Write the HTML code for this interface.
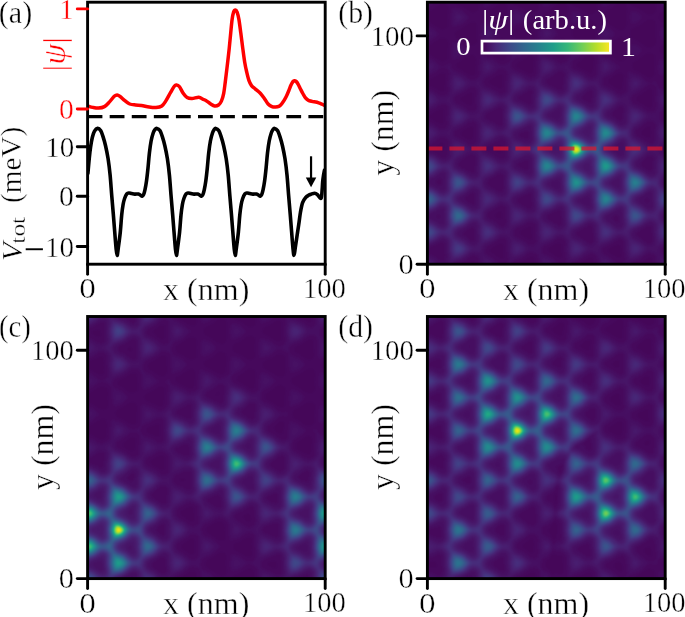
<!DOCTYPE html><html><head><meta charset="utf-8"><style>html,body{margin:0;padding:0;background:#fff;overflow:hidden}svg{display:block}text{font-family:'Liberation Serif',serif}</style></head><body>
<svg width="685" height="617" viewBox="0 0 685 617">
<defs><filter id="vf" x="0" y="0" width="1" height="1" color-interpolation-filters="sRGB"><feGaussianBlur stdDeviation="1.0"/><feComponentTransfer><feFuncR type="table" tableValues="0.2670 0.2770 0.2823 0.2829 0.2788 0.2706 0.2590 0.2450 0.2297 0.2143 0.1994 0.1856 0.1727 0.1607 0.1490 0.1378 0.1276 0.1206 0.1206 0.1323 0.1579 0.1966 0.2461 0.3041 0.3692 0.4401 0.5160 0.5958 0.6785 0.7624 0.8456 0.9261 0.9932"/><feFuncG type="table" tableValues="0.0049 0.0503 0.0950 0.1359 0.1755 0.2141 0.2515 0.2877 0.3224 0.3556 0.3876 0.4186 0.4488 0.4785 0.5081 0.5375 0.5669 0.5964 0.6258 0.6550 0.6838 0.7118 0.7389 0.7647 0.7889 0.8111 0.8312 0.8487 0.8637 0.8764 0.8873 0.8973 0.9062"/><feFuncB type="table" tableValues="0.3294 0.3757 0.4173 0.4534 0.4834 0.5071 0.5247 0.5373 0.5457 0.5512 0.5546 0.5568 0.5579 0.5581 0.5573 0.5549 0.5506 0.5436 0.5335 0.5197 0.5017 0.4792 0.4520 0.4199 0.3829 0.3410 0.2943 0.2433 0.1895 0.1371 0.0997 0.1041 0.1439"/></feComponentTransfer></filter>
<clipPath id="clb"><rect x="427.4" y="2.2" width="237.8" height="262.0"/></clipPath>
<clipPath id="clc"><rect x="87.6" y="316.5" width="237.6" height="262.1"/></clipPath>
<clipPath id="cld"><rect x="427.4" y="316.5" width="237.8" height="262.1"/></clipPath>
</defs>
<g clip-path="url(#clb)"><g filter="url(#vf)"><rect x="419.4" y="-5.8" width="253.8" height="278.0" fill="rgb(1,1,1)"/>
<g transform="translate(427.4,2.2) scale(0.5)">
<path fill-rule="evenodd" fill="rgb(4,4,4)" d="M-14 -14l506 0 0 554-506 0z"/>
<path fill-rule="evenodd" fill="rgb(6,6,6)" d="M-14 -14l34 0 4 3 6 2 6-1 7-4 12 0-3 6 1 6 1 3 4 3 14 5 12 9 6 2 8-2 3-2 1-4 0-14 1-12 35 0 6 5 6 1 6-2 7-4 9 0-2 2-1 6 1 6 3 4 17 7 12 8 6 3 6-1 3-3 3-2 1-6-1-16 1-8 35 0 6 4 6 3 2 0 6-3 6-4 7 0-2 2-2 6 1 6 2 4 4 3 14 5 12 9 6 3 4 0 5-2 4-4 2-2 0-6-1-12 1-12 35 0 8 6 6 1 8-4 4-3 7 0-2 2-2 6 1 6 2 4 3 2 17 8 12 9 6 2 4 0 5-3 3-4 1-2 0-6-1-12 1-12 35 0 0 21-8 7-12 5-5 3-2 2-1 6 2 6 2 3 16 7 8 6 0 22-8 6-15 7-3 3-1 4 1 6 2 2 16 7 8 7 0 27-8 6-10 5-3 2-1 4 2 6 3 2 11 6 6 4 0 35-15 9-2 4 0 2 3 4 14 9 0 41-12 10-1 2 2 4 11 7 0 48-3 5 1 2 2 3 0 123-11 6-2 4 1 2 12 10 0 32-40 0-2-12-1-12-1-4-4-1-2 1-12 7-16 7-2 2 0 6 1 4 4 2-23 0-6-2-4 0-5 2-45 0-3-26-3-3-4 0-27 15-3 2 0 6 1 4 4 2-23 0-8-2-7 2-45 0-2-12 0-14-2-4-4-1-4 1-14 8-10 4-4 4-1 2 0 6 1 4 4 2-21 0-9-3-2 1-5 2-45 0-4-20 0-2-4-2-2 1-24 11-2 4 0 2 1 4 3 2-80 0zM28 3l-16 11-17 8-2 2 0 6 1 4 4 3 14 7 12 8 6 2 6-2 4-4 0-6-1-14 2-16-1-4-4-3-2-2zM84 42l-12 9-14 7-2 2-1 4 1 2 1 4 3 2 12 5 12 8 6 1 6-3 3-5-1-14 1-16-2-6-3-2-4 0zM144 3l-12 10-12 5-4 4-2 2 0 6 1 4 3 2 14 7 12 9 6 1 6-2 3-5-1-16 2-18-2-6-4-3-4-1zM204 39l-14 10-13 5-3 3-1 7 1 5 4 2 12 5 12 9 6 1 6-3 2-5 0-18 1-12-1-4-2-4-4-2zM262 3l-12 10-12 6-5 3-2 2 0 6 2 4 3 2 16 8 12 9 6 1 6-3 3-5-1-16 2-14 0-6-4-6-6-3-2 0zM322 36l-16 11-9 5-5 2-2 4 0 6 2 4 2 3 16 7 12 8 6 1 6-4 2-5-1-14 2-18-1-4-2-2-4-3-2-1zM382 2l-16 12-12 5-4 3-2 2-1 6 1 4 4 3 14 7 16 11 6 1 6-2 3-6 1-6-1-14 2-16-2-6-3-3-6-2zM442 35l-4 2-12 9-17 8-2 4-1 6 1 6 3 2 16 8 12 9 6 1 8-2 3-4 2-2 0-6-1-12 1-18-2-6-4-4-3-1zM28 72l-16 10-12 6-2 2-3 4 0 2 1 4 4 2 12 6 12 8 6 2 6-2 4-4 0-18 2-12-2-6-4-3-2-1zM84 107l-12 8-10 6-3 3-1 2 1 4 3 2 10 5 12 8 6 1 4-1 2-3 1-28-1-3-2-4-4-1-2 0zM150 72l-6 2-12 9-12 6-2 1-1 4-1 2 2 3 2 3 12 5 11 7 5 2 2 0 5-2 2-2 1-4 0-14 1-12-2-6zM202 108l-12 9-8 3-3 4-1 2 2 4 5 2 18 10 5 0 3-4 2-24-1-2-2-4-2-1-4 0zM268 72l-4 1-12 9-14 8-2 4 1 2 3 4 10 4 12 8 6 2 5-2 2-4 2-26 0-4-2-2-4-4zM318 108l-8 8-8 4-3 3 0 3 3 4 20 10 2 1 4 1 2-4 3-24 0-2-3-4-2-2-4 0zM382 71l-12 10-16 7-2 4-1 4 2 4 4 2 13 6 12 9 6 1 6-3 2-3 0-16 2-18-2-3-6-4-6-1zM441 102l-3 1-12 10-14 7-2 6 2 6 2 3 12 5 12 8 6 3 4-1 2-1 4-5-1-14 2-18-1-5-4-3-2-2zM30 141l-2 1-12 7-12 6-4 5 0 3 3 3 13 5 12 7 2 0 4-1 0-3 2-24-1-6-1-1zM84 182l-17 10 0 4 3 2 12 7 6 1 1-2 1-2 0-16 0-2-2-3zM148 144l-4 1-18 11-2 4 1 2 17 9 2 1 4 0 2-6 1-16-1-3zM202 450l-13 6-3 4 0 2 3 4 13 7 2 2 4 0 1-7-1-14 0-4-4-1zM258 483l-14 8-2 1-1 4 2 2 19 12 2 1 4 0 1-3 0-4-1-19-4-3zM384 141l-5 3-16 12-1 4 2 2 20 13 4 0 1-3 3-24-2-4-2-2zM444 174l-5 3-19 13-2 2 1 4 3 2 20 12 2 1 4-1 1-2 2-24-1-6-2-3zM24 215l-18 11-2 2 2 3 18 11 4 1 2 0 2-5 0-22-2-2-2 0zM88 249l-4 1-14 8-3 4 1 2 4 4 10 6 6 1 2-2 1-5 0-16zM144 285l-7 3-4 4 0 2 3 4 8 4 4-2 0-8 0-6zM378 486l-13 6-3 4 1 3 4 3 14 8 3 1 3-3 0-4-2-14-1-4-2-1zM441 249l-9 7-3 2-1 4 7 6 7 3 3-1 1-14-1-6-1-2zM28 281l-4 2-6 5 0 4 2 2 8 4 2-2 3-10-1-4-2-1zM142 420l-6 4-1 2 1 4 8 4 4-2 0-12-4-2zM145 483l-16 9-3 4 1 2 17 13 4 2 2-1 2-2 1-2-2-22-1-2-2-2z"/>
<path fill-rule="evenodd" fill="rgb(9,9,9)" d="M-6 -12l2-2 8 0 2 1 7 5 3 2 1 4-7 7-6 3-6 1-4-2-1-7-1-6zM113 -14l8 0 5 2 5 4 3 2 1 4-5 6-4 2-6 3-6 1-2-5-2-7 1-6zM231 -14l8 0 5 1 5 5 3 2 1 4-5 6-4 3-12 3-3-6-1-6 1-6zM348 -12l2-2 8 0 2 1 7 5 3 2 1 4-7 7-6 3-6 1-4-2-1-7-1-6zM467 -14l8 0 5 2 5 4 3 2 1 4-5 6-4 2-6 2-6 1-2-5-2-6 1-6zM50 12l2-1 12 2 6 3 7 6 8 8-9 10-6 4-18 6-2-2-4-18 0-6zM170 16l2-2 8 1 6 3 6 4 6 6 1 2-7 8-6 4-14 5-3-1-1-3-2-13 1-6zM290 18l2-1 2 1 10 3 4 3 4 7-5 5-3 3-12 4-3-3-2-10 1-6zM408 18l4 0 8 2 6 4 4 6-5 6-5 4-6 2-6 0-3-12 1-6zM108 42l16 4 6 3 6 5 8 10-14 13-16 5-6 3 0-1-3-20zM226 46l2-3 12 3 6 3 8 5 8 10-10 9-6 4-17 7-3 4-1 6 1 6 3 2 5 4 12 4 16 10 2 2 6 0 9-4 3-4 3-6-1-14 3-12 1-3 10 2 8 4 12 11-12 12-14 8-3 4 0 4 1 6 4 4 16 6 14 10 7 0 5-2 2-4 1-2 0-16 3-14 0-7 24 9 12 10 9 6-5 2-16 13-12 6-2 3-1 2 0 6 2 4 5 2 12 6 12 9 2 1 7 0 5-4 2-2 0-18 3-16 0-6 1-1 6 4 16 5 6 4 8 8 6 3 6 0 6-3 2 2 3 8 3 4 6 2 14 6 8 7 0 17-8 7-16 7-2 4-1 4 1 6 2 4 4 2 12 5 8 6 0 25-6 5-14 8-3 5 0 2 2 7 15 7 6 5 0 30-14 11-2 4 0 2 2 4 14 8 0 44-12 8-3 2 0 4 2 2 13 10 0 36-6 4-14 7-3 3-1 4 0 4 4 4 12 6 8 8 0 16-6 6-26 0-3-12 0-18-2-2-3-4-8-2-6 2-8 7-6 4-16 5-2 3-5 9-1 1-10-3-6-1-6 3-10 8-26 0-3-12 1-14-1-4-2-3-3-3-6-2-6 2-16 10-14 6-4 2-2 4-4 7-14-4-6 2-12 9-26 0-3-12 1-14-1-6-2-4-5-2-6-2-6 2-12 9-15 5-5 4-3 2-5 8-12-3-6 3-12 10-26 0-3-12-1-15-2-4-6-3-6 1-12 9-18 8-4 4-1 4-1 8-4 0-12-5-6-1-6 2-6 4-32 0 0-382 3 8 5 4 18 7 15 10 7 0 6-3 2-6-1-16 3-18-1-6-3-4-4-3-6-1-5 2-9 8-7 4-11 4-6 3-2-1-3-20 0-6 5-14 12 2 6 2 5 4 9 8 6 3 6-2 10-5 1 2 2 8 3 4 5 2 13 5 14 10 6 2 4 0 6-4 2-3 2-4-1-14 3-18-1-10 1-1 6 6 18 6 14 11 4 1 6 0 8-5 5-6 0-6-1-14 3-12 3-3 14 5 16 12-4 3-11 9-13 6-4 4-2 5 1 7 2 2 3 4 16 6 14 8 6 0 5-2 3-4 0-2 0-16 3-14-1-8-4-4-5-4 12-9 1-3 1-6-2-12 0-6zM264 137l-2 2-12 9-11 6-2 2 0 4 2 2 5 4 8 3 10 6 6 1 2-2 1-2 3-28-1-2-3-4-2-1zM324 176l-6 4-9 10 1 2 3 4 11 5 4-1 0-2 2-9 1-9-1-2-2-2zM388 207l-4 1-2 2-13 12 0 4 3 2 10 7 6 2 2-5 3-18-3-5zM442 165l-16 12-14 8-3 5-1 4 2 4 2 4 14 6 16 11 6 1 6-2 3-4 1-6-1-16 2-12 0-6-2-6-7-4-2-1zM28 204l-16 10-14 6-5 2-2 6 1 4 2 2 4 3 14 6 12 9 6 2 6-2 4-6-1-18 2-14-1-6-4-3-2-2zM85 171l-13 9-14 7-4 5 0 4 1 2 3 4 14 6 12 9 6 1 4-1 2-2 2-5-1-14 2-18-3-5-2-2-4-1zM144 134l-14 11-12 6-4 2-2 7 2 6 4 2 12 5 12 8 6 2 6-2 2-4 1-5 0-12 3-16-2-6-4-3-4-2zM202 177l-18 11-2 2-1 2 3 4 18 8 2 1 4-3 2-22-2-4-4 0zM258 417l-18 9-1 4 1 2 4 4 18 10 2 1 4-2 1-3-2-22-3-4zM322 447l-22 12-3 3 1 4 4 2 8 5 12 8 2 2 4 0 3-3 2-6-3-22-2-5-4-1zM376 426l-5 4-1 2 6 6 6 3 1-3 0-2-1-8-4-2zM444 237l-6 3-8 7-12 8-2 3 0 4 1 2 3 4 10 5 12 9 6 1 5-3 1-4 0-14 2-16-2-6-5-2zM28 270l-16 11-9 5-3 2 0 4 1 2 5 4 10 4 12 8 6 1 3-1 3-4 2-26-2-6-4-3-6-2zM84 240l-12 9-15 7-2 2-1 6 2 4 3 2 13 6 12 9 6 1 6-4 3-6-1-14 1-16-3-5-2-2-4 0zM144 210l-25 12-2 3-1 3 0 4 3 2 25 13 4-1 2-2 0-4 0-26-2-3zM196 258l-11 4-2 2 1 4 14 6 4-2 0-2 0-8-2-4zM205 381l-21 9-4 4-1 2 1 4 4 2 20 12 4-1 1-1 1-6-2-22 0-1zM258 474l-8 6-16 7-3 3-1 2 0 6 1 4 3 2 16 7 12 10 6 2 2-1 5-2 3-6-3-18 1-16-2-4-6-4-4 0zM382 474l-12 8-17 8-2 2-1 6 1 3 3 3 12 7 12 9 7 3 3 0 2-2 4-3 2-4-3-18 0-12 0-4-3-4-2-2zM442 308l-12 10-3 4 0 2 2 4 13 8 2 1 4 0 2-7 2-18-2-3-2-2-4 0zM22 354l-5 4 0 2 3 4 4 1 4-1 0-10 0-1-4 0zM84 305l-19 13-2 4-1 2 2 4 2 1 24 13 4-2 3-28-1-2-3-4-3-2-2 0zM142 276l-10 6-13 6-2 4-1 2 2 4 4 2 10 5 12 8 6 1 4-2 3-2 0-4-1-26-2-4-4-2-2 0zM198 315l-16 7-2 2 0 4 5 2 8 4 5 1 3-1 2-6 0-10-1-2zM202 440l-10 6-15 7-3 4 0 6 0 3 4 3 14 7 12 9 6 1 4-2 3-4 1-2-2-18 1-12-3-6-4-2-2-1zM438 393l-2 3 2 4 4 0 0-6zM22 426l-2 0-1 4 3 1 2-1 0-4zM28 480l-26 12-2 3 0 3 2 4 14 7 8 7 4 1 2 0 4-1 1-2 1-6-2-25-4-3zM90 380l-2 2-8 6-3 2-1 4 2 2 4 4 8 5 4-1 0-2 1-14-1-6zM148 342l-4 1-19 11-4 4-1 2 0 4 2 2 20 12 6 2 3-2 1-6 0-12 0-12-2-4zM442 447l-22 13-3 3 1 3 3 2 9 6 8 7 6 2 4-1 2-4 1-6-3-24-4-1zM88 450l-15 10-1 2 1 4 4 2 11 9 2 1 4-1 1-3-1-21-2-3-2 0zM144 407l-21 13-3 4 0 2 1 4 2 2 13 7 11 9 3 0 4 0 2-3 2-3-1-16 0-12-1-3-2-3-6-2zM150 471l-6 3-12 8-12 6-2 2-2 6 1 6 2 2 13 8 12 10 6 3 4-1 3-2 3-2 2-6-3-18 0-18-3-5zM-7 48l1-1 10 1 6 3 6 4 7 9-9 8-4 3-6 3-10 2-1-2-1-3-3-12 1-5zM346 48l2-1 10 1 6 3 8 7 4 6-6 7-7 4-15 5-2-2-3-14 1-6zM467 52l1-2 4 1 8 3 5 4 4 6-5 6-4 2-6 3-6 1-2-6-2-6 1-6zM51 82l0-3 15 4 8 5 9 8-13 12-18 8-2-2-2-18zM408 84l4 0 8 2 6 4 4 6-5 6-4 4-13 4-1-4-2-10 1-6zM101 96l1-2 1 2-1 3zM464 114l2-1 2 0 12 3 7 4 5 8 0 3-1 1-7 8-6 3-12 4-3-3-2-14 1-6zM393 130l3-2 2 2-2 1zM399 136l1-2 0 2z"/>
<path fill-rule="evenodd" fill="rgb(11,11,11)" d="M54 18l4-1 8 3 7 4 3 6-5 6-5 4-6 2-6 1-2-7-1-6 1-6zM175 22l4 0 5 1 5 5 1 2-6 7-6 2-4-1-2-8 1-6zM113 52l1-2 4 0 8 3 6 5 3 6-4 6-5 3-6 2-6 1-2-4-2-8 1-6zM231 52l3-2 10 3 6 5 3 6-4 6-5 3-12 3-3-6-1-6 1-6zM-1 54l7 2 6 4 1 4-7 6-6 2-2-1-1-1-2-6 1-4 2-5zM353 54l5 1 2 1 5 4 2 4-7 6-6 2-2-1-3-7 1-6 2-3zM57 88l7 0 4 2 3 4 1 2-6 7-8 2-3-3-1-8zM174 88l4-1 6 2 5 5 1 2-6 7-10 3-2-10zM293 88l5-1 6 3 3 4 1 2-5 6-9 4-3 0-1-10 1-6zM226 112l3-3 15 4 6 3 8 8 6 4 6 0 10-4 2 2 4 6 3 4 17 6 6 4 10 7 6 3 8-3 5-3 2-2 2-6-2-16 4-12 1-1 6 1 10 3 7 7 4 6-9 9-6 4-8 3-5 4-1 4 0 6 2 7 6 4 16 7 12 9 2 2 6 0 8-3 5-6 1-6-2-14 5-12 1-2 4 1 11 3 7 6 4 6-5 6-5 6-16 6-4 4-1 8 3 9 2 3 4 2 14 7 16 12 6 2 8-2 1 1 1 6 2 2 0 3-2-3-4-3-4-1-6 1-6 3-12 11-12 7-2 6 0 6 2 5 16 8 12 10 6 1 7-2 3-4 1-2 1-3-2-19 3-12 0-6 1-2 4 2 18 7 8 8 0 13-8 8-16 6-3 4-2 6 1 6 4 6 15 7 9 7 0 20-6 5-12 7-2 4-1 4 0 3 3 5 18 10 0 35-6 5-12 6-2 3-1 5 1 2 2 3 10 5 8 6 0 27-8 7-17 6-4 6-1 6 2 6 2 4 18 8 4 4 4 6-3 6-7 6-7 2-9 0-4-12 1-14-1-6-1-4-4-2-9-4-6 0-4 1-9 9-9 4-18 5 0-1-5-18 0-20-2-4-4-2-7-2-6 1-12 9-16 6-5 6 0 10 3 6 16 6 6 5 5 7-1 2-8 8-6 3-3 1-9 0-4-12 1-14-1-6-4-6-10-4-6 0-2 1-12 9-6 4-18 5-2-1-1-2-4-18 1-19-4-5-8-5-6 1-16 10-16 6-4 2-2 4-2 5-2 1-6-3 6-5 3-8-3-18 1-18-2-2-2-4-5-2-4-2-6 1-12 9-15 6-5 4-1 2 0 10 1 2 3 4 17 7 12 11 5 2-19 16-8 3-12 2-4-11-1-6 2-16-1-6-2-2-2-3-6-2-6 0-16 11-18 9-1 3-2 6 0 6 1 2 2 4 16 7 9 11-4 6-9 7-5 1-10 0-4-12 1-14 0-4-2-2-3-4-9-3-6 2-16 11-18 7-4 5-4 6-16-4-6 2-13 10-21 0-4-12 2-18-2-5 0-222 2-7-2-12 1-8 3-12 2-3 18 5 6 4 8 8 6 2 6-1 5-3 3-4 1-6-2-18 2-18 0-2-3-6-6-4-2-1-6 1-18 13-18 5-2-2-2-10-2-8 1-6 4-12 1-2 2 0 12 3 6 3 12 10 6 2 4 0 6-3 5-5 2-2 0-6-2-12 0-6 4-16 3-2 12 3 6 2 18 14 6 1 8-5 4 0 1 9 5 4 18 7 14 10 6 0 7-3 3-4 1-2 0-18 5-23 20 7 16 10 2 1 6 0 9-5 4-6-1-18zM262 132l-12 11-16 7-2 4-1 6 1 2 3 4 17 7 12 7 4 1 6-3 1-4 1-14 3-18-3-7-6-4-2 0zM324 170l-14 12-8 4-2 4 0 2 3 4 21 12 4 1 2-1 3-4 4-26-1-4-3-2-5-2zM388 201l-6 3-10 8-10 8-2 3 0 3 3 2 13 8 8 6 4 2 2 0 4-2 2-4 0-10 2-18-1-2-2-4-5-2zM442 303l-21 15-2 4-1 2 2 4 23 14 5 2 2-1 4-3 3-30-1-4-6-4-6-1zM28 264l-16 12-15 6-3 4-1 6 1 2 4 4 18 8 12 8 6 2 7-4 3-2 1-4 0-12 2-18-2-6-5-4-6-3zM84 165l-12 11-6 3-12 4-2 2-3 5-1 6 2 6 3 2 17 7 14 11 6 2 5-2 4-2 3-6-1-18 2-22-2-6-5-4-6-1zM148 204l-4 1-14 9-15 6-3 2-2 6 1 6 3 4 16 6 14 9 4 0 2-1 4-4 0-4-1-16 1-18-1-2zM202 171l-12 9-12 6-3 4 0 2 1 4 3 2 11 5 14 8 4 0 2-1 2-2 3-30-1-4-4-3-2-1zM262 216l-12 6-3 4 2 2 7 4 6 1 2-5 1-8-1-4zM318 390l-8 4-3 2 2 4 4 2 5 4 4 1 1-1 1-4-1-6-1-5zM324 441l-14 9-15 6-3 4-1 6 3 4 16 7 12 10 6 2 6-3 2-4 1-4-2-16-1-14-4-5-2-2zM384 282l-7 6-2 4-1 2 1 4 3 2 6 5 4 0 2-1 1-4 1-14-1-4-3-1zM444 381l-2 1-14 8-3 4-1 2 2 4 12 9 6 3 4-1 1-3 1-2-2-22-1-3zM30 342l-2 1-23 15-1 2 3 4 21 10 2 1 4-3 1-24-1-4zM88 234l-4 1-12 9-19 8-3 4-1 2-1 6 2 6 4 4 16 5 12 10 6 2 6-1 6-4 2-4 2-6-2-14 2-16-2-5-2-3-4-3-6-2zM142 270l-12 9-16 7-2 2-1 6 0 3 3 4 16 7 14 10 6 1 8-3 2-4 1-2 0-16 0-14-1-4-3-2-5-4-4-1zM202 249l-24 11-3 4 0 4 2 2 21 11 4 0 4-1 2-3 0-3-1-22-3-3zM258 357l-8 3-2 4 2 2 5 4 7 2 1-2 0-6-1-6zM382 417l-20 9-3 4 0 2 2 4 17 12 6 1 4-1 1-4 0-6-2-18-3-3zM444 441l-2 1-16 10-12 5-2 4-1 5 1 2 2 2 12 7 12 10 6 2 6-2 4-3 1-6-2-16 0-14-3-5-2-2zM28 414l-19 10-4 2 0 4 3 2 20 11 2 0 1-1 1-6-1-19-1-2zM84 299l-12 10-12 7-2 3-1 5 1 4 3 2 15 8 12 8 6 2 3-2 2-4 0-14 2-18-3-6-4-4-6-2zM144 338l-12 8-14 8-3 4 0 6 3 6 14 7 11 7 5 2 2 0 4-2 3-6-2-18 2-14-1-4-2-3-4-2-2 0zM196 309l-20 9-2 4 0 6 1 2 5 4 12 4 9 5 3 0 4-3 0-28-4-3-2-1zM262 411l-10 5-16 8-3 2-1 4 1 2 1 4 16 7 9 7 5 2 6-2 4-5 0-3-2-12-1-16-1-2-2-2-4 0zM30 474l-2 1-16 9-14 6-3 2-2 6 1 4 3 2 15 8 12 10 6 2 4-1 4-3 2-4 1-6-3-14 0-16-2-3-2-2zM90 374l-22 16-2 4 3 2 19 14 6 2 2-1 3-3 1-2 1-24-1-4-2-2-4-2zM144 402l-12 9-12 7-3 2-1 4 0 6 1 2 3 4 12 6 12 9 6 3 4-1 6-3 2-6-1-18 1-14-2-5-6-4-6-2zM202 377l-10 6-12 5-5 2-2 4 0 6 2 2 3 2 12 6 12 8 6 1 3-1 3-3 1-3-2-30-3-5-2-1zM88 444l-10 7-14 9-1 2 1 4 12 7 12 10 6 1 5-4 1-3-1-17 0-12-3-4-2-2zM111 114l3 0 12 3 6 4 8 9-10 10-6 3-12 4-2-3-3-14 1-6zM-5 118l3-1 2 0 10 3 4 4 4 6-9 8-5 3-6 1-2 0-2-1-1-5-1-6 1-6zM471 120l4 1 5 3 3 2 2 4-6 6-7 2-4-2-1-6 1-7zM465 180l3 0 12 3 6 4 6 9-4 6-4 4-6 3-12 4-2-3-3-14 1-6zM228 510l0-2 12 4 7 3 10 11-1 2-6 7-6 4-5 1-9 0-3-6-1-6 0-6z"/>
<path fill-rule="evenodd" fill="rgb(14,14,14)" d="M58 24l2 0 4 0 4 4 1 2-2 4-4 1-3 1-2-1-2-5zM117 58l1-1 2 0 4 1 3 2 1 4-4 4-6 2-3-6zM235 58l3-1 3 1 4 2 1 4-2 2-4 3-2 0-3 0-2-5zM230 114l2 0 6 0 8 4 6 5 6 7-12 11-14 6-4 3-1 4 0 6 3 6 4 2 12 5 18 11 5 0 5-2 4-4 1-4 0-18 4-14 1-4 2 0 20 7 18 14 6 1 10-2 5 10 3 4 18 7 16 12 6 4 4 1-4 0-6 3-12 12-12 8-3 3 1 4 2 3 14 8 12 9 6 1 4-1 4-2 1-4 0-14 3-12 0-7 22 7 6 4 9 10-13 13-14 9-3 6 0 8 3 6 14 9 16 12 6 2 8-2 2 3 0 4-2 1-6-3-2 0-6 2-12 11-14 9-2 4 0 2 2 4 3 2 13 8 11 8 5 1 6-1 3-3 1-3 0-16 3-12 0-6 1-1 6 3 16 6 8 8 0 11-8 9-12 7-2 3-2 6 1 6 3 3 14 8 6 5 0 28-6 5-15 7-2 4-1 6 0 3 4 4 12 6 8 7 0 20-8 7-18 7-6 4-2-2 1-8-3-16 0-18-2-2-4-3-6-1-2 1-16 10-15 7-3 4-1 6 1 2 2 4 16 8 15 12-11 11-6 4-6 3-12 2-2-2-4-12 0-20-4-6-6-4-6-2-2 1-18 11-16 6-6 3-1-1 0-8-3-16 0-14-1-4-3-3-6-2-4-1-2 1-16 10-12 5-4 2-2 4-1 6 1 2 2 4 16 7 17 13-17 15-6 3-12 2-2-3-4-11 0-6 1-14-2-6-11-8-6-1-6 2-8 8-6 3-16 4-2-2-3-16 1-14-1-6-3-6-6-4-6-2-6 1-16 11-15 5-3 2-2-1-2-18 1-16 0-6-2-2-3-4-6-3-6-2-6 3-12 9-12 6-3 3-2 2 0 10 1 4 4 3 14 8 16 12 2 1 6 0 6-3 1 1 0 6-3 1-6-2-4 1-6 3-8 8-6 4-17 6-3 3-2 4-2 10-10-2-6 0-6 4-12 9-20 8-6 4-2-3 0-9-3-15 0-16-1-2-4-5-6-2-6 3-12 7-18 7-4 4-4 7 0-210 2 3 4 6 4 2 14 5 6 3 12 9 6 2 8-3 4-4 2-2 1-4-1-14 4-13 2-1 10 2 6 3 13 11-11 10-14 8-3 4-2 6 1 6 2 2 4 4 12 5 18 12 4 0 6-2 2-3 1-4-1-14 2-22-2-5-5-7 5-3 2 1 2 6 2 2 3 4 19 7 14 11 6 1 9-4 4-3 2-6-2-16 2-14-3-6-4-4-8-4-6 0-2 1-16 10-12 4-6 4-1-3 0-6-2-14 2-16 0-6 1-2 6 4 16 5 11 9 3 1 6-1 4-2 2-4 1-4-2-18 2-18-2-6-5-3-2-1-6 2-12 9-18 6-6 5-2 4 0 6-2 0-6-4 8-6 2-6 0-6-2-14 4-22 0-1 18 6 18 11 4 1 6-2 6-4 4-5 1-6-1-14 4-16 4-1 6 1 8 3 13 9 5 3 4 0 6-1 8-6 4-4 1-6-1-16 1-6zM262 210l-20 12-2 4 1 2 4 4 13 6 6 1 3-5 2-20-1-4-4-1zM328 165l-6 3-12 10-12 7-3 5 0 2 3 4 14 7 12 8 4 1 6-1 2-3 1-16 3-14-1-6-3-4-3-2zM391 276l-3 1-5 3-15 12-1 2 2 4 12 8 3 3 4 1 2 0 4-3 1-3 1-22-2-4zM442 378l-12 8-8 4-4 4 0 2 2 4 12 7 10 8 6 0 2-1 3-6-1-14 0-12-2-5-2-1zM28 339l-12 9-14 6-3 4 0 2 2 4 15 7 12 7 2 1 4 0 3-3 1-30 0-4-3-2-5-2zM88 372l-12 10-12 7-2 1-1 4 2 3 13 7 12 9 2 2 6 0 6-3 1-4 0-14 1-16-2-3-2-3-4-1-2-1zM148 333l-6 3-12 9-14 7-4 6 0 6 1 6 3 2 14 6 12 10 6 2 6-1 2-3 3-4 1-3-2-19 1-18-3-6-5-2zM204 165l-6 4-8 7-16 8-2 2-1 6 1 4 2 3 16 6 13 9 5 1 2-1 4-2 1-4 1-16 2-14-2-6-2-4-4-2zM256 293l-3 1 3 2 2-1 0-1zM262 351l-16 7-5 2-1 4 1 2 21 12 2 1 4-3 0-11-2-11-2-3zM318 258l0 2 4-2zM382 351l-11 7-3 2 0 4 4 2 10 6 2-1 1-7-1-11zM28 410l-16 9-10 5-3 2 0 4 2 2 15 7 12 8 2 1 4-2 2-4-1-28-1-3-4-2zM88 441l-12 9-14 6-3 4-1 2 1 4 2 2 15 8 12 10 6 2 6-2 3-6 1-6-3-14 1-12-2-6-4-3-2 0zM202 245l-10 5-18 8-2 4-1 6 1 2 2 4 12 4 12 7 4 0 6-3 2-4 1-4-1-28-2-2-4 0zM262 408l-12 7-15 5-4 3-2 3-1 6 1 4 3 2 14 7 12 9 6 3 6-2 4-3 2-4 1-6-2-12 0-12-1-6-3-4-3-1zM322 384l-21 10-1 3 1 3 4 2 15 10 4 1 3-1 1-4 0-10-3-14zM382 413l-10 5-16 8-2 4 0 2 1 4 3 2 8 4 12 10 6 1 4-1 2-2 3-6 0-2-3-28-2-2-4 0zM196 306l-10 5-12 5-3 2-1 4 0 6 1 2 3 4 16 6 12 7 2 1 4-1 3-5-1-31-2-4-4-2-2-1zM204 372l-15 9-15 7-3 2-2 4 0 6 3 5 2 2 16 6 12 10 6 0 5-3 3-2 1-4 0-6-1-12 0-14-1-4-2-2-3-2zM114 120l0-1 4 0 6 1 5 4 5 6-8 7-6 3-6 0-2-4-1-6zM350 120l2-1 8 1 5 4 4 6-5 6-6 3-6 2-3-3-1-6 0-6zM-1 124l1-1 4 0 2 2 3 1 1 4-4 4-2 1-4 1-2-4-1-2 1-4zM53 148l1-1 6 1 9 2 4 4 8 8-9 9-6 4-12 4-2-1-4-16 2-8zM409 154l3-2 8 2 4 2 4 6-4 6-4 3-8 3-4-1-2-11zM-6 180l6 0 10 3 6 5 6 8-9 8-3 3-6 3-10 1-3-7-1-8 0-6zM468 186l0-1 4 0 6 1 5 4 4 6-7 7-6 3-6 0-2-4-1-6zM49 210l2-2 15 5 7 3 11 10 5 2-5 2-14 13-18 6-3-3-3-14 0-10zM-6 246l6 1 9 3 5 2 9 10-9 8-4 4-16 5-2 1-3-18 1-6zM465 246l1-1 2 1 12 3 6 5 6 8-4 6-4 4-6 3-12 4-2-3-3-14 1-6zM105 288l1 0 0 1zM165 450l1 0 0 1zM169 478l3-2 14 5 6 5 6 6-1 4-6 6-5 3-6 2-8 2-4-6-2-7 1-7zM339 490l1-2 0 3zM-9 508l15 5 6 3 10 10-1 2-9 8-6 3-3 1-9 0-3-6-1-6 0-6 2-12zM113 516l1-2 12 4 7 8-1 2-2 4-6 3-6 2-4-1-2-8zM232 516l2-1 10 3 2 2 5 6-1 2-6 7-10 2-2-3-2-6 0-6zM349 516l3-1 6 1 6 3 5 7-1 2-8 7-8 1-2-2-2-6 0-6zM467 516l1-1 4 0 8 4 7 7-1 2-3 4-5 3-6 2-4-1-2-4-1-6z"/>
<path fill-rule="evenodd" fill="rgb(17,17,17)" d="M233 118l5 0 6 1 5 5 4 6-5 6-4 2-12 5-2-1-2-12 2-10 2-2zM117 126l1-1 2-1 5 2 2 4-3 3-4 1-2 0-2-4zM353 126l1-2 4 1 3 1 2 4-3 2-6 3-1-3zM285 144l1-1 2-1 16 4 7 4 12 12-13 13-15 9-2 2-1 4 2 5 3 3 15 7 12 9 4 1 5-1 4-4 2-2 1-18 4-16 2 0 18 6 9 6 8 10-11 12-14 8-2 4-1 6 1 2 3 4 15 7 12 9 4 2 6 0 5-4 2-2 1-4 0-14 4-13 2-1 4 1 11 3 7 6 5 6-9 10-14 8-3 4-2 6 0 8 1 6 4 3 14 8 15 13-14 15-13 7-2 6 0 2 3 6 15 8 14 10 4 2 6-2 4-2 2-4 1-2 0-16 3-12 2-1 8 2 7 3 5 3 6 8-1 3-5 6-6 5-9 4-3 3-1 4-1 6 2 8 3 4 15 7 6 5 0 24-8 6-12 5-4 3-2 4-1 6 1 6 3 2 15 7 8 9 0 13-1 1-5 5-6 3-18 5-4-19 1-14-1-6-3-4-5-2-6-1-2 1-16 11-15 7-4 2-2 4-1 6 1 6 3 3 16 6 11 11-4 6-7 7-6 2-10 2-2-3-3-8-1-6 1-14 0-4-3-4-12-6-6 0-4 1-14 11-18 5-2-3-4-12 0-18-1-4-3-3-6-4-6-1-2 1-16 10-17 7-5 6-2 7-11-8 3-1 3-4 1-4 1-6-2-14-1-17-2-5-3-3-7-1-2 1-12 8-20 7-3 4-3 8-2 2-10-8 4-4 3-4 1-4-3-18 1-18-2-2-3-4-5-2-4 0-18 11-12 3-5 4-2 2-5 9-9-5 3-2 4-4 2-6-2-22 2-18-2-7-4-3-6-3-6 2-14 12-16 6-3 2-2 7 0 8 3 6 4 4 14 5 12 11 4 2-16 13-16 7-2 4-1 2 0 12 3 6 18 9 13 13-9 10-10 6-13 4-5 3-1-3-3-18 1-18-1-2-3-4-5-2-2 0-6 2-16 12-12 5-4 5 0 6 2 3 14 8 16 13 6 2-6 4-12 11-6 4-6 2-16 3-5-18 0-20-3-6-6-3-6 0-16 10-6 3-12 3-6 3-2-2 0-186 2-1 9 5 13 3 6 3 12 10 2 1 4 0 6-1 8-6 3 2 0 6 1 6 4 6 16 7 16 11 2 1 4 1 6-2 2-2 3-4-1-22 4-18 18 5 6 4 10 8 6 3 6 0 8-4 4-4 0 6 1 6 5 5 18 7 12 8 2 1 4-1 3-2 2-6-1-14 1-16-3-5-2-3-6-3-4 0-12 7-13 4-5 3-2-21 2-14-1-6-5-4-12-7-6-1-2 1-12 10-6 3-12 2-2-2-3-14 1-9 4-8 14 4 12 9 6 3 6-1 6-5 3-5 1-4-3-18 3-18-1-2-3-6-2-3-6-2-6 1-10 8-6 4-15 4-2-3-2-7-1-8 1-6 2-10 3-2 12 2 6 4 12 8 2 2 6 0 10-5 6-5 2-6-2-18 4-12 2-2 12 3 6 3 12 10-15 12-15 7-4 5-1 4 1 6 2 2 4 4 15 6 15 9 6 0 5-3 2-4 0-18 3-14 0-7-6-9 6-3 2 0 4 7 3 2 21 9 12 8 2 1 6-1 6-3 4-4 1-4 0-14zM322 248l-13 10 0 4 3 2 10 5 2 0 1-1 3-16 0-3-4-2zM384 275l-20 17-1 2 1 4 18 12 5 2 4 1 5-3 1-4 2-24-2-6-3-2-4 0zM442 375l-12 9-13 6-2 4-1 2 4 5 12 7 12 9 6 1 2-1 4-2 1-3-1-18 0-16-1-2-3-2-2-1zM28 336l-16 12-15 6-2 4 0 2 2 4 3 2 12 5 16 10 6 1 4-4 1-2 0-16 1-18-1-2-3-4-2-1zM90 368l-2 2-12 10-15 8-2 2-1 4 1 2 4 4 13 6 12 10 4 2 4 0 7-4 3-2 1-4-2-14 2-16-1-4-4-3-6-3zM202 242l-12 8-16 6-4 2-2 4-1 6 0 2 5 6 14 5 12 7 4 0 6-3 3-3 2-6-1-14 0-16-1-2-3-3-4 0zM262 207l-12 8-10 5-3 2-1 4 1 2 3 4 24 11 4-1 2-4 2-25-2-4-2-3-4 0zM322 321l-8 3-3 4 0 2 3 4 8 4 2 0 1-4-1-10zM382 347l-17 11-3 2 1 4 4 2 15 10 2 1 3-1 1-4 0-20 0-4-4-2zM28 407l-12 8-19 8-2 3 0 4 2 2 3 3 12 5 12 9 6 2 4-1 2-2 2-4-1-18 0-12-1-4-2-3-4-1zM258 285l-13 7-2 2 2 4 13 6 4 0 2-2 1-14-2-2-1-1zM322 380l-22 11-3 3-1 2 0 4 4 2 10 5 9 7 5 2 4-1 3-3 0-6-3-24-4-3zM382 410l-12 8-16 7-2 4-1 3 1 4 2 3 12 6 12 10 6 2 4-1 3-2 3-4 1-6-2-14-1-16-2-3-2-2-4 0zM262 348l-22 10-3 2-1 4 1 2 3 4 10 4 12 8 2 0 4-1 2-3 1-5-3-25-4-1zM57 150l7 1 4 3 4 3 4 5-5 6-5 4-6 2-6 1-2-9 0-7 2-8zM412 160l2-3 4 1 2 2 2 2-3 4-5 2-2-2zM-3 184l7 0 5 2 4 4 4 6-5 6-4 2-4 2-7 1-3-3-2-8 3-9zM471 192l1-1 2 0 4 1 3 4-3 3-4 1-2 0-1-4zM52 214l2-2 12 3 7 5 9 8-9 10-7 4-12 3-2-1-3-9-1-7 1-6zM468 250l6 0 6 2 4 4 4 6-4 6-4 3-12 3-2-4-2-8 1-6zM-6 252l4-2 8 1 6 4 6 7-6 6-6 4-8 2-3 0-2-6-1-6zM54 282l6 1 6 2 6 3 5 6-7 9-14 7-4 5-2-3 2-6-1-12zM168 408l18 6 16 12-16 13-14 5-3-2-3-12zM227 442l1-2 4 2 13 6 16 12-15 12-5 2-9 2-4-2-3-12zM288 474l18 8 11 10-2 4-5 6-6 4-10 2-2 1-4-1-3-10-1-6 2-14zM171 484l1-2 2-1 11 3 4 2 5 6-1 4-3 3-6 4-6 2-5-1-2-2-2-6 1-6zM-3 514l7 1 6 3 7 8-1 2-4 4-2 3-6 2-7 1-4-6-1-6 1-6 1-5zM117 522l1-1 6 1 3 4-2 2-5 3-2-1-2-4zM235 522l3-1 3 1 3 4-1 2-5 3-3-3-1-2zM353 522l1-1 6 1 2 4-1 2-3 3-4 0-1-3zM471 522l1 0 2-1 4 1 2 4-1 2-5 3-2-1-1-4z"/>
<path fill-rule="evenodd" fill="rgb(19,19,19)" d="M233 124l1-3 6 1 6 4 3 4-6 6-9 2-2-6 0-4zM286 148l2-3 10 1 6 2 7 6 8 8-12 12-11 6-4 4-2 6 1 6 3 2 16 7 14 11 4 0 6-1 3-1 3-4 2-6 0-12 4-13 2-2 10 2 6 3 6 4 8 10-11 12-11 6-3 2-2 4 0 5 4 7 15 7 14 11 4 2 6 0 5-2 4-3 2-7-1-14 2-6 2-5 6 1 6 2 7 4 4 6-7 9-16 8-3 7 1 16 2 6 4 2 14 7 11 11-11 12-14 10-2 2 0 6 2 5 2 3 12 6 16 11 6 3 8-2 4-2 2-4 2-4-1-16 3-7 2-3 6 1 6 3 5 4 5 6-4 5-3 3-12 6-4 4-2 2-1 6 1 10 3 6 5 2 11 5 8 7 0 19-8 8-16 7-3 2-2 6 0 6 2 6 4 4 15 6 3 2 5 7 0 6-4 5-4 4-10 4-9 2-3-6-2-10 1-14 0-6-5-6-8-3-6 1-16 12-19 8-3 2-4 10-12-6 2-2 5-4 1-4 1-6-3-14 1-16-1-3-4-3-6-1-2 1-12 8-17 8-3 2-1 6 0 4 3 4 14 8 12 10 4 2-18 14-6 2-10 2-2-2-4-10 0-22-2-2-3-4-7-3-6-1-3 1-15 10-16 6-8 5-1-2 0-10-3-14 0-18-2-4-6-4-6-2-2 1-16 10-15 5-9 5 0-3 0-8-3-16 1-18-4-5-6-4-6-1-2 1-12 8-18 6-6 3-2-2 0-6-3-18 3-18 0-6 2-2 6 4 18 6 12 8 6 1 2-2 4-3 1-6-2-14 1-16 0-4-4-4-6-4-6-1-2 0-12 7-12 4-4-16 4-15 12 4 12 7 2 1 6-2 6-4 4-4 0-5-1-14 1-16 0-3-3-4-3-1-4 1-14 9-21 8-3 2-4 7-5-3 3-6 2-6-3-22 2-20-1-7-4-5 4-4 2 0 5 6 5 4 18 7 14 10 6 0 6-4 3-5 0-18 3-14 0-10 24 9 16 10 2 1 6-1 8-3 3-4 2-2 0-18zM324 243l-17 13-3 2 0 4 3 2 15 9 2 1 4-2 0-2 2-20 0-4-2-2zM384 273l-12 10-12 8-1 3 2 4 11 7 10 7 6 3 2-1 6-2 4-6 1-26-1-4-3-2-3-2-6 0zM444 371l-14 11-16 8-2 4 0 2 1 4 3 2 14 8 12 10 6 1 2-1 5-2 2-4 1-2-2-18 1-16-1-2-3-4-5-1zM262 204l-12 9-13 7-3 3 0 3 0 2 4 4 14 7 10 5 2 1 4 0 2-1 1-3 2-31-1-2-3-4-5 0zM318 318l-10 6-3 4 0 2 17 12 2 1 4-1 0-2-1-18 0-4-3-2zM382 345l-12 8-9 5-3 2 1 4 3 2 8 4 12 9 2 1 4-1 2-3 0-16 0-12 0-2-2-3-4 0zM258 282l-18 10-2 2 2 4 18 9 6 2 3-3 1-2 0-20-1-2-3-1zM322 378l-12 7-13 6-3 3-1 2 0 4 3 2 14 8 10 8 4 1 4-1 2-2 2-4-1-16 0-14-2-4-1-1-4 0zM262 345l-9 5-16 8-3 2-1 4 1 2 2 4 14 6 12 8 2 1 4-1 2-2 2-4-1-26-1-4-2-3-4-1zM172 150l2-1 10 2 6 4 6 7-10 10-14 6-4-16 1-6zM56 156l2-2 6 1 6 4 2 3-6 6-6 3-2 0-2-3-2-5zM111 184l1-2 2-1 10 1 7 4 10 10-15 11-8 3-6 0-3-8-1-6 1-6zM-3 190l1-2 2-1 4 1 6 3 3 5-7 6-6 2-2-2-2-6zM54 216l0-1 4 0 8 3 6 4 6 6-6 7-6 4-6 2-6 0-3-7-1-6 1-6zM112 250l2-2 6 1 6 2 12 11-12 10-6 2-6 1-2-3-2-8 0-6zM-3 256l1-2 2-1 4 1 6 3 3 5-7 6-6 2-2 0-3-8zM469 256l3-3 6 1 2 2 4 6-5 6-7 2-4-2 0-4zM56 288l2-2 6 1 3 1 5 6-6 7-8 4-2-1-2-6 0-6zM-12 304l22 5 6 3 12 10 2 1 6 0 10-3 1 2 4 8 2 4 5 2 14 6 18 14 4 1 6-1 5-4 2 2-1 13-10-2-6 1-18 14-12 6-2 2-2 2 1 6 2 4 17 8 12 10 6 2 6 0 6-4 3-4 0-6-1-12 2-16 2-2 12 5 6 3 10 10-10 10-17 8-3 2-2 6 0 12 3 6 4 4 15 6 6 5 5 7-4 6-6 6-11 4-8 3-2-1-4-16 1-14 0-6-5-6-6-2-2 0-5 2-13 10-17 8-5 4-1 4 1 7 4 3 14 7 15 13-11 12-10 6-14 4-3-3-5-15 1-18-3-6-8-5-4 0-5 1-9 8-6 3-18 5-4 0-2-11 0-158zM30 333l-6 3-12 10-14 6-4 2-2 4 0 2 1 4 3 2 16 7 13 9 5 2 6-2 4-3 1-7-1-14 3-16-1-2-2-4-4-3zM28 405l-16 10-14 6-4 3-1 2-1 4 1 2 3 4 16 6 12 9 6 2 6-2 3-3 1-4-2-18 1-14-1-4-3-2-5-2zM109 312l3-2 14 4 6 3 12 11-14 12-16 6-4 2-2 3-1-3 1-6-2-14 0-6zM171 414l1-1 2 0 10 3 6 3 6 7-4 6-6 5-8 3-6 0-3-8-1-6zM230 448l2-2 12 3 6 4 5 7-4 6-7 5-6 2-6 0-3-5-1-6 0-6zM289 480l3-1 8 2 5 3 3 2 5 6-1 4-8 7-6 2-6 1-4-4-1-6 0-6zM406 480l2-2 15 6 3 2 5 6-1 4-6 6-4 2-6 2-6 0-2-4-1-6 0-6zM174 486l0-1 4 0 6 1 5 6-1 4-3 3-4 2-3 0-4-1-2-8zM-3 520l1-2 2 0 7 2 6 6-2 2-2 4-5 2-4 0-2-1-2-7z"/>
<path fill-rule="evenodd" fill="rgb(22,22,22)" d="M237 126l1 0 2 0 3 4-3 2-2 1-2-3zM290 148l8 0 6 2 8 6 4 6-10 11-14 7-3 4-1 6 1 6 2 2 3 2 16 7 14 10 4 1 6-1 6-3 2-4 1-2 0-12 1-6 2-6 2-4 12 2 6 4 4 4 5 6-2 2-7 7-12 7-4 4-1 6 3 8 5 4 9 4 6 4 10 8 6 3 6 1 8-3 2 17 2 6 2 3 16 6 5 5 5 6-8 10-14 8-2 4-2 2 0 6 3 6 4 4 15 7 14 11 6 1 10-2 2 1 1 12 3 6 3 2 15 7 8 8 0 14-8 8-15 5-5 4-3 6-1 10-10-3-6 0-6 3-11 10-7 3-12 4-5 3-3 3-1-1-1-2 1-10-3-14 0-16 0-2-2-4-5-2-5-1-18 12-14 6-4 3-1 4 0 6 1 4 4 2 14 8 10 10-10 10-6 3-6 2-6 0-1-1-3-12 0-18-1-3-7-5-8-3-6 0-16 11-20 6-3-2-3-16 0-21-1-3-5-5-6-2-6 0-16 10-20 7-6-22 1-18-1-4-4-3-6-4-6-1-6 3-12 8-18 5-2-4-3-12 0-12 3-12 2-3 18 5 16 10 2 1 5-1 5-3 1-3 1-6-2-14 2-16-2-6-2-2-8-6-6-2-6 2-8 6-10 2-2-2-2-10 2-8 2-3 10 2 9 7 5 1 6-2 8-5 2-4 2-6-2-14 1-18-1-4-4-3-6 0-18 11-15 4-5 3-3-3-3-24 4-26 2-1 5 3 15 5 18 12 4 0 5-1 5-4 2-2 1-4-1-17 6-21 20 6 16 11 2 1 6-1 10-4 4-5 1-6 0-14 2-10 1-2zM322 243l-10 7-9 6-3 2 0 4 3 2 19 12 2 1 4-1 2-2 0-3 2-25-2-3-2-2zM388 270l-6 4-12 10-9 4-3 4-1 2 1 4 4 2 8 4 12 10 6 2 6-1 4-3 3-2 1-4 0-12 1-12 0-6-3-4-6-2zM444 369l-14 12-16 7-2 3-2 5 1 4 2 2 13 7 16 13 6 1 2 0 5-3 4-6 0-6-2-14 2-16-2-6-3-2-4-1zM264 201l-6 3-8 7-16 8-2 3 0 4 2 6 4 2 11 5 15 8 4 0 2-2 3-5 0-12 2-18-1-4-4-3zM322 314l-18 10-3 4 0 2 21 14 2 2 4-1 2-3 0-2-1-22-1-4-4-1zM384 341l-14 10-12 7-2 2 0 4 3 2 11 6 12 9 2 1 4 0 2-3 2-3 0-4-1-12 1-14-2-4-2-1zM262 279l-10 5-12 5-3 3-2 2 1 4 4 2 24 11 4-1 1-4 0-24-1-3-4-1zM324 375l-14 9-16 6-2 4-1 2 1 4 2 4 12 6 12 9 6 2 4 0 2-2 4-4 0-3-2-16 0-14 0-4-3-2zM264 342l-14 8-16 7-2 3-1 4 1 3 2 4 12 5 13 8 5 3 6-3 4-4 0-4-2-12 0-16-2-3-2-2zM173 154l1-2 4 0 6 2 4 2 5 6-6 6-3 3-10 3-2-2-1-10zM60 160l4-1 2 3-2 3-4 1-1-4zM114 184l6 0 6 2 5 4 6 6-11 9-6 2-6 1-2-5-2-7 1-6zM2 192l2 0 3 4-3 2-4-1 0-4zM55 220l3-2 8 2 4 2 4 6-4 6-4 2-8 3-4-3-1-4 0-6zM409 219l3-1 7 2 5 2 4 6-4 6-4 3-12 5 0-2-2-12zM114 252l0-1 4 0 6 1 5 4 5 6-5 6-5 2-6 2-4-1-2-9zM0 258l4 0 3 4-3 2-4 1 0-3zM473 258l3 0 3 4-5 3-1-1-1-2zM59 292l1-1 4 0 3 3-2 4-5 1-1-1-1-4zM-10 306l2 0 8 1 10 3 6 4 8 8 6 3 6 1 8-2 2 1 4 9 4 2 18 8 16 12 6 3 5 1-5 2-6 3-16 13-14 8-4 4 1 6 3 4 14 7 18 14 6 2 6-1 3 2 1 2 0 7-9-1-7 1-18 14-16 6-3 3-1 4-1 6 3 6 18 9 12 11-2 4-6 7-10 6-12 2-2 0-1-1-4-8-1-6 1-16-1-6-4-4-6-4-6-1-2 0-16 11-8 4-12 2-2-2-2-2-2-10 0-16 1-10-1-7 0-83 1-6-1-10 0-16zM30 330l-6 4-12 10-18 8-3 2-2 4 0 2 1 4 4 3 18 7 15 10 4 2 5-2 4-3 2-3 1-6-1-12 2-18-1-6-3-4-4-2zM30 402l-6 3-12 9-18 6-3 4-2 6 1 2 4 5 18 7 12 9 6 2 6-1 3-4 2-6-1-14 1-16-1-6-4-4zM113 312l7 1 6 2 6 5 8 8-8 8-4 4-16 5-2-3-3-14 2-10 3-5zM468 318l4-1 6 2 4 3 5 6-3 5-4 2-12 6-1-1-2-10 1-6zM113 382l1-2 12 4 5 4 5 6-2 2-6 6-4 3-10 3-2-2-2-10 0-6zM173 418l1-2 4 0 8 4 7 6-2 4-7 6-10 2-1-2-2-6 0-6zM110 444l2-2 18 8 8 10-1 2-5 6-6 4-8 3-6 0-5-13 1-6zM464 444l2-2 12 4 6 4 4 4 4 6-1 2-5 6-8 5-10 2-2 0-4-13 0-6zM232 450l2-1 10 3 7 8-1 2-6 6-10 2-2-2-2-6 0-6zM291 484l1-2 2 0 10 4 6 6-1 4-3 2-6 4-6 1-2-1-2-4-1-6zM408 484l4-2 8 3 4 2 4 5-1 4-7 5-8 2-3-2-2-5 0-6zM177 492l1-2 2 0 4 2-2 4-2 0-2 0zM0 526l0-3 3 0 4 3-2 2-1 1-4 0z"/>
<path fill-rule="evenodd" fill="rgb(24,24,24)" d="M290 150l2-1 2 0 10 3 5 4 4 6-7 10-14 6-4 2-1-2-1-16 1-6zM175 156l3-1 6 1 3 4 2 2-6 6-5 2-4-1-1-7zM226 177l2-2 16 3 6 3 10 9 4 1 4 1 6-2 6-4 6-4 1 2-1 2 0 6 3 6 5 4 15 6 13 9 6 2 6-1 4-2 4-2 2-4 1-6 0-12 3-9 4-1 6 1 8 5 6 8-7 8-12 6-3 4-2 6 1 8 2 4 3 2 16 7 14 12 6 3 10-1 1 7 0 6-1 1-10-1-6 2-12 10-14 9-2 3-1 2 1 4 4 2 12 8 10 8 6 2 2-1 7-1 4-4 2-2 1-6 0-12 2-12 2-1 16 7 8 8-8 10-12 6-4 4-1 8 2 8 3 4 18 8 14 12 7 1 9-1 2 12 4 6 18 8 5 4 3 5 1 10-3 3-10 7-12 4-6 3-1-2 0-6-2-12 1-20-1-4-3-3-2-1-6-1-6 3-12 10-17 8-3 2-1 4 0 6 3 3 14 8 16 13 6 2 8-1 0 2-6 0-6 1-6 4-8 9-6 3-22 8-1-2-4-20 0-18-3-6-6-2-6 1-12 9-17 6-5 3-3 7 0 6-3 2-12-6-6-1-6 2-8 7-6 4-18 4-5-18 1-18-4-6-4-4-6-3-6 0-16 11-8 3-10 1-2-2-4-16 1-14-1-6-5-6-9-6-6 1-12 9-6 3-12 3-4-1-4-13 0-6 1-6 3-12 12 2 6 2 12 8 6 3 6-1 4-3 3-5 0-6-2-14 2-18-3-6-4-4-8-6 8-5 4-3 2-5 1-5-2-14 2-16-1-4-2-4-6-3-6 1-10 8-8 4-16 4-2-1-5-23 5-23 20 6 18 11 4 1 6-2 6-5 2-5 0-19zM262 200l-12 10-16 7-3 3-1 6 2 6 4 2 14 6 12 7 6 1 3-2 3-2 0-18 2-16-1-6-5-3-2-1zM324 240l-12 8-12 8-2 2 0 4 2 3 12 6 10 6 2 2 4 0 2-2 2-3 0-16 2-12-1-2-3-4-2-1zM384 339l-14 11-12 6-3 2-1 2 0 4 2 2 14 7 12 9 6 1 3-1 3-6-2-16 2-14-4-6-2-1zM264 276l-2 1-12 7-12 4-4 4-1 2 1 4 3 2 13 5 12 8 2 0 4 0 3-3 0-28-1-3-2-3zM322 312l-22 12-2 4 1 2 3 4 8 4 12 8 2 1 4 0 2-1 2-4-1-26-3-5-4 0zM262 342l-12 7-16 6-2 3-3 6 2 6 3 2 12 5 12 9 6 3 5-1 4-4 2-6-2-18 1-12-1-2-3-4-6-1zM322 375l-12 8-13 5-5 2-2 4-1 6 2 2 3 4 12 5 12 10 6 2 6-2 4-3 1-4 0-6-2-14 1-12-1-4-3-3-2-2zM115 186l3 0 6 1 4 3 5 6-5 6-4 2-6 1-3-1-3-8zM57 222l1 0 2-1 4 1 5 4 2 2-3 4-3 2-5 2-2-1-3-7zM411 222l1-1 6 1 5 4 2 2-6 6-7 3-3-5 0-3zM116 256l2-2 6 1 6 7-6 6-6 1-2-1-2-4 0-5zM174 288l0-1 4-1 2 1 4 1 9 6-9 7-6 2-4-1-1-4zM-10 310l2-2 2 0 16 4 6 4 8 8 7 4-19 14-6 3-10 3-8 4 1-7-3-17 1-10zM113 316l1-2 4 1 8 2 6 5 5 6-5 6-6 4-12 4-2-3-3-9 1-8zM470 322l2-2 6 1 3 3 2 4-1 2-3 4-8 2-2-2-1-4 0-6zM45 334l1-1 6 4 14 5 6 3 18 15-18 17-14 7-4 2-1 4-1 4 2 5 4 3 12 5 6 3 14 13 11 3-11 5-18 14-14 6-4 3-3 2-1 4-1 6 2 6 4 2 15 6 6 5 5 7-3 6-8 8-6 2-10 2-2-2-4-10-1-6 2-12 0-6-3-5-4-2-8-4-6 0-18 13-10 3-8 1-4-8-2-9 0-7 3-18 3-1 18 7 18 13 2 0 4-1 5-2 2-4 2-6-2-18 1-14-2-6-4-4-6-1-2 1-16 10-15 6-6 2-5 6 0-64 4 4 4 3 18 7 16 10 2 1 6-1 6-4 2-4-1-17 3-19zM114 384l4-1 8 4 7 7-2 2-7 6-10 3-1-5-1-6zM175 420l3-1 6 2 5 5-2 4-3 2-4 2-2 1-4-2-1-7zM345 442l1-3 0 3 5 2 13 6 9 10-1 2-6 6-8 4-6 1-4-1-3-10 2-18zM111 448l1-1 2-1 12 4 5 4 5 6-1 2-5 6-4 2-6 3-6 1-2-2-3-10 0-6zM465 448l3-2 10 2 6 4 5 8-3 6-3 2-5 4-10 1-2-1-2-6-1-6zM234 454l0-2 4 0 6 3 4 5-2 2-6 5-6 0-2-7zM293 486l1-1 4 1 6 3 2 3-1 4-5 3-6 1-1-2-1-3 0-5zM411 486l1-1 2 0 6 3 4 4-1 4-5 4-6 0-3-8z"/>
<path fill-rule="evenodd" fill="rgb(27,27,27)" d="M290 154l2-3 8 1 7 4 4 6-4 6-3 3-12 5-2-2-2-8 0-6zM177 160l3-1 4 3-3 4-3 0-1-4zM227 178l1-2 16 3 6 4 8 7 6 3 6 0 12-6 4 9 2 2 3 4 19 7 12 9 6 3 6-1 6-3 7-7 0-18 2-6 3-2 8 2 6 4 2 2 2 4-4 6-6 3-8 4-5 5-1 8 2 6 1 4 3 2 18 8 14 13 6 2 8 1 1 4 0 2-3 2-6 0-6 2-14 13-13 7-3 4 1 6 2 2 13 7 12 9 4 2 4 1 9-3 4-4 2-2 1-3-1-15 3-11 12 4 5 3 4 6-5 8-12 6-5 4-1 4-1 6 3 8 4 5 18 8 14 13 6 1 6 0 3 3 1 8-10-3-6 1-14 12-18 9-4 4-1 5 2 6 3 4 14 6 17 14-13 13-6 4-6 3-12 3-4-1-4-18 1-18-1-4-3-2-7-4-6 2-16 10-16 6-3 4-2 2-3 9-14-6-4 0-6 2-8 8-6 3-16 4-2-3-4-11 0-6 1-12-1-6-2-4-6-4-6-2-6 0-12 9-6 3-16 3-1-1-2-6-2-9 1-21-4-6-6-5-6-2-4-1-6 3-8 8-6 3-12 2-3-2-3-10-1-8 4-12 3-3 8 2 6 2 12 9 6 3 6-1 4-2 2-4 2-4 0-6-2-14 2-18-3-6-9-10 4-3 6-5 2-6-2-18 2-18-2-5-2-4-4-1-6-1-18 12-18 5-2-4-4-14 0-6 2-10 2-6 2-3 18 5 18 12 6 0 6-3 6-5 1-2 1-6-1-16zM264 198l-6 3-12 9-14 6-2 4-2 6 2 6 3 2 17 7 12 8 2 1 6-2 3-2 2-2 0-18 3-15-2-6-2-4-4-3zM328 237l-6 3-10 7-14 9-2 2 0 4 2 3 26 15 4 0 2-1 3-5 0-12 2-18-2-4-3-2zM382 339l-10 8-18 10-2 3 1 4 1 3 16 8 12 9 6 1 5-3 1-4-1-18 2-14-1-5-4-3-2 0zM262 275l-12 7-15 6-3 4-1 2 1 4 3 2 11 5 16 9 2 1 4-1 2-1 2-3 0-28-2-6-2-1-4-1zM324 309l-24 14-2 1-1 4 0 2 2 4 13 7 10 7 2 1 4 0 2-2 3-5-1-14 0-12-2-5-2-2zM258 342l-8 6-16 6-2 2-4 4 0 6 1 4 3 3 14 6 16 11 6 0 6-4 2-4 0-4-2-14 1-16-1-2-2-4-4-2-4 0zM324 372l-18 11-12 4-2 2-4 5 0 6 1 2 3 4 14 7 12 9 6 3 6-1 4-3 2-3 1-6-3-16 1-18-2-2-3-3zM116 190l2-2 6 1 4 3 2 4-6 5-6 2-3-5-1-2zM60 226l4 0 2 2-2 3-4 1-1-4zM413 226l1-1 4 0 2 3-2 4-4 1-1-1-1-4zM119 258l3 0 3 4-3 2-3 0-1-2zM177 292l1-2 2 0 7 4-3 4-6 1-2-5zM-6 310l10 1 6 2 6 4 11 11-15 13-6 3-14 4-5-14 0-6 2-12 3-5zM113 318l1-1 4-1 6 2 5 4 5 6-4 6-4 2-6 3-6 1-1-4-2-6 0-6zM473 324l3 0 3 4-2 2-3 2-3-2 1-3zM48 340l0-2 4 1 18 6 5 4 12 12-9 9-6 5-18 9-2 4-1 6 2 6 3 2 16 8 16 13 5 3-21 18-16 6-5 4-3 6-2 6-10-5-6-1-6 3-9 9-5 3-12 3-4 1-2-1-4-10-1-8 3-18 2-2 18 5 18 13 6 1 2-1 6-4 2-6-2-22 1-14-1-6-2-4-6-2-4-1-6 3-8 7-6 4-22 6-2-14 0-23 2-12 0-2 22 7 6 4 12 9 2 1 6-1 6-4 3-6-1-18zM462 372l6 4 15 6 4 2 5 7 0 6-8 9-6 3-12 4-2-1-4-16 0-6 2-12zM116 388l2-2 2 1 6 3 4 4-2 2-4 4-6 2-3-2-1-4 0-6zM177 424l3-1 4 3-2 4-4 0-1-4zM348 448l4-1 12 5 7 8-2 2-3 4-6 4-8 1-3-3-2-6zM113 450l1-2 6 1 6 3 8 8-1 2-7 7-6 2-6 1-3-10 0-6zM467 450l1-2 6 1 6 3 4 2 3 6-1 3-6 5-6 3-6 0-3-9 0-6zM237 456l3 1 3 3-3 3-2 0-1-1-1-2zM51 474l19 8 5 5 4 5-3 6-6 6-6 3-10 1-2-3-3-7 0-6zM414 490l4 0 2 2-2 4-4 0-1-4zM295 492l3-2 3 2-1 4-2 0-2 0z"/>
<path fill-rule="evenodd" fill="rgb(29,29,29)" d="M293 154l5-1 6 3 3 4 2 2-5 6-4 3-8 2-2-11 1-6zM227 180l1-2 4 0 12 3 6 3 8 8 6 3 6 0 10-4 2 2 4 5 3 4 17 6 18 13 6 1 12-5 3 3 1 8 4 6 16 8 6 3 12 11 12 6-12 5-14 13-15 8-2 6 1 4 2 2 14 8 14 11 6 1 13-4 2 12 3 6 4 2 12 5 6 3 14 13 11 3-11 5-14 12-18 9-5 4-1 6 0 4 2 4 4 2 14 7 14 13-14 14-8 5-12 2-3-3-3-12-1-6 1-12-1-6-2-2-3-3-6-2-7 1-15 11-18 7-3 4-5 7-11-5 5-2 2-4 1-2 1-6-3-16 1-18-2-4-6-3-6 1-12 9-18 7-3 2-2 4-1 6 3 6 4 2 13 6 12 10 5 2-19 15-6 2-10 1-3-6-2-8 1-16 0-6-4-6-10-5-6-2-2 1-13 10-5 3-6 1-10 1-4-15 0-6 2-12-2-6-4-5-10-6-2-1 6-2 3-4 2-6-2-20 2-18-2-6-9-10 9-8 2-6-2-18 2-16 0-6-3-4-2-3-4-1-6 0-18 12-8 3-10 1-4-10-1-10 1-8 4-11 10 1 8 3 16 11 2 1 6 0 10-4 2-3 3-4-1-22zM262 197l-16 12-12 5-4 2-2 4-1 6 2 6 3 3 18 7 12 8 6 1 6-4 2-3 0-18 3-18-2-6-3-4-6-2zM324 237l-14 11-12 6-4 4 0 4 2 2 4 4 10 4 12 8 6 1 4-1 2-4 0-18 2-14-1-4-3-2-4-2zM388 336l-6 2-16 11-11 5-3 4-1 2 1 4 2 4 12 6 16 11 2 1 6-1 4-2 2-5 0-2-2-16 2-18-2-3-4-2zM264 273l-2 1-12 8-17 6-3 4 0 2 0 4 4 4 16 6 12 7 2 1 4 0 2-2 3-4 0-16 1-12-1-2-3-5-2-2zM322 309l-12 8-12 6-3 5 0 2 3 4 12 6 12 9 6 1 3-2 3-2 0-4-1-14 0-12 0-4-2-3-3-1zM262 339l-12 8-19 8-3 3-2 2 0 6 2 6 4 2 14 6 12 10 6 2 6-2 4-2 2-4 1-6-2-14 0-18-1-4-4-2-6-1zM351 186l3 0 6 2 4 2 4 6-5 6-11 5-3-3-1-8zM119 192l1 0 2 0 3 4-3 2-3 0-1-2zM409 286l3-2 6 2 4 2 5 6-3 5-4 3-12 6-1-14zM-8 312l2-1 4 0 12 3 6 4 8 10-8 8-6 6-10 3-6 1-2 0 0-1-3-9-1-8 1-6zM117 318l3 1 6 2 6 7-6 6-8 3-4-1-1-8 1-8zM49 342l3-2 18 6 6 4 9 10-7 10-6 4-6 4-10 4-4 2-2 4-1 6 2 6 3 2 18 9 18 15-15 16-9 4-13 4-4 4-7 7-1-1 3-6 2-6-3-18 2-18-1-4-2-5-6-4-6-1-6 2-12 10-6 3-14 4-3-3-3-12 0-16 3-14 3-1 18 5 6 4 8 8 6 2 6 0 6-4 4-4 1-4-2-18zM171 346l1-1 2 0 10 2 6 3 8 8 6 2-6 3-12 10-6 2-8 2-2-1-2-6-2-10 1-6zM464 378l2-2 12 4 6 3 4 5 4 6-1 2-5 7-8 5-12 3-2-3-3-12 0-6zM118 390l2 0 3 1 2 3-1 2-4 2-2-1-1-3zM-9 444l1-1 2-1 16 4 16 14-10 10-6 4-6 2-10 1-2-3-4-12 0-6zM116 450l4 1 6 3 5 6-1 3-6 5-6 1-4-1-1-8 2-9zM350 450l2-1 2 1 9 4 5 6-1 2-7 6-6 1-2 0-2-3-2-6zM470 450l4 1 6 3 5 6-1 3-6 5-6 1-4-2 0-1-1-10 1-5zM52 480l2-2 10 3 5 3 4 2 4 6-1 4-5 6-5 2-6 2-6 0-2-4-2-6 0-6z"/>
<path fill-rule="evenodd" fill="rgb(32,32,32)" d="M293 156l1-1 6 1 4 4 2 2-2 4-4 2-6 2-1-2-1-4 0-4zM229 180l3-1 12 3 6 3 11 11-15 12-20 8-1 10 2 6 5 4 15 5 15 10 2 1 6-1 6-5 1-2 0-18 3-18-1-6-3-6 4-2 7 8 6 2 13 5 18 13 6 1 12-4 3 9 4 6 21 10 14 14 7 4-7 4-14 13-16 9-2 4 0 2 0 4 2 3 16 8 14 11 6 1 12-3 3 12 3 5 18 8 16 13 7 4-7 5-12 11-6 4-12 4-4 3-2 5-1 8 3 6 18 8 12 12-4 6-8 7-8 5-12 2-4-8-2-8 1-16-1-6-4-4-8-4-6 1-16 12-20 7-6 8-4-1-1-1 3-6 1-6-3-18 1-18-1-2-2-4-6-2-6 1-12 9-20 8-3 2-2 4-1 8-2 1-12-8-4-1 4-2 6-4 1-3 1-7-2-14 0-18-2-5-6-3-6 0-12 8-21 8-4 6-3 7-8-7 5-6 2-6-3-20 2-16 0-6-4-5-5-7 5-6 4-6 0-6-2-14 2-18 0-5-4-5-2-3-6-1-6 2-10 7-6 4-8 3-8 0-2 0-2-9-2-5 0-6 4-15 4-1 8 2 6 2 16 11 6 2 6-1 11-6 2-9-2-13 0-6 1-6zM262 273l-12 8-18 7-3 4-1 2 1 4 3 3 4 3 14 5 10 7 4 1 7-1 2-4 1-2 0-16 0-14-1-4-2-3-7-1zM322 237l-12 10-12 5-3 4-2 6 1 2 3 4 13 5 12 8 2 2 4 0 5-3 2-4 0-18 2-14-1-4-2-2-4-3-2 0zM384 336l-14 11-17 7-2 4-1 6 1 2 4 4 15 7 12 9 6 1 6-3 3-6-2-18 2-14-1-4-2-5-4-2zM322 308l-12 8-12 6-4 3 0 5 4 5 12 6 12 9 6 2 5-4 2-2 0-6-1-12 0-12 0-4-4-4-2-1-4 0zM352 190l2-2 6 2 3 2 2 4-5 5-8 4-2-9zM410 288l2-1 6 1 4 4 2 2-5 6-7 4-3-6zM-6 312l6 0 10 3 6 5 6 8-6 8-6 4-6 3-10 2-2-3 0-2-3-12 2-10zM117 322l1-1 2 0 6 3 3 4-2 2-3 4-6 1-2-1-1-6zM50 342l2 0 8 1 10 4 6 5 8 8-5 6-7 7-6 4-12 4-4 3-2 6 1 10 5 4 18 8 16 14-8 10-8 6-24 10-1-2-4-21 3-21-1-2-3-5-6-4-6-1-6 3-8 8-6 4-18 4-3-4-2-9-1-9 1-9 2-8 2-3 19 4 6 4 8 8 7 3 5-1 6-3 4-4 2-6-2-18 1-6zM170 348l2-1 2-1 10 2 6 4 9 8-13 12-6 2-8 1-4-9-1-6 1-6zM227 376l1-2 16 6 6 3 8 8 6 3-6 2-12 10-6 3-8 1-4-2-3-12 0-6zM465 378l9 2 6 3 7 5 4 6-4 6-7 5-12 4-3-1-2-8-1-6zM284 406l2-2 4 4 16 7 13 11-9 10-6 4-10 3-6 0-3-7-1-6 2-18zM-7 444l1-1 10 2 6 2 4 3 9 9-8 9-5 5-6 2-10 1-2-5-3-9 1-8zM116 454l2-1 2 0 6 3 3 4-1 2-4 4-6 1-2-1-2-6zM351 454l3-2 6 2 5 5-1 3-3 4-3 1-4 0-2-1-2-6zM470 454l2-1 6 1 3 2 1 4-1 2-3 4-6 1-2-1-1-6zM54 480l4 0 8 3 8 7 2 2-1 4-5 5-10 4-2 0-4-1-2-6-1-6z"/>
<path fill-rule="evenodd" fill="rgb(34,34,34)" d="M295 160l3-2 2 1 3 3-3 4-2 1-4-1zM231 180l9 2 6 2 12 12-12 11-18 7-2-16 0-6 2-8zM353 192l1-1 4 0 2 1 2 4-2 2-6 3-1-3zM281 202l1-2 8 4 16 6 18 13 6 1 10-2 1 0 4 10 2 2 5 4 12 4 6 3 18 17-18 16-16 8-3 6 0 6 3 4 16 8 14 11 6 1 10-2 1 2 4 12 3 2 18 8 19 16-16 16-5 3-14 5-4 4-1 2-1 10 2 6 5 2 14 6 5 4 6 8-6 9-6 5-10 3-8 1-5-14 1-16 0-6-2-2-3-4-7-3-6 0-2 1-12 10-6 3-14 5-8 4-2-2 0-8-3-16 1-18-1-2-2-4-4-3-7 0-2 1-16 10-18 7-3 3-3 7-2 1-4-2-3-2 4-7 2-5-2-18 0-18-3-6-6-3-6 0-16 10-14 5-5 2-5 6-2 2-2-2 2-6 2-6-3-20 2-18-1-7-7-9 7-8 1-4 0-6-2-14 2-22-2-6-3-2-4-4 10-5 3 9 3 2 4 3 14 5 16 10 2 1 6-1 6-5 2-3 0-18 3-16zM324 234l-14 12-14 6-3 4-1 6 1 2 3 4 14 6 12 8 6 2 6-3 2-5 0-14 2-18-2-6-2-3-4-1zM382 336l-12 10-18 8-2 4-1 6 1 2 3 4 17 8 12 9 6 2 6-3 3-4 1-6-2-16 2-18-1-2-2-4-5-2-2 0zM258 273l-12 8-12 5-5 2-2 4 0 6 2 2 4 4 13 4 16 10 6 0 6-4 1-4-1-16 1-14-1-5-6-4-4 0zM324 306l-2 1-16 10-10 5-2 2-1 6 1 4 4 2 12 6 12 9 6 2 6-4 2-3 0-4-1-14 0-12-1-7-4-3zM169 214l3-3 12 2 6 4 12 10 4 1-4 2-16 12-6 2-8 2-4-3-3-11 1-10zM412 292l2-2 5 2 2 2-2 4-5 2-2-2zM-7 316l1-3 4 0 8 2 7 3 8 10-5 6-6 5-6 3-10 1-3-7-1-8 1-6zM118 324l2 0 3 0 3 4-2 2-4 2-3-2 0-2zM50 346l2-3 2 0 12 3 9 6 7 8-6 9-6 5-18 7-3-3-2-18 1-6zM172 348l6 0 6 2 6 3 7 7-7 8-6 4-10 2-2-2-3-6-1-6 1-6zM-9 376l1-2 2 0 16 4 5 4 9 8 4 2 5 2-5 1-12 11-6 4-10 2-8 2-5-12-1-8 1-6zM228 378l0-1 4 0 12 4 5 3 10 10-14 12-5 2-8 1-3-3-3-10 0-6zM466 382l2-2 6 1 6 3 5 4 4 6-1 2-4 6-10 4-6 1-2-1-2-6-1-6zM42 390l4 0 1 10 3 2 4 3 12 4 6 4 6 5 8 8-7 10-7 6-8 3-16 5-4-20 0-6 3-12 0-6-1-4-4-4-6-4-1 0 5-2zM287 412l1-3 16 6 6 4 7 7-7 9-6 4-6 2-8 1-2-1 0-3-3-8 0-6zM-7 448l1-3 12 2 7 3 8 10-4 6-7 6-6 2-10 1-2-7-2-6 0-6zM118 456l2 0 3 1 2 3-1 2-4 2-2-1-1-3zM353 456l1-1 5 2 3 3-1 2-3 2-4 0-1-4zM472 456l2 0 4 1 1 3-1 2-4 2-2-1-1-3zM54 484l4-2 8 3 4 2 4 5-1 4-7 5-8 3-3-2-2-6 0-6z"/>
<path fill-rule="evenodd" fill="rgb(37,37,37)" d="M230 184l1-2 3 0 9 2 7 4 6 8-10 9-6 3-9 2-2-2-2-12 1-6zM282 204l0-2 22 7 6 3 14 12 6 1 10-1 6 10 4 4 14 4 6 4 16 16-16 15-16 9-3 2-1 4 1 6 1 2 2 3 16 7 14 12 6 1 10-1 4 12 3 2 19 9 17 15-13 15-10 5-12 4-3 4-2 2-1 9 2 7 4 3 16 6 6 5 5 6-4 6-7 7-6 3-6 1-4 0-2-1-4-12 1-22-4-6-9-4-6 0-3 1-15 12-24 8-1-1-4-22 2-14-1-6-2-4-6-4-6 0-2 1-16 11-18 6-5 4-3 6-4-2 4-7 0-5-3-18 1-18-2-4-6-5-6-1-2 0-16 10-16 6-8 4 0-10-3-18 3-22-2-5-4-7 5-8 1-6-3-18 3-22-1-6-3-6 2-1 1 1 5 6 4 4 16 5 16 10 2 1 6-1 6-5 3-4-1-18zM324 233l-14 12-16 8-2 3-1 6 1 2 2 4 16 7 12 8 6 2 6-3 3-6 0-18 2-14-1-6-4-5-4-1zM384 333l-18 14-14 7-3 4-1 6 1 2 3 4 14 6 16 12 6 2 6-2 2-3 2-3 1-6-2-16 2-18-2-6-3-2-4-1zM264 270l-2 1-16 9-14 6-4 2-3 6 2 6 4 4 15 5 15 9 3 1 6-1 3-2 2-4 1-6-1-12 1-14-2-7-5-3zM322 306l-12 9-15 7-2 2-1 6 1 4 3 2 14 7 12 9 6 2 6-3 3-5-2-18 1-16-1-2-5-4-6-1zM170 214l2-2 6 1 8 3 16 12-16 13-6 2-8 2-2-1-3-6-1-10 1-6zM-6 316l4-2 8 2 6 4 7 8-4 6-5 4-6 3-10 0-2-7-1-6 1-6zM52 346l2-2 12 3 7 5 8 8-5 8-6 5-18 7-4-14 0-6 0-6zM172 352l2-3 10 2 5 3 6 6-5 6-4 4-6 2-6 1-2-3-2-6 0-6zM-7 376l11 1 6 2 6 4 12 11-12 11-6 4-12 3-4 1-2-1-4-12-1-6 3-12 2-6zM229 382l2-3 13 3 6 4 7 8-7 7-6 4-6 2-6 0-4-4-1-7 0-6zM468 382l6 1 6 2 4 3 4 6-4 6-4 3-6 2-6 1-2-6-2-6 2-7zM48 406l0-2 22 8 7 6 8 8-4 6-9 8-6 4-14 4-3-4-4-12 0-6zM288 412l12 2 6 4 9 8-2 4-9 8-6 2-6 1-4-3-2-8 0-6zM-6 448l0-1 4-1 2 1 10 3 4 4 6 6-2 2-6 6-6 4-8 2-4-2-2-6-1-6zM55 486l3-2 8 2 6 6-1 4-3 2-5 3-5 1-4-6z"/>
<path fill-rule="evenodd" fill="rgb(40,40,40)" d="M231 184l7-1 6 2 6 4 5 7-9 8-6 3-8 2-2-1-2-12 1-6zM283 208l3-3 14 4 10 4 14 12 6 2 10-1 2 6 4 4 2 2 18 7 7 5 11 12-14 15-16 7-2 3-3 5 0 2 2 6 3 4 16 7 14 12 7 2 7-1 2 2 3 8 2 2 21 10 6 5 10 9-8 10-8 6-18 7-2 3-4 4-2 10 0 1-10-4-6 0-2 1-12 10-6 4-18 5-4 0-4-21 2-18-1-2-2-4-3-3-6-2-6 1-16 11-16 5-8 5-1-1 0-10-3-14 1-18-3-5-2-3-6-3-6 1-12 8-6 3-18 6-2-1-4-24 3-22-2-6-3-6 3-6 2-6-3-20 3-24 3-2 6 3 12 3 6 3 12 9 2 1 6-2 6-3 4-6-1-18zM328 231l-6 3-12 10-17 8-2 4-1 2 1 6 2 4 17 7 12 9 2 1 6-1 4-2 3-2 1-6-1-16 3-14-1-6-3-5-2-2zM384 332l-14 12-16 8-5 2-1 4-1 6 1 4 4 3 14 6 16 12 6 2 2 0 6-3 3-6 1-7-3-15 3-18-2-6-2-2-6-3zM262 270l-16 10-16 6-4 2-2 4-1 2 1 4 5 6 17 6 14 8 4 2 7-2 4-2 1-4 1-6-2-12 2-14-1-4-1-2-4-4-3-1zM322 305l-12 9-16 8-3 2 0 6 1 4 3 2 15 8 12 9 6 2 6-3 3-4 1-2-2-18 1-16-3-5-4-2-6-1zM171 214l9 0 6 3 5 3 9 8-14 12-6 3-8 1-4-6-1-10 0-6zM-3 316l7 0 5 2 4 4 5 6-4 6-4 3-6 3-6 1-4-2-1-5-1-6 2-10zM54 346l10 1 6 3 5 4 4 6-3 6-6 6-6 3-10 2-2 0-4-17 2-8 2-4zM173 352l1-2 4 0 6 2 3 2 6 6-5 6-4 4-10 1-2-5-1-6zM-8 378l2-2 10 2 6 2 6 4 10 10-10 10-6 4-6 2-10 2-2-3-4-13 1-8zM230 382l2-2 12 3 5 5 6 6-5 6-6 4-6 2-6 0-3-6-1-6zM468 384l0-1 6 1 8 4 4 6-3 6-5 3-6 1-4 0-2-4 0-6zM49 408l3-2 18 7 6 5 8 8-2 4-6 7-6 4-6 3-12 3-2-3-4-14 0-10zM405 408l1 0 18 8 5 4 5 6-4 6-6 6-6 3-10 1-2-3-3-7-1-6zM289 414l3-1 12 4 4 3 5 6-4 6-5 5-6 2-6 1-3-4-2-6 0-6zM-3 448l7 0 5 2 4 4 5 6-4 6-8 5-8 1-2-1-2-3-2-6 0-6 2-7zM57 486l1 0 2 0 6 2 4 4-1 4-5 4-4 0-2 0-3-8z"/>
<path fill-rule="evenodd" fill="rgb(42,42,42)" d="M231 186l1-1 2-1 10 2 4 4 5 6-5 6-4 3-12 3-3-12zM284 208l2-2 18 5 6 3 14 12 6 2 7 0-1 1-6 0-6 2-14 12-16 8-4 5 0 6 2 6 5 2 13 6 12 9 2 1 6-1 6-4 3-5-1-18 3-14-1-6-2-6 2-2 3 4 3 4 18 6 6 3 13 15-13 14-18 10-3 6 0 6 1 2 4 4 16 8 14 12 6 2 6 0 2 2 3 6 3 2 5 4 11 3 6 3 15 14-8 10-7 5-21 9-3 4-4 8-2 1-6-2-6 1-6 3-12 11-6 2-14 4-3-2-4-18 1-20-1-4-5-4-6-2-4 0-6 3-12 9-24 9 0-9-3-14 1-18-3-6-4-4-5-2-6 1-16 10-20 6-5-17 0-6 3-24 2-2 6 3 14 5 16 10 2 1 6-1 6-4 1-4 1-2-2-16 2-14-2-5-2-4-6-3-4 0-6 2-12 9-14 5-6 3-2-1-3-24 4-24 21 6 16 11 2 0 6-1 6-4 4-4 0-6 0-14zM324 303l-2 1-12 9-13 5-4 4-2 2-1 6 2 4 2 3 16 8 12 9 6 2 3-1 4-3 3-6-1-18 0-16-1-3-2-3-5-2zM388 330l-6 3-10 8-5 4-15 7-4 2-1 4-1 6 2 5 4 3 14 6 16 12 2 2 6 0 6-3 4-5 0-2-2-22 3-18-1-6-4-5-2-1zM171 216l1-1 2-1 10 2 6 4 8 8-12 11-8 3-6 0-4-8-1-6 1-6zM-5 318l3-1 8 1 6 4 4 6-4 5-4 3-4 3-6 0-3-3-2-6 0-6zM53 348l1-1 3 0 7 1 6 3 4 3 4 6-1 4-6 6-5 3-12 3-1 0-2-6-2-9 1-7zM173 354l1-2 6 0 6 3 5 5-2 4-5 4-6 2-4-1-2-9zM-7 378l1-1 4 0 12 4 5 3 9 10-8 8-6 5-6 2-10 2-2-4-3-11 0-8zM231 382l7 0 6 2 4 4 5 6-4 6-5 3-10 2-2-1-2-4-1-6zM468 388l0-2 4-1 8 3 5 6-1 2-6 6-6 1-2-1-2-1-1-5zM50 408l2-1 18 6 5 5 5 6 2 2-1 4-9 9-8 4-12 3-1-2-4-12-1-6 1-6zM406 412l2-1 12 4 6 4 6 7-3 6-5 5-6 3-6 1-4 0-2-3-2-6-1-5zM291 414l7 2 6 2 3 2 5 6-4 6-4 4-6 2-6 0-2-2-2-10 0-6zM-5 450l3-2 2 1 10 3 7 8-2 2-3 4-6 4-8 1-3-3-2-6 0-6zM58 490l2-2 5 2 3 2-1 4-7 2-2-3z"/>
<path fill-rule="evenodd" fill="rgb(45,45,45)" d="M232 186l2-1 10 2 3 3 5 6-5 6-3 2-10 2-2-1-2-7 0-6zM285 208l1-1 12 2 8 4 6 3 10 9 5 3-5 4-12 11-18 9-3 6 0 6 3 4 3 2 14 7 13 9 2 1 6-1 6-4 2-2 1-6-1-16 4-14 0-6 0-2 6 3 18 7 6 5 10 11-12 13-18 10-3 3-1 4 0 5 4 7 14 7 16 12 9 5-9 4-16 13-16 7-3 2-1 4-1 6 1 2 2 4 4 3 14 6 16 12 4 3-8 4-8 9-10 5-14 3-2-1-4-12-1-6 2-20-4-6-7-4-6-1-2 1-16 12-21 6-2-2-4-18 1-16 0-5-4-4-6-4-6-2-2 1-12 8-6 3-16 4-2 0-4-15-1-6 5-24 20 7 16 10 2 1 6-2 6-4 2-4-1-18 1-14-1-6-3-4-6-2-4-1-6 3-12 8-20 8-5-24 1-6 4-17 14 4 6 2 16 10 6 1 6-3 4-3 2-4 1-6-1-14zM322 303l-12 10-14 5-4 3-2 3-1 6 3 6 2 2 12 5 16 12 6 1 5-2 3-2 3-6-2-18 1-16-2-4-5-4-3-2zM172 216l2-1 9 2 7 4 7 7-7 8-6 4-10 2-2-2-3-6-1-6 1-6zM-3 318l3 0 5 0 5 3 2 3 3 4-4 6-7 3-6 1-2-2-2-8 0-5zM402 340l0-3 5 3 17 5 8 7 7 8-7 10-6 5-6 3-12 4-6 3-1-1 0-6-3-18zM54 348l4 0 8 2 6 4 3 4 2 2-4 6-3 4-6 3-10 2-1-3-3-12 1-6zM175 354l3-1 5 1 3 3 3 3-5 6-6 2-3-2-1-2 0-6zM-6 378l10 1 6 3 6 4 6 8-6 8-6 4-6 3-10 1-1-2-2-6-2-8 2-10zM232 384l2-1 7 1 5 4 6 6-5 6-3 2-10 2-2-3-2-5 0-6zM470 388l2-2 6 2 3 2 2 4-1 2-4 4-6 2-3-2-1-4 0-6zM395 394l1-1 1 1zM51 408l13 3 6 3 6 5 5 7-5 9-6 5-10 3-8 1-4-12-1-6 1-6zM406 414l3-2 9 3 5 3 4 2 4 6-1 4-6 6-4 2-6 2-6 0-2-5-2-5 0-6zM291 418l1-2 2 0 10 3 6 7-1 4-3 2-6 4-6 1-2-1-2-4-1-6zM-4 450l2 0 6 0 6 3 5 7-1 2-8 7-6 1-2 0-3-5-1-5zM60 492l0-1 4 1 0 2-4 1z"/>
<path fill-rule="evenodd" fill="rgb(47,47,47)" d="M234 186l4 0 6 2 4 4 2 4-6 6-10 3-2-3-1-6 1-6zM285 210l1-2 2 0 16 4 7 4 13 12-14 14-18 9-3 5-1 2 1 6 3 5 18 8 12 9 2 2 6-1 6-4 3-3 1-6-1-16 4-18 3-1 14 5 6 3 8 5 7 10-11 12-6 4-12 6-4 3-1 5 0 6 4 6 15 7 16 13 5 4-5 3-16 13-17 8-3 2-1 4-1 6 1 2 3 5 18 8 12 11 5 4-13 12-10 5-14 3-4-8-2-10 2-20-3-6-9-5-6-1-2 2-16 11-6 3-14 4-2-2-4-16 0-6 1-14-1-4-4-4-6-4-6-1-2 0-16 11-8 3-10 1-2-2-4-12 0-6 4-22 2 0 18 6 16 10 2 1 6-2 6-4 3-5-2-18 2-14-2-6-2-4-5-2-6-2-6 3-8 7-6 3-16 4-2 0-4-21 0-6 4-13 2-3 16 4 6 3 12 9 6 1 6-3 5-4 2-4 1-6-1-14zM322 303l-12 9-16 6-2 3-3 3-1 6 1 4 3 3 4 3 10 4 16 12 6 1 7-3 3-2 1-4 1-6-2-14 1-16-3-5-3-3-5-2zM174 216l6 1 6 2 9 9-9 10-6 2-6 0-3-2-2-10 2-8zM-4 322l2-3 6 0 6 3 4 6-4 5-4 2-3 1-5 1-3-9zM402 342l0-2 4 0 18 6 7 6 7 8-7 10-7 6-18 6-4 0-3-22zM53 352l1-3 10 1 6 3 6 7-4 6-6 5-6 2-6 1-3-10 0-6zM175 358l3-3 2 0 5 3 2 2-3 5-6 2-3-3zM-7 382l1-3 6 0 6 2 7 3 8 10-4 6-7 5-6 3-10 1-3-7-1-6 0-6zM234 384l4 0 6 3 6 7-2 2-4 5-3 1-7 1-2-3-1-4 0-6zM470 390l2-2 2 0 5 2 2 4-1 2-2 2-6 2-2-4zM51 412l1-1 2-1 10 2 6 3 6 5 4 6-1 4-7 7-6 4-11 2-3-1-4-10 0-6zM407 414l1-1 12 4 8 7 2 2-1 4-5 5-10 4-6-1-2-6-1-6zM293 418l5 0 6 2 5 6-3 4-6 5-6 1-2-2-1-2-1-8 2-6zM-4 454l2-3 2 0 6 2 4 2 4 5-2 2-6 5-6 2-2 0-3-7 0-2z"/>
<path fill-rule="evenodd" fill="rgb(50,50,50)" d="M233 190l1-2 6 0 6 4 3 4-6 6-9 2-1-2-1-6zM286 210l2-1 16 3 6 4 13 12-13 13-6 4-12 5-4 4-1 4 1 6 4 6 18 8 12 9 2 1 6 0 6-4 4-3 1-5-1-12 0-8 3-12 3-4 14 4 6 3 7 5 7 10-10 12-6 4-12 5-4 3-1 6 0 6 3 6 4 2 14 6 17 16-15 14-6 3-16 6-3 3-1 4-1 6 2 6 3 3 18 7 15 14-11 11-10 5-12 3-2 0-4-11-2-6 0-6 2-12 0-6-2-3-4-2-6-3-2-1-6 2-12 10-6 3-18 5-6-19 1-16 0-6-5-5-6-4-6-1-2 0-12 9-10 4-12 3-2-2-3-10-1-8 4-18 3-3 11 3 10 4 12 9 2 0 6-1 6-4 3-6-2-18 3-14-2-6-2-4-6-3-6-1-6 2-12 9-18 5-2-2-4-16 1-8 3-12 2-3 16 4 6 3 12 9 6 0 6-2 6-5 2-4 0-6-1-14zM322 302l-12 10-18 8-4 4 0 6 0 4 4 4 14 7 16 12 6 1 2 0 6-4 4-6 0-6-2-14 2-16-3-6-3-3-6-2zM172 220l2-3 10 2 5 3 5 6-5 6-4 4-5 1-6 1-2-3-2-5 0-6zM-2 321l2-1 6 2 6 6-5 6-7 2-2-2-2-4 1-6zM403 342l3-2 18 7 6 5 7 8-4 6-7 7-6 4-14 4-3-2-3-16 0-9zM54 352l3-3 9 3 4 2 5 6-2 4-7 6-6 2-6 0-2-12zM177 358l3-1 5 3-3 4-4 0-1-4zM-6 382l0-2 4 0 8 2 7 3 7 9-4 6-6 5-6 2-10 1-3-8 0-6 0-6zM233 388l1-2 6 1 6 3 3 4-2 2-3 4-6 2-4-1-2-5 0-2zM473 390l3 0 3 4-2 2-3 2-2-2-1-2zM53 412l1-1 6 1 10 4 5 4 5 6-4 6-6 6-6 3-10 2-2-3-3-8-1-6 2-8 2-5zM408 414l12 4 4 2 5 6-4 6-5 4-8 2-4-1-1-5-1-6zM292 420l2-1 7 1 6 6-1 4-6 4-6 1-2-3-1-2 0-6zM-2 454l2-2 6 2 6 6-1 2-3 4-4 1-4 1-2-2-2-6z"/>
<path fill-rule="evenodd" fill="rgb(54,54,54)" d="M235 190l3-1 3 1 4 2 2 4-2 2-5 3-6 1-1-6zM287 211l1-2 10 2 8 4 6 4 9 9-9 10-6 5-15 7-3 2-2 6 1 6 1 4 3 2 19 8 12 10 2 1 6-1 6-2 4-4 1-6-1-18 4-15 2-2 14 4 6 3 6 4 7 10-7 8-6 5-15 7-3 4-2 6 0 6 3 6 4 2 11 5 6 3 13 14-13 13-6 4-16 5-4 4-1 4-1 6 2 6 4 3 18 8 14 13-10 11-10 5-12 2-2 0-5-16 0-6 2-12-1-6-2-5-10-5-2 0-6 2-12 10-6 3-18 5-5-18 1-16 0-6-5-6-7-4-6-1-2 1-12 9-10 4-12 2-1-1-3-10-1-8 0-6 4-12 1-2 16 4 6 3 12 9 2 0 6-1 7-5 3-6-2-18 2-14-1-6-3-4-6-4-6-1-6 2-8 8-6 3-16 3-1-1-4-12 0-6 0-7 4-11 1-2 16 4 6 3 12 9 6 0 6-2 6-4 3-6-1-20 2-10zM324 300l-5 4-9 7-18 8-3 3-2 2 0 6 1 5 4 4 14 6 16 13 6 1 2 0 6-3 4-4 1-4 0-6-2-14 1-16-2-6-3-2-5-3zM173 220l1-2 4 0 6 2 4 2 5 6-5 6-4 3-10 2-2-5-1-6zM0 322l4 0 2 1 4 5-1 2-5 4-4 0-2-4 0-6zM404 342l2-1 12 4 6 2 6 5 7 8-7 10-6 5-6 2-12 3-2-2-3-12-1-6 1-6zM56 352l2-2 6 1 6 4 4 5-4 6-4 4-6 1-2 1-4-2-1-10 1-6zM-5 382l3-1 6 0 6 3 9 10-2 2-5 6-6 3-8 2-4-1-2-6-1-6 1-6zM234 388l5 0 5 2 3 4-2 2-5 4-2 0-4-1-1-5zM52 414l2-2 10 1 6 3 4 4 5 6-2 4-5 6-6 3-5 2-7 1-2-4-3-8 0-6zM408 418l4-2 8 3 3 2 5 5-1 4-7 5-8 2-4-2-1-5 0-6zM294 420l4 0 5 4 3 2-2 4-4 2-6 1-2-3 0-4zM0 454l6 1 4 5-1 2-5 4-4 0-3-4 1-6z"/>
<path fill-rule="evenodd" fill="rgb(61,61,61)" d="M287 214l1-3 4 0 12 3 7 6 8 8-8 10-5 3-18 9-2 2-2 6 1 6 4 6 17 7 16 13 2 1 6-1 6-3 5-5 2-6-2-12 0-6 5-14 2-1 12 3 7 4 6 6 4 6-2 2-9 10-18 8-3 6-1 10 2 3 2 4 18 9 15 14-8 8-7 6-6 3-12 3-6 4 1-6-3-16 2-18-2-6-4-4-6-3-6 0-2 1-16 12-17 6-2 4-1 2-1 6 2 6 3 4 16 7 12 10 5 3-17 15-6 2-12 3-2-4-4-10 0-8 2-12-2-6-2-4-10-6-6-1-6 2-8 8-6 3-10 3-6 0-3-11-1-6 1-6 3-12 16 3 6 3 8 8 6 2 6-1 10-7 1-6-2-18 2-18-2-6-9-6-6-1-6 2-8 8-6 3-16 4-3-12-1-10 4-14 10 1 6 2 6 3 8 8 6 2 6-1 10-5 3-4 1-4-1-20zM174 222l4-1 6 1 5 6-5 6-6 2-4-1-1-3 0-4zM405 346l1-2 2 0 10 2 6 3 6 5 5 6-2 4-7 7-6 4-8 2-6 1-4-12 0-6 0-6zM57 354l1-1 2 0 6 2 5 5-2 4-5 4-6 1-2-3-1-6zM345 376l1-2 18 6 5 4 9 10-8 8-6 5-6 2-10 2-2-3-4-12 0-6zM-5 384l3-1 2 0 6 1 4 2 6 8-1 3-3 3-6 4-8 1-3-2-2-7 0-6zM54 414l4 0 8 2 6 4 3 4 1 2-1 4-5 6-10 4-6 0 0-2-3-6-1-6 1-6zM410 420l2-1 2 0 6 2 5 5-1 4-3 2-3 2-6 0-3-4 0-4z"/>
<path fill-rule="evenodd" fill="rgb(67,67,67)" d="M288 214l6-1 10 3 5 4 8 8-5 6-6 6-18 7-1-1-1-2-2-16 1-6zM177 226l1-2 2 0 3 2 2 2-2 4-5 1-2-5zM230 246l2 0 2 0 10 2 6 4 8 8 4 2-4 1-12 11-6 2-8 2-4-2-2-8-1-6 2-10zM346 246l2-1 10 1 6 3 6 4 6 9-4 6-6 4-6 4-10 4-4 3-2-3-2-18 1-6zM282 256l1 8 3 6 5 4 15 4 16 13 2 1 6 0 8-4 4-4 1 2-1 6 1 6 1 6 4 3 15 6 7 4 8 11-2 2-6 8-6 4-18 6-5-18 0-6 2-12-1-6-2-4-4-2-8-4-6 2-16 13-14 5-5 2-3 6-1 12-9-7-4-1 4-2 5-4 3-6 0-6-2-16 3-14 0-6-3-6-9-6zM229 312l3 0 12 2 6 4 8 8 4 2-4 1-12 11-6 2-8 2-4-3-3-11 1-8zM284 340l2-2 6 4 14 6 14 12-14 13-8 4-10 1-2-5-3-9 0-6 2-12zM406 348l2-2 10 1 6 3 5 4 4 6-2 4-5 6-6 3-8 3-4 0-1 0-1-3-3-9 0-6zM59 358l1-2 4 1 3 3-2 4-5 1-2-1 0-4zM347 378l1-1 10 2 8 5 9 10-1 2-6 6-4 4-6 2-10 1-2-5-3-8 1-8zM-4 388l2-3 6 0 6 3 4 6-2 2-6 6-6 1-2 0-3-7 0-2zM54 418l4-2 8 2 4 2 4 6-1 4-3 4-6 3-6 1-4-2-2-10zM412 424l2-2 4 2 3 2-2 4-5 2-2-2 0-4z"/>
<path fill-rule="evenodd" fill="rgb(73,73,73)" d="M288 216l4-2 6 1 5 2 7 4 5 7-5 8-6 4-16 5-3-17 1-6zM348 246l10 2 5 2 7 5 4 7-4 6-6 5-16 6-2-3-2-14 0-6zM229 250l3-3 6 1 6 1 5 4 9 9-12 10-6 3-8 1-3-2-3-10 0-6zM284 274l2-2 2 2 16 4 7 4 11 11 5 1-5 2-11 10-5 4-17 6-3 2-2-2-4-22zM338 292l2 0 0 7-6-4-4-1zM344 310l2-3 18 7 6 5 7 9-7 8-6 5-16 5-2-2-4-16zM229 316l3-3 12 3 4 2 10 10-8 8-6 4-6 2-6 0-4-4-2-8 0-6zM277 328l3-3 0 3 0 1zM288 342l12 4 6 3 12 11-8 10-6 4-10 2-2 1-4-1-3-10-1-6 2-14zM407 348l1-1 10 2 5 3 4 2 4 6-4 6-3 4-4 2-6 2-6 0-1-2-2-6-1-6 1-6zM347 382l1-3 12 3 6 3 8 9-5 6-5 5-10 3-6-1-3-7-1-6zM-1 388l5-1 2 2 5 5-1 2-4 3-6 2-2-1-1-6 1-4zM55 420l3-2 8 2 6 6-1 4-5 4-2 1-6 1-3-4-1-2z"/>
<path fill-rule="evenodd" fill="rgb(80,80,80)" d="M290 216l2-1 2 1 10 2 5 4 4 6-4 6-5 5-12 4-3-3-3-8 1-10zM231 250l1-1 2-1 10 3 6 4 6 7-6 6-6 4-6 2-6 1-4-7-1-6 1-6zM348 250l0-2 4 0 8 2 6 4 7 8-4 6-5 4-16 5-2-9-1-6 1-6zM285 276l1 0 2-1 16 4 6 3 12 12-10 10-6 5-6 3-14 3-5-21 1-6zM346 312l2-2 16 5 6 5 5 8-4 6-7 6-6 2-10 2-1-2-4-12 0-6zM231 316l1-1 2 0 10 2 6 4 6 7-6 6-6 5-6 1-6 0-4-6-1-6 1-6zM288 346l0-2 16 5 6 4 6 7-5 6-5 5-6 3-8 1-4-1-3-10 0-6zM407 352l1-3 4 0 8 2 5 3 4 6-1 4-8 6-6 3-6 0-2-7-1-6zM348 382l4-1 2 0 10 3 3 4 5 6-2 2-4 5-6 4-8 2-3-1-3-6 0-6zM0 390l4 0 2 2 2 2-2 2-2 2-4-1-1-3zM57 420l3 0 6 2 4 4-1 4-5 3-4 1-2 0-2-8z"/>
<path fill-rule="evenodd" fill="rgb(86,86,86)" d="M290 220l2-3 8 1 7 4 5 6-5 6-3 4-12 3-3-3-1-6 0-6zM350 250l2-1 6 1 5 2 4 4 4 6-4 6-3 3-6 2-6 2-4-1-2-12 1-6 1-5zM231 252l1-1 2-1 6 1 7 3 7 8-5 6-5 3-6 2-6-1-3-4-1-6zM287 276l1 0 10 1 8 4 6 5 8 8-8 10-6 4-6 3-12 2-1-1-3-6-2-12 1-8zM347 312l1 0 16 5 5 5 5 6-4 6-6 5-6 2-10 1-3-8-1-6 1-6zM231 318l1-1 2-1 6 1 6 3 8 8-5 6-5 3-10 2-2-1-3-4 0-6zM288 348l4-2 12 4 5 4 5 6-4 6-6 5-6 3-6 0-4-3-2-7 0-6zM409 352l3-2 2 0 6 3 4 2 4 5-4 6-4 4-6 1-2 1-3-2-3-10zM349 384l3-2 9 2 4 4 5 6-1 2-3 4-6 3-8 2-3-3-2-6 0-6zM59 424l1-2 4 2 3 2-2 4-5 2-2-2 0-4z"/>
<path fill-rule="evenodd" fill="rgb(92,92,92)" d="M291 220l3-2 7 2 5 2 4 6-6 8-6 3-6 0-3-5 0-6zM232 252l2-1 10 2 3 3 5 6-5 6-3 2-10 2-2-3-2-5 0-6zM349 252l3-2 8 2 5 4 5 6-6 7-6 3-7 2-2-4-2-6 0-6zM287 280l1-3 10 1 6 2 7 6 7 9-7 9-5 4-6 2-12 2-2-5-3-9 0-10zM347 316l1-3 4 1 6 1 6 3 4 4 4 6-1 2-5 5-6 4-8 2-4 0-2-7-1-6zM232 318l2-1 4 0 6 2 3 3 5 6-5 6-3 2-10 2-2-3-2-5 0-6zM290 348l2 0 2 0 10 3 4 3 5 6-5 6-3 4-7 2-7 0-3-6-1-6 1-6zM409 354l3-2 6 1 3 1 5 6-1 4-5 4-2 1-6 1-3-4-1-2 0-6zM350 384l2-1 6 1 6 3 4 7-1 2-7 6-6 2-2 0-3-4-1-6z"/>
<path fill-rule="evenodd" fill="rgb(99,99,99)" d="M294 220l4 0 6 2 4 6-4 7-10 3-2-1-2-9 2-6zM234 252l4 1 6 2 6 7-6 6-4 2-6 1-2-3-1-4 0-6zM351 252l1 0 6 0 6 3 2 3 2 4-4 6-5 2-5 2-2 0-2-2-2-8zM287 280l1-2 4 0 12 3 6 5 7 8-6 10-5 3-8 3-10 1-3-7-2-10 1-6zM349 316l3-1 8 2 6 4 3 3 2 4-4 6-3 3-6 2-6 1-4-2-2-10 1-6zM232 322l2-3 6 0 5 3 5 6-6 7-4 1-6 1-3-7 0-6zM290 352l2-3 8 2 6 3 5 6-4 6-3 3-6 2-6 0-3-5-1-6zM411 354l3-1 6 3 4 4-1 4-5 3-6 1-3-8zM351 388l1-3 6 1 6 3 3 5-2 2-5 5-6 1-2-1-3-7z"/>
<path fill-rule="evenodd" fill="rgb(105,105,105)" d="M293 222l1-1 6 1 5 4 2 2-6 6-7 2-2-2-1-2 0-6zM234 256l0-2 4 0 2 1 4 1 4 6-6 6-4 1-4 0-2-7zM351 256l1-2 2-1 4 1 6 3 3 5-3 4-4 2-8 3-3-9zM288 280l6-1 10 2 5 5 5 6 2 2-4 6-6 6-8 4-6 0-4 0-4-10 0-6 0-6zM349 319l3-3 8 2 5 4 5 6-4 5-4 3-4 2-6 1-3-3-2-6 0-6zM234 322l0-1 4-1 2 1 6 3 2 4-2 2-3 4-5 1-4 0-2-7zM291 352l3-1 4 0 6 3 6 6-2 4-3 2-5 3-6 2-2-1-3-10zM411 358l3-3 4 1 2 2 2 2-2 4-6 2-3-2zM353 388l1-1 4 0 5 3 2 4-1 2-6 4-4 1-2-2-1-5 1-5z"/>
<path fill-rule="evenodd" fill="rgb(112,112,112)" d="M293 226l1-3 4 0 5 3 2 2-5 5-6 2-1-3zM352 256l2-2 6 2 5 6-2 2-5 4-4 1-2-1-1-6zM234 258l4-2 6 2 2 4-2 3-6 2-4-2zM288 282l0-1 4-1 6 0 6 2 6 4 5 8-5 9-6 4-10 3-6-1-3-9-1-6 1-6zM350 318l2-1 2 0 5 1 5 3 5 7-2 2-7 6-8 2-3-5-1-5zM234 324l4-2 2 0 4 2 2 4-2 3-6 3-4-4zM291 354l3-2 6 1 4 2 4 5-5 6-3 2-6 1-2-2-1-3zM413 360l1-2 4 1 1 1-1 3-4 1zM353 390l1-1 4 0 2 1 3 4-3 3-2 2-4 0-1-3z"/>
<path fill-rule="evenodd" fill="rgb(118,118,118)" d="M296 226l2-1 1 1 3 2-3 4-1 0-2 0-2-4zM237 258l1 0 2 0 4 4-3 2-3 1-2-3zM353 258l1-2 4 1 3 1 2 4-3 3-6 2-2-3zM288 282l4-2 2 0 6 1 6 3 5 4 4 6-4 6-5 5-6 3-8 1-4-2-2-7-1-6 1-6zM351 318l3 0 6 2 5 4 2 4-4 6-5 2-7 0-2-8zM237 324l3 0 4 4-3 2-3 1-2-3zM293 354l1-1 4 1 6 3 2 3-1 4-5 3-6 1-1-2-1-5zM355 394l3-2 1 2-2 2z"/>
<path fill-rule="evenodd" fill="rgb(124,124,124)" d="M354 262l0-2 3-1 4 3-3 3-4-1zM289 282l3-1 8 1 6 3 4 3 4 6-7 10-3 2-6 2-6 0-3-2-3-6-1-6 1-6zM351 322l3-2 6 2 6 6-2 2-3 4-3 1-4 0-2-1-2-6zM293 358l1-3 4 0 4 3 2 2-1 4-3 1-2 1-4 0-1-6z"/>
<path fill-rule="evenodd" fill="rgb(131,131,131)" d="M290 282l2-1 2 0 6 1 6 4 3 2 4 6-3 6-4 4-2 2-6 2-6 0-2-2-3-6-1-6 1-6zM354 322l4 0 2 1 4 5-2 2-4 4-4 0-2-3-1-7zM296 358l3 0 3 2-2 4-2 0-2 0-1-4z"/>
<path fill-rule="evenodd" fill="rgb(137,137,137)" d="M291 282l7 0 6 2 2 2 5 6 1 2-1 4-5 5-2 2-6 2-6 0-4-3-2-6 0-6 2-6zM353 324l1-1 4 0 2 1 2 4-2 3-2 1-4 0-1-4z"/>
<path fill-rule="evenodd" fill="rgb(143,143,143)" d="M293 282l5 1 6 2 4 3 4 6-6 8-6 4-8 1-4-7-1-6 1-6 4-5zM354 328l4-2 2 2-2 2z"/>
<path fill-rule="evenodd" fill="rgb(150,150,150)" d="M290 286l2-3 6 0 6 2 2 2 5 7-3 6-8 5-8 1-4-6-1-6z"/>
<path fill-rule="evenodd" fill="rgb(156,156,156)" d="M290 286l2-2 6 0 5 2 3 2 5 6-4 6-7 5-6 1-2-1-3-5-2-6 1-5z"/>
<path fill-rule="evenodd" fill="rgb(163,163,163)" d="M291 286l3-2 4 0 4 2 4 2 4 6-4 7-6 3-6 1-2-1-3-4-1-6 0-3z"/>
<path fill-rule="evenodd" fill="rgb(169,169,169)" d="M292 286l2-2 6 1 6 3 2 4 1 3-3 5-2 2-6 3-4 0-3-1-1-4-2-6 2-6z"/>
<path fill-rule="evenodd" fill="rgb(175,175,175)" d="M293 286l5-1 6 2 3 5 2 2-4 6-5 4-6 0-2-1-2-3-1-2 0-6 3-6z"/>
<path fill-rule="evenodd" fill="rgb(182,182,182)" d="M294 286l4 0 6 2 3 4 1 2-3 6-5 3-6 1-2-2-2-4 0-6 2-5z"/>
<path fill-rule="evenodd" fill="rgb(188,188,188)" d="M291 288l3-2 6 1 4 1 4 6-2 4-2 2-4 3-6 0-2-2-2-3 0-6z"/>
<path fill-rule="evenodd" fill="rgb(194,194,194)" d="M292 288l2-2 4 0 5 2 4 6-1 4-6 4-6 1-2-3-1-2 0-6z"/>
<path fill-rule="evenodd" fill="rgb(201,201,201)" d="M293 288l1-1 4 0 4 1 3 4 2 2-2 4-5 4-6 0-2-2-1-2 0-6z"/>
<path fill-rule="evenodd" fill="rgb(207,207,207)" d="M293 288l1-1 4 0 2 1 4 2 2 4-2 5-4 2-2 1-4 0-1-2-2-6z"/>
<path fill-rule="evenodd" fill="rgb(214,214,214)" d="M294 288l4 0 2 0 4 4 2 2-2 4-4 3-6 0-2-3 0-4z"/>
<path fill-rule="evenodd" fill="rgb(220,220,220)" d="M294 288l6 1 4 3 1 2-1 4-4 2-6 1-1-3-1-4z"/>
<path fill-rule="evenodd" fill="rgb(226,226,226)" d="M293 292l1-3 4 0 5 3 1 2-1 4-3 1-2 1-4 0-1-6z"/>
<path fill-rule="evenodd" fill="rgb(233,233,233)" d="M294 292l0-2 4 0 4 2 2 2-2 4-4 2-4-1 0-1-1-4z"/>
<path fill-rule="evenodd" fill="rgb(239,239,239)" d="M294 292l4-2 2 1 3 3-2 4-3 1-4-1 0-4z"/>
<path fill-rule="evenodd" fill="rgb(245,245,245)" d="M296 292l2-1 2 1 2 2-2 3-2 1-2 0-2-4z"/>
<path fill-rule="evenodd" fill="rgb(252,252,252)" d="M297 292l4 2-3 4-2-4z"/>
</g></g></g>
<g clip-path="url(#clc)"><g filter="url(#vf)"><rect x="79.6" y="308.5" width="253.6" height="278.1" fill="rgb(1,1,1)"/>
<g transform="translate(87.6,316.5) scale(0.5)">
<path fill-rule="evenodd" fill="rgb(4,4,4)" d="M-14 -14l506 0 0 554-506 0z"/>
<path fill-rule="evenodd" fill="rgb(6,6,6)" d="M-14 -14l79 0-1 2 1 4 4 2 9 4 6 2 4-3 3-11 86 0-1 6 0 6 2 2 4 4 10 5 12 8 7 2 3-1 2-2 2-4 0-18 1-8 40 0 5 3 4 1 6-1 5-4 12 1-3 2 0 6 1 6 2 4 19 8 9 6 5 3 4 0 5-3 3-5 0-15 1-12 41 0 6 1 6-1 23 0-2 2 0 4 1 2 2 4 16 6 12 7 2 1 3-2 1-2 0-14 1-8 43 0 0 31-14 9-3 2-1 2 0 4 2 2 16 11 0 32-6 4-14 7-3 4-1 2 0 4 4 4 11 5 9 7 0 27-8 6-12 5-4 3-1 5 1 5 4 3 12 5 8 7 1 27-9 7-10 4-2 2-1 4 0 2 3 4 18 9 0 44-2 3 0 4 2 2 0 246-56 0-1-6-3-3-2 0-6 1-3 2 1 4 5 2-93 0-1-12 0-14-1-4-2-3-6-3-6 2-12 7-12 5-2 2-3 2-1 6 1 6 3 4 4 2-14 0-6-5-6-2-2 0-6 3-7 4-35 0-3-12 0-14-2-4-5-1-5 1-9 7-16 9-2 2 0 6 1 4 3 2-196 0zM18 27l-8 3-1 4 9 5 4 1 2 0 2-4-2-8-2-1zM82 63l-2 3 4 4 4 0 0-7-4-2zM148 17l-15 11-2 2 2 4 3 2 8 7 6 3 4-4 0-20-1-4-3-1zM204 42l-12 9-12 7-3 2 0 6 1 4 2 2 12 6 10 7 6 2 6-3 3-2 1-4-1-14 1-16-2-4-2-2-4-1zM262 6l-10 8-15 8-3 2-2 6 3 6 15 8 12 9 6 2 6-2 3-5 1-6-1-14 1-16-1-2-2-4-5-2-2 0zM321 39l-11 9-16 7-2 3-2 6 2 4 2 3 16 7 12 8 6 1 4-3 2-2 1-4-1-15 1-17-2-4-3-2-6-1zM378 9l-12 8-12 5-2 3-2 5 2 4 3 2 11 5 12 8 4 1 2-1 4-3 0-34-4-4-2 0zM441 47l-11 8-12 5-3 4-1 2 1 4 4 2 7 4 12 9 6 2 6-3 3-6-2-14 0-12-1-4-2-1-4-1zM24 81l-24 10-2 3-1 6 3 4 12 5 12 7 4 1 2-1 3-4-1-24-2-6-2-2zM88 114l-12 8-12 6-4 4 1 4 4 2 7 4 12 10 6 1 7-3 3-3 0-5-2-24-2-3-2-2zM150 78l-26 16-3 2-1 4 1 2 4 4 7 4 11 8 5 1 6-1 2-3 2-3 1-4-1-12 0-12-2-3-2-2zM208 105l-6 2-12 9-10 4-3 4-1 2 1 4 3 2 24 12 4 0 2-1 3-5 2-20 0-6-1-3-4-3zM264 71l-14 11-12 6-4 2-1 4 1 5 4 2 12 6 12 7 6 2 6-3 2-5 2-26-2-5-2-4-4-1zM324 105l-2 1-12 9-9 5-2 4 0 2 3 4 14 7 8 6 4 1 2 0 3-2 1-4 2-24 0-2-2-4-5-2zM382 75l-12 8-17 7-2 4-1 2 2 5 2 3 12 6 16 10 6 1 5-3 3-6-2-16 1-12-1-4-4-3-3-2zM442 105l-16 10-14 7-4 4 0 4 1 2 3 4 14 7 12 9 6 2 6-2 4-4 1-6-2-12 2-16-2-4-3-3-2-2zM24 141l-12 8-14 6-4 4 0 3 0 4 4 3 14 7 12 8 6 2 4 0 4-2 2-4 1-2-1-16 1-12-2-6-4-2-5-2zM88 171l-16 10-12 6-3 3-1 2 0 4 2 2 4 4 10 4 12 8 6 2 6-2 2-4 0-14 1-16-3-6-4-2zM144 140l-12 8-14 7-4 4 0 3 1 4 3 2 26 12 4 0 2-2 2-4 2-26 0-4-4-3-2-1zM186 324l-1 4 1 1 4 1 2-1 2-1-2-4zM202 381l-11 7-4 2-1 4 2 2 16 12 4 1 2 0 3-3 0-4-1-18-2-2-2-2zM262 150l-4 4-1 2 1 2 4-2 1-2zM316 396l-5 4 1 2 6 7 4 1 2 0 2-4-2-9-2-3zM382 138l-12 9-11 7-3 2 0 4 0 2 2 4 14 7 10 7 6 2 4-2 2-2 0-18 2-12-2-6-4-3-6-2zM442 171l-16 10-12 6-2 3-2 6 2 5 2 3 12 5 12 9 6 1 6-3 4-5-1-15 2-16-1-4-4-3-2-2zM24 207l-12 8-12 5-2 3-1 6 1 3 4 2 10 4 12 7 4 1 2 0 5-3 2-3 2-26-3-6-2-3-4 0zM88 242l-14 10-3 4 0 2 3 4 10 6 6 1 4-3 2-20-2-3-4-1zM138 216l-18 7-2 3 0 2 1 4 5 2 14 6 4 0 2-2 0-4 0-14-1-4-1-1zM208 444l-18 12-2 4 1 2 3 4 12 8 4 2 2 0 2-2 2-2 0-22-1-2-2-4zM258 411l-18 10-3 4 1 5 2 2 12 7 12 9 6 0 4-2 1-4-1-25-4-5-2-2-4 0zM322 441l-25 13-4 2-1 4 2 6 3 2 9 5 15 8 3 0 4-2 1-7-1-28-4-2zM370 489l-9 3-1 4 3 2 9 5 4 0 2-1 0-8-2-4-4-1zM385 210l-10 10-2 2 1 4 6 6 4 2 4 1 2-3 3-16 0-2-2-4-3 0zM438 240l-18 12-3 4 0 2 1 4 2 4 16 8 6 2 2-1 3-5 2-24-1-3-2-3-4-1zM142 279l-14 9-2 4 2 2 4 4 15 8 3 1 4-3 0-22-3-2-3-2zM268 471l-6 3-12 8-10 5-3 3-2 6 1 2 3 4 13 7 10 8 6 2 2 0 5-3 2-2 1-6-2-12 1-18-3-5-4-1z"/>
<path fill-rule="evenodd" fill="rgb(9,9,9)" d="M-14 -14l68 0 1 6 4 6 4 2 13 5 12 8 2 1 4-1 2-3 0-16 1-8 49 0 8 3 6-1 6-2 1 2 2 12 3 6 19 10 16 14-17 15-16 6-2 2-3 5-1 6 0 6 2 6 4 2 10 4 6 3 10 11-9 10-5 3-18 6-2-19 1-14-1-6-4-4-6-2-6-1-2 2-16 11-17 8-2 4-2 6 1 6 2 4 16 8 13 12-17 12-14 5-2-3-3-12 1-14-2-6-3-4-3-2-6-1-6 1-16 11-16 7-4 2-2 6 0 6 2 3 4 3 14 6 12 12-12 12-6 3-12 3-4-18 1-12 0-6-3-5-4-3-8-5-6-1-6 2-10 8-8 4-10 2-1-2-1-3-3-9 0-6 3-12 2-2 16 4 12 10 6 3 2-1 6-4 4-4 1-6-2-18 0-14-3-6-2-3-6-2-4 0-14 9-18 5-2-1-4-17 1-19-1-5zM28 11l-16 9-14 6-4 4 0 4 0 2 4 4 14 7 10 6 6 1 2-1 4-3 1-4-1-16 0-14 0-4-4-1zM90 45l-18 11-9 4-2 4 0 2 2 4 9 4 14 10 4 2 4 0 2-1 3-3 0-4-1-12-1-18-3-3zM150 6l-5 4-9 7-14 7-3 4-1 2 0 4 2 3 12 6 16 12 6 1 6-2 3-6 0-6-1-12 1-14-1-4-2-4-4-2zM228 -14l19 0 7 6 3 6-5 6-6 4-6 3-12 3-3-16 1-6zM344 -12l2-2 19 0 13 12-15 11-15 5-2-2-3-12 0-6zM456 -14l36 0 0 23-8 6-15 7-2 2-2 6 0 6 3 6 16 7 9 8-1 11-3 4-5 5-6 2-12 4-4 0-3-19 1-12-1-6-1-4-4-3-6-2-4 0-4 3-14 10-18 7-3 3-1 4-1 6 3 6 4 2 14 6 7 6 5 6-9 10-7 3-12 4-2-1-4-16 1-18-3-6-12-6-6-1-4 2-14 11-18 5-2-1-3-18 1-10 4-12 18 6 14 11 4 1 6 0 2-2 4-4 2-6-2-20 2-18-1-6-5-6 3-4 7-1 5 7 3 3 16 5 6 4 12 9 6 1 6-3 1-3 1-6-2-12zM287 16l1-2 4 0 12 3 6 5 7 8-7 9-6 3-16 5-2-8-2-9 1-6zM228 46l12 2 6 3 8 7 4 6-12 11-6 3-12 2-3-16zM287 82l1-3 16 4 6 5 8 8-12 12-14 7-4 5 0 6 2 4 4 4 18 8 12 9 4 1 6 0 4-2 3-2 2-6 0-12 0-6 3-10 2-2 12 3 5 3 7 6 5 6-11 10-14 7-3 3-2 6 1 10 2 2 4 4 16 7 14 12 6 1 10-1 0 9-10-2-6 2-2 2-12 11-10 7-1 2 0 4 1 3 12 7 12 9 4 1 6 1 4-3 2-4 1-14 3-16 2-1 14 6 6 4 12 9-12 11-12 7-2 3-3 7 1 6 1 6 3 2 24 14 4 0 5-1 5-3 2-4 0-2 0-16 3-17-2-7-5-6 4-2 2-2 3 2 2 6 5 4 18 7 9 6-1 25-6 5-10 7-2 2 0 4 2 2 16 10 0 236-45 0-4-20-1-4-4 0-25 10-5 6-1 8-6 0-13-6-6-1-6 2-8 5-26 0-3-12 1-20-3-6-7-5-6-3-2 0-6 3-12 9-6 2-10 1-3-7-1-10 3-14 1-3 16 5 12 9 6 3 6-1 6-5 2-6 1-2-2-16 0-20-1-4-4-3-4-3-4 0-4 1-14 10-12 3-6 3-2-1-2-18 0-12-2-6-3-4-7-4-6-2-2 0-4 1-12 8-12 4-3 3-3 6 1 8 2 5 3 2 16 6 12 11 6 4-6 4-12 11-18 8-4 3-1 4-1 8 2 6 4 4 14 6 6 6 5 6-1 2-5 6-8 5-2 1-12 0-4-12 1-14-1-6-2-4-3-2-10-2-6 2-12 10-18 9-2 4-2 3-1 12-9-3-6-1-6 1-5 3-46 0-4-14-3-4-2 0-22 10-3 2-2 6-75 0 0-283 3-17 3-1 18 6 14 9 6 0 6-3 6-4 2-3 0-18 4-22 6 3 16 5 18 14 6 0 6-2 2-2 4-6 1-6-2-14 3-22 18 6 16 8 2 1 6-2 8-7 2-6 0-14 2-16 0-6-2-2-5-6 4-4 3-2 4 8 3 4 5 2 16 6 12 7 2 1 6-1 7-3 3-4 1-2 0-16 4-20 1-1 6 3 15 5 15 10 2 1 6-1 10-5 5-6-1-18zM324 174l-13 12-3 4 0 2 3 4 13 9 4 1 2 0 4-4 2-22 0-2-2-4-4-1zM384 279l-16 13-2 2 0 4 3 3 13 8 2 1 4 0 2-2 3-4 1-18 0-4-1-2-3-2-2 0zM435 309l-12 9-1 4 1 2 6 4 9 2 4-2 2-12 1-4-2-2-1-2-4 0zM24 270l-20 14-2 2-1 2 1 4 4 2 22 9 2-1 1-2 4-18 0-6-1-3-4-2zM88 231l-16 13-12 6-2 3-1 5 1 4 4 2 10 5 17 11 5 1 6-3 2-4 1-16 2-14-1-6-4-5-6-2zM138 204l-12 7-14 6-5 5-1 6 2 6 4 4 18 7 11 7 3 1 4 0 2-3 2-4-1-18 2-18-3-4-2-2-4-1zM205 174l-3 1-12 7-10 5-2 4-1 1 2 4 23 9 2 0 2-1 2-4 1-20-1-4zM264 135l-2 1-12 9-10 5-3 4-1 2 1 4 3 2 24 12 4 1 3-3 4-28-1-4-4-3-2-2zM322 381l-12 8-12 5-4 3 0 5 4 5 8 5 12 8 4 2 2 0 6-3 4-3 1-4 1-4-3-24-1-2-2-2-2-1zM372 354l-12 5-1 1-1 4 1 2 5 4 12 4 2 0 3-4 0-4-2-12-1 0-2-1zM90 312l-5 4-5 6 0 2 2 3 6 3 2-1 4-9 0-5zM142 270l-12 8-9 4-3 3-2 3 0 6 2 4 4 2 14 7 12 9 6 1 6-3 2-4-1-16 1-12-1-2-1-4-4-2-6-4-6-1zM196 255l-17 7-3 2 0 4 2 3 4 3 14 5 5 1 3-4 1-2-2-16-1-3zM255 357l-14 7-2 2 1 4 3 2 15 11 4 1 2-1 4-2 1-5-5-18-2-2zM372 414l-18 6-3 4-1 2 1 4 3 3 22 9 2 0 2 0 2-4 0-22-4-3zM150 339l-6 3-15 12-1 4 1 2 4 4 15 10 2 1 4 1 2-2 2-4 2-25-4-5-2-1zM196 309l-17 7-5 2-2 6 0 6 2 4 4 3 12 4 8 5 4 1 2 0 3-5 0-26-1-4-3-2-5-2zM376 477l-10 4-14 6-4 3-1 2 0 6 1 4 4 2 12 5 12 7 6 2 4-2 2-2 1-4-2-26 0-4-3-3-2-2zM151 414l-9 6-3 4-1 2 1 4 2 2 9 7 4-2 0-1 1-16-1-5zM202 372l-22 12-2 4-1 2 0 6 3 5 12 7 13 10 5 2 4-1 6-3 2-4-2-31-4-4-6-4-5-1zM150 480l-19 12-2 4 0 2 3 4 12 10 6 3 6-1 1-4 1-2-3-24-1-3zM208 435l-16 11-12 8-2 2 0 6 2 5 12 7 12 10 6 3 4-1 6-3 2-5-1-18 1-16-2-6-4-2-6-2zM464 114l2-2 14 4 9 8 3 4 0 3-6 7-5 4-7 2-8 2-4-8-1-8zM405 148l1-2 2 0 12 3 8 5 7 8-11 12-18 7-1-1-3-18zM-7 180l1-1 10 2 6 2 5 3 9 10-10 8-4 4-16 4-2-2 0-2-3-12 1-6zM464 180l1-2 15 4 6 5 6 7 0 3-1 1-7 8-6 4-12 4-3-4-2-14 1-6z"/>
<path fill-rule="evenodd" fill="rgb(11,11,11)" d="M-14 -14l37 0 5 3 6 1 14-4 4 8 4 6 16 8 16 10 2 1 4 0 2-1 3-2 1-4-1-14 2-12 40-1 7 7 10 6-10 4-16 13-14 7-3 2-1 3-1 7 1 2 3 4 15 8 17 16-19 16-19 8-3 3-4 9-2 0-6-1-6 0-6 4-12 10-6 3-18 6-1-2-5-20 1-22-3-5-10-6-6-1-2 1-10 6-6 3-12 2-3-6-1-8 2-16 2-2 16 5 9 7 5 2 6-1 6-5 2-2 1-6-2-16 2-14-1-6-2-3-2-2-7 1-15 10-15 6-6 2-5 6zM88 42l-12 8-18 9-4 4 0 3 1 4 4 2 13 7 16 12 6 2 6-2 2-3 2-4 0-6-2-14 0-16-2-5-4-2-6-1zM234 -12l6 1 5 3 3 2 1 4-5 5-4 2-6 0-1-1-2-5 0-5zM353 -12l5 1 2 1 6 4 1 4-7 6-6 1-2 0-1-1-2-6 0-4 3-5zM461 -14l27 0 5 5-1 12-8 8-16 6-6 3-1-2-3-20zM402 6l22 6 6 4 8 8 10 6 2 0 4-1 2-2 1 3-13 2-6 3-8 8-6 4-22 7-1-2-4-22 1-8zM169 16l3-3 14 5 8 6 4 6-6 7-6 5-14 4-2 0-1-3-3-12zM294 22l6 0 7 6 1 2-2 4-6 3-6 2-2-3-2-8 2-4zM349 52l3-2 8 2 8 6 4 6-5 6-4 2-5 3-7 1-3-2-2-10 1-6zM466 52l2-3 12 4 6 5 3 6-4 6-5 3-6 2-6 1-2-5-2-7zM234 54l6 1 5 3 3 2 1 4-5 5-10 3-1-2-1-4-1-6zM174 88l0-1 4 0 6 2 5 5 1 2-6 7-10 2-2-8zM294 88l4-1 6 3 3 4 1 2-5 6-9 4-2-1-2-9 1-6zM410 88l2-1 2 0 6 2 5 5 1 2-6 6-8 3-2-3-2-6 0-4zM230 114l2-1 12 3 6 4 10 10-14 11-12 7-3 2-1 4 2 6 5 6 13 5 14 8 4 1 2-1 4-1 1-4 1-14 3-18-1-6-3-6 5-4 8 10 22 8 14 12 6 2 10-1 1 3 2 8 2 4 4 2 17 8 6 4 8 10-10 11-14 9-2 4 0 2 1 6 3 4 14 8 12 9 4 2 2 0 6-1 10-5-1 13 1 6 2 6 4 4 12 5 12 9 2 1 6-1 10-5 3-3 2-6-1-16 4-15 4-1 14 4 6 3 6 6 0 13-8 8-13 6-2 4-1 2 1 6 3 4 12 4 8 6 0 42-5 4-2 4 1 2 6 6 0 122-6 4-2 4 2 2 6 7 0 35-42 0-2-12 0-13-3-5-3 0-4 0-14 8-14 4-3 4-5 7-2 1-18-7-4 0-12 9-6 3-3 1-9 0-4-8 0-6 2-12 1-4 1-1 16 5 12 9 2 2 6-1 6-5 2-3 1-6-2-14 0-16-1-2-2-4-4-3-6 0-14 7-22 7-4-23 0-6 2-12 0-6-1-2-7-10 5-6 3-6 0-6-2-12 0-14-2-4-2-2-4-2-6 1-12 8-17 7-4 4-2 2-1 6 2 6 3 4 12 6 10 8-6 6-5 5-6 2-6 1-4-4-1-6 0-16-1-2-4-5-14-9-6-1-6 2-12 8-16 5-3-16 0-12-1-6-7-5-7-4-6-2-6 2-8 6-13 7-3 3-2 5 1 6 2 6 4 4 11 4 14 13 7 3-7 5-12 11-14 8-3 4-1 2 0 6 2 6 3 4 13 7 16 13-16 15-6 4-14 6-5 5-5 9-12 0-6 3-6 6-36 0-4-12-1-12-3-2-4 0-12 7-16 7-4 6-1 6-71 0 0-258 3-6 1-18 4-12 6 1 6 1 6 3 10 7 2 2 6-1 6-2 10-6 3-5 1-6-1-14 3-10 2-3 10 1 6 3 6 5 5 6-5 7-6 5-15 6-3 4-1 6 1 6 2 2 4 3 14 6 18 12 4 0 6-1 6-4 2-6-1-16 5-13 8 2 6 2 15 10 7 0 2-2 5-5 2-6-2-18 2-18-2-6-5-4-2-2-6-2-6 3-10 7-12 3-1-1-1-3-2-9 1-6 2-6 1-2 10 2 4 2 10 8 4 1 2-1 6-2 10-7 3-5 1-6-1-14 2-6 3-12 10 2 8 3 16 9 2 1 6-1 10-6 5-6 1-2 0-16 1-6zM258 218l-10 8 1 2 4 4 9 2 2-4 1-10-1-2-2-1zM328 167l-6 4-12 11-8 4-3 4 0 2 2 4 15 7 8 7 6 2 4-1 2-2 3-5 0-12 3-14-2-6-3-4-3-1zM388 273l-4 1-12 10-12 7-1 3 0 4 2 2 18 12 5 3 4-1 6-2 2-3 2-5 1-24-1-4-3-2-5-2zM436 302l-10 7-9 7-3 2 0 4 0 2 3 4 25 10 2 0 2-4 3-24-1-5-4-3-2-1zM24 264l-2 1-12 9-12 6-3 6 0 2 3 6 2 2 16 6 12 7 3 1 3-1 2-5 1-12 3-16-2-6-4-5-4-1zM90 306l-6 3-14 13-1 2 2 4 14 8 5 4 4 0 3-4 3-24-1-2-2-4-3-1zM142 264l-14 10-12 6-3 2-1 4-1 6 2 6 1 2 5 4 13 6 12 9 6 4 4 0 6-2 6-4 1 1-1 6 1 10 5 5 14 6 12 7 6 1 4-1 2-4 1-6-1-14 0-15-2-6-6-4-6 0-10 5-14 4-4 4-2-18 1-16-1-6-4-3-12-8-6-1zM204 168l-6 2-12 9-11 5-3 2-1 6 1 4 3 2 17 8 10 5 6 1 2-2 1-2 1-16 2-14-1-4-3-3zM264 348l-26 12-4 3-1 3 1 6 2 4 10 5 10 7 6 3 6-2 2-3 3-8-4-26-1-3zM322 255l-4 3 0 3 4 3 2-2 1-4-1-3zM378 345l-24 12-2 7 1 2 1 4 22 11 2 0 4 0 2-3 2-6-2-26-2-2zM432 456l-7 4-2 2 2 4 6 2 5 2 2 0 2-4-2-9-2-2zM150 333l-6 3-8 9-11 7-3 2-1 4 1 2 2 4 14 8 10 7 6 2 6-2 2-4 1-15 2-18-3-5-2-2-6-2zM204 246l-30 13-4 5 0 6 2 4 3 2 11 5 10 5 5 0 3-2 4-4 1-6-1-24zM322 321l-9 7-2 2 1 4 10 8 6 3 2-2 1-3-2-16-1-3-4-1zM372 408l-8 5-16 5-2 2-2 4-1 6 2 2 3 4 18 7 10 5 6 1 2-2 3-5-1-30-2-3-2-2-4-1zM150 408l-20 16-1 2 1 4 15 12 5 3 4 0 3-1 3-2 0-28 0-2-3-4-3 0zM154 474l-6 2-12 9-9 5-4 2-1 4 0 2 2 4 12 7 12 11 6 1 6-2 2-5 1-4-3-14 0-16-1-2-3-3zM-3 120l3 0 6 2 6 4 2 4-8 6-6 2-2-1-3-7zM114 120l4-1 6 2 6 5 1 4-5 6-8 2-4-2-1-4 0-6zM351 120l3 0 6 2 6 4 1 4-7 6-8 3-2-3-1-6zM471 120l3 1 6 2 3 3 2 4-6 6-7 2-3-2-2-6 1-7zM56 154l2-1 6 1 4 2 3 4 1 2-6 7-8 2-3-3-1-2 0-6zM411 154l3 0 6 2 4 4 2 2-6 7-9 2-2-3-1-6 1-6zM471 186l7 2 2 2 5 6-5 6-8 2-4-2-1-6 1-7zM-4 190l2-3 6 0 6 4 3 5-7 6-6 2-2 0-3-8zM411 220l3-1 6 3 7 6-7 7-12 7 0-2-1-12 1-5zM228 444l0-1 4 0 8 3 7 3 5 5 5 6-2 2-5 7-6 4-12 3-4 0-3-16zM291 486l3-2 8 2 7 6-2 4-7 5-2 1-5 0-1-3-2-3zM232 520l2-3 9 3 6 6-1 2-3 4-5 2-6 1-3-7z"/>
<path fill-rule="evenodd" fill="rgb(14,14,14)" d="M-14 -14l33 0 9 6 6 2 12-3 5 9 3 3 18 7 16 11 6 2 6-3 3-4 0-6-1-12 2-12 33 0 9 8 1 4-15 14-14 7-5 3-3 6 0 6 2 5 2 3 12 5 6 4 7 7 4 6-8 8-5 5-6 2-12 4-4-1-3-18 1-19-2-3-3-2-7-3-6 1-16 11-18 8-3 3-1 4 0 6 2 2 5 4 9 3 6 3 15 14-11 11-6 4-6 3-12 2-3-2-1-2-3-12 0-6 2-12-1-6-4-6-8-7 7-9 1-6-2-17 2-19-1-6-1-2-4-3-6-1-6 4-8 7-6 4-18 5-4-3-2-11zM464 -14l18 0 7 6 3 6-6 7-6 4-6 2-8 2-4-9-1-6 1-6zM404 12l2-1 6 1 11 4 8 6 6 6 1 2-8 10-6 4-6 3-12 2-5-9-1-9 1-9zM172 22l2-3 10 2 4 3 3 4 1 2-5 6-3 3-10 2-2-5-2-6zM-5 54l3-2 8 2 6 4 5 5-11 9-8 1-3-3-1-6zM353 58l1-2 5 2 4 2 1 4-4 4-6 1-2-3-1-2 0-4zM470 58l2-2 6 1 3 3 1 4-4 4-6 1-3-5zM232 120l2-2 9 2 4 4 5 6-5 6-3 2-12 5-1-1-2-12zM283 142l3-3 20 6 6 4 15 13-17 16-12 7-3 5 0 2 3 4 14 8 12 9 4 1 6 0 6-3 3-6 0-15 3-9 2-2 16 4 7 7 4 6-7 8-14 9-2 3-1 6 1 6 1 4 4 2 15 9 12 10 6 2 10-1 1 2 3 18 4 3 16 6 12 9 6 1 6-2 8-5 6-6 1-6-1-16 4-11 6 0 8 2 6 5 6 7-3 7-5 4-16 8-3 2-1 6 1 6 3 4 16 7 8 5 0 36-11 8-2 4 1 2 12 9 0 51-4 4-2 2 1 4 5 4 0 51-12 7-2 4 1 2 13 10 0 32-39 0-2-12-1-14-2-5-4-2-2-1-4 2-14 8-16 4-3 2-5 5-4 1-2-2 2-12-3-18 1-17-4-6-6-5-6-1-2 1-16 8-12 3-2 0-5-17 0-8 3-12 2-2 14 3 16 9 2 1 6-2 3-3 2-6-1-16 1-12-1-6-4-3-2-2-6 0-12 7-18 5-5-19 0-18-5-5-6-2-6 1-14 10-20 8-3 4-5 7-6-2-7-5 5-6 1-4 1-6-3-14-1-16-2-2-2-1-5 1-13 7-13 5-5 2-2 4-1 8 3 6 2 3 10 3 10 10-8 7-6 3-6 1-2-1-3-10 0-12-3-6-18-11-6-1-4 1-12 8-11 5-3 4-2 2-1 6 1 10 2 3 2 3 17 8 11 12-10 12-18 10-2 5-1 3 0 10 3 6 16 8 12 12-4 6-8 8-6 3-16 5-5-18 0-18-1-4-5-2-6 0-15 10-14 8-3 2-1 4 0 2 2 5 16 10 8 9 5 4-15 14-29 0-3-8-2-18-4-3-2-1-4 0-12 8-18 9-3 5-3 8-11 0-9-2-4 0-5 2-39 0 0-254 2-2 2 2 1 6 6 6 19 7 12 7 2 1 4-1 4-2 1-4 1-14 3-18-2-6-2-6 3-3 4 0 3 5 4 4 19 7 18 13 6 1 10-3 1 2 2 10 4 6 17 7 6 4 8 8 7 5-7 4-12 11-12 9-2 6 2 6 16 9 14 11 4 0 6-1 5-5 2-2-1-18 3-12 3-2 14 4 10 7 6 3 6-2 2-2 4-5 0-4-2-17 1-16-3-6-2-3-6-3-6-1-12 5-10 3-2-3-2-10 2-10 1-2 1 0 10 2 12 6 2 0 5-2 7-6 2-6-1-14 0-12-1-4-1-2-5-2-2 1-12 7-16 6-5 2-4 6-3 3-8-5 4-6 2-6-3-22 2-20-1-6-5-6 4-4 9-7 2 11 4 4 2 2 16 5 14 8 4 1 4-2 2-4 1-2-1-16 3-12 0-6-3-6-4-2-2-2-6 0-3 1-13 10-12 4-6 4-2-21 1-6 4-8 1-1 2 0 10 2 6 3 8 7 6 2 6-1 16-8 1 8 4 6 6 3 13 4 12 8 6 2 6-2 3-3 2-6 0-12zM324 246l-11 10-3 2-1 4 3 2 10 7 2 2 4 0 1-3 1-2 1-19-1-3-2 0zM388 269l-6 4-10 8-13 7-3 4-1 2 0 4 2 2 3 4 10 5 8 7 6 2 10-3 6-5 2-6 0-10 1-12 0-6-3-5-6-2zM438 297l-6 3-8 7-10 5-3 4-1 6 2 4 2 3 16 7 12 7 2 0 4-1 1-2 3-30-1-6-3-4-6-3zM28 348l-4 1-9 5-3 4 1 2 9 5 2 0 4-1 1-12zM88 303l-12 11-12 8-1 2 2 4 13 7 11 7 5 2 4-2 2-2 3-30-1-4-2-2-4-2-2-1zM150 405l-24 17-3 4 2 4 3 2 8 5 12 10 6 2 6-2 2-3 2-2-1-16 1-12-1-5-3-3-6-2zM264 210l-21 12-3 4 1 2 4 4 17 8 2 1 4-3 1-22-1-5zM324 315l-19 13-2 2 2 4 17 13 6 2 2 0 4-2 1-7-3-22-2-3-2-1zM378 341l-8 6-17 7-3 4-1 6 1 6 2 2 23 12 3 1 4-1 4-2 2-4 0-6 0-12 0-14 0-4-4-2-2 0zM438 384l-12 6-3 4 1 2 14 8 4-2 0-8 0-9zM22 489l-10 4-3 3 2 2 13 10 4 1 2-1 1-4-2-12-1-3-4-1zM84 387l-2 3-1 4 3 2 4 2 2-4 0-8-2-1zM256 288l-8 4-4 2 2 4 11 6 5 1 2-1 0-2 0-14-2-2zM436 450l-18 9-3 3 3 4 20 11 4 0 2-3 0-2-1-18-1-4-4-1zM84 458l-2 2 0 2 2 4 4 2 1-2-1-6 0-2zM117 190l1-1 6 1 6 6-6 5-6 1-3-4 0-2zM55 220l3-2 7 2 5 2 4 6-4 6-4 3-12 4-2-13zM-4 252l2-1 8 2 5 3 6 6-5 6-6 3-8 3-4 0-1-12zM114 252l0-1 3 0 7 1 5 4 7 6-10 8-12 4-1 0-2-10 0-6zM293 420l1-1 6 1 4 3 2 3-1 4-5 3-6 1-1-2-1-6zM232 451l2-2 10 3 2 2 5 6-1 2-4 4-6 4-6 1-2-2-3-9zM350 516l2-1 2 1 10 3 6 7-1 2-9 7-8 1-2-2-2-6 0-6z"/>
<path fill-rule="evenodd" fill="rgb(17,17,17)" d="M-12 -15l28 1 12 12-12 11-6 3-6 3-12 1-6-16 1-8zM105 -12l1-2 28 0 8 8 1 4-11 12-6 3-11 4-6 5-3 6 0 8 0 2-10-4-6 0-6 3-12 10-19 7-11 10 3-16-3-14 0-6 3-16 0-12 1 0 4 4 4 2 18 6 16 12 2 2 6 0 6-3 3-5 1-2-2-18zM468 -14l10 0 6 4 3 4 1 4-4 5-4 3-8 3-4 0-1-3-2-6 0-6zM407 15l1-1 6 1 10 3 6 6 4 6-5 6-5 5-6 3-10 1-3-3-2-6-1-6 2-8zM177 24l7 3 1 4-5 3-2 1-2-1 0-6zM109 46l3-2 14 6 6 4 6 6 1 4-5 6-4 4-10 4-6 1-3-1-3-8-1-6zM0 58l6 1 4 5-4 2-6 2-2-4 1-4zM50 78l2-2 18 7 6 5 6 8-6 8-6 5-10 3-6 1-2-1-4-10-1-6zM235 126l3-2 2 1 3 1 2 4-2 2-5 3-4-1zM285 144l3-2 16 4 8 6 9 10-11 13-15 9-2 2-1 6 1 4 3 2 16 8 12 9 6 2 10-3 4-4 2-6 0-12 2-7 2-1 2-1 2 0 9 4 4 3 4 6-4 6-3 2-10 5-4 5-1 2-1 6 3 10 3 3 16 8 14 12 12 5 2 2-2 2-6 1-6 3-14 13-14 7-2 4-1 6 1 2 2 4 14 7 9 7 5 2 4 0 9-4 7-6 1-6 0-12 2-10 1-1 12 4 13 9-9 9-12 7-3 2-2 6 1 6 5 6 17 8 12 7 2 1 4-1 2-3 1-2 1-16 3-14-1-8-5-8 7-4 4-1 1 5 6 6 17 7 8 6 0 30-15 11-2 4 1 2 3 4 13 7 0 46-8 7-3 2 1 4 10 7 0 46-17 9-1 3 1 3 17 13 0 29-37 0-3-12 0-14 0-4-2-2-6-4-6 1-12 7-6 3-18 5-2 0-5-24 0-18-3-6-8-6-6-2-2 1-16 9-12 2-1-2-3-8-1-6 3-11 2-5 12 2 13 8 5 2 6-2 5-4 2-6-1-18 1-14-1-4-2-3-4-3-6-2-6 1-11 7-13 2-1-2-4-12 1-18-1-2-3-4-10-4-6 1-14 11-20 8-10 7-3-2 1-11-3-18-1-16-1-2-3-3-2-1-4 0-14 9-18 7-5 6-1 5-4 0-16-9 4-2 4-3 2-7-2-18 1-18-1-5-6-6-10-5-6-1-8 4-6 2-3-3-1-4 1-2 3-4 6 2 6 3 6 1 6-2 8-7 3-5 1-4-2-14 1-16-3-5-2-2-4 0-2 1-12 8-18 6-10 5 0-13-3-18 3-20-1-10 1-1 10 6 18 6 14 9 6-1 5-3 2-6-1-16 3-18-1-6-3-6 5-3 2 0 5 7 4 2 19 7 14 10 6 0 6-3 4-4 1-4 0-14zM324 243l-20 15 0 4 3 2 17 12 4 1 2 0 2-3 2-28-4-4-2 0zM378 338l-12 8-13 6-4 2-2 6-1 6 2 6 3 4 13 5 8 6 6 1 8-4 4-6 1-6-2-12 2-14-1-4-2-4-4-1zM438 380l-19 10-2 4 1 2 20 12 4 1 3-3 0-22-1-3-2-2zM264 207l-12 8-14 7-1 4 0 2 2 4 25 12 4 0 2-4 2-26-2-5-2-2zM324 312l-12 8-12 7-1 3 1 4 12 8 10 8 2 2 6 0 6-4 1-2-2-18 0-10-2-6-3-1zM436 447l-10 5-11 4-3 4-1 2 1 4 4 2 10 5 12 7 4 1 2-1 3-6-1-24-2-3-2-2zM262 282l-21 10-2 2 0 4 5 2 18 10 2 0 4-4 0-20-2-4-2-1zM174 150l6 1 6 2 10 9-6 7-6 4-10 2-2-1-2-8 0-6 2-7zM58 226l2-3 4 1 4 4-2 4-5 2-3-2zM467 252l1-2 10 1 6 4 5 7-5 6-4 3-12 4-2-1-2-10 1-6zM-1 258l1-1 4 0 3 1 3 4-4 3-6 3-2-4zM117 258l1-1 2-1 5 2 3 4-4 4-6 2-2-4zM46 270l2-2 18 6 10 5 8 8 6 4 6 1 7 0 4 12 7 3 12 4 10 7 9 10-13 13-12 7-2 2-2 8 1 6 3 3 16 8 12 10 2 1 6 1 6-2 4-2 0 1 1 16 2 6 5 4 10 3 6 4 8 9-4 6-4 5-6 4-10 3-2 3-4 7 0 12 2 6 4 4 10 3 6 4 8 9-4 6-4 5-6 4-6 1-6 2-3-2-3-12 1-18-1-4-3-2-7-3-6 0-2 2-12 9-13 6-5 5-2 7 2 5 2 3 13 8 11 12-1 2-6 6-7 6-23 0-3-12-1-14-3-4-6-2-6 2-12 8-17 8-5 5-2 8-4 1-12-3-6-1-2 1-6 3-36 0 0-249 6 7 6 2 14 5 16 10 6 0 4-3 3-2 0-4 0-14zM94 297l-6 3-12 11-13 7-3 3 0 3 1 4 4 2 11 6 14 10 4 0 6-1 2-3 1-2 0-16 3-14-2-10-4-2zM150 402l-5 4-9 8-12 6-2 4-1 2 0 4 3 2 12 7 12 10 2 2 6 0 6-2 4-5 1-6-1-12 1-14-1-5-4-3-6-3zM24 345l-15 9-3 4 0 2 5 4 13 6 4 1 2-3 3-20-1-2-2-3-2 0zM90 378l-12 9-3 3-1 4 2 2 4 4 8 5 2 0 4-3 1-18-1-5zM22 426l-2 0 2 2 2-2zM24 483l-18 9-3 4 1 2 5 4 15 10 4 1 2 0 3-3 1-3-3-21-2-2zM88 450l-11 6-2 4 0 2 9 10 6 3 4-2 0-1-1-16-2-6-1 0zM173 348l5 1 6 1 14 10-12 10-14 6-1 0-2-16 2-8zM234 388l4-1 2 1 6 6-2 3-7 3-3-4zM235 456l3-1 4 1 2 4-1 2-5 3-3-3-1-2zM353 522l1-1 6 2 3 3-1 2-4 3-4 0-1-3z"/>
<path fill-rule="evenodd" fill="rgb(19,19,19)" d="M-10 -14l23 0 9 8 2 4-8 8-6 4-6 3-10 1-2-3-4-11 0-6zM108 -14l23 0 6 6 3 6-4 6-6 5-6 3-12 4-2 0-1-4-3-14 0-6zM469 -8l3-3 6 1 5 4 1 4-2 2-4 4-6 1-3-1-1-4 0-6zM48 6l16 4 8 4 20 16-4 3-12 10-6 4-21 7-2-2-4-22 1-8zM408 18l4-1 8 2 7 5 4 6-5 6-6 4-6 2-6 1-2-7-1-6 0-6zM111 52l3-3 12 4 6 5 4 6-5 6-5 3-6 2-6 1-2-4-2-6-1-6zM53 82l1-2 14 4 7 6 4 6-5 6-4 4-6 3-10 1-3-4-2-10 1-6zM287 148l1-3 10 1 6 2 7 6 7 8-8 11-6 4-10 4-2 3-2 2 0 6 3 6 17 8 14 10 4 2 2 1 6-1 10-5 0 1 0 8 2 6 3 6 4 4 15 6 14 14 6 4-6 3-14 14-13 7-4 2-1 4-1 6 1 2 2 4 12 7 16 11 6 0 14-7 2 1 2 8 4 6 5 4 11 4 12 8 6 2 7-2 3-6 0-16 3-18-1-9 12 6 16 5 8 7 0 26-6 5-12 7-2 5 1 2 2 4 17 9 0 42-12 9-2 2 1 4 13 9 0 42-6 4-10 5-4 2-1 4 1 2 3 4 9 4 8 7 0 26-1 1-35 0-2-12 0-18-4-4-6-4-6 1-12 7-6 3-18 4-1-3-4-15-1-7 1-12 0-6-5-6-8-5-6-2-2 1-16 9-8 2-4-2-2-5-1-6 2-6 2-6 5-1 6 2 12 8 6 1 6-1 4-3 4-6 1-6-2-16 1-14-2-6-6-6-6-3-2 0-4 1-12 7-8 2-4-1-2-6-1-6 2-16 1 0 12 4 12 7 4 1 2 0 6-2 6-6 2-6-1-16 1-18-2-4-2-3-6-1-16 10-17 8-4 6-3 13-8-5-6 0-6 3-10 8-6 3-24 9-1-1-4-22-1-18-2-5-4-2-6-1-14 9-18 7-6 4-4 5-5-1-4-4 3-5 2-7-3-18 1-20-3-6-11-10 8-6 4-4 1-4-1-18 0-18-4-6-3-1-3 0-18 11-20 5-5-15-1-10 1-6 4-18 1-1 20 6 18 11 6-1 6-4 2-5 0-18 3-14 0-10 1-2 10 4 14 5 18 12 6 0 8-3 3-4 2-2 0-18zM328 239l-4 2-12 9-8 6-4 2 0 4 2 2 14 8 8 7 4 1 2 0 4-3 1-3-1-12 2-16-2-5-4-1zM438 377l-8 6-15 7-2 4 1 2 4 4 24 12 2-1 2-3 1-2 1-24-1-4-3-2-2 0zM262 206l-12 9-12 6-4 3 0 4 2 4 4 2 12 5 10 6 2 2 4-1 2-1 2-5 0-12 2-17-4-5-2-1zM328 309l-4 1-14 10-10 4-3 4-1 2 1 4 3 2 12 8 10 8 6 3 2 0 7-3 2-4 1-6-3-12 1-12-2-5-3-3zM438 443l-8 6-18 7-3 4-1 2 1 4 3 2 14 7 12 8 4 0 5-3 1-2 0-30-4-5-2-1zM262 279l-10 5-14 7-3 3 1 4 3 2 11 5 12 7 2 1 4-1 2-2 0-4-1-24-1-3-4-1zM174 156l0-1 4-1 2 0 6 4 5 4-7 7-10 2-2-9zM350 190l2-3 6 0 6 4 3 5-5 6-10 5-3-2 0-7zM469 256l3-3 6 1 2 2 4 6-4 6-5 2-4 0-3-1 0-5 0-6zM48 274l0-2 4 0 18 5 6 4 8 9 7 4-17 16-15 8-2 4 0 2 1 4 2 2 16 7 14 11 6 0 6-2 2-4 1-2 1-16 4-14 2-1 8 2 10 4 6 5 5 8-9 10-16 10-2 6 1 10 3 3 14 7 18 14 6 2 6 0 1 0 1 6-2 3-6-1-6 2-14 12-15 8-2 3 0 7 2 2 15 9 12 11 6 2 8-1 4 0 0 1 0 15-10-3-6 1-2 1-12 11-16 7-4 4-1 2-1 6 2 6 3 4 13 8 9 10-1 2-5 6-9 6-16 0-4-12-1-14-1-4-4-2-6-2-6 2-16 10-14 7-4 3-4 10-2 1-14-5-4 0-6 3-4 3-34 0 0-243 7 3 19 7 16 10 2 0 7-1 4-4 2-2 0-18zM90 375l-19 15-2 4 2 2 4 4 13 8 2 1 4-1 2-2 1-24-1-4-2-3zM24 342l-12 8-8 4-2 4 0 2 3 4 20 9 3 1 2 0 3-4 2-24-1-4-4-2zM88 446l-16 11-3 3 1 2 18 15 2 1 4 0 2-3 1-3-2-22-1-3-4-2zM22 419l-8 5-4 2 2 4 5 2 7 4 4 0 2-4-1-12-1-2zM28 480l-24 11-2 1-2 4 0 2 4 4 8 4 12 8 6 2 4-2 2-6-3-24-2-4zM411 286l4 0 5 2 7 6-7 8-12 5 0-13 1-6zM173 354l1-2 6 1 5 1 6 6-7 8-10 3-2-7zM170 414l2-2 12 4 6 4 5 6-4 6-5 5-14 6-2-1-2-12 0-6zM171 478l15 6 4 2 4 6-3 6-7 6-10 2-2-1-3-7-1-6z"/>
<path fill-rule="evenodd" fill="rgb(22,22,22)" d="M-9 -12l2-2 17 0 7 6 4 6-5 6-6 4-6 3-10 0-2-5-2-6 0-6zM110 -14l18 0 7 6 3 6-6 6-5 5-15 4-4-9 0-6 0-6zM473 -6l1 0 2 0 2 4-4 2-2-2zM51 10l9 1 10 3 6 4 11 12-11 11-6 4-6 3-12 3-4-4-3-17 2-12 2-5zM409 22l3-2 8 2 6 6 1 2-3 5-4 3-8 2-4-3-1-7 1-6zM113 54l1-2 10 2 5 4 3 6-5 6-4 2-5 1-4 0-2-9zM54 84l4-1 8 3 6 4 4 6-5 6-5 4-6 2-6-1-2-5-1-6 1-5zM290 148l8 0 6 2 7 6 4 7-4 5-5 5-14 7-3 4-1 2 0 6 3 6 4 4 11 4 6 3 10 8 6 3 6 0 8-2 2 2 2 8 2 7 4 3 12 4 6 4 16 16-16 15-16 8-2 3-2 6 0 6 2 4 2 2 12 7 12 9 4 2 6 0 12-5 2 1 3 8 3 4 4 2 14 5 12 8 6 2 6-2 4-5 1-18 5-21 2 0 18 5 6 3 6 5 0 23-6 6-12 7-3 2 0 4 0 2 2 4 19 10 0 40-15 10-2 2 1 4 2 1 14 9 0 39-8 6-11 5-3 2-1 4 1 2 2 4 14 7 6 6 0 22-3 3-31 0-3-12 0-18-1-3-3-3-7-3-6 0-12 8-8 4-12 2-4-2-3-11-1-6 1-16 0-6-4-6-11-8 6-6 4-7 0-5-2-16 2-14-2-6-8-8-6-3-2-1-4 1-12 8-8 1-4-4-1-6 2-10 3-2 8 3 10 6 6 2 6-1 8-8 3-6-1-18 2-18-2-6-3-2-5-2-2 0-4 1-8 8-6 3-16 6-5 4-3 10-12 0-6 3-10 8-6 4-20 6-2-1-2-2-4-16-1-20-2-4-5-3-2 0-6 1-12 8-20 6-8 6-3 0 1-12-3-20 1-18-3-6-9-10 8-7 2-6 1-5-2-14 1-18-4-6-4-3-4 0-2 1-16 10-18 5-1-1-1-4-4-14 0-10 4-12 1-2 1-2 12 3 10 3 12 9 2 1 6-1 6-4 4-4-1-21 5-20 2-2 20 7 18 12 4 0 6-2 7-3 4-6 0-18 2-10 1-2zM328 237l-6 3-12 11-10 5-3 2 0 4 2 2 13 8 11 8 5 2 6-2 2-4 0-14 2-16-2-6-5-3zM438 375l-12 8-12 6-2 1-1 4 0 2 3 4 12 5 12 7 4 1 2 0 3-1 1-4 1-30-2-3-3-1zM262 204l-12 9-14 7-3 2-1 4 0 2 2 4 3 2 13 5 12 8 6 1 3-1 3-4 0-17 1-16-1-4-4-3-2-1zM324 308l-12 9-15 7-2 4-1 2 0 4 3 2 13 8 14 12 6 2 4-1 4-3 3-6 0-6-2-14 0-12-3-6-2-2-6-1zM438 441l-12 8-14 6-4 2-2 5 1 4 1 3 4 2 11 4 13 9 6 1 2 0 4-3 2-4-1-18 0-12-1-4-2-2-4-2zM264 276l-2 1-12 7-12 5-4 3-1 2 0 4 3 2 14 7 14 8 4 0 2-2 2-7-1-26-2-4zM177 160l3-1 5 3-4 4-3 0-1-4zM354 192l4 0 3 4-2 2-5 3-1-3zM474 258l2 0 3 4-1 1-4 2-1-1-1-2zM49 276l3-2 12 3 6 2 6 4 11 11-15 15-14 9-2 4-1 2 1 4 3 2 17 9 13 9 5 2 6-1 5-3 2-4 1-2-1-16 5-12 12 2 6 3 4 5 5 6-4 6-5 4-12 7-4 2-2 7 2 10 4 5 14 7 16 13 9 5-9 5-16 13-12 7-3 5 0 5 3 5 16 9 11 11 7 2 6 1 3 3-1 2-12 3-18 14-15 7-3 4-2 8 2 8 4 3 13 7 7 10-1 2-5 6-8 6-4 0-7 0-1 0-5-12 1-12-2-6-3-2-3-3-6-1-6 2-12 9-18 8-6 5-4 8-18-3-6 2-6 5-32 0 0-1 0-231 0-4 2-3 18 5 10 4 12 8 2 1 6-2 6-4 3-3 0-18zM88 375l-21 15-1 4 1 2 18 12 5 3 4 0 3-2 1-3 1-28-3-4-2-1zM28 338l-12 9-16 7-1 4 0 2 3 4 10 4 14 8 4 0 4-1 0-3 3-26-1-4-2-3-4-1zM88 444l-19 12-3 4 0 2 22 17 2 1 4 1 2-2 3-5-2-26-3-4-4-1zM28 414l-20 10-2 2 1 4 21 10 2 0 1-2 1-6 0-14-2-4zM30 477l-2 1-12 6-13 6-4 2-1 4 0 2 2 4 16 7 9 7 5 2 5-2 2-2 0-4-2-14 0-12-1-5zM413 292l1-2 4 1 4 3-3 4-5 2-2-2-1-4zM177 358l3-1 5 3-2 4-5 1-2-5zM172 418l2-2 6 1 6 3 6 6-2 4-6 6-10 2-2-2-2-6 1-6zM350 450l2 0 2 0 7 1 11 9-6 6-5 2-3 2-6 0-3-4-1-6zM172 484l2-2 7 2 5 2 5 6-1 4-6 6-10 2-1-2-2-6 0-6z"/>
<path fill-rule="evenodd" fill="rgb(24,24,24)" d="M-7 -12l2-2 11 0 9 6 2 2 1 4-5 6-4 2-5 3-7 1-3-2-2-8 0-6zM111 -12l2-2 11 0 5 2 3 4 3 5-4 7-5 3-12 3-2-3-2-7-1-6zM50 12l2-1 6 1 12 4 7 6 5 6 2 2-8 10-6 4-6 3-12 2-4-9-2-10 1-8zM411 24l1-1 2 0 4 0 5 5 1 2-2 4-4 2-6 1-2-7zM115 58l3-3 6 2 4 3 1 4-2 2-3 3-6 1-4-5zM55 88l3-2 8 2 6 6 1 2-7 7-8 3-3-4-2-6zM290 150l2-1 2 0 10 3 5 4 4 6-4 6-3 4-14 6-4 2-1-2-1-16 1-6zM225 174l1-1 2 0 16 4 7 3 11 9 6 2 5-1 6-4 7-5 1 3-1 8 2 6 4 3 18 8 13 11 5 2 6 0 6-1 2 1 3 10 3 5 18 8 6 5 11 12-13 14-18 10-3 6-1 6 2 6 2 2 14 8 12 10 4 2 6 0 12-5 5 9 4 4 17 6 12 9 6 2 7-3 4-2 1-4 0-18 5-18 1-1 18 5 6 3 6 5 0 20-6 5-14 8-2 3-1 4 0 2 3 4 3 2 11 6 6 4 0 36-18 11-1 3 1 4 3 2 9 6 6 4 0 36-6 4-15 8-3 2 0 4 0 2 1 4 4 2 11 5 8 7 0 20-5 4-28 0-3-12 1-14-1-5-2-5-10-5-6 0-14 10-6 2-12 2-3-3-4-14 1-21-3-7-9-8 6-7 2-5-3-22 2-18-3-6-10-8 8-7 4-5 1-4-2-18 2-20-1-5-4-3-2-2-6 0-18 13-18 6-2-1 0-2-4-16 0-18-2-2-4-4-6 0-4 1-14 11-15 6-2 4-1 2 1 4 1 3 16 8 12 11 7 4-7 5-10 9-6 4-6 2-12 3-2 0-2-1-4-12-1-10 0-12 0-2-3-4-6-4-6-1-18 11-24 8-4-26 1-20-2-6-8-10 7-8 2-6-2-18 2-16-1-6-3-4-3-2-7-1-2 1-16 11-8 2-10 1-4-10-1-10 1-8 4-12 10 1 8 3 15 10 3 2 7-1 5-4 5-5 0-4-1-18zM264 201l-2 1-12 10-17 8-2 2-1 4 1 6 4 2 15 7 12 7 6 2 5-4 2-2 0-18 2-15-1-3-2-5-4-2zM324 237l-12 10-14 9-2 2-1 4 3 3 14 8 12 9 6 1 4-1 3-2 1-4-1-14 2-18-3-6-2-2-4-1zM442 372l-16 10-13 6-3 2-1 4 0 2 3 4 14 6 12 8 4 1 2 0 4-2 2-5-1-14 2-12-2-6-1-3-4-1zM262 275l-12 8-16 6-2 3-1 2 0 4 3 4 16 6 12 8 6 1 2-2 3-5-1-16 0-14-2-4-2-2-4 0zM438 440l-14 9-13 5-4 2-3 6 2 6 3 4 15 5 12 8 6 2 6-2 3-5 0-6-1-14 1-12-1-4-2-3-4-2-2 0zM51 276l9 1 10 3 6 6 8 8-10 12-17 9-2 3-1 4 1 6 2 2 3 3 12 5 18 13 6 0 8-3 3-2 2-4 0-18 3-7 2-3 6 1 6 2 6 5 4 6-7 8-12 6-3 4-3 6 1 10 1 4 4 4 15 7 19 17-15 15-16 8-2 3-2 4 0 6 1 2 3 4 12 6 16 13 7 5-7 5-12 11-6 4-12 5-5 5-2 8 1 6 1 4 3 2 14 8 6 8-3 6-7 5-8 2-4 0-2-1-3-10 1-12-2-6-2-2-4-3-8-2-6 2-16 11-16 6-4 4-4 6-2 2-15-3-7 2-8 7-29 0-1-5 0-222 2-10 22 5 18 12 6 0 6-3 5-5 1-2 0-18 1-6zM90 372l-14 11-10 6-2 1-1 4 1 2 2 2 10 5 12 9 2 1 6-2 4-5-1-12 2-16-1-2-3-4-3-1zM27 336l-15 11-12 5-2 2-1 4 0 2 3 4 16 7 12 7 2 0 4-1 2-5 0-12 2-14-2-6-2-3-4-1zM90 441l-2 1-10 7-13 7-2 4 1 2 2 4 12 7 10 8 6 1 4-2 2-3 0-5-1-12 0-10 0-2-3-5-2-2zM28 411l-24 13-2 2 1 4 5 2 16 10 6 1 3-1 1-4 0-20 0-4-3-2zM24 477l-12 7-12 6-3 2-1 4 0 2 2 4 2 2 12 5 12 9 6 2 4 0 2-3 2-3 0-6-1-12-1-12 0-4-2-3-4-1zM351 388l1-2 6 0 3 2 8 6-7 6-8 2-2-2-2-4zM174 420l4-1 6 2 4 5-1 4-3 2-4 2-3 1-3 0-1-9zM352 454l2-1 5 1 8 6-2 2-4 4-7 1-2-1-1-4 0-6zM174 486l4-1 6 3 4 4-1 4-3 2-4 2-2 1-4-2-1-7z"/>
<path fill-rule="evenodd" fill="rgb(27,27,27)" d="M-5 -12l3-2 8 1 6 5 3 2 1 4-5 6-5 2-8 2-4-4-1-6zM113 -12l1-2 4 0 6 1 6 5 2 2 1 4-7 7-6 3-6 0-2-4-1-6zM51 16l1-2 2-1 12 3 9 6 5 6 2 2-6 8-6 5-10 3-6 1-2-1-4-10-1-6 1-6zM414 28l3 0 2 2-1 2-4 0 0-2zM119 60l1 0 3 0 1 4-4 2-2-2zM57 90l1-1 2 0 4 1 5 4 1 2-2 4-4 2-4 1-2-1-2-6zM290 154l2-3 2 0 6 1 7 4 4 6-5 6-2 3-12 5-2-2-2-8 0-6zM228 174l12 3 6 2 16 11 2 2 6 0 12-5 5 11 3 4 20 8 12 10 6 3 2 1 10-1 1 3 3 8 3 4 5 2 12 5 6 4 11 13-11 13-6 3-10 4-4 4-2 6-1 6 1 6 4 4 14 8 10 8 5 4-17 13-16 5-2 0-4-16 0-18-2-2-4-4-6-2-6 1-14 12-12 5-5 2-1 4-1 6 2 2 3 4 14 6 14 14-14 15-10 4-8 2-6 0-5-11-1-6 0-18-4-6-6-3-6-1-2 1-12 9-10 3-14 4-3-1-4-22-1-6 2-12 0-6-9-12 7-8 1-6-2-18 2-18-3-7-6-4-6-1-5 2-13 9-6 3-8 1-4-1-2-6-2-8 0-6 2-10 3-6 3 0 12 2 6 3 12 9 2 1 6 0 10-6 2-5 1-4-2-12 1-8 4-13zM262 200l-12 10-18 9-3 3 0 6 1 4 2 2 18 8 12 8 6 1 6-3 2-4 0-16 2-14 0-6-2-4-2-2-4-3-2 0zM328 234l-6 4-12 10-14 8-2 2 0 4 1 2 4 4 11 4 14 12 6 1 6-3 3-6-1-14 3-18-1-5-4-4-2-1zM264 273l-2 1-12 8-17 6-3 4-1 2 0 4 2 2 3 3 12 5 16 10 2 1 4-1 4-2 2-4 0-2-1-16 1-16-4-4-2-1zM51 280l3-2 12 2 8 6 8 8-10 12-14 7-4 3-2 6 1 6 2 2 4 4 17 7 14 11 4 1 6-1 5-3 3-2 2 1-1 6 2 10 3 6 18 8 17 16-15 14-16 10-2 2-1 6 1 6 2 4 14 7 18 17-11 12-7 5-15 6-4 3-2 6-1 6 0 6-1 4-9-6-7-1-3 1-18 13-18 7-8 11-16-3-6 2-10 8-26 0-2-10 0-16 0-7 0-190 2-9 4-3 18 4 18 12 6 0 6-3 6-4 2-4-1-18zM88 372l-12 10-11 6-3 2-1 4 1 2 4 4 10 5 12 8 2 1 4 0 4-2 2-4 1-15 1-15-2-6-4-2-2 0zM24 336l-11 9-14 7-3 2-1 4 0 2 2 4 3 2 12 4 14 8 4 2 4-2 3-3 2-33-3-5-2-2-4 0zM88 441l-12 9-13 6-2 4 1 2 2 4 12 6 12 10 6 2 2-1 4-2 1-3-1-18 0-12-1-4-3-3-6-1zM24 411l-8 6-13 5-1 2-2 2 1 4 4 2 11 5 11 8 4 0 3-2 2-5-1-24-1-3-4-2zM28 474l-12 8-19 8-2 2-1 6 1 4 4 2 13 6 12 10 6 2 4 0 3-2 3-5 0-5-3-14 0-12-1-6-2-3-4-1zM461 310l1-3 16 3 8 4 6 6 0 16-8 8-12 6-4 3 0 5 0 4 4 4 12 5 8 6 0 34-6 4-12 7-2 2-1 2 1 4 2 2 10 5 8 6 0 34-6 4-17 9-3 6 0 2 2 5 4 2 12 5 8 8 0 16-6 6-26 0-3-12 1-14-1-6-3-5-10-5-2-1-5 1-11 8-6 3-8 2-6 0-4-7-2-8 0-6 2-12-1-6-1-4-6-6-2-2 3-6 2-7-3-21 2-18-2-6-9-8 6-6 4-6 1-6-2-16 3-20-2-6-5-6 6-3 4 1 6 8 20 7 16 10 6 1 6-4 2-2 1-4 0-18zM438 372l-12 9-15 7-3 2-1 4 0 2 2 4 5 3 12 4 12 8 6 1 4-2 3-3 0-3-1-14 2-16-2-4-2-2-4-1zM438 438l-12 8-18 8-4 2-1 4-1 6 1 2 3 4 18 6 12 9 6 2 5-2 3-3 2-4 0-6-1-14 0-12-1-6-2-3-4-1zM113 318l1-2 10 2 5 4 5 6-4 6-4 2-13 6-1 2-2-16zM354 390l4 0 5 4-3 3-2 1-4-1-1-3zM177 424l3-1 4 3-2 4-4 1-2-5zM354 460l0-3 4 0 4 3-2 2-2 1-4 0zM177 490l3 0 4 2-2 4-4 0-1-4zM111 510l1-1 2 3 12 6 6 4 1 4 0 2-7 7-6 2-6 0-3-9 0-12z"/>
<path fill-rule="evenodd" fill="rgb(29,29,29)" d="M-3 -12l3 0 6 1 6 5 1 4-2 2-5 4-6 2-2-1-3-7 0-4zM116 -12l2 0 6 1 4 3 2 2 1 4-5 6-8 2-4-2-1-4 0-6 1-4zM53 16l1-2 6 1 10 3 6 6 4 6-5 6-5 5-6 3-10 1-3-3-2-6-1-6 2-8zM60 94l0-1 4 0 1 3-1 2-4 1-1-3zM293 154l5-1 6 3 3 4 1 2-4 7-6 3-6 1-2-11 1-6zM227 178l1-2 16 3 6 3 8 8 6 3 6 1 10-3 2 1 3 6 3 4 22 9 14 12 6 2 6 1 4 1 1 7-1 1-4-2-2-1-6 1-4 1-12 11-18 10-1 3 1 6 3 4 15 7 12 10 4 1 6-1 4-3 2-2 1-6-1-16 2-14-1-6 1-3 2 3 5 2 11 5 6 3 6 4 7 10-7 8-6 6-14 7-4 3-2 6 0 8 2 7 4 3 14 7 12 11-12 10-6 3-6 2-6 1-2-2-3-12 0-18-1-2-3-4-9-3-6 1-12 10-6 3-10 5-4 2-2 6 2 7 2 3 16 8 12 12-10 11-8 6-16 3-2-2-3-6-2-8 0-18-1-4-2-2-8-4-6-1-2 1-16 10-21 6-4-12-2-10 0-6 2-12 0-6-1-4-6-8 5-8 1-6-2-18 2-18 0-4-4-5-6-4-6-1-6 3-8 8-10 3-8 2-3-2-1-4-3-8 0-6 3-12 4-3 8 1 6 3 12 9 6 3 6-1 11-6 2-3 1-7-2-12 0-6zM264 197l-2 2-16 12-14 6-4 3-1 6 1 6 4 3 18 8 12 8 6 1 6-2 2-4 1-2 0-18 2-18-3-6-2-3-4-2zM262 272l-12 9-20 7-2 4-1 6 2 2 3 4 18 6 12 9 6 1 2-1 4-3 1-4-1-18 1-14-1-5-4-2-2-2zM54 280l10 0 6 3 6 5 4 6-8 10-6 4-10 4-3 4-2 6 1 6 1 2 5 4 18 8 14 11 6 1 10-2 3 12 4 6 4 2 9 4 6 3 14 15-10 12-6 5-13 7-3 3 0 5 0 6 3 4 16 8 15 16-8 8-8 8-17 8-3 2-3 6-1 10-2 1-10-3-6 1-18 13-15 6-5 2-6 8-4 0-8-2-4 0-6 2-12 10-22 0-4-12 2-18-2-6 0-186 3-8 3-4 12 2 6 2 18 12 6 1 8-4 4-3 2-4 1-6-1-14 3-10zM90 369l-14 12-13 7-2 2-1 4 1 2 3 4 8 4 15 10 3 1 6-1 4-2 2-4 0-14 2-16-2-4-2-4-4-1zM28 333l-16 11-15 8-3 2 0 4 1 6 4 2 13 5 12 8 6 2 6-3 2-2 0-18 2-16 0-3-4-4-3-1zM85 441l-9 7-15 8-1 4 0 2 2 4 14 7 12 10 6 2 2 0 4-2 3-5-2-16 0-14 0-4-2-2-5-3-4 0zM28 408l-12 8-12 5-4 2-1 3 0 4 3 2 10 5 12 8 6 1 4-2 2-3 1-27-1-2-2-3-4-1zM28 473l-16 9-11 4-5 4-3 2-1 6 1 4 3 3 16 7 16 11 6 1 2-2 3-2 2-6-3-18 0-16-1-2-2-4-5-1zM463 310l3-2 14 4 7 4 5 5 0 13-8 8-12 6-4 3-1 3-1 4 2 6 3 2 15 8 6 4 0 32-8 6-10 4-3 4-1 2 0 4 3 2 13 8 6 4 0 32-8 6-13 5-3 1-3 5 0 3 1 6 2 2 16 7 8 9 0 13-8 7-22 0-4-12 2-14-1-6-5-6-6-5-6-1-4 0-18 12-8 2-6-1-4-7-1-10 3-17 2-2 18 6 12 10 2 1 6 0 6-4 3-6 1-2-2-16 0-18-1-2-2-4-5-2-2 0-4 1-14 10-19 7-3 2-2 5-4 1-1-2 3-12-3-22 2-18-2-6-7-8 6-7 3-5 0-6-2-16 3-20-1-10 3 0 4 4 4 2 16 5 18 12 6 0 6-3 4-4 1-6-1-16zM444 369l-6 2-12 9-17 8-3 2-1 4 1 2 1 4 4 2 13 5 14 10 4 1 3 0 5-4 2-6-1-14 2-16-1-2-2-4-2-2zM116 318l4 1 6 2 6 7-6 6-12 6-1-4-1-8 2-8zM113 516l1-1 6 2 6 3 3 2 2 4-1 2-2 4-8 3-2 0-4-2-2-7z"/>
<path fill-rule="evenodd" fill="rgb(32,32,32)" d="M-2 -8l2-2 6 2 4 2 1 4-5 4-6 2-2-3-1-3zM116 -8l2-2 6 1 3 3 1 4-4 4-6 2-3-4 0-2zM52 18l2-2 7 0 5 2 9 6 3 6-4 6-4 4-6 3-10 1-2-5-3-9 1-6zM293 156l1-1 4 0 2 1 4 3 2 3-2 4-4 2-6 2-1-2-1-4zM228 178l10 0 8 3 16 13 3 2-3 1-16 13-14 5-5 5-2 2 0 6 3 6 4 3 14 5 16 10 2 1 6-1 5-2 2-4 1-2-1-18 3-18-1-6-5-6 6-3 3 5 5 5 18 7 6 4 12 10 11 4-11 5-14 13-16 7-2 5-1 4 1 2 3 4 15 6 14 12 6 1 6-2 4-3 2-6-1-18 3-14 2-4 14 6 6 3 5 3 7 10-7 8-5 4-16 8-3 4-2 6 0 12 3 5 4 2 12 6 11 11-9 9-8 4-10 1-4-12 1-14-1-6-4-5-10-3-6 1-14 12-16 6-3 3-2 4 0 6 3 5 17 9 11 12-10 12-10 5-12 2-2-3-4-12 0-19-3-5-9-6-6 0-2 1-12 9-10 3-12 3-2-1-1-1-5-18 2-24-2-6-4-6 4-6 1-6-3-20 3-22-1-3-4-4-2-3-4-2 4-1 5-4 4-3 1-4 1-6-2-12 0-6 1-6zM264 270l-2 1-16 10-14 5-4 2-3 6 0 4 2 2 3 4 20 7 12 9 6 1 6-3 2-6-1-18 1-14-2-7-5-3zM170 214l2-2 6 1 8 3 12 10 6 2-6 3-12 10-6 2-8 1-4-6-2-10 1-6zM53 282l1-1 4 0 8 2 6 4 7 7-5 6-4 5-16 7-2 3-2-3 1-6-2-12 1-6zM-10 310l2-2 2 0 13 2 9 5 8 7 6 2 6-1 9-5 3-3 1 1 0 6 2 6 4 6 17 7 18 13 7 1 9-2 2 11 3 6 4 2 11 5 6 3 13 14-7 9-6 5-13 6-4 4-2 6 0 6 2 6 4 2 13 7 14 15-7 8-9 9-16 6-2 2-3 5-3 12-10-3-6 1-18 13-18 7-4 2-4 5-4 2-6-3 4-4 1-2 1-6-3-18 0-16-2-6-7-2-2 0-16 10-14 5-4 3-3 6 1 6 2 2 18 9 12 10 5 3-19 14-19 0-4-12 2-18-1-2-2-6 0-153 1-7-1-15 1-9zM28 332l-4 2-12 9-12 5-5 4-2 2-1 4 2 6 3 2 13 5 17 11 3 0 4-1 2-2 3-3 0-16 2-18-1-5-4-3-2-2zM88 369l-12 11-14 8-3 2 0 4 0 2 3 4 14 7 12 9 6 0 6-2 3-6 0-14 2-18-3-5-6-4-2 0zM24 408l-12 8-12 5-2 4-1 5 3 3 16 7 12 7 2 1 6-4 2-2 0-28-2-4-2-2-4-1zM88 438l-12 9-13 7-3 2-1 4 0 2 1 4 16 8 12 10 6 3 2-1 5-2 3-6-2-18 0-13-2-5-4-3-6-1zM465 310l9 1 6 2 6 3 6 7 0 10 0 1-8 7-16 8-2 3-1 6 2 6 2 2 17 8 6 5 0 30-6 5-14 6-2 4-1 2 0 4 3 3 14 7 6 5 0 30-8 6-16 6-2 3-3 6 1 6 2 2 18 9 4 3 5 6-1 9-6 6-4 3-19 0-4-12 2-14-1-6-4-6-12-8-2-1-4 1-13 10-7 4-10 1-2-2-4-9 0-6 4-17 14 4 6 4 10 7 2 2 6-1 7-5 3-3 1-5-3-16 1-18-3-6-5-2-3-1-4 1-14 10-15 4-9 5-1-11-3-18 2-14 0-6-2-4-6-8 6-9 2-3-3-22 4-18 1-9 7 3 17 6 18 12 6 0 6-3 3-3 2-2 1-6-1-16 3-11zM441 368l-15 11-18 7-4 4 0 4 2 6 3 2 15 6 14 10 4 1 6-1 3-4 2-2 0-4-1-14 2-16-1-2-3-5-2-2zM116 322l2-2 6 2 3 2 2 4-2 2-3 4-6 2-3-2-1-4 0-4zM115 520l3-2 6 2 3 2 2 4-1 2-4 4-6 1-2-1-2-4z"/>
<path fill-rule="evenodd" fill="rgb(34,34,34)" d="M0 -6l4-1 2 1 1 4-3 2-4 0zM118 -5l2-2 4 1 1 4-4 2-1 0-2-2zM54 18l0-1 4 0 8 2 7 5 4 6-5 6-6 4-6 2-6 1-2-7-1-6 0-6zM295 160l3-2 2 1 3 3-3 4-2 1-4-1 0-4zM228 180l0-1 4-1 12 3 6 3 12 12-16 13-18 7-2-2-2-18 1-6zM281 202l1-2 7 4 17 7 6 4 12 11 5 2-7 6-12 11-16 7-2 3-2 7 2 3 2 3 16 7 14 12 6 1 8-2 3-4 2-2-1-22 4-15 12 2 6 3 6 4 7 10-5 6-6 5-14 7-4 2-3 6-1 16-2 1-6-3-6-1-2 0-6 3-12 10-16 6-5 4-1 4 0 6 2 6 4 2 13 6 5 5 6 7-6 8-6 5-6 3-8 2-4 0-4-8-1-10 1-14-3-6-4-4-7-3-6 0-6 3-12 8-6 3-12 2-2-2-5-17 0-6 3-14 0-6-2-4 0-2 1 2 4 4 19 7 16 10 6 1 6-3 2-3 1-4-2-18 2-14-1-4-2-4-4-2-6-1-2 1-16 10-15 6-5 2-3 4-1 2-2 1-1-1 2-2 1-10-3-20 3-22-2-6-5-6 7-4 2 8 3 2 4 4 15 5 16 10 2 1 6-1 6-3 3-6-1-16 3-18zM170 216l2-2 6 0 6 2 6 3 10 9-14 12-6 2-8 1-4-9-1-6 1-6zM54 282l6 0 6 2 6 4 5 6-4 6-3 4-16 6-1 0-1-4-2-12 1-6zM-9 310l3-1 12 2 6 3 12 9 6 2 6-1 10-4 2 2 3 8 2 4 19 8 18 13 6 1 6 0 3 2 2 8 5 6 18 7 6 5 7 10-4 6-7 7-14 7-4 3-1 3-1 6 1 6 1 4 4 3 12 5 6 5 9 11-2 2-7 9-5 3-20 10-4 6-1 7-2 1-8 0-6 1-18 13-19 8-7 5-4 1 1-12-3-18 0-16 0-2-2-3-4-3-7-1-15 10-16 5-4 4-2 2-1 6 1 4-2 2-2-4-1-148 2-4 1-6-2-14 2-10zM30 330l-6 2-8 8-6 4-16 6-3 4 0 4 1 6 3 2 17 7 12 8 6 2 6-3 4-4 0-18 2-16 0-2-2-5-4-3zM94 366l-6 2-12 11-16 8-2 3 0 4 0 2 2 4 16 7 8 8 6 3 6-2 4-2 3-2 1-6 0-16 2-12-1-6-3-4-3-2zM30 405l-2 1-16 9-12 5-3 4-1 2 0 4 2 2 18 8 10 8 4 1 4-1 3-4 2-6-1-12 0-14-2-4zM88 437l-12 10-16 7-2 6 0 2 2 5 16 8 12 11 2 1 6 1 6-4 3-6-2-16 0-18-1-2-6-4-6-1zM347 312l1-1 16 7 9 10-5 6-4 3-10 4-6-1-2-7-1-5zM464 312l2-1 2 0 12 3 7 4 5 7 0 6-4 5-8 6-12 5-2 4-2 3 1 6 3 6 5 4 11 4 8 6 0 28-6 5-15 7-3 4 0 2 0 5 4 3 12 6 8 6 0 28-8 6-16 6-4 4-2 6 0 6 2 2 4 4 16 6 3 2 5 7 0 6-1 3-5 4-6 4-16 0-3-6-1-6 2-18-1-6-5-4-10-8 7-6 2-6-2-18 1-14 0-7-2-3-4-3-6-1-4 2-14 9-22 7-1-2-4-20 2-24-6-12 4-6 2-6-3-22 1-8 4-16 1 0 22 6 18 13 2 0 6-1 6-4 4-4 1-6-1-16zM438 369l-12 9-17 6-4 4-2 2-1 6 2 4 3 2 19 8 12 9 6 1 6-3 4-5-1-18 1-18-1-4-2-2-3-3-4 0zM117 324l3-1 4 1 2 4-2 2-6 3-1-5zM407 478l7 0 6 2 17 12-14 12-6 3-9 1-4-6-1-10 3-13zM-10 504l2 0 5 4 13 4 6 4 9 10-8 8-7 6-2 0-16 0-3-6-1-6zM117 522l1-1 2 0 4 2 1 3-1 2-4 2-2-1z"/>
<path fill-rule="evenodd" fill="rgb(37,37,37)" d="M57 18l7 1 4 3 6 6 1 2-5 6-6 4-6 1-4-1-1-4-1-8 2-8zM229 180l3-1 2 1 10 2 7 4 9 10-14 12-18 6-3-18 1-10zM283 204l3 0 20 7 6 4 15 13-17 16-17 8-3 4-1 2 1 6 2 4 18 8 14 12 4 1 6 0 6-3 4-4 0-6-1-12 0-6 3-12 2-2 10 2 7 4 6 6 4 6-4 6-5 4-6 4-10 4-4 2-2 4-1 2-1 12-2 2-10-2-6 1-14 12-16 6-3 3-3 2-1 4-1 6 2 6 4 2 14 7 6 5 5 6-4 6-7 6-6 3-8 2-4-1-3-6-1-10 1-14-3-6-3-4-9-4-6 0-6 3-12 9-8 3-10 1-2-2-2-6-2-12 4-24 20 7 12 9 6 3 6-1 6-5 2-5-2-18 2-14-2-5-2-4-6-3-4 0-2 1-16 10-14 5-6 3-2-1-4-18 0-10 3-14-1-10 0-2 2 2 5 4 17 6 13 8 5 3 6-1 6-3 3-5 1-2-1-18zM171 216l3-1 10 2 6 3 8 8-8 9-6 3-10 2-2-1-3-6-1-7 1-6zM54 286l0-2 4-1 8 2 5 3 4 6-4 6-3 4-14 4-1-2-2-12zM-9 312l3-2 12 2 8 4 10 9 6 2 6-1 10-4 3 8 5 5 18 7 18 14 6 2 6 0 4 8 0 4-2-4-4-1-6-1-4 1-14 13-16 8-3 4 0 6 2 4 13 6 16 12 2 0 6 0 6-4 2-2 1-6 0-16 2-12 0-6 2-1 5 3 16 6 5 4 7 10-4 6-6 6-18 10-2 4-1 6 1 6 2 6 4 2 12 5 6 5 7 10-1 2-6 8-6 5-16 5-4 4-3 2-3 10-2 1-6 0-6 1-18 14-21 7-5 4-2-3 0-10-4-14 0-18-1-4-5-3-6 0-16 9-18 6-4 4-4 7 0-143 3-6 0-2-2-18 1-6zM28 329l-16 12-18 8-3 3-2 6 2 6 3 2 18 8 12 8 6 2 7-2 3-4 1-2 0-18 2-16-1-6-6-6-2-1zM84 438l-8 8-16 8-2 2-1 7 1 3 2 2 16 8 11 11 7 2 6-1 3-2 3-6 0-6-2-12 0-18-1-2-3-4-6-2-4 0zM27 405l-11 8-18 7-3 4 0 2 0 4 3 3 14 7 12 8 6 2 6-3 4-5-1-16 1-12-1-2-3-5-2-2zM465 312l7 0 8 3 6 4 6 8 0 2-3 5-5 5-15 7-4 2-1 4-1 6 1 6 3 2 4 4 13 4 8 7 0 26-8 7-15 6-2 4 0 2 1 6 4 3 12 5 8 7 0 26-8 7-18 6-5 6-1 8-8-4-2-4 5-6 1-6-2-18 1-18-1-5-6-5-6-1-6 3-12 8-22 7-5-21 3-24-5-12 3-6 2-6-3-16 0-8 5-21 22 6 18 13 2 0 6-1 7-3 3-4 2-2 0-4-1-18zM442 366l-16 11-6 3-13 4-4 4-2 2-1 4 1 6 4 2 19 7 14 11 7 1 6-3 3-4 1-2-2-18 2-18-1-5-4-3-2-2zM348 316l0-3 12 4 6 5 5 6-4 6-4 2-5 3-7 1-3-3-2-7 0-6zM407 481l1-3 12 3 6 4 8 7-8 9-5 3-7 2-6 0-2-4-2-6 0-6zM-9 508l1-2 14 6 6 3 11 11-1 2-10 9-6 3-13 0-3-6-1-6zM464 508l2-1 14 6 6 3 5 6 1 3 0 3-5 6-3 4-6 2-13 0-4-8 0-6z"/>
<path fill-rule="evenodd" fill="rgb(40,40,40)" d="M55 22l3-2 8 2 4 2 3 4 1 2-4 6-4 2-8 2-4-3-1-7zM231 180l9 2 6 2 6 5 6 7-12 11-6 2-8 3-4-1-2-15 1-10zM283 208l3-3 20 7 7 4 12 12-15 15-19 9-3 6 1 6 2 4 4 2 15 7 14 12 6 2 10-3 1 4 0 6-1 2-10-2-6 2-14 12-18 8-5 4-2 10 2 6 5 3 14 7 5 4 5 6-4 6-6 5-6 3-8 2-4-2-3-10 0-6 1-10-1-6-1-2-4-4-10-5-6 0-5 3-9 7-6 3-16 3-1-1-3-10-2-8 4-18 2-3 18 5 12 10 6 3 6-1 7-6 2-6-2-18 1-14-1-6-3-4-4-2-6-1-2 1-16 11-20 7-5-18 0-10 4-20 1-1 6 3 14 4 16 11 2 1 6-1 6-3 4-4 1-4-1-18zM173 216l7 1 6 2 10 9-10 10-6 2-6 0-3-2-2-10 1-6 2-4zM347 246l1-1 10 2 6 3 6 5 4 7-4 6-6 5-18 7-3-18 1-6zM56 286l2-2 2 1 6 2 4 2 4 5-4 6-4 3-8 3-4 0-1-8 0-6zM-8 312l2-1 4 0 6 1 6 2 14 12 4 2-4 2-12 10-20 9-1-1-3-20 1-10zM465 316l1-2 2-1 6 0 6 3 6 4 6 8-4 6-4 4-17 8-3 2-2 3-1-3 2-2 0-4-2-14 1-6zM349 318l3-2 8 2 5 4 5 6-5 6-4 2-9 2-2-2-2-6 0-6zM37 328l5-3 4 1 4 8 4 2 16 5 6 5 12 10 6 3 7 1-13 6-12 11-15 7-3 4-2 2 0 6 2 4 2 2 12 5 16 11 6 1 6-2 3-3 3-6-1-14 3-22 22 9 6 5 5 8-4 6-6 6-17 8-3 6-1 6 1 6 3 7 18 9 10 12-1 2-5 7-6 5-18 6-4 3-1-3 0-6-3-12 1-14-1-6-3-4-5-2-6-1-2 1-16 11-13 7-2 2-1 6 1 4 3 2 16 9 14 12 6 2 6-2 1 3-1 2-12 3-18 14-24 8-2 0-5-21 0-20-1-4-6-4-4-1-6 2-12 8-20 7-6 7 0-137 3 8 5 4 18 7 16 9 3 0 5-2 4-4 1-2 0-18 3-16-2-8zM25 405l-13 9-15 6-3 4 0 6 2 2 4 4 12 4 12 9 6 1 7-3 3-3 0-3-1-15 1-14-1-4-5-4-4 0zM402 340l4-1 18 5 18 13 6 0 6-3 6-3 2 0 0 9 3 6 4 4 15 5 8 7 0 24-8 7-11 5-5 2-2 4 0 2 1 6 3 4 14 5 8 7 0 24-8 7-20 8-8 9-3-4 3-7 1-5-3-18 2-18-2-6-6-5-6-1-6 3-12 9-18 5-4-1-4-16 0-6 3-20 1-4 7 4 15 4 14 11 6 1 4-1 4-3 3-6-1-18 2-16 0-6-2-3-4-3-2-1-6 0-18 13-16 5-6 3-1-2-3-24 0-6zM408 480l7 1 9 3 8 8-2 4-10 8-6 1-6 0-2-7-1-6zM-7 510l1-1 16 5 6 5 6 7-2 2-6 6-4 4-8 2-8 0-3-6-1-6 0-6zM464 510l2-1 14 5 4 2 6 6 2 4-1 2-7 9-10 3-7 0-1-1-4-7 0-6z"/>
<path fill-rule="evenodd" fill="rgb(42,42,42)" d="M57 22l7 0 4 2 3 4 1 2-6 6-6 3-2 0-2-3-2-2 0-6zM230 184l2-3 2 0 10 3 6 3 6 9-10 10-6 3-9 1-3-3-2-11 1-6zM284 208l2-2 14 4 6 3 6 4 11 12-13 13-6 4-10 4-4 2-3 6 1 6 2 4 4 2 16 7 14 13 6 2 10-1 0 6-3 1-7-1-6 2-14 13-6 3-11 3-5 3-2 3-4 13-12-7-6 0-6 3-8 7-6 3-6 2-10 1-4-10-1-6 0-8 4-12 2-2 15 4 6 3 8 8 6 3 6-1 4-2 4-5 2-4-3-20 2-14-1-6-2-4-6-3-6-1-3 2-15 10-18 5-2 0-4-15-1-6 5-23 20 6 12 9 6 3 4 0 6-2 6-5 1-4-1-20zM172 220l2-3 10 2 5 3 5 6-5 6-4 4-5 1-6 1-2-2-2-6 0-6zM348 246l10 2 6 3 5 5 4 6-4 6-5 4-16 6-1-2-3-14 1-6zM55 288l3-2 6 1 3 1 5 6-1 4-5 4-8 3-2-1-2-6 0-6zM-7 312l1-1 6 1 10 3 15 13-9 9-6 4-18 6-4-19 2-10zM466 316l2-2 4 0 9 2 5 5 5 7-4 6-3 3-6 4-12 4-2-3-2-14 1-6zM350 318l2-1 2 1 9 4 5 6-2 2-6 5-3 1-5 1-2-3-2-6zM42 328l11 8 13 5 6 3 16 13 7 3-7 5-12 11-16 8-2 3-2 3 0 6 1 4 3 2 12 6 16 11 6 1 6-2 4-4 2-2 1-6-1-16 3-12 3-3 11 4 7 3 6 6 4 6-4 6-6 6-13 6-4 2-3 6 0 6 0 6 3 6 19 11 9 11-1 2-5 6-5 5-6 3-16 5-3-19 1-14-1-6-3-4-6-3-6-1-2 1-16 11-14 8-2 2-1 6 1 4 3 2 13 8 16 13 8 3-8 5-15 13-7 3-18 6-2-3-4-18 0-20-1-4-5-3-6-2-2 0-16 10-18 6-6 3-2-2 0-9 0-116 4 5 4 3 16 5 18 11 6 0 2-2 4-2 2-5 0-16 3-20zM24 405l-12 8-12 5-5 2-2 4 0 6 1 2 4 4 12 4 6 3 8 6 7 2 5-2 4-5 1-6-1-12 1-14-1-4-6-4-4-1zM402 342l4-2 15 3 5 3 12 10 6 2 6-1 10-4 2 11 3 4 3 2 16 6 8 6 0 24-8 6-16 7-2 4-1 3 1 6 3 4 15 6 8 7 0 22-5 6-7 3-12 4-5 2-3 3-3-3 1-8-3-16 1-20-2-6-6-4-6-1-4 1-12 9-8 4-12 3-3-4-4-12 0-6 3-21 22 6 14 11 4 1 6-1 6-5 2-5-1-18 2-18-1-4-2-5-4-2-5-2-7 3-8 7-6 4-22 8-4-25 1-6zM287 346l1-3 12 5 7 4 7 8-4 6-4 4-6 3-8 2-3-3-3-6-1-6zM408 484l0-2 4-1 6 1 6 4 6 6-1 4-7 5-4 3-6 0-4-1-2-7 0-6zM-6 510l10 3 6 2 5 5 5 6-4 6-6 5-10 3-6-1-3-7-1-6 3-12zM465 510l9 2 6 3 9 7 2 4-1 2-6 8-6 3-6 1-4 0-2-2-3-6-1-6z"/>
<path fill-rule="evenodd" fill="rgb(45,45,45)" d="M57 24l1-1 6 0 5 5 1 2-2 4-4 2-6 1-3-7zM231 184l1-1 2-1 10 2 6 5 5 7-9 9-6 3-8 1-3-5-2-8 1-6zM285 208l13 2 8 3 6 5 10 10-12 14-6 3-12 5-3 2-3 6 1 6 1 3 4 3 18 8 14 13 13 3-13 4-14 13-22 9-3 4-3 10-12-5-6-1-6 4-8 7-6 4-10 2-6 0-3-9-1-8 1-10 3-9 12 2 6 3 12 10 6 3 6-1 7-4 3-4 0-6-2-18 2-18-3-6-3-2-4-2-6-1-6 3-12 9-18 5-2-3-4-15 0-8 4-13 2-3 16 4 5 4 10 8 5 2 4 0 6-2 6-5 2-5-1-20zM173 220l1-2 4 0 6 2 4 2 5 6-6 6-3 3-10 1-2-4-1-6 1-4zM348 250l0-2 4 0 8 2 6 4 6 8-4 6-4 3-16 6-2-9-1-6zM57 288l3-1 6 3 5 4-2 4-5 4-6 1-2-3-1-6zM-6 312l10 1 6 2 4 3 10 10-9 8-5 4-16 5-2-3-3-14 2-10zM467 316l1-1 4 0 8 2 6 5 4 6-4 6-6 4-14 5-3-15 1-6zM351 322l1-3 6 1 6 4 2 4-5 6-7 1-2-1-2-4zM45 334l1-1 6 3 14 5 6 3 16 14 4 2-20 18-14 8-3 4-1 3 1 3 3 5 18 9 12 10 6 1 6-2 6-4 1-3 1-6-1-10 0-6 3-12 2-2 14 5 6 3 5 6 2 4-6 8-7 5-11 5-3 3-3 5 0 10 1 6 2 2 4 4 14 6 6 5 4 7-3 6-7 6-6 3-12 4-3-1-3-16 1-18-3-6-4-2-6-3-6 1-16 12-12 5-3 3-3 5 0 4 3 5 15 8 16 14 4 2-20 18-6 3-18 5-1-2-4-18 0-20-4-6-5-4-6 0-18 12-15 4-7 2-1-2-1-10 0-95 0-9 2-3 6 3 16 4 18 12 2 0 6-2 4-2 3-6-1-16 3-18zM28 402l-16 10-13 6-5 2-2 4-1 3 2 5 3 4 14 4 6 3 8 7 6 2 6-2 3-2 2-4 1-2-2-16 2-14-1-4-5-4-3-2zM403 342l3-1 14 3 6 3 10 8 6 4 6 0 8-3 3 2 2 6 5 6 18 6 8 7 0 22-8 7-16 6-2 3-2 5 1 6 3 4 16 6 8 7 0 22-6 5-6 3-14 5-6 3-5-25 2-20-3-6-6-5-6-1-4 1-12 9-8 5-12 2-3-3-3-8-1-10 4-18 2-2 19 6 12 9 5 3 7-1 7-5 2-6-2-18 3-18-2-6-2-4-6-4-4 0-6 3-14 12-18 5-3 0-4-16 0-6 1-8zM288 346l0-1 16 5 7 8 2 2-3 6-4 4-8 3-6 1-2-2-3-6-1-6zM409 484l3-2 2 1 9 4 6 5-2 4-6 5-9 2-3-1-2-6 0-6zM-6 514l0-2 4 0 12 4 4 4 5 6-1 2-6 6-6 4-8 1-3-2-3-5-1-6zM466 514l2-2 6 1 6 3 5 4 4 6 0 2-5 6-10 5-6 0-1-1-3-6-1-6z"/>
<path fill-rule="evenodd" fill="rgb(47,47,47)" d="M59 24l5 1 3 3 1 2-4 5-4 0-3-2 0-5zM233 184l5-1 6 2 5 5 5 6-5 6-5 4-6 2-6 0-3-6-1-6 1-6 3-6zM285 210l3-1 16 4 8 6 9 9-11 13-6 4-12 4-4 3-2 6 0 6 2 4 4 3 12 4 6 3 12 11 8 5-8 6-12 11-6 3-16 5-2 3-5 8-1 1-8-3 2-1 5-5 2-6-3-22 2-18-2-6-8-5-6-1-6 3-12 10-6 2-12 3-2-2-1-6-3-12 1-6 3-12 2-3 12 3 6 2 12 10 6 3 6-1 10-5 3-7-2-20zM177 220l3 0 6 2 5 6-5 6-8 3-4 0-2-9 2-8zM350 250l4-1 9 3 4 4 4 6-4 6-3 2-6 3-6 2-4 0-2-11 1-8zM57 292l3-3 4 1 3 2 2 2-2 4-3 2-4 1-2-1-1-6zM227 312l1-2 16 3 6 3 8 9 6 3-6 3-12 10-6 2-8 1-4-1-4-13 1-8zM-7 316l1-3 4 0 8 2 7 3 9 10-6 7-6 5-16 4-1-2-3-12 0-6zM466 318l2-2 6 0 6 2 5 4 4 6-2 2-7 7-12 5-2-2-2-10 0-6zM353 322l1-1 4 1 4 2 2 4-2 2-4 4-4 0-2-4-1-6zM47 336l1 0 22 7 6 4 14 13-15 16-17 9-3 3-1 6 1 6 3 2 14 7 16 12 2 1 6-1 7-3 4-4 2-6-2-12 1-6 4-12 14 4 5 2 5 6 2 4-1 2-5 6-6 4-12 5-4 3-2 6 0 10 1 6 3 3 2 3 16 6 5 6 4 6-3 6-6 6-6 3-12 3-3-4-3-12 2-14-1-6-5-6-8-4-6 1-16 12-12 5-4 4-2 2 0 6 2 6 17 10 17 14-12 12-6 5-8 4-16 4-5-19 0-20-1-4-2-3-6-3-6-1-18 12-22 6-2-13 0-91 1-11 1-2 22 7 18 11 2 1 6-2 5-3 3-6-1-18zM28 402l-16 10-18 7-3 5-1 2 2 6 3 4 17 6 12 9 6 2 7-3 3-2 2-4 0-2-1-16 1-14-2-6-4-2-6-3zM404 342l2-1 14 4 8 3 10 10 7 2-7 4-9 8-5 4-18 5-3-3-3-12-1-6 2-8zM289 348l3-1 12 5 4 2 4 6-1 4-7 6-6 2-6 1-3-3-2-6 0-6zM449 360l7-2 5 8 4 4 19 7 8 7 0 20-8 7-16 7-3 2-2 6 1 6 3 4 17 7 8 7 0 20-6 5-6 4-18 6-2-1-4-22 2-20-2-4-2-4-6-4-6-1-6 3-10 8-6 3-14 3-4-8-2-8 1-12 3-10 2-1 12 3 6 2 12 10 6 3 6-1 8-6 2-6-2-18 2-22-2-6-6-5zM409 486l3-2 6 1 3 1 6 6-1 4-6 4-2 2-6 0-3-4-1-2zM-4 514l4 0 9 2 4 4 5 6-2 2-6 7-6 3-6 0-4-2-1-4-1-6 2-12zM468 514l0-1 6 1 6 3 4 3 4 6 0 2-3 4-5 4-6 2-6 0-3-6-1-6 2-9z"/>
<path fill-rule="evenodd" fill="rgb(50,50,50)" d="M60 28l0-1 4 0 2 3-3 2-3 1-1-3zM231 186l3-2 10 2 4 4 5 6-5 6-4 3-6 2-6 0-3-11zM287 210l1-1 10 2 8 4 6 4 8 9-11 12-5 4-12 4-6 4-2 6 1 6 2 4 5 4 12 4 6 3 12 11 5 4-5 5-12 11-6 3-16 5-6 6-2 5-4-1 4-6 2-6-3-18 0-6 2-16-2-6-3-2-6-4-6-1-6 3-12 10-6 2-12 3-1-1-3-10-1-12 4-14 1-2 12 3 6 2 12 10 6 3 6-1 10-5 2-4 2-4-2-20 2-10zM174 222l4-1 6 1 6 6-6 6-6 2-3-2-2-2 0-4zM349 253l3-3 8 2 6 4 4 6-4 6-4 2-8 3-4 1-2-2-1-8 0-6zM60 292l4-1 2 3-2 4-4 1-1-1 0-4zM228 312l4-1 12 3 6 3 11 11-15 12-5 2-9 2-4-3-3-11 0-8zM-6 316l4-2 9 2 5 3 9 9-5 6-6 5-6 2-10 2-2-8-2-7 1-6zM467 318l1-1 4 0 8 2 4 3 4 6-2 2-6 6-12 4-2-4-1-6 0-6zM354 324l0-1 4 1 4 4-3 2-5 1-1-3zM47 340l1-3 22 7 6 4 13 12-15 16-17 8-3 3-1 3 0 6 1 4 4 3 14 6 16 13 2 1 6-1 10-4 1 2 1 16 2 2 4 5 16 6 4 5 4 6-3 6-7 6-8 3-8 2-2-3-3-12 2-18-2-6-5-3-8-4-6 1-16 13-13 5-4 4-1 2-1 6 3 6 4 4 12 6 17 14-11 12-6 4-8 4-12 3-4 0-4-13-1-10 1-14-2-4-2-4-6-3-6 0-18 12-18 4-4-1-2-11 0-22 0-7 0-5 0-20 0-5 0-6 0-23 2-13 22 5 18 12 2 0 6-2 6-3 2-4 0-6-1-14zM24 402l-12 9-18 7-2 2-2 4-1 6 2 2 3 4 18 7 12 9 6 1 8-3 3-2 2-4-2-18 2-14-1-4-2-2-4-4-6-1zM405 342l9 1 9 4 18 13-17 15-6 3-12 2-2-2-3-8-1-10 1-8zM291 348l1 0 6 1 6 3 3 2 4 6-4 6-3 3-10 3-2 0-2-2-2-10 0-6zM458 366l2 0 6 5 18 6 8 8 0 18-8 8-17 7-3 2-2 6 1 6 2 4 5 2 14 5 8 8 0 18-6 6-6 3-17 5-3-3-3-18 1-20-2-6-2-3-6-4-4-1-2 0-6 3-12 10-6 2-12 2-4-9-2-10 2-8 4-10 12 3 6 2 12 10 6 2 6 0 6-5 3-3 1-5-2-18 3-18zM111 382l1-3 2 0 12 4 6 4 5 7-4 6-3 3-18 9-2 0 0-4-2-14zM410 486l2-1 2 0 6 2 5 5-1 4-3 2-3 2-6 1-3-5 0-4zM-5 516l3-2 9 2 4 4 5 6-1 2-3 4-6 4-8 1-3-3-2-6 0-6zM467 516l1-2 6 1 6 3 4 2 3 6 0 2-3 4-6 4-10 1-3-9 0-6z"/>
<path fill-rule="evenodd" fill="rgb(54,54,54)" d="M232 186l2-1 4 0 6 2 3 3 4 6-4 6-3 2-10 2-3-2-1-6 0-6zM288 210l10 2 8 3 6 5 7 8-7 10-6 4-14 6-7 4-2 6 1 6 4 7 16 5 6 4 16 14-14 13-6 4-18 7-6 4 0-10-3-18 3-18-2-6-2-2-8-5-6 0-6 3-12 9-6 3-12 2-3-10-2-8 2-10 3-9 12 2 6 3 12 9 6 4 6-1 10-5 2-3 2-6-2-20 3-10zM177 222l3 0 4 2 4 4-4 5-4 1-3 0-2-2-1-4 1-2zM350 252l2-1 2 0 6 1 4 3 5 7-2 2-6 6-9 3-3-3-1-6 0-6zM230 312l2 0 2 0 10 2 6 4 10 10-14 11-6 3-8 1-4-3-1-4-2-8 2-10zM-5 316l5-1 10 3 10 10-5 6-5 4-6 3-10 1-2-8-1-6 1-6zM468 318l4-1 6 2 4 3 5 6-3 5-4 2-6 3-5 1-3-5 0-7zM48 340l0-1 4 0 18 5 6 4 12 12-8 10-7 6-17 8-3 6 0 6 1 5 4 2 14 7 16 12 6 2 12-5 0 1 0 12 0 4-10-5-6 0-2 1-16 12-14 6-4 3-1 3-1 6 3 6 3 4 14 6 15 14-1 4-6 6-8 6-8 4-12 2-4-1-3-11-1-10 1-14-3-6-2-2-6-4-6 0-18 12-18 5-3-3-3-11 0-18 1-9-1-8 0-15 1-7-1-8 0-19 3-13 3-1 18 5 18 12 3 0 5-2 6-4 2-4 1-2-1-18zM24 402l-12 9-18 7-4 2-2 6 2 6 2 4 20 7 12 9 6 2 4 0 5-4 3-2 1-4-1-18 1-14 0-4-2-2-5-4-6-2zM404 346l2-3 2 0 12 3 6 3 14 11-10 10-6 5-6 2-12 3-4-10-2-10 1-6zM290 352l2-3 6 1 6 3 6 7-2 4-2 2-6 4-6 1-2-1-2-4-1-6zM460 372l2-2 6 2 12 4 6 4 6 5 0 18-8 7-18 8-3 2-2 6 1 6 2 4 5 2 15 6 8 8 0 16-6 6-6 3-18 5-1-2-4-18 0-6 2-12 0-6-3-3-2-3-6-5-3-1 5-1 4-3 2-3 3-5 0-6-2-14zM112 382l2-2 12 3 6 5 4 6-1 2-5 7-6 3-12 4-3-16zM404 412l2-3 14 3 6 4 10 8 2 1 5 1-5 2-12 10-6 4-8 2-6 0-4-8-1-10 1-6zM110 444l1-2 15 6 7 6 4 6-1 2-5 6-7 5-10 3-2-1-4-13zM414 486l6 3 4 3-4 5-6 3-2-2-2-6 2-5zM-4 516l2-1 2 1 10 3 5 7-1 2-8 7-6 1-2 0-2-2-2-6 0-6zM468 516l6 0 8 4 4 6-1 2-2 4-4 2-5 2-2 0-4-1-1-3-1-6z"/>
<path fill-rule="evenodd" fill="rgb(61,61,61)" d="M233 190l1-2 6 0 6 4 2 4-5 6-5 1-4 0-1-1-1-6zM288 214l0-2 4 0 12 3 6 5 7 8-5 7-6 5-6 3-12 4-1-1-1-2-2-16 0-6zM228 246l4-1 12 3 6 3 11 11-15 12-6 2-8 2-4-2-3-12 0-8zM351 256l3-2 6 1 6 7-2 2-4 4-6 2-2-1-2-7zM277 262l3-2 0 4zM282 268l0-1 0 3zM283 274l3-3 5 3 15 5 6 4 11 11-11 12-6 4-20 7-2-1-4-18 0-6 3-12zM230 316l2-2 6 0 6 2 6 4 6 8-7 7-6 4-5 2-6 0-4-5-1-8 1-6zM-5 318l3-1 8 1 6 4 5 6-5 5-3 3-5 3-6 1-3-4-2-6 0-6zM470 322l2-2 6 2 6 6-2 2-4 4-6 2-3-2-1-4 0-6zM49 342l3-2 12 3 6 3 7 6 8 8-7 9-6 5-15 8-4 2-1 4-1 6 1 6 2 2 5 4 13 5 16 13 6 2 8-1 1 1-1 4-6-2-6 0-6 4-12 11-14 6-3 1-3 4-1 2 0 6 2 6 5 5 14 6 13 13-1 4-6 5-7 7-7 3-12 2-3-3-4-12 0-6 1-12 0-6-5-6-7-3-6 0-4 1-8 7-6 4-6 2-12 2-5-9-1-9 0-7 3-18 3-1 18 6 6 4 8 7 4 1 2 1 6-2 5-4 3-2 1-6-2-16 2-14-1-4-2-3-2-3-6-3-6 0-4 1-8 7-6 4-22 7 0-6-2-14 0-8 4-14 2-3 18 4 6 4 8 7 4 1 6 0 8-5 4-6-1-20zM407 346l1-1 4 0 8 2 7 5 9 8-8 10-4 3-6 3-6 1-4 0-2-1-4-10 0-6 1-8zM292 354l2-2 6 2 5 4 2 2-2 4-3 2-8 2-2-2-1-2zM462 372l18 6 6 3 6 6 0 14-2 3-10 6-12 4-6 4-2-4-2-20zM113 384l1-2 6 1 6 2 4 3 4 6-2 2-6 7-12 4-1-1-2-10 0-6zM407 412l1-1 6 1 8 2 5 4 10 8-13 13-7 2-9 2-1-2-2-3-2-5-1-7 2-8 2-5zM459 420l1 0 0 1zM454 426l2-2 2 2-1 4-1 0zM461 438l1-2 6 4 12 4 7 4 5 6 0 13-6 6-6 3-6 2-8 2-4-1-4-17zM111 448l1-2 2 0 10 2 6 4 5 8-3 6-6 4-6 3-6 1-2-2-2-6-1-6zM-3 520l3-2 6 2 6 6-1 2-3 4-4 2-4 0-2-2-2-6zM470 520l2-2 6 2 3 2 2 4-1 2-4 5-6 1-3-2-1-4 0-6z"/>
<path fill-rule="evenodd" fill="rgb(67,67,67)" d="M236 192l2-1 2 0 4 5-2 2-4 2-3-2 0-3zM288 216l0-1 4-1 6 0 5 2 7 5 5 7-5 8-6 4-16 5-3-11 0-6 1-5zM229 250l3-3 12 2 6 4 8 9-12 10-6 3-8 1-3-2-3-10 0-6zM353 258l1-1 4 0 2 1 2 4-2 2-6 2-1-2 0-2zM285 274l1-1 14 4 6 3 7 6 8 8-8 10-7 5-12 4-6 2-2-1-4-14-1-6zM234 316l6 1 5 1 4 4 5 6-8 8-6 3-6 1-2-1-3-5-1-6 1-6 3-6zM-4 322l2-3 6 0 6 3 4 6-4 6-4 2-8 1-3-7 0-2zM471 324l3-1 4 1 2 4-2 3-4 1-2 0-1-4zM51 342l1 0 8 2 10 3 6 5 7 8-4 6-7 7-6 4-12 4-2 3-3 6 1 10 2 2 4 4 10 3 6 3 12 12 5 2-17 16-6 3-12 4-3 5-2 8 3 7 6 5 8 3 6 4 11 11-4 6-7 7-8 5-10 1-3-1-4-8-1-10 2-14-2-6-4-4-8-5-6 0-4 1-8 8-6 4-6 2-10 1-2 0-1-1-4-10-1-8 4-18 2-3 18 5 6 4 8 8 4 1 2 0 6-1 6-4 3-4 1-6-2-16 2-18-4-6-8-5-6 0-4 1-8 8-6 4-18 5-5-13-1-8 2-10 4-9 12 1 6 2 5 3 9 9 4 1 6 0 8-5 4-3 1-5-1-20zM406 348l2-2 6 1 6 1 6 4 8 8-5 6-5 6-6 2-10 2-2-4-3-8 0-6zM294 358l0-2 4 0 3 2 2 2-2 4-3 1-4-1zM463 376l3-1 12 2 8 5 6 7 0 10-6 6-6 4-18 6-3-21 1-9zM116 384l5 1 5 2 5 7-1 2-4 4-8 4-4 0-2-8 1-6 1-5zM407 414l1-1 13 2 5 4 8 7-5 7-5 4-6 3-10 1-2-5-2-6 0-6zM462 442l0-2 4 0 14 5 6 4 5 5 1 2 0 9-6 6-9 5-11 3-2-1-4-10-1-6 0-6zM113 450l1-2 12 4 4 2 3 6-1 2-6 6-6 3-6 1-3-10 0-6zM0 522l0-1 4 1 2 2 2 2-1 2-3 2-4 0-1-4zM471 522l3 0 3 1 3 3-2 2-4 2-2-1z"/>
<path fill-rule="evenodd" fill="rgb(73,73,73)" d="M290 216l2-1 2 0 10 3 5 4 4 6-4 6-5 5-12 4-4-2-2-9 1-10zM230 250l2-2 2 0 10 2 6 5 6 7-6 7-6 4-6 1-6 1-4-6-1-7 1-6zM286 276l2-1 10 2 8 4 6 5 7 8-7 10-6 4-8 4-10 1-1-1-4-8-1-10 1-8zM232 318l2-1 10 2 3 3 5 6-5 6-3 2-10 2-2-3-2-5 0-6zM-1 322l1-1 4 0 3 1 4 6-1 2-4 3-6 2-2-1-1-6 1-5zM51 346l1-2 2 0 12 2 8 6 8 8-4 6-6 6-6 3-12 5-2 2-4 6 0 2 1 10 1 2 3 4 13 4 6 3 14 13-7 10-7 5-6 3-12 4-3 2-2 4-1 8 0 4 3 6 4 2 15 6 6 5 5 8-3 5-8 8-6 3-10 1-2-1-4-11-1-5 2-13 0-6-3-5-4-3-8-5-4-1-2 1-18 14-6 2-10 1-2-2-3-4-1-6-1-6 1-6 4-13 12 2 6 2 6 4 8 8 4 2 2 0 6-1 6-4 4-4 1-6-3-18 3-18-2-6-9-5-6-3-6 3-9 9-5 3-10 3-8 0-5-12 0-6 1-6 4-11 2-1 10 1 6 2 6 4 8 8 4 1 6 0 8-4 4-4 3-6-2-18 1-6zM408 348l4 0 8 2 6 4 6 6-4 6-4 4-6 3-10 1-2-6-2-8 1-6zM463 378l3-2 8 2 6 2 7 4 5 7 0 6-4 5-4 4-6 3-12 4-2-1-3-10-1-8 1-6zM116 388l2-2 2 1 7 3 2 4-1 2-4 4-6 2-3-2-1-6zM408 414l10 1 6 3 8 8-2 4-6 6-4 1-6 2-6 0-2-7-1-6 1-6zM463 444l3-2 8 2 6 2 7 4 5 8 0 5-4 5-4 4-6 3-12 2-4-5-2-9 0-7zM114 450l4 0 6 2 5 4 2 4-1 2-4 4-6 3-2 1-3-2-3-8z"/>
<path fill-rule="evenodd" fill="rgb(80,80,80)" d="M291 216l7 1 6 2 3 3 5 6-5 6-3 4-6 2-6 1-3-3-2-10 1-6zM230 252l2-2 2 0 6 1 6 3 8 8-5 6-5 3-6 2-7 0-2-5-1-6zM286 280l2-3 16 3 7 6 7 8-6 8-6 5-8 4-10 1-2-5-3-9 0-10zM233 322l1-3 6 1 4 2 5 6-5 6-6 2-4 0-2-6 0-6zM0 324l4 0 4 4-2 2-2 2-4 0-1-4zM53 346l1-1 6 1 10 3 6 5 4 6-4 6-6 6-18 8-2-2-2-18 2-8zM408 352l0-2 4-1 8 2 5 3 5 6-4 6-6 5-6 2-6-1-2-6-1-6zM-8 378l2-1 4 0 12 3 17 14-11 10-6 4-6 2-10 2-2-3-4-13 1-8zM465 378l1 0 2 0 12 3 6 3 5 6 1 3 0 3-5 6-3 3-6 3-12 3-4-9-1-8 0-6zM42 390l4-1 0 11 0 1-9-7zM117 390l3 0 4 1 2 3-2 2-4 2-2 0-1-4zM48 406l0-2 2 2 20 6 7 6 7 8-6 10-6 4-6 3-14 5-4 3 1-7-4-18 3-14zM408 418l4-2 8 2 4 2 5 6-1 4-4 4-6 3-6 1-4-2-2-10zM-8 444l2-1 10 1 6 2 16 14-10 10-6 4-6 2-10 1-2-3-2-2-2-10 1-8zM464 444l2-1 2 1 12 3 5 3 6 6 1 4-1 2-7 9-10 4-6 1-2-1-4-7-1-8zM116 454l2-2 2 1 6 3 3 4-1 2-4 4-6 2-3-3-1-3 0-5zM42 456l4-2 0 12-8-6zM51 474l1 0 18 7 6 5 4 6-3 6-7 7-6 3-6 1-4 0-2-3-3-8-1-6z"/>
<path fill-rule="evenodd" fill="rgb(86,86,86)" d="M291 220l3-2 6 1 6 3 4 6-4 6-2 2-6 3-6 0-3-5-1-6zM232 252l2-1 8 1 5 4 5 6-5 6-3 2-10 2-2-2-2-6 0-6zM288 280l0-2 4 0 8 2 7 3 5 5 4 6-6 10-10 5-6 1-6 0-4-10 0-6 0-6zM235 322l6 0 4 2 2 4-2 2-5 4-2 0-4-1-1-5 1-6zM52 348l2-2 4 0 6 1 6 3 4 4 5 6-2 4-5 6-6 3-14 4-3-17 1-6zM410 352l2-2 6 1 5 3 5 6-1 4-7 5-8 2-3-1-2-6 0-6zM-6 378l6 0 10 3 5 3 9 9-8 9-6 5-6 2-10 1-2-2-2-6-1-8 1-10zM465 382l1-3 2 0 6 1 6 2 5 2 5 6 2 4-2 2-4 6-6 4-8 3-6 0-4-9 0-6zM50 408l2-1 18 6 6 5 7 8-4 6-7 7-6 4-15 4-1-3-4-14 1-10zM411 418l3-1 6 3 8 6-5 6-5 4-6 1-4-5 0-8 1-4zM-7 444l1 0 6 0 10 3 4 3 9 10-7 8-6 5-6 2-10 1-4-8-1-8 1-6zM465 448l1-3 3 0 11 3 6 5 3 3 2 4-1 2-5 6-5 4-6 2-7 0-1-1-1-1-3-10 0-6zM117 456l1-1 2 0 4 1 2 4-1 2-5 3-2-1-2-4zM51 478l3-1 10 2 6 3 4 4 5 6-1 4-6 6-8 5-10 1-2-4-3-8 0-6z"/>
<path fill-rule="evenodd" fill="rgb(92,92,92)" d="M294 220l4 0 6 2 4 6-4 7-10 3-2-2-2-8 2-6zM234 252l4 1 6 2 6 7-6 6-4 2-6 1-2-3-1-4 0-6zM289 280l9 0 6 2 6 4 5 8-5 9-6 4-10 2-6 0-3-9-1-6 2-8 2-6zM236 324l2 0 2 0 4 4-3 2-3 1-2-3zM53 348l1-1 4 0 8 3 6 4 6 6-4 6-4 5-6 3-10 2-2-4-2-8 0-6zM409 354l2-2 7 1 3 1 6 6-2 4-5 4-2 1-6 1-3-4-1-2 0-6zM-7 382l1-3 6 0 6 1 8 4 8 10-7 8-5 4-6 2-10 1-2-5-3-8 1-6zM466 382l2-2 10 1 5 3 3 4 4 6-1 2-5 6-3 3-7 2-6 1-2-2-3-6-1-6 1-6zM50 412l2-3 12 2 6 2 5 5 5 6 1 2-1 4-4 6-6 5-6 2-12 2-5-13-1-6 1-6zM410 420l2-1 2 0 6 2 5 6-1 3-3 2-3 2-6 1-3-5 0-4zM-7 447l1-2 12 2 7 3 9 10-6 7-6 5-6 2-10 1-3-7-1-6 0-6zM466 448l2-2 6 1 6 2 6 5 4 6-1 2-5 6-4 3-6 2-6 1-2-2-2-6-1-6 1-6zM52 480l2-2 10 2 6 3 3 3 4 6-1 4-5 6-5 2-6 2-6 0-2-4-2-6 0-6z"/>
<path fill-rule="evenodd" fill="rgb(99,99,99)" d="M293 222l1-1 6 1 5 4 2 2-6 6-7 2-1-2-2-2 1-6zM234 256l0-1 4-1 2 1 6 3 2 4-6 6-4 1-4-1-2-6zM288 282l4-2 6 1 6 2 6 5 4 6-4 6-4 4-6 4-8 1-4-2-3-9 0-6zM54 348l6 1 6 2 6 3 4 6-3 6-4 4-5 3-10 2-1-3-1-5-1-7 1-6zM411 354l3 0 6 2 5 4-2 4-5 4-6 0-3-8zM-6 382l0-2 4 0 8 1 6 4 9 9-5 6-6 5-6 3-10 0-3-8-1-6 1-6zM467 382l5-1 6 1 6 4 4 4 1 4-1 2-4 6-4 2-6 2-6 1-2-1-2-6-1-6 1-6zM51 412l1-1 2-1 12 3 6 3 5 4 4 6-4 6-5 6-8 4-10 2-2 0-4-12-1-6 1-6zM411 424l1-2 2-1 6 2 3 3-3 5-2 2-4 0-2-2-2-5zM-6 448l0-2 4 0 8 1 6 4 8 9-4 6-6 5-10 3-6-1-3-7-1-6 1-6zM468 448l6 0 6 2 4 4 5 6-3 6-6 4-8 2-4 1-1-1-2-6-1-6 2-9zM53 480l1-1 12 4 8 7 2 2-1 4-5 6-10 3-2 1-4-2-2-6-1-6z"/>
<path fill-rule="evenodd" fill="rgb(105,105,105)" d="M293 226l1-3 4 0 4 3 2 2-4 5-6 1-1-6zM234 258l4-2 2 1 4 1 2 4-2 3-6 2-4-3zM289 282l3-1 8 1 6 4 3 2 4 6-3 6-4 3-8 5-6 0-3-2-2-6-1-6 1-6zM54 352l4-3 8 3 5 2 4 6-1 4-8 6-6 2-6 1-2-7 0-6zM412 358l2-3 4 1 2 2 2 2-2 4-6 2-3-2zM-5 382l5-1 10 2 5 5 4 6-1 2-6 6-6 4-8 2-4-1-3-7 0-6 1-6zM467 384l1-2 4 0 8 3 4 3 4 6-1 2-7 7-6 2-6 1-2-4-2-6 1-6zM53 412l5-1 8 2 7 5 5 6 2 2-2 4-4 6-4 3-6 3-6 1-4 0-2-2-4-9 0-6 2-8 2-5zM414 424l4 0 3 2-2 4-5 1-1-1 0-4zM-5 448l5-1 10 3 4 4 5 6-1 2-6 6-6 4-8 1-4-1-2-6-1-6 1-6zM467 450l1-1 4 0 8 2 4 3 4 6-1 2-7 7-6 2-6 1-3-10 0-6zM54 484l0-3 6 1 6 2 4 2 5 6-1 4-4 4-7 4-5 1-4-2-1-5-1-6z"/>
<path fill-rule="evenodd" fill="rgb(112,112,112)" d="M297 226l4 2-3 4-3-4zM237 258l3 1 3 3-3 2-2 1-2-3zM291 282l7 0 6 2 7 8 1 2-1 4-7 7-6 2-6 0-3-3-2-6 0-6 1-6zM56 352l2-2 6 1 6 4 4 5-4 7-4 3-6 1-2 1-4-2-1-10 1-6zM413 360l1-2 4 1 1 1-2 3-3 1zM-3 382l7 0 6 2 4 4 4 6-6 7-6 4-8 2-3-1-2-4-1-6 0-6 2-7zM468 384l0-1 6 0 4 1 5 4 4 6-3 6-6 4-10 1-2-5-1-6zM52 414l2-2 6 0 6 2 6 4 7 8-1 4-5 6-3 3-6 2-10 1-1 0-3-6-2-6 0-6zM-3 448l7 0 6 2 3 4 5 5-4 7-8 5-8 2-4-3-2-4 0-6 1-6 1-5zM468 450l4 0 4 0 4 3 4 2 2 5-3 6-4 2-5 2-6 0-1-4-1-7zM55 484l3-2 8 3 4 2 4 5-1 4-7 5-8 2-3-1-2-6 0-6z"/>
<path fill-rule="evenodd" fill="rgb(118,118,118)" d="M290 286l2-3 2 0 10 2 3 3 4 6-1 4-6 6-6 2-6 0-2-2-3-6 0-6zM55 354l3-2 6 0 3 2 5 6-1 4-5 4-8 3-2-1-2-6 0-6zM-5 384l3-2 2 0 9 2 4 4 4 6-1 2-4 5-6 4-6 1-3 0-3-4-2-5 0-7zM469 384l5 0 6 3 6 7-4 6-4 3-6 1-4-2-2-8 1-6zM52 414l2-2 6 1 6 1 6 4 6 8-1 4-4 6-3 2-6 3-10 1-2-4-3-8 0-6zM-5 450l3-2 2 0 10 3 7 9-1 2-4 4-6 4-6 2-3 0-3-4-2-6 1-6zM468 454l4-3 8 2 5 7-1 2-3 4-3 2-6 1-2-1-3-6zM57 484l3 0 6 2 6 6-2 6-6 4-6 0-3-4-1-8 1-4z"/>
<path fill-rule="evenodd" fill="rgb(124,124,124)" d="M290 286l2-2 6 0 4 2 4 2 4 6-3 6-7 5-6 1-2-1-3-5-1-6zM56 354l2-1 2 0 6 2 5 5-1 4-3 2-3 2-6 2-3-6 0-4zM-4 384l2-1 2 0 6 1 4 2 6 8-1 2-3 4-6 4-8 1-3-3-2-6 0-6zM468 388l4-3 8 3 5 6-1 2-6 6-4 1-4-1-2-1-1-5 0-2zM53 414l1-1 10 1 6 3 4 3 3 6-2 6-5 5-6 3-6 1-4 0-2-3-2-6-1-6 1-6zM-4 450l2-1 2 0 6 1 4 2 6 8-1 2-3 4-6 4-8 1-3-3-2-6 0-6zM469 454l3-2 6 2 4 2 2 4-1 2-5 5-6 1-3-2-1-4 0-6zM56 486l2-1 2 0 6 2 5 5-1 4-3 2-3 2-7 1-2-5 0-4z"/>
<path fill-rule="evenodd" fill="rgb(131,131,131)" d="M291 286l3-2 4 1 3 1 4 2 5 6-4 6-5 4-3 1-4 0-2-1-2-4-1-6zM58 354l6 1 4 3 2 2-2 4-4 3-4 1-2-1-1-1-1-6zM-4 384l2 0 6 0 7 4 4 6-3 6-6 3-8 1-4-4-1-6 1-6zM470 388l2-2 6 2 4 2 2 4-2 2-4 5-6 1-3-2-1-4 0-6zM54 414l4 0 6 0 6 3 3 3 4 6-3 6-4 5-10 3-6 0-1-2-3-6 0-6 1-6zM-3 450l3 0 6 1 7 5 2 4-1 2-4 5-4 2-6 1-2 0-2-2-2-3 0-5 0-5zM471 454l3-1 4 2 4 5-1 2-3 4-6 1-2-1-1-6zM57 486l5 0 5 4 2 2-3 5-6 3-2-1-2-7z"/>
<path fill-rule="evenodd" fill="rgb(137,137,137)" d="M293 286l5-1 6 3 5 6-4 6-5 3-6 1-2-2-1-2-2-6 1-2 2-5zM58 358l2-2 4 0 4 4-2 4-6 2-2-2zM-3 384l7 0 2 2 4 2 4 6-3 6-5 2-6 2-2-1-3-3-1-4 0-6zM471 388l3-1 4 2 2 1 2 4-1 2-3 3-6 1-1 0-2-6zM54 414l6 0 6 2 6 4 3 4 1 2-1 4-5 6-10 4-2 0-4-2-3-6-1-6 1-6zM-4 454l2-3 2 0 6 1 4 2 4 6-1 2-6 6-7 2-2-1-4-7 0-4zM471 456l1 0 2-1 4 1 3 4-2 2-5 3-2 0-2-5zM58 489l2-1 5 2 3 2-1 4-7 2-3-2z"/>
<path fill-rule="evenodd" fill="rgb(143,143,143)" d="M291 288l3-2 6 1 4 2 4 5-4 7-4 1-6 1-2-2-2-3 0-4zM60 358l4 0 2 2-2 4-4 0-1 0 0-4zM-4 388l2-2 2-1 6 1 4 2 3 6-1 3-6 5-6 1-2 0-3-7 0-2zM471 390l1 0 2-1 4 1 3 4-3 4-4 1-2 0-2-5zM53 418l1-3 6 0 6 2 4 1 2 3 3 5-2 6-3 4-6 3-6 0-4 0-3-7 0-6zM-3 454l1-2 2-1 6 2 4 2 3 5-1 2-3 4-5 2-4 1-2-1-3-6 0-2zM472 460l2-3 4 3-2 3-2 0-1-1zM60 490l4 1 1 1-1 4-4 0-1-4z"/>
<path fill-rule="evenodd" fill="rgb(150,150,150)" d="M292 288l2-1 8 1 3 4 2 2-2 4-5 3-6 1-2-2-1-2 0-6zM-3 388l3-2 7 2 6 6-2 2-2 4-5 2-4 0-2-1-3-7zM474 390l5 4-2 2-3 1-1-1-1-2zM54 418l4-3 2 0 6 2 4 2 5 7-3 6-3 4-6 2-5 1-4-1-2-6-1-6zM-2 453l2-1 6 2 4 2 2 4-1 2-3 4-5 2-3 0-2-2-2-6z"/>
<path fill-rule="evenodd" fill="rgb(156,156,156)" d="M293 288l1 0 4 0 2 0 4 3 2 3-2 4-4 3-6 0-2-3-1-4zM-2 388l2-2 6 2 4 2 2 4-2 2-3 4-3 1-4 0-2-1-2-6zM54 418l4-2 6 0 7 4 3 6-1 4-3 4-4 2-6 2-2 0-4-1-2-5-1-6zM-1 454l5-1 2 2 5 5-1 2-4 4-6 1-2-3-2-4 2-5z"/>
<path fill-rule="evenodd" fill="rgb(163,163,163)" d="M294 288l6 2 3 2 2 2-2 3-3 3-2 1-4-1-2-6zM0 388l4-1 2 2 5 5-2 2-3 3-6 2-2-3-1-4 0-4zM55 418l3-2 6 1 6 3 4 6-1 4-3 4-4 2-6 2-2 0-4-2-1-4-1-6 1-6zM-2 456l2-2 6 1 4 5-1 2-4 4-5 0-2-3z"/>
<path fill-rule="evenodd" fill="rgb(169,169,169)" d="M294 292l0-2 4 0 4 2 2 2-4 5-2 1-4-1-1-5zM-2 390l2-2 4 0 3 2 3 4-4 4-2 2-4 0-2-4 0-2zM56 418l2-1 6 0 5 3 3 4 1 2-1 3-6 6-2 2-6 0-4-2-2-9 2-6zM-1 456l1-1 4 0 2 1 3 4-1 2-4 3-4 0-1-3-1-3z"/>
<path fill-rule="evenodd" fill="rgb(175,175,175)" d="M295 292l3-1 2 1 2 2-1 4-3 0-3 0-1-4zM-1 390l1-1 4 0 2 1 2 4-1 2-3 3-4-1-1-2 0-2zM57 418l3-1 6 2 5 5 2 2-1 4-6 5-2 1-6 1-4-3-1-4 0-6 1-4zM0 456l4 0 2 2 1 2-1 2-2 2-4-1-1-3z"/>
<path fill-rule="evenodd" fill="rgb(182,182,182)" d="M296 294l2-2 3 2-3 3zM1 390l3 0 3 4-2 2-1 1-4-1 0-2 0-3zM55 420l3-2 6 0 2 2 5 4 1 2-1 4-5 4-2 2-6 0-4-3-1-3 1-6zM0 460l4-2 2 2-2 3z"/>
<path fill-rule="evenodd" fill="rgb(188,188,188)" d="M1 394l3-2 1 2-1 2zM56 420l2-2 2 0 6 2 4 4 2 2-1 4-5 4-2 1-6 1-4-6 0-6z"/>
<path fill-rule="evenodd" fill="rgb(194,194,194)" d="M56 420l2-1 2 0 6 2 4 3 1 2-1 4-2 2-4 3-6 0-4-5 0-6z"/>
<path fill-rule="evenodd" fill="rgb(201,201,201)" d="M57 420l3-1 4 1 5 4 1 2 0 4-3 2-3 2-6 0-3-4 0-4z"/>
<path fill-rule="evenodd" fill="rgb(207,207,207)" d="M57 420l3 0 4 0 4 4 2 2-1 4-3 2-6 2-2 0-1-2-2-5z"/>
<path fill-rule="evenodd" fill="rgb(214,214,214)" d="M59 420l5 1 4 3 1 2-1 4-4 3-4 1-2-1-2-3 0-6z"/>
<path fill-rule="evenodd" fill="rgb(220,220,220)" d="M57 424l1-2 2-1 4 0 3 3 2 2-1 4-4 3-4 0-2-1-2-2z"/>
<path fill-rule="evenodd" fill="rgb(226,226,226)" d="M57 424l3-3 4 1 2 2 2 2-1 4-3 2-4 0-3-2z"/>
<path fill-rule="evenodd" fill="rgb(233,233,233)" d="M58 423l3-1 4 2 3 2-1 4-3 2-4 0-3-2 0-4z"/>
<path fill-rule="evenodd" fill="rgb(239,239,239)" d="M59 424l1-2 4 2 3 2-1 4-2 1-4 0-2-1 0-4z"/>
<path fill-rule="evenodd" fill="rgb(245,245,245)" d="M60 424l4 0 2 2-2 4-4 1-1-1 0-4z"/>
<path fill-rule="evenodd" fill="rgb(252,252,252)" d="M60 426l0-2 4 1 1 1-1 4-4 0z"/>
</g></g></g>
<g clip-path="url(#cld)"><g filter="url(#vf)"><rect x="419.4" y="308.5" width="253.8" height="278.1" fill="rgb(1,1,1)"/>
<g transform="translate(427.4,316.5) scale(0.5)">
<path fill-rule="evenodd" fill="rgb(4,4,4)" d="M-14 -14l506 0 0 554-506 0z"/>
<path fill-rule="evenodd" fill="rgb(6,6,6)" d="M-14 -14l82 0-1 2 3 4 12 4 4-2 2-2 2-6 93 0-1 2 1 4 3 2 18 9 4 0 1-3 4-14 81 0-2 6 1 6 1 2 5 4 11 4 11 8 3 1 7-2 3-3 1-2 0-16 2-8 40 0 7 3 4-1 7-2 15 0-2 2 0 4 1 6 2 2 15 8 12 8 6 2 6-2 4-5 0-17 1-8 37 0 0 24-8 7-9 5-3 2-1 4 1 2 3 4 17 9 0 41-11 8-2 2 0 2 3 4 10 6 0 47-7 7 0 2 7 7 0 52-10 7 0 4 10 8 0 43-9 9 1 2 8 8 0 52-5 6 0 4 5 6 0 47-10 7-2 2-1 4 1 3 12 9 0 36-6 4-10 4-4 4-2 2 0 4 1 2 3 4 10 4 8 7 0 27-1 0-35 0-2-12 0-18-4-3-6-2-6 2-12 8-9 5-4 2-2 4-1 6 2 5 4 3-22 0-6-1-6 1-50 0-3-24-1-3-4-1-6 1-8 5-13 4-3 4-2 2 0 6 2 4 4 2-19 0-5-3-6-2-6 1-6 4-4-2-2-2-4 4-27 0-2-12-1-12-2-4-4-1-5 3-7 4-14 8-3 2-1 6 1 4 3 2-101 0-1-2-4 1 0 1-92 0zM4 492l-4 3 2 3 2 2 5 2 6 0 3-2 0-6-2-3-6-1zM204 447l-12 9-1 4 2 2 11 9 4 2 2 0 2-5 1-18-1-2-2-2-2-1zM268 12l-4 1-10 9-3 2-1 4 2 2 4 4 8 4 4 1 2-4 3-17 0-2-2-4zM318 48l-11 10 0 2 9 6 6 2 2-3 2-13 0-4-2-1-2 0zM382 6l-12 9-11 7-3 2 0 4 3 2 25 14 4 0 2-4 2-28-1-2-3-4-4 0zM438 45l-18 13-1 2 1 4 5 2 16 10 3 0 2-4 1-2 1-21-1-3-3-2-2 0zM258 351l-2 4-3 9 3 11 3-5zM382 87l-4 1-7 6 0 2 3 4 4 2 4 0 1-2 0-10zM438 119l-10 7-2 4 3 2 4 4 5 3 4 0 2-3 0-12-1-4-1-1zM255 411l-3 2-6 10-4 3 0 4 4 4 6 12 4-2 1-2 2-10 0-12-1-6zM376 156l-10 6-1 4 1 2 12 10 4 1 2-1 2-6-2-16-2-2zM438 186l-14 6-4 3-1 3 3 4 16 8 4 0 1-6-1-14 0-2zM252 474l-2 2-6 9-6 5-1 2 0 6 7 7 6 12 6-5 8 4 4 0 2-2 2-4-2-26-1-4-4-2-7 0-2-1zM382 210l-14 10-3 2-1 4 1 2 4 4 11 6 4 1 4-2 1-3 2-18-1-2-2-3-4-1zM438 248l-3 4 0 4 3 2 4 0 2-5 1-4-3-2zM378 492l-4 4-1 2 2 4 7 6 2 2 4 1 2-3 0-4-2-9-4-4zM438 462l-4 4 0 2 1 4 7 6 2 1 4-1 1-4-2-8-3-5-2 0z"/>
<path fill-rule="evenodd" fill="rgb(9,9,9)" d="M-14 -14l37 0 5 1 2 1 7-2 18 0 1 6 4 5 16 6 12 7 2 0 4-1 1-3 2-20 75 0 2 8 4 4 14 7 12 8 6 2 6-3 2-2 0-16 2-8 37 0 7 6 4 1 6 1 6-1 1 1 4 10 3 2 18 8 12 9 6 3 7-1 5-3 5-4 2-2 1-6-1-16 3-8 19 0 10 8 1 4-10 9-6 4-8 3-4 3-2 5 0 6 2 5 4 2 14 7 16 10 2 1 6 0 6-4 2-3 0-18 4-21 22 7 18 13 2 0 6-1 10-5 1 1 1 8 3 6 6 4 13 4 8 7 0 24-6 5-14 8-3 2-1 4 1 6 3 2 14 8 6 4 0 30-6 5-14 7-1 4 0 2 1 4 2 1 12 6 7 4-1 36-6 4-14 7-3 4-1 3 2 3 3 4 11 4 8 7 0 25-6 5-10 7-3 2 0 4 0 2 1 4 18 12 0 36-12 8-3 4-1 2 0 4 2 3 14 12 0 30-6 4-12 7-2 5-1 5 1 4 2 4 12 8 6 6 0 16-8 8-19 8-3 2-4 10-2 1-6-3-2 0-4 0-6 4-8 8-6 4-18 6-5 6-2 6-3 2-6-1-6 1-12 10-33 0-2-8-1-18-1-4-5-4-6-3-6 2-12 7-14 5-12 7 1-10-3-15 0-15-2-6-2-4-5-2-5-3-6 0-3-1-2-3-7 9-2 4-12 6-3 6-1 9 2 5 2 4 8 4 4 2 3 12-3 12-4 2-11 0-4-12 0-18-1-2-4-4-6-2-6 1-16 11-15 8-4 6-1 12-11 0-7-1-6 1-53 0-5-18-2-3-25 9-3 4-2 2-1 6-16 0-13-6-6-1-17 7-12 0-3-8-1-6 3-16 2-2 10 3 18 7 2 0 4-2 2-5 1-3-2-12 0-16-1-2-4-2-2 0-12 5-16 4-6 5-2 2zM24 9l-12 7-13 6-3 2 0 4 0 2 4 4 24 10 4 1 2-3 1-2 2-24 0-4-3-3-2-1zM78 321l-6 3-2 4 3 2 5 4 6 1 3-5-1-8-2-3zM84 59l-1 1 1 2 2-2zM144 12l-18 12-2 4 1 2 4 4 15 8 4 0 2-3 2-23-2-4-2-1zM208 48l-4 1-13 9-4 2 0 4 3 2 10 6 4 3 4 0 2-3 0-2 1-16-1-4zM270 0l-6 2-12 11-14 9-2 2 0 4 1 2 3 4 12 6 12 8 6 1 6-2 3-5 1-15 2-15-1-6-1-2-4-3zM322 35l-12 10-13 7-3 2 0 6 1 4 3 2 12 6 14 9 4 1 2-2 3-4 0-16 2-14-1-6-4-4-2-1zM382 74l-12 9-14 7-2 3 0 3 4 5 12 6 12 8 2 1 4 0 3-1 1-3 0-18 1-12 0-4-3-3-2-2-4 0zM442 33l-4 2-12 10-14 7-4 5 0 3 2 6 4 4 12 5 14 9 4 2 7-2 3-2 1-4-1-18 3-14-2-6-5-6-2-1zM16 87l-9 3-3 3-1 3 3 4 8 2 8 3 2 0 3-5-1-12-2-3-2 0zM144 417l-7 7-2 2 1 4 12 9 2 1 4-1 1-3-1-18-4-3zM204 327l-2 3 2 4 4 1 0-1 0-6zM264 80l-13 10-2 4 1 2 5 4 9 4 4-2 2-18-1-2-1-2zM322 114l-12 10-1 2 1 4 8 5 6 4 4 0 2-7 1-12 0-6-3-2-4 0zM382 143l-10 6-14 8-4 5 0 4 0 3 4 5 8 5 12 9 6 2 6-3 3-3 1-4-2-18 1-12 0-2-3-4-2-2-4 0zM442 107l-12 9-15 7-3 3 0 4 1 2 2 4 15 7 8 6 6 2 4-1 2-2 2-4 0-14 1-16-3-6-6-2zM22 153l-15 7-2 2 3 4 14 6 2 0 3-4 0-12-3-3zM144 483l-13 9 0 4 2 2 11 10 6 2 4-2 0-4-1-20-3-3zM208 380l-22 14-2 2 0 4 20 17 6 1 4 0 3-4 2-6-3-24-2-4-4-1zM268 296l-6 3-4 0-1 1 5 7 2 8 4-3 2-8 0-6zM328 183l-9 7-2 2-1 4 1 2 6 6 5 4 2 1 4-1 2-4 0-18-2-3-4-1zM382 201l-4 1-12 9-8 6-4 4 0 5 2 6 3 2 11 6 10 6 4 2 6-2 4-2 3-4 2-26-2-7-3-3-6-3zM442 174l-16 9-14 7-4 2-1 6 1 6 4 2 12 5 12 9 6 2 6-3 2-3 2-6-2-14 0-16-2-5-3-1zM18 219l-15 7-3 2 0 4 4 3 18 9 2 1 4 0 2-5-1-20-1-3-4 0zM207 435l-5 3-10 8-12 7-2 3 0 4 1 2 3 4 14 7 12 10 6 1 6-3 1-3 1-6-1-12 1-16-2-4-4-3-3-1zM258 342l-6 9-12 7-2 2-1 3 1 3 2 3 10 5 6 11 3-3 3-10 1-26-1-5zM324 243l-8 8-7 5 1 1 6 1 0 4 1 2 4 4 3 1 4-3 0-8 0-3-3-3 0-2 1-4zM382 480l-12 8-11 4-3 4 0 2 1 4 13 7 12 11 2 2 6 1 6-3 3-4 1-2-4-28-2-6-4-2-2 0zM436 237l-10 8-7 5-3 2 0 4 1 2 4 4 9 3 12 9 6 1 2-1 3-4 2-20-1-6-4-5-6-4-2 0zM28 276l-4 1-15 9-4 2-2 4 2 2 23 11 2 0 2-1 2-18-1-6-3-3zM256 403l-10 11-9 4-5 2-2 6 0 6 2 4 4 2 7 4 3 2 6 12 6-6 8-2 1-4 1-3-2-27-2-3zM312 456l-12 6-1 4 2 2 17 12 4 1 2-1 2-2 1-4-3-18-2-2-4 0zM444 446l-12 8-14 8-1 4 0 2 2 4 11 8 8 8 4 2 6 2 2-1 6-4 2-3 1-6-3-16-1-12-1-2-4-3-2 0zM22 354l-9 6 1 4 9 6 5 1 1-1 1-3 0-13-2-2zM22 420l-19 6-3 4 1 2 3 4 14 6 6 1 3-1 1-4 0-11-3-7zM462 -12l2-2 19 0 9 8 0 4-4 6-4 4-18 8-4 3 0-1 1-8-2-12zM463 510l3-2 12 4 6 3 4 5 4 5 0 3-6 7-6 4-4 1-11 0-3-8-1-6zM253 526l3-2 3 2-3 3z"/>
<path fill-rule="evenodd" fill="rgb(11,11,11)" d="M-12 -12l1-2 27 0 8 5 6 1 19-6 4 8 5 5 14 6 16 10 2 1 4 0 2-2 3-4 0-16 2-8 40 0 5 2 4 2 16-4 1 2 4 10 3 2 16 7 14 11 6 1 6-1 4-2 2-4 1-2-1-16 2-8 28 0 8 8 2 4-12 12-16 8-3 7 1 5 2 4 3 2 15 8 12 9 4 1 6-1 6-3 4-4 1-6-1-12 4-14 6 1 10 2 6 5 7 8-11 11-14 8-3 5 1 10 2 2 3 4 11 4 6 3 10 7 6 2 6-2 3-3 1-3-1-18 3-14 1-10 1-1 7 5 17 6 12 9 6 3 6 0 6-2 6-6 1 2 0 6 0 6 3 6 4 2 16 7 12 10 7 2 3 0 6-2 2-2 4-5 0-4-2-18 4-17 18 4 10 6 2 4 0 12-8 8-17 7-3 4-1 6 0 6 2 2 3 4 16 6 8 7 0 20-8 7-16 7-2 3-1 4 1 6 2 3 16 6 8 7 0 27-8 6-13 5-5 2-2 4-2 6 1 2 3 5 2 2 16 6 8 8 0 13-6 6-14 9-2 3-2 6 1 6 3 3 2 3 12 6 6 4 0 27-17 13-2 4-1 6 2 6 12 8 6 6 0 20-6 5-15 9-3 3-1 9 0 6 3 6 15 8 7 10-1 2-5 6-8 6-12 2-4-10-1-16-1-5-6-4-6-1-4 1-14 11-15 8-3 5 0 5 2 4 12 9 8 9-1 4-6 6-4 2-5 3-10 2-2-2-3-9-2-14-1-4-2-2-6-4-4 0-5 0-13 10-16 6-2 3-2 5 0 4 2 2 14 8 6 4 8 10-2 2-8 10-5 2-21 0-4-12 0-17-4-6-6-4-6-2-2 0-4 1-12 8-6 2-12 3-2-2-4-13-1-6 1-12-2-5-4-3-8-6-10-2-3-4 3-4 6-1 4-2 2-4 2-5-2-14 0-16 0-2-2-4-6-4-6-6-10 11-14 6-8 5-2 10-2 1-7-2-5 1-6 4-12 10-12 6-3 4-1 2 0 6 4 6 14 8 16 12 6 2 6 0 1 2-1 4-6 0-6 2-16 12-18 10-3 2-4 12-1 3-12-2-6 1-6 4-43 0-3-12-1-12-1-3-4-1-2 1-16 8-12 5-2 2-4 4-2 8-4 0-8-4-18-10-4 0-14 8-6 0-3-8 3-9 8 1 10 6 6 1 6-3 2-2 4-5 0-5-1-14 0-16 0-2-3-4-2-3-6 0-16 6-14 3-5-12-1-6 2-14-1-6-1-3 0-415 2 0 1 6 2 4 3 2 16 6 12 6 6 2 2 0 4-3 1-5 0-14 2-16-1-4-2-4-4-2-6 1-14 10-17 5-3 4-2 2-1-2 2-10-3-14zM84 48l-12 10-3 2 1 4 4 2 10 7 6 1 2-2 1-2 1-22-4-2zM144 6l-12 10-11 6-2 2-1 4 0 2 2 4 16 7 8 6 3 2 3 0 4-2 1-5 0-14 2-16-1-2-2-4-4-1zM208 42l-4 1-12 9-11 6-2 2 0 4 1 3 24 14 4 1 2-1 4-2 1-3 0-16 1-12-2-5-4-2zM264 74l-12 9-11 7-2 4 1 2 5 4 19 11 4 1 2-1 3-3 0-2 2-24-2-6-3-2-2-1zM322 108l-10 8-11 8-1 2 1 4 11 6 12 9 6 1 4-1 1-3-1-12 2-16-1-2-1-3-4-2-2-1zM382 69l-16 12-14 7-2 2-1 6 3 6 2 2 12 6 16 11 6 1 6-3 3-5 0-6-1-12 2-18-2-5-3-3-5-3zM442 102l-16 11-16 7-2 4-1 6 1 6 4 2 12 5 14 11 6 2 8-2 3-4 2-2 0-6-1-12 2-18-3-6-3-4-4-1zM22 78l-10 5-11 5-3 2-3 4 0 2 2 4 4 2 11 5 12 6 4 0 2-1 1-4 1-26-2-4-2-1zM78 126l-2 4 2 2 4 1 2-1 1-2-1-4-2 0zM148 78l-14 10-4 2-1 4 2 2 5 4 12 6 2-2 1-2 3-18-1-2-2-4zM204 114l-14 10-1 2 2 4 5 2 8 3 4-4 1-13-1-4zM210 315l-6 2-10 7-3 4 0 2 14 13 5 3 4-1 2-3 1-3-3-21zM258 288l-12 6-3 4 0 2 3 4 12 9 4 4 2 2 4-3 3-6 3-22-4-2-6 0zM262 156l-3 4 3 1 0-1zM328 177l-20 15-1 4 1 2 16 14 4 2 6 0 6-3 2-3 0-24-2-4-4-2-6-2zM382 138l-12 9-14 7-3 2-2 4-1 8 2 6 2 4 12 7 12 11-12 10-12 8-2 2-2 4 0 6 1 6 3 4 12 6 12 8 6 2 10-3 6-5 2-6 0-12 4-16 14 5 6 4 10 7 6 2 6-1 2-3 4-4 2-6-2-18 1-18-1-4-6-5-4-1-6 2-12 9-19 7-4 4-3 5-4 2-2-1 3-6 2-6-3-22 1-18-1-2-6-4-6-1zM22 147l-10 5-12 4-3 4 0 2 1 4 3 2 11 5 12 6 4 1 2-1 2-5 0-24-2-4-2-1zM78 192l-2 0-3 4 2 3 7 2 2-3 0-2-1-4-1-1zM84 252l-2 1-14 5-4 4-1 2 4 4 15 7 2 0 4-1 0-6 0-11zM138 294l-1 0-1 4 2 1 4 1 2-2-1-4-1-1zM208 375l-16 11-12 6-2 4-1 4 3 4 12 8 12 11 4 1 6 1 6-2 4-5 0-6-2-16 0-14-2-4-4-3-6-1zM262 336l-4 2-6 8-16 8-3 6 0 6 1 5 4 2 8 4 4 3 6 10 7-8 3-6 0-30-2-6zM331 237l-7 4-12 10-13 7-3 4 2 1 9 2 17 11 4 0 2-1 3-5 1-18-1-12-2-2zM378 276l-11 10-2 2 1 4 5 2 7 4 4-1 3-5 2-12-3-5-2-1zM436 230l-10 8-12 8-2 2-2 4 1 6 3 4 16 7 14 11 7 0 3-1 2-3 2-2 0-16 2-12 0-4-4-5-8-7-6-1zM28 210l-4 1-12 6-14 6-3 3-2 2 1 6 4 4 14 6 12 7 4 0 2-1 4-3 1-3-1-28-1-2-2-3zM84 312l-19 10-3 2-1 4 1 2 4 4 18 9 4 1 2-1 2-3 0-22-2-5-2-2zM142 350l-13 8-3 2 2 4 4 2 10 6 6 3 2-3 0-1 0-19-2-3-4 0zM322 447l-27 13-2 2-1 4 0 2 2 4 13 6 11 8 4 1 2 0 4-2 2-4 2-3-4-28-2-2zM376 429l-2 1 0 3 3 3 5 2 1-2-1-8-4-1zM444 311l-8 7-5 6 1 4 6 6 7 4 3 0 2-4 2-18-2-4-2-1zM22 273l-10 6-13 7-2 2-1 4 1 3 4 3 11 4 16 9 2 1 4 0 2-2 1-4 1-26-2-4-2-3-4-1-2-1zM88 378l-4 1-17 11 0 4 4 2 17 9 2-1 1-2 1-18-1-6zM148 410l-21 14-2 2 1 4 21 14 3 2 4 0 4-2 2-2 0-27-3-3-3-3-4 0zM444 383l-9 7-3 4-1 2 1 3 10 10 3 3 5 0 4-2 1-4-2-18-3-5-2-1zM28 345l-12 7-11 6-3 2 1 4 4 2 9 4 8 6 6 2 4-1 2-5 0-24-2-4-4 0zM88 450l-8 4-4 2-3 4 1 2 4 4 10 4 2-2 1-6-1-9zM151 474l-25 16-3 2-1 4 2 2 12 8 12 9 2 1 4 0 2-1 3-5-1-18 0-12-2-4-2-2zM28 411l-16 7-14 6-3 2-1 4 0 6 4 3 12 4 12 6 2 1 5-2 3-4 1-2-1-24-2-5zM352 -12l5 0 3 2 6 4 1 4-7 6-8 3-3-9 1-6zM471 -12l3 0 6 3 4 3 0 4-5 6-7 2-4-2-1-6 1-6zM407 16l1-2 6 1 9 3 7 6 4 6-10 11-16 6-2 3-2-2-2-18 2-8zM228 442l16 6 3 2 3 10-3 8-3 5-16 5-3-18zM234 516l6 2 3 4 1 4-2 6-2 2-2 1-4-1-3-6 1-8zM469 520l3-3 7 3 5 6 0 2-6 6-7 0-3-2-1-4z"/>
<path fill-rule="evenodd" fill="rgb(14,14,14)" d="M-9 -12l1-2 19 0 15 12-4 1-12 10-6 2-10 2-2-3-2-10 0-6zM104 -14l33 0 7 6 4 1 6 1 8-3 7 9 4 4 17 6 14 11 6 2 10-3 5-4 1-6-1-16 3-8 18 0 7 6 3 6-7 8-5 4-10 4-3 2-2 2-1 4 0 6 2 6 2 2 18 9 12 9 6 3 6 0 8-4 2 1 3 12 3 4 5 2 11 5 6 3 10 8 6 2 2 0 6-2 3-4 2-2 0-6-1-16 1-6 4-12 13 3 8 4 17 15-17 14-14 6-4 2-2 4 0 10 1 2 3 4 16 6 16 12 2 2 6-1 6-3 4-4 1-6-2-12 0-6 3-22 7 4 15 4 5 5 14 11-5 3-12 11-6 3-12 4-2 3-3 4-1 6 1 6 3 2 4 4 14 4 17 14 3 1 6-2 6-4 4-5 1-6-2-12 0-6 3-19 22 8 8 9 0 10-2 4-10 7-14 5-3 4-2 6 1 6 4 5 18 7 8 8 0 19-8 7-22 8-2 0-1-6-3-16 0-6 2-14-2-7-5-6-3-1-6 1-4 1-14 12-18 5-3-3-4-14 0-6 2-12-1-6-1-4-5-4-6-2-6 2-16 12-14 7-4 5-1 10 2 10 3 3 12 7 6 8-6 7-12 7-3 4-2 6 1 8 1 6 3 4 14 7 12 8 4 2 6-1 10-4 7-6 2-6-1-12 2-8 4-1 2 1 6 2 4 2 6 6-6 7-12 7-4 3-1 5 1 8 1 4 3 2 18 8 14 10 4 2 6-1 5-3 2-4 0-2 0-16 3-12 2-2 15 6 5 3 6 8-4 7-4 4-12 6-4 3-2 5 0 6 0 6 3 6 15 7 8 7 0 20-6 5-13 9-3 6 0 6 1 6 1 2 14 10 6 7 0 10-8 9-12 5-5 5-2 2-1 10 1 12-3 0-6-4-8-1-6 3-12 10-16 6-3 4-3 6 1 8 3 5 12 7 4 6-2 4-5 6-9 2-4-2-2-6 0-12-1-4-2-2-4-4-9-3-6 0-2 2-12 8-16 6-6 4-2 7 1 6 1 3 18 9 8 10-1 2-5 6-8 5-3 1-9 0-3-6-1-6 1-14-2-6-3-5-12-7-6-2-6 3-12 9-10 2-6 0-4-12 1-16-1-6-4-4-16-10 4-3 3-3 3-4 0-6-2-14 0-18-2-4-10-8-4-7 11-11 2-6-1-16 0-14-4-10-2-3-10 10-2 2-16 7-3 2-1 4-1 8 3 7 2 3 13 6 3 2 5 10-5 8-4 4-8 3-6 1-4-1-3-13 1-14-1-4-2-2-3-3-6-2-6 1-16 11-14 7-3 4-1 6 0 2 2 4 15 8 12 12-11 12-6 4-11 6-3 2-1 6 1 9 2 3 4 3 8 4 6 4 15 13-2 4-13 12-6 3-14 6-5 5-5 10-12 0-6 3-5 5-38 0-3-12 0-14-2-4-2-2-4 0-18 11-17 7-2 2-5 8-2 0-9-4-5-4-2-2 5-6 2-6-2-18 0-18-3-6-4-4-6-1-12 6-10 2-6 1-2-4-2-6-1-6 3-19 14 5 16 7 2 0 6-3 4-3 1-5-1-15 0-15 0-3-4-2-6 1-12 8-18 6-4 4-4 7 0-148 2-5 0-3-1-15 3-22 2-1 18 7 14 9 4 0 6-3 2-4 1-4-1-16 1-14-3-6-4-1-6 0-12 8-18 6-6 5-2 5 0-145 1-4-1-9 0-20 2-13 4 0 18 5 14 8 6 0 6-5 2-2-1-18 3-18 0-4-4-5-5-3 9-5 6-2 8 9 18 8 16 10 5 1 7-3 2-4 0-2 0-16zM150 0l-6 2-12 10-15 8-2 4-1 4 2 6 3 2 13 6 12 9 6 1 4-1 2-2 2-3 0-18 2-16 0-4-3-4-3-3zM204 39l-12 10-14 7-3 4 0 4 1 2 3 4 11 4 12 8 6 3 6-2 3-5 0-18 2-14-3-6-2-2-4-1zM268 69l-6 3-12 10-11 6-3 2-1 4 1 2 3 4 11 5 14 9 4 1 2 0 4-2 2-5 0-14 2-16-2-6-5-2zM328 102l-6 3-12 9-11 6-3 4-1 2 1 4 3 2 13 7 12 9 6 2 4 0 2-2 2-4-1-14 2-18-3-6-6-3zM382 270l-4 1-18 13-2 4 1 4 3 2 19 10 3 0 3-6 3-22-2-5-4-1zM448 306l-6 3-17 15 0 4 3 2 16 12 4 1 3-1 3-2 2-24-2-6-4-3zM22 269l-12 8-14 5-3 4-1 6 2 5 4 2 14 6 16 10 6 1 4-4 2-2-1-16 2-12-1-6-4-4-6-4-6 0zM22 74l-10 6-18 8-3 2-1 4 0 2 1 4 3 3 18 7 10 5 6 2 5-3 1-2 0-18 1-12-1-5-4-3-2-1zM88 42l-12 9-11 7-3 2 1 4 4 2 9 5 12 7 2 1 4-1 2-4 2-26-1-2-3-4-4 0zM144 75l-20 15-1 4 2 2 4 4 15 9 6 1 4-1 1-3 2-24-1-4-2-3-4-1zM202 111l-18 12-2 3 2 4 5 2 15 9 4 0 2-3 3-24-3-4-2-1zM264 147l-13 9-3 4 1 2 4 4 11 5 4-3 1-18-1-3zM328 174l-24 18-3 4 2 2 9 7 12 10 4 2 6 0 9-3 2-4 2-2 0-24-1-4-3-2-3-3-6-2zM378 420l-11 6-3 4 1 2 4 4 11 8 4 2 4-1 1-3-3-18-2-5-2 0zM448 378l-4 1-15 11-4 4-1 2 2 4 16 13 2 2 6 1 4-1 2-2 3-5 0-2-3-23-2-4zM28 341l-12 8-16 7-3 4 1 4 2 2 16 8 12 7 2 1 6-3 2-3 0-16 1-12 0-2-3-4-2-2-4 0zM28 141l-4 1-12 7-14 5-4 2-2 4 0 2 1 4 1 2 4 2 14 6 12 7 4 1 2 0 4-3 1-3 1-4-1-12 0-14-1-4-4-2zM88 117l-4 1-10 6-6 2-2 4 2 2 5 4 11 5 4 0 1-3 1-6-1-12zM142 156l-6 4-1 2 3 4 6 1 2-5 0-6-2-1zM208 312l-20 12-4 4 0 2 24 19 6 1 2-2 3-2 1-4-2-24-1-2-2-4-5-1zM262 222l-7 4-2 2 1 4 3 2 7 5 4-1 0-13-1-3-3-1zM334 234l-6 3-16 12-14 8-4 5 0 2 12 5 18 11 4 0 6-3 2-3 1-4 1-20-2-10 1-6zM78 186l-12 6-2 4 1 2 17 9 2 1 4 0 1-6 0-12-1-5-4-1zM144 285l-14 7-4 2 0 4 16 9 2 2 4 0 1-5-1-12 0-5zM264 281l-24 13-2 4 0 2 2 5 16 9 6 7 2 1 6-6 3-6 1-18 2-6-1-4-7-1zM316 318l-10 6 1 4 5 2 6 3 4-3 1-6-1-6 0-1zM82 249l-22 9-2 4 0 2 2 4 23 12 5 1 2-2 2-5-2-24-2-3zM144 345l-22 13-2 2 1 4 4 2 11 6 8 6 4 2 2 0 2-2 2-2-1-28-3-3-2-1zM316 390l-8 4-2 2 3 4 7 3 2 1 4-1 0-3 0-8-4-2zM82 309l-10 6-12 7-3 2 1 6 2 4 16 7 8 6 4 1 2 0 4-2 1-4-1-30-2-2-4-3zM144 408l-8 7-14 9-2 2 1 4 3 2 12 7 12 9 2 2 6-1 4-1 2-3 2-3-1-27-1-3-2-3-6-3-4 0zM322 444l-16 8-12 4-4 4-2 6 1 6 3 3 12 5 12 9 6 2 5-1 3-3 4-4 0-5-2-16-1-14-3-4-4-1zM84 375l-12 8-8 5-3 2 0 4 3 2 14 8 7 4 5 2 4-1 1-3 0-28-2-3-3-1-2 0zM150 471l-2 1-12 9-16 8-1 3-1 4 1 2 4 4 13 7 12 10 6 2 6-3 3-4 0-6-3-16 2-12-1-2-1-4-4-3zM90 444l-2 1-4 1-16 10-2 4 1 2 18 12 5 2 4-2 1-6-1-20 0-2zM290 22l2-3 8 1 7 4 4 6-7 8-12 5-3-3-1-10zM409 22l3-3 8 2 6 6 2 3-4 6-4 2-8 3-4-1-2-10zM465 48l3-1 12 4 9 6 3 7-4 6-4 3-6 4-12 3-2-2-3-14 1-6zM464 444l2-2 2 4 12 6 5 4 2 4-1 2-6 6-6 2-6 1-3-9 1-12zM231 450l3-1 4 0 6 2 1 3 3 6-2 4-2 4-10 3-2-1-3-10z"/>
<path fill-rule="evenodd" fill="rgb(17,17,17)" d="M-6 -12l3-2 5 0 4 1 7 5 5 6-8 7-6 3-7 1-2-3-2-6 0-6zM105 -12l1-2 28 0 13 12-17 14-15 6-2 4-1 6 1 6 2 2 17 9 12 8 4 2 6-1 4-2 2-4 1-6-1-14 2-16 1-6-1-6 0-1 10 6 18 7 18 13 6 1 8-3 2 1 2 10 2 2 4 3 18 8 14 12 6 2 10-1 3 6 5 6 18 7 18 13 6 1 10-3 1 0 1 10 4 6 4 2 17 7 16 15-5 2-12 11-14 7-4 3-2 7-2 12-2 1-8-2-6 1-16 11-10 7-3 2-1 4 2 4 12 7 16 12 6 1 8-3 2 3 1 6-1 6 2 0 2 6 4 3 14 6 12 9 4 1 6 0 14-6 3 7 4 6 5 4 12 4 18 13 4 1 6 0 6-3 2-3 2 2-1 6 1 10 2 6 3 2 15 7 8 8 0 13-6 6-14 9-3 5-1 10 0 6 3 6 15 9 6 9-3 6-5 5-15 7-4 2-2 6-3 16-10-2-6 2-14 12-18 8-4 3-1 3-2 10-3 2-12-5-6 0-18 12-18 7-4 4-4 6-4-1-5-5 5-8 1-6-3-16 0-14-2-4-4-2-4-1-2 0-12 7-18 7-5 5-5 8-9-6-2-2 4-6 2-6-3-18 1-18-4-6-9-8-3-4 3-4 6-6 3-6-1-18 1-14-1-4-6-9-2-3-10 10-2 2-16 6-4 4-3 6 0 14-1 1-4-2-5-2-3-1-6 2-16 11-14 7-4 2-1 4-1 2 0 6 2 6 16 8 8 10-4 6-4 5-18 10-3 3-1 6 1 10 3 4 2 3 16 6 5 5 7 8-1 4-8 8-7 5-18 6-2-1-3-18 1-16 0-6-4-4-4-2-6 0-6 3-12 10-12 6-3 2-1 3 0 6 2 4 14 7 16 13 7 4-11 6-8 8-33 0-3-12 1-14-1-4-3-2-3-2-6 1-12 8-20 7-4 4-6 6-9-4-2-2 3-6 1-6-2-18 0-18-2-6-7-7-6-1-6 1-10 6-8 1-4-4-2-8 2-12 4-1 8 2 10 6 6 2 6-2 6-5 2-4 1-4-1-16 1-12-1-6-2-3-4-1-2 0-16 9-18 6-6 3-2-2 0-3 0-127 5 8 4 2 17 7 16 10 6 1 6-2 2-6-1-16 2-14-2-6-3-4-4-3-6-2-6 1-10 6-6 4-12 3-2-2-3-13 0-6 3-12 2-1 12 3 6 3 10 6 6 1 6-2 2-3 3-3 1-6-2-16 1-14-3-6-5-4-3 0-4 0-14 10-22 6-2-14 0-22 1-10-1-6 0-12 1-8-1-8 0-21 1-13 2-3 5 3 16 4 14 9 6 0 4-2 3-5-1-16 1-18-4-6-5-2-4 0-14 9-18 6-3-3-3-16 0-5 1-7 5-11 8 1 10 3 14 9 6-1 7-3 3-6-1-18 4-18-2-12 1-2 4 1 9 7 17 6 16 10 6 1 7-3 2-2 2-4-1-14zM148 71l-4 2-12 9-9 6-3 2-1 4 1 2 4 4 12 5 9 7 5 1 5-1 2-4 1-14 1-12 0-4-3-4-2-2zM204 36l-12 10-16 8-3 4-1 6 3 6 15 6 11 9 7 2 2 0 6-3 3-2 1-4 0-18 2-14-2-6-4-4-6-2zM268 66l-6 3-12 10-16 8-1 3-1 4 3 6 15 7 12 8 6 3 6-2 4-4 1-4-1-14 3-16-1-6-4-5-2-1zM328 99l-6 2-12 11-16 8-1 6 0 4 2 2 15 8 14 11 6 2 6-2 4-3 1-6-1-16 2-14-1-6-3-4-4-2zM336 231l-11 7-13 10-14 8-4 2-3 6 15 7 16 10 6 1 6-3 3-3 2-6 0-8 2-16-2-8 1-4 2-2-2-2zM378 267l-12 10-8 6-3 3-1 3 1 3 3 3 24 12 2 1 4-1 1-3 4-28-2-6-3-3-4-1zM442 306l-10 9-9 7-3 2 0 4 3 2 21 15 6 1 6-4 1-2 0-12 2-16-3-5-2-2-6-1zM28 338l-12 9-18 7-3 4-1 2 0 4 4 4 14 6 12 8 6 2 7-2 3-4 1-2-1-16 1-14-1-5-4-3-2-1zM28 138l-4 1-14 9-17 6-6 6-1 2 1 4 7 6 16 5 14 9 5 0 5-1 2-4 2-3-1-16 0-14 0-4-3-2-4-3zM90 39l-6 3-12 9-12 6-2 3 1 4 3 2 10 5 16 10 2 1 4-1 3-2 2-3 0-16 1-12-1-6-4-2zM144 150l-15 10-1 2 3 4 11 6 6 1 2-5 0-14 0-4-2-1zM208 105l-6 3-10 7-10 5-3 4 0 2 1 4 4 2 24 13 2-1 2-2 1-4 2-24-2-6-3-2zM264 143l-19 13-2 4 1 2 4 4 15 8 5 2 2-2 1-2 1-24-2-4-2-2zM322 311l-19 11-4 2 1 4 4 2 14 7 4 1 2-1 3-21-3-5zM376 357l-4 3 2 4 4 2 4-2 0-7-4-2zM384 414l-2 1-21 11-2 4 1 2 4 4 18 13 2 1 4-1 2-1 2-6-4-24 0-2zM448 375l-6 3-10 7-8 5-4 4 0 2 2 4 10 7 10 9 2 2 6 1 6-1 4-4 1-2 1-6-2-10-1-14-2-4-3-2zM84 114l-21 12-2 4 3 3 21 12 3 0 2 0 2-3 0-24-2-5-2 0zM142 222l-9 4-3 2 2 4 5 2 5 2 2 0 2-4 0-6-2-3zM199 189l-4 3-1 4 4 2 4 1 2-2 1-7-1-3-2 0zM264 216l-15 10-2 2 1 4 4 2 12 9 4 1 2-2 1-1 0-21-2-4-1-1zM322 384l-17 6-5 4-1 2 3 4 16 9 4 1 2-1 2-3-1-16-1-4zM84 180l-20 11-4 2-1 3 1 2 4 4 20 10 4 0 2-1 2-3-1-24-1-4-2-1zM144 282l-20 10-3 2 0 4 3 2 8 5 12 8 4 0 2-1 2-6-1-20-2-4-1-1zM202 255l-7 3-3 4 0 2 10 8 2 2 4 1 1-5-1-13-4-3zM264 278l-12 8-12 5-3 3-2 6 1 4 2 2 18 11 6 8 2 0 9-13 2-6 0-14 3-10-2-3-8-2zM88 243l-4 1-12 7-12 5-4 2-1 4-1 2 2 4 3 2 13 6 10 6 6 2 2-1 3-3 1-6-1-12 0-12-3-5zM144 342l-12 8-12 5-2 3-1 2 0 4 3 2 16 8 8 7 6 2 4-1 2-5-1-17 1-12-1-2-2-4-5-1zM208 309l-16 11-9 5-3 3 0 2 2 4 14 7 12 10 6 2 6-3 3-4-2-28-1-4-4-3-2-2zM84 305l-14 9-11 4-3 4-2 6 2 6 4 2 12 6 12 8 6 1 5-3 2-2 0-4 0-14 0-16-1-2-4-4-4-1zM148 404l-12 9-16 8-2 5 0 4 2 3 16 8 12 10 2 1 6 0 6-2 4-6 1-6-1-12 0-12-3-6-3-2-6-2zM84 372l-12 8-12 6-2 4 0 4 2 3 16 7 12 8 2 1 5-1 2-4 1-30-2-3-2-3-4-1zM90 441l-2 1-12 8-13 6-2 4 1 2 2 2 12 6 12 9 2 1 4-1 2-1 1-6-1-27-2-3zM230 -12l3-2 5 0 6 1 5 5 2 2 1 4-4 6-4 2-12 5-2-1-2-12zM294 28l0-3 4 0 5 3 1 2-4 4-6 2-1-6zM412 28l2-3 4 1 2 2 1 2-2 4-5 1-2-1zM346 48l2-2 10 1 6 2 6 5 7 10-11 11-6 3-10 4-4 2-2-2-2-18 1-6zM468 52l6 0 6 2 5 4 3 6-4 6-4 2-6 2-6 2-2-4-2-8 1-6zM405 78l1 0 8 2 10 3 5 5 8 8-9 10-4 3-18 7-2-2-3-18 0-6zM342 88l0-1 0 2zM464 114l2-1 2 0 12 3 6 5 6 9-4 6-4 4-6 3-12 3-2-2-3-14 1-6zM404 144l2-1 18 6 5 4 9 9-14 13-10 3-8 1-4-11-1-6zM461 174l1-1 18 6 6 4 6 6 0 13-6 6-8 5-12 2-4 0-3-13-1-6zM352 190l2-2 4 1 4 3 2 4-2 2-4 3-4 1-2-1-1-5zM411 226l3-3 6 2 3 3-2 4-4 2-5 1-1-7zM468 250l0-1 6 1 6 2 4 4 5 6-5 6-3 2-13 6-2 3-1-3-1-14 1-6zM228 376l1 0-1 2zM230 378l2 0 12 5 2 2 4 3 2 6-2 5-4 3-8 4-6 0-1 0-2-6-1-6zM471 454l7 2 3 4-2 2-5 3-2 0-2-3 0-6zM235 456l3-2 5 2 1 4 0 3-4 2-3 1-3-4zM289 480l3-1 12 4 10 9-2 4-8 6-6 3-6 0-3-4-2-5 0-6zM411 486l1-1 8 5 2 2-1 4-3 2-4 1-2-2-1-5zM348 514l0-1 4 0 8 3 6 4 2 2 2 4-1 2-5 6-7 3-5 1-4-3-2-9z"/>
<path fill-rule="evenodd" fill="rgb(19,19,19)" d="M108 -14l23 0 9 8 2 4-10 9-6 4-11 5-3 2-2 4-1 6 1 6 4 4 18 8 12 10 4 1 6 0 6-4 2-5 1-5-2-15 5-21 2 0 18 5 6 4 12 10 9 4-9 4-14 12-16 7-2 2-3 5 1 6 2 4 2 2 16 6 14 11 4 0 6-1 5-4 2-2 1-6-1-16 3-14 0-6 2-2 6 4 14 5 6 4 13 13-15 13-16 7-3 4-1 6 2 5 2 3 18 8 12 9 4 0 6-1 5-4 1-2 0-18 4-18 2-3 18 6 6 4 15 13-3 3-12 11-16 8-2 2-1 4 0 6 3 4 18 9 13 11 5 2 6-1 4-2 2-4 1-5-1-18 4-16 18 5 6 5 8 10-12 11-6 3-9 4-4 2-3 6-2 10-1 2-11 1-2 0-16 12-13 9-3 2 0 4 0 3 3 3 13 7 12 11 6 2 10 0 1 0 0 4-17 10-12 10-16 10-4 4-3 4 3 3 6 2 8 4 16 10 6 0 6-2 5-5 2-2 0-16 2-12-2-8 1-2 6 5 16 7 14 11 4 1 6 0 12-5 6 9 2 3 18 7 18 13 6 2 10-2 2 13 3 6 5 4 14 5 4 3 4 7 0 6-1 3-7 6-11 6-4 2-1 4-2 6 0 12 2 5 4 4 8 4 5 5 4 6-1 2-8 8-14 5-3-13-1-14-1-4-4-2-7-3-6 1-12 9-12 7-3 4 0 2 1 4 12 7 14 13 6 2 6-1 3 3 0 2-1 4-2 2-6 0-6 2-14 12-6 3-12 5-4 2-3 6-3 8-12-3-6 0-3 1-15 11-20 7-6 5-2-1 1-10-4-18 0-14-1-4-4-3-6-2-2 0-16 9-15 6-5 2-6 6-4-2 2-12-3-18 1-18-2-6-12-10-2-2 10-10 2-6-1-18 1-18-8-13-1-1 1-1 11-15 1-2 0-18 4-12 0-2-12-3-4 1-12 8-14 7-3 3-1 4 0 6 1 2 4 4 11 6 6 4 3 4 2 4-5 6-10 8-12 4-6 3-3 5-3 13-8-1-6 2-16 12-17 8-3 3-3 9 1 6 1 2 4 4 12 6 8 8-1 4-4 4-6 4-12 5-2-1-2-12 1-16-1-2-1-4-4-2-9-4-6 0-4 2-12 9-14 7-2 4 0 6 2 3 14 8 12 10 6 4 6 0 7-1 2 2 1 10 3 6 4 2 13 6 9 6 4 6-3 6-6 7-10 4-8 2-4 0-3-15 1-22-1-2-3-4-2-2-6-1-6 2-16 12-14 7-3 4-1 2 0 6 2 4 3 2 13 7 16 15-2 2-13 12-28 0-3-12 0-18-3-3-5-3-6 1-16 10-18 7-8 6-4 0-2-2 1-12-3-22 1-14-3-8-6-5-8-5-4 0-12 7-6 2-2-1-3-8 3-9 8 2 10 5 6 1 8-4 6-5 3-6-2-18 2-14-2-7-4-3-5 0-18 11-18 5-4 0-2-11 0-107 2 0 9 3 13 4 6 3 12 9 2 2 6-1 6-4 2-4 0-2-1-16 2-14-1-6-2-4-8-6-6-2-6 0-12 9-12 4-4 0-2-7 0-10 2-9 4-1 8 2 5 2 7 7 6 2 6-1 4-1 6-6 1-3 0-6-2-16 1-14 0-5-4-4-6-3-6 0-14 10-18 4-2-2-3-10-1-8 0-6 3-12 1-4 2-1 18 6 12 8 6 2 2-1 4-2 3-2 2-4 0-2-1-16 1-14-3-7-6-4-6 0-14 9-18 5-3-3-3-18 1-10 2-8 3-4 18 4 14 10 6-1 4-1 2-3 2-5-1-16 2-14 0-4-3-5-4-3-4-2-6 1-9 6-7 3-11 3-3-2-2-7-2-8 1-6 3-10 2-2 10 1 6 2 12 8 2 1 6 0 9-6 3-6-1-18 5-25 2 0 22 7 6 3 10 9 4 2 4 0 6-2 4-4 3-6-1-14 0-6zM148 69l-6 3-10 8-13 8-2 2 0 4 1 2 3 4 15 7 11 7 3 1 4 0 2-2 3-5 1-14 1-16-1-4-4-3-3-1zM201 105l-9 8-13 7-2 4-1 2 1 4 3 3 16 7 8 6 4 1 2-1 3-2 2-2 0-16 2-14-1-4-2-2-4-2-2-1zM264 141l-12 8-11 7-2 4 1 2 3 4 9 4 12 8 4 1 2-1 3-4 2-26-1-4-2-2-4-2zM322 308l-12 8-12 6-2 2 0 4 3 2 19 10 6 1 3-1 1-3 1-25-1-3-4-1zM378 264l-12 11-12 7-1 4 0 6 1 3 4 3 12 4 12 8 2 0 4 0 3-4 1-14 2-12 1-6-3-6-4-4-4-1zM445 302l-15 13-11 7-2 2 0 4 2 2 13 8 10 8 6 2 2 0 6-2 3-4 0-2 0-12 2-12 0-6-1-4-4-3-2-1-6-1zM28 336l-16 11-18 7-2 4-1 2 0 4 1 2 4 4 14 5 6 3 8 7 6 1 6-2 4-2 2-4 1-6-1-12 1-14-2-6-3-4-4-1zM90 36l-6 3-12 10-12 5-3 3-1 3 0 4 2 2 14 7 13 9 5 2 6-2 4-4 1-6 0-12 1-12 0-6-2-3-6-3zM144 147l-19 13-1 2 2 4 16 8 6 3 2-2 2-3 1-22-1-2-2-2-2-1zM202 183l-14 9 0 4 8 6 8 3 4-2 0-1 1-18-1-2-4-1zM264 213l-19 13-2 2 1 4 4 2 16 12 4 1 3-1 2-2 1-3-1-21 0-4-3-3-2-1zM322 381l-22 9-4 4-1 2 3 4 12 6 9 6 5 1 3-1 1-4 0-22-2-4-2-1zM378 350l-10 8-3 2 2 4 15 8 2-1 1-1 0-18-1-2-2-1zM88 110l-16 9-9 5-4 2-1 4 1 2 4 4 9 4 12 7 4 1 2 0 4-4 0-26-1-6-3-2zM138 219l-11 7-3 2 2 4 5 2 11 6 2 1 4 0 1-7-1-14 0-2-4-1zM202 251l-13 7-3 4 1 2 16 12 5 3 2-1 2-4-2-18 0-4-2-2-4 0zM384 411l-24 13-3 2-1 4 0 3 3 3 11 5 12 10 6 1 3-1 2-3 1-6-2-12-2-15-2-3zM84 177l-12 8-11 5-4 2-1 4 1 2 3 4 12 5 12 7 4 1 3-1 3-4 0-26-1-4-3-3-2 0zM144 279l-24 13-2 2 0 4 2 3 12 6 12 8 4 1 2-1 3-3 1-2-1-24-3-7-2 0zM204 309l-12 9-12 6-3 4 0 2 2 4 13 7 16 13 2 1 6 0 7-3 2-6-2-16 0-14-3-6-6-2-4-1zM84 242l-12 7-16 7-3 2-1 6 1 4 2 2 17 8 12 8 4 0 2-1 4-2 1-3 1-4-2-14 1-12-2-6-5-3zM148 339l-4 1-14 9-12 5-3 4-1 2 1 4 3 3 14 7 12 10 6 2 4-1 2-2 2-5-1-18 0-12-1-6-5-2zM84 303l-12 8-16 7-3 4-1 6 2 6 3 2 15 7 12 9 6 1 6-4 3-3 0-4-1-14 1-16-3-4-2-3-4-2zM88 369l-4 1-14 10-11 4-3 4-1 2 0 4 2 2 3 4 12 4 15 10 3 1 4 0 2-2 3-5-1-14 2-16-1-2-3-4-3-2zM84 441l-8 7-16 8-2 4 0 2 4 4 14 6 12 9 6 1 2-2 3-6-1-14 1-16-2-2-3-3-4 0zM-3 -8l1-2 2-1 4 0 6 3 2 2 1 4-7 6-6 1-2-1-2-6zM233 -8l1-3 6 0 6 5 2 4-6 5-8 3-2-2 0-4 0-5zM217 30l3 0 0 1zM348 48l10 1 5 3 7 6 4 6-5 6-5 4-16 5-2-3-2-12 1-6zM469 58l3-3 6 1 5 4 1 4-6 6-6 1-3-1-1-4 0-6zM408 82l10 1 6 3 5 4 4 6-5 6-4 5-6 2-10 2-2-2-3-13 2-8zM466 118l2-2 6 1 10 4 4 5 1 4-4 6-7 5-10 2-1-1-3-6-1-6 1-6zM407 148l1-1 14 3 4 4 8 8-10 11-6 2-10 2-2-3-1-2-2-10 1-8zM465 178l9 1 7 2 5 4 6 7 0 6-6 7-6 4-6 2-8 2-2-3-3-8-1-6 1-10zM468 256l4-3 6 1 2 2 4 6-3 5-3 2-6 2-4 0-1-9zM233 384l1 0 7 1 5 4 4 5-4 5-6 3-6 0-2-2-1-6 1-6zM291 486l1-1 2-1 4 0 6 3 5 5-2 4-3 3-4 1-6 2-2-3-1-3zM351 520l1-3 8 2 6 7-1 2-3 4-4 2-4 0-2-1-3-7z"/>
<path fill-rule="evenodd" fill="rgb(22,22,22)" d="M110 -14l18 0 7 6 4 6-9 9-18 8-3-3-1-14 0-6zM0 -6l4 0 1 0 2 4-3 2-4 0zM237 -6l1 0 2 0 2 4-4 3-2-3zM47 6l1-1 22 6 6 4 8 8 6 3 6-1 10-4 2 13 4 4 2 2 16 6 14 12 6 1 4 0 6-3 3-4 1-6-1-18 1-6 4-12 0-1 10 2 8 3 8 4 11 12-15 15-17 7-4 2-2 6 1 6 1 4 5 4 16 6 14 11 6 0 10-4 4-5 0-6-1-16 3-14 2-3 18 6 8 5 7 10-12 12-18 8-3 6 0 6 2 4 3 2 17 8 14 10 4 1 6-1 4-2 3-4 2-6-1-14 4-16 2-1 12 3 6 2 6 5 9 9-12 12-17 10-3 6 0 6 2 2 3 4 16 7 18 14 6 1 6 0 0 4 0 2-2 2-8 0-6 3-12 11-14 8-4 4 0 4 0 2 3 4 15 9 12 10 11 5-1 2-10 7-13 11-17 9-6 9 0 4 18 6 16 10 2 1 6-1 9-4 3-6 2-18 2-10 2-2 16 6 14 12-12 10-12 8-3 2-1 6 2 6 3 4 15 6 12 7 2 1 4 0 3-2 2-4 0-14 4-18-2-6-3-6 4-3 4 2 7 7 19 7 19 14 5 2 6 0 2 3 0 4-2 1-8 0-6 3-12 11-14 9-1 2 0 4 3 3 12 7 14 10 6 2 6-2 3-2 2-4 0-18 3-12 2-2 14 5 6 5 6 8-2 2-6 8-16 9-2 5-1 6 0 12 1 6 2 3 12 7 5 4 1 4-3 6-5 3-10 3-3-10 0-12-1-6-3-2-6-4-5-1-6 1-14 12-13 6-2 4 0 2 3 5 12 8 12 11 12 6-9 6-19 14-18 8-2 2-5 10-1 1-10-2-6 0-2 1-12 10-6 3-22 7-1-2-4-18-1-20-2-4-4-3-6-2-2 1-16 9-18 6-6 3-1-2-1-10-3-12 0-6 1-14-1-4-3-5-12-9 8-8 3-4 1-4-2-18 1-18-1-2-4-7-3-5 12-16 0-20 4-12 0-4-1 0-12-3-6 3-12 8-12 6-4 2-2 6 0 6 2 5 16 9 8 8 1 2-3 4-10 8-18 6-3-16 0-12-1-6-3-2-5-3-6-1-6 2-12 8-14 8-3 4 0 2 3 5 14 8 16 13 6 2 6 1 1 1-1 2-12 4-16 12-20 10-4 6-1 8-1 2-12-4-6 0-16 12-14 7-4 3 0 8 1 2 3 3 14 7 16 13 6 3 6 0 1 2-1 2-6 1-6 2-16 13-14 7-4 2-2 5 0 6 2 5 18 10 12 13-1 2-2 4-10 8-24 0-3-12 0-18-1-2-3-3-6-3-6 1-12 9-6 3-15 5-9 4-3-2 0-8-4-18 1-22-3-6-9-8 8-8 4-4 0-4-1-18 1-14 0-5-4-4-2-2-6-1-18 12-18 4-2-2-4-13 0-15 1-10 0-6 1-4 6 5 18 7 12 9 4 1 6 0 5-4 3-3 2-5-1-16 2-18-3-4-6-5-6 0-2 1-16 11-16 7-5 2-5 6 1 4-1 2 0-52 2-11 22 6 6 3 12 9 2 2 4 0 6-2 3-3 3-6-2-18 3-14-1-6-4-6-7-6 5-6 3-6 0-6-2-12 1-18-2-7-6-6-6-1-6 2-10 7-6 2-13 3-1-1-2-5-3-12 1-6 4-13 2-1 12 3 6 3 12 8 6 1 6-4 4-3 1-4-2-18 1-18-4-6-4-2-4-2-6 2-10 6-6 3-14 3-4-12-1-6 1-6 4-13 2-1 12 3 6 3 10 6 6 2 2-1 5-3 4-6 1-5-2-13 2-18 0-3-4-4-5-5-7-1-2 1-10 7-6 3-12 3-3-9-1-10 1-6 3-6 12 2 6 3 10 7 2 1 6-1 9-6 4-6 0-6-1-14zM88 35l-16 12-15 8-3 3 0 2 0 5 4 3 14 6 12 9 6 2 6-1 4-2 2-4 1-2-1-16 2-14-1-6-4-4-5-2zM144 68l-12 10-14 9-3 3 0 4 3 5 2 2 12 5 16 10 6 1 4-3 2-2 1-4 0-12 2-14 0-6-3-5-6-4-6 0zM204 102l-14 11-12 6-3 5 0 2 3 6 14 8 12 8 6 0 4-1 3-5 0-16 2-14-3-6-2-3-4-2zM264 138l-14 12-10 5-2 1-1 4 0 2 3 3 12 7 12 8 4 1 2-1 4-2 1-4 0-14 1-12 0-4-2-4-4-2zM322 306l-12 8-12 6-3 2-2 2 0 4 3 2 16 8 10 5 2 1 4-1 1-3 2-27-1-3-2-3-4-1zM384 345l-2 1-19 12-2 2 2 4 4 2 15 9 2 1 4-4 0-20 0-4zM88 108l-12 8-16 8-3 2-1 4 1 2 3 4 10 4 14 9 4 1 2 0 4-2 1-4 0-18 1-12-2-5-4-1zM144 144l-8 7-12 7-3 2 0 2 3 4 20 12 4 1 2-1 3-4 1-26-1-4-3-1zM202 180l-14 10-4 2-1 4 3 2 16 9 2 1 4 1 2-5 1-18 0-6-3-2zM268 210l-4 1-20 13-4 4 1 4 3 2 8 5 10 7 6 3 2 0 4-2 1-7-1-26-3-4zM322 378l-12 7-14 5-3 4 0 2 1 4 4 2 12 5 11 7 3 1 4-1 2-6-1-24-1-5-4-1zM382 411l-12 7-12 6-4 3 0 5 2 4 14 7 12 10 6 2 2-1 4-3 1-3 0-6-2-16 0-8-3-7-2-1-4 0zM82 177l-10 6-14 7-3 2-1 4 1 2 3 4 14 7 12 7 6 0 4-2 1-4 0-30-1-3-4-2-2 0zM142 216l-19 10-2 2 1 4 4 2 17 9 5 1 1 0 2-4 0-24-3-2zM201 249l-16 9-2 4 0 2 21 16 4 1 2 0 2-1 2-4-3-27-3-2zM84 240l-12 8-19 7-2 3-2 6 3 6 2 3 16 5 12 8 6 2 6-3 3-5-1-18 1-12-1-4-2-4-4-2zM148 276l-4 1-12 7-14 7-2 3 0 4 1 2 3 3 12 6 10 7 6 2 2-1 4-2 2-5-2-28-1-2-3-3zM82 302l-12 9-13 5-4 2-3 6 0 6 1 4 3 3 16 6 14 11 7 1 6-3 3-4 1-2-2-18 1-16-2-6-4-3-6-2zM144 338l-12 8-17 8-2 4 0 6 1 2 4 3 12 5 14 12 6 2 6-2 4-4 0-6-2-16 1-14-1-4-4-3-6-2zM84 368l-12 9-16 7-2 4-1 6 2 2 3 4 14 6 16 10 6 1 4-3 2-2 1-4-1-14 1-12 0-6-2-4-5-4-6-1zM88 438l-16 10-12 6-3 2-2 4 1 2 2 4 18 8 12 9 6 1 5-4 1-2 0-18 0-16-1-2-3-4-6-1zM350 52l2-1 5 1 7 2 6 6 1 4-7 8-6 2-6 2-4-2-2-10 1-6zM473 60l1 0 2 0 2 4-4 2-2-2zM408 84l4 0 8 2 6 4 4 6-5 6-5 4-6 2-6 1-2-7-1-6 1-6zM347 114l1-1 10 2 6 2 7 7 4 6-5 6-6 5-16 5-2-2-3-14 1-6zM468 120l0-1 4 0 6 1 5 4 3 6-4 6-4 2-6 2-4-1-2-9zM408 150l4 0 8 2 6 4 4 6-4 6-6 4-6 2-6 0-2-6-1-6 1-6zM465 180l3 0 10 2 6 3 4 5 4 5-4 7-4 4-10 4-6 0-2-1-3-7-1-6 0-6zM-4 252l2-1 8 2 12 9-12 8-8 2-2-2-2-6 0-6zM472 258l2 0 4 1 1 3-2 2-3 2-2-1-1-3zM235 390l3-1 2 1 6 4-2 3-6 1-3-1 0-3zM174 414l12 6 6 6-1 4-5 4-6 3-6 2-2-3-2-10 2-10zM0 456l4 0 6 4-4 3-2 1-4 0-1-4zM169 478l3-2 12 4 9 6 4 6-3 6-4 5-10 4-8 2-2-1-3-10-1-6zM295 490l4 0 4 2-2 4-3 1-3-1-1-4zM354 522l4 1 3 3-2 2-1 1-4 0 0-3z"/>
<path fill-rule="evenodd" fill="rgb(24,24,24)" d="M111 -12l2-2 11 0 8 5 3 3 1 4-5 6-5 3-12 4-2 0-3-13zM48 10l0-2 4 0 14 3 8 5 14 10 6 3 8-2 3 7 5 6 4 2 16 6 18 13 6 1 8-5 2 1 1 8 4 6 5 4 12 4 6 3 10 8 6 2 6-1 6-3 2-2 4-5 0-6-2-16 4-15 12 3 6 2 9 8 4 6-7 7-5 5-15 6-4 2-2 6 0 6 2 4 3 3 19 8 14 11 4 1 6-1 6-3 3-5 1-6-1-15 4-11 1-3 16 3 8 7 6 8-12 11-13 6-4 4-2 6 1 6 1 2 3 4 18 8 14 13 10 5-10 5-14 14-12 6-4 3-1 6 2 6 17 10 12 11 8 5-8 5-15 13-12 6-4 4-6 8-1 4 2 2 6 1 12 5 16 10 6 0 9-4 7-6 1-6 0-12 3-12 12 4 6 4 8 8-8 8-14 9-3 7 0 6 3 4 2 3 16 6 11 7 3 2 6-1 4-4 0-17 4-16 0-8 2-3 8 5 16 5 7 5 11 9 10 5-8 4-14 14-13 6-3 4-1 6 2 2 3 3 12 6 12 10 6 2 2 0 6-1 4-2 2-4 2-4-1-16 3-10 2-1 10 3 8 6 4 6-4 5-5 5-13 6-3 4-1 6-1 18-1 2-8-4-6 0-4 1-14 12-15 7-1 4 0 5 3 3 13 8 12 12 6 4-3 4-19 15-19 9-3 2-4 8-16-1-6 4-12 9-6 3-14 4-3-3-5-14 0-22-2-2-6-4-6-2-2 0-18 11-18 5-4-1-4-21 1-18 0-4-4-6-10-8 8-10 2-6-2-18 2-18-1-3-6-8-2-3 10-12 2-4 0-20 5-16-1-1-2-1-12-2-4 2-14 9-13 5-4 4-3 6 0 6 2 6 4 2 10 6 10 7 2 3-2 2-8 6-5 3-11 3-3-2-2-10 0-12-1-5-2-3-4-3-10-3-6 2-12 9-13 7-4 2-1 4-1 2 1 4 4 3 14 7 12 11 8 5-8 6-12 11-6 3-11 4-5 4-2 3-4 9-2 0-8-2-6 1-16 11-14 7-4 3-2 6 0 4 2 4 4 3 14 7 12 11 8 5-20 16-18 9-2 4-2 3 0 6 3 6 18 10 5 3 6 9-1 2-5 6-8 6-20 0-3-12 1-14-1-6-2-4-3-2-6-2-6 2-12 9-6 3-22 7-2 0-6-25 2-22-2-5-9-9 8-9 3-7-2-18 2-14-1-6-2-4-5-3-6-1-4 1-14 11-10 3-8 1-5-12-1-8 3-18 1-4 2 0 18 5 14 11 4 2 6-1 8-5 2-2 2-6-2-16 3-14-1-6-4-6-2-2-4-1-6 0-6 3-12 10-24 9-2-16 0-18 2-10 1-3 3-1 12 3 8 3 12 10 6 3 6 0 6-2 4-4 2-6-2-18 2-14 0-10 6 5 16 5 12 8 2 2 6-1 4-2 2-3 2-4-1-18 0-16-1-3-2-3-6-2-4 1-14 9-16 5-4 3-2 2-2 4 0 6-6-6 3-6 1-6-2-22 1-18-3-6-6-5-6-1-6 2-12 9-6 2-10 1-2-4-3-6-1-6 1-6 3-10 2-2 10 2 6 2 12 9 6 2 2 0 6-3 5-6 1-6-2-16 2-14-1-6-2-4-9-5-6 0-14 10-6 2-10 1-2-3-3-7-1-6 3-12 1-4 2-2 10 2 6 2 12 8 2 1 4 1 6-2 6-6 1-6-2-16 2-14 0-6-1-4-4-4-2-2-5-2 12-10 3-6-1-21 1-5zM88 33l-16 13-18 8-2 4 0 2 2 6 3 4 13 4 6 4 8 6 6 3 8-3 4-2 1-4 0-18 3-12 0-6-2-6-4-3-6-2zM144 66l-12 11-15 7-3 4 0 6 2 6 4 2 12 6 16 10 6 0 6-4 2-4 0-16 3-12 0-6-3-6-6-5-6-1zM208 99l-6 2-12 10-13 7-3 2-1 6 1 5 4 3 11 5 13 9 6 2 6-2 3-4 1-2 0-16 2-14 0-5-4-4-2-3zM262 138l-10 8-14 9-3 5 1 2 2 4 14 7 12 8 6 1 4-2 2-6 0-12 2-18-1-2-3-4-4-2-2 0zM318 306l-12 8-12 6-2 3-1 5 2 2 5 3 12 5 12 7 2 1 4-1 2-4 2-29-2-5-2-2-4-1zM382 344l-22 13-2 3 1 4 4 2 19 11 2 1 4-1 1-5 0-24-1-4-4-1zM84 299l-2 2-12 8-16 6-2 2-4 5 0 8 3 6 3 3 16 6 14 11 6 1 6-3 3-2 3-6-2-18 2-16-2-6-4-3-6-3zM84 108l-12 9-15 7-2 2-1 4 1 2 3 4 14 7 12 8 6 0 6-3 1-4-1-14 1-18-2-4-5-2zM148 141l-16 10-10 5-3 4 0 2 1 4 4 2 24 13 2-1 4-2 1-4 1-26-2-6-4-1zM204 177l-20 13-3 2 0 4 3 3 20 11 4 1 2-1 1-2 2-24 0-4-3-3-2-1zM264 209l-12 9-8 5-4 3-1 2 0 4 3 2 10 7 12 9 6 0 4-1 3-5-2-16 1-12 0-2-2-4-4-1-2-1zM318 378l-8 6-16 6-3 4 0 2 1 4 3 2 11 5 12 8 6 2 5-3 2-2 1-4-1-26-3-5-4-1zM384 408l-2 1-12 8-15 7-2 2-1 4 0 2 2 4 16 9 12 10 6 2 2-1 4-2 2-4 1-6-3-14 0-16-4-4-2-2zM84 366l-14 11-12 5-4 2-2 4 0 6 2 5 4 2 14 6 16 11 6 1 6-4 2-3 0-4-1-14 2-18-3-6-6-4-6-1zM84 174l-12 8-12 4-5 4-2 2-1 4 2 6 4 2 12 5 12 7 6 3 6-3 2-5-1-15 1-16-1-2-2-4-5-1zM144 212l-24 13-2 3 1 4 4 2 9 5 12 7 4 1 2-2 3-5-1-24-2-3-2-2zM204 245l-22 13-2 4 0 2 3 4 9 5 12 9 4 1 2 0 4-2 1-5-1-26-4-5-2 0zM90 435l-6 3-12 9-15 7-3 3-1 3 1 2 4 5 14 6 16 11 6 2 6-4 2-4-1-18 1-16-3-6-5-2zM144 276l-12 7-14 7-4 3 0 5 1 2 3 4 12 4 14 10 4 1 2 0 4-2 3-5-2-18 1-12-1-2-3-4-4-1zM144 336l-14 11-16 6-3 5 0 6 1 2 3 4 17 7 16 12 6 0 2-1 4-3 1-3 0-6-2-16 1-14-1-4-2-2-3-3-6-1zM168 12l4-1 8 2 6 2 9 7 6 6 1 2-12 13-6 3-10 3-6 3-2 0 0-6-2-16 1-8zM-6 52l4-2 8 1 6 3 11 10-5 2-6 5-6 3-8 2-3 0-3-6-1-6 1-6zM164 54l2-2 0 2 0 3zM351 54l1 0 2-1 6 2 6 5 2 4-4 5-4 2-8 2-3-3-1-6zM410 88l2-2 2 0 6 3 6 5 1 2-7 8-8 2-4-3-1-7 1-6zM348 118l0-2 4-1 8 3 8 6 4 6-4 6-4 3-6 3-10 2-2-8-1-6 1-6zM470 124l2-2 6 1 4 3 1 4-2 2-3 3-6 2-2-1-2-5 1-5zM410 154l2-2 9 3 5 5 1 2-7 8-8 2-4-3-1-7 1-6zM466 184l2-2 6 1 10 4 6 9-4 6-8 5-10 1-1 0-3-6-1-6 1-6zM-2 256l2-2 6 1 7 7-6 6-7 1-2-1-1-4-1-2zM468 384l4 0 2 2 7 4 2 4-1 2-3 4-7 2-3-2-2-6zM174 420l0-2 10 3 4 5-1 4-3 2-4 2-2 1-4 0-1-9zM171 480l1-1 9 2 9 5 5 6-4 6-8 6-9 3-2-1-3-8-1-6z"/>
<path fill-rule="evenodd" fill="rgb(27,27,27)" d="M113 -12l1-2 10 1 6 5 3 2 1 4-8 7-6 3-6 1-1-3-2-8zM51 10l9 1 10 3 6 4 13 12-5 4-12 11-16 7-4 2-2 6 2 6 3 4 17 7 16 10 6 1 7-4 3-2 1-4-1-18 4-19 22 8 16 15-16 13-15 7-3 6 1 6 1 3 4 3 14 7 16 10 2 1 6-2 6-4 2-2-1-18 4-18 1-2 18 7 6 3 10 9 6 3 6-1 8-5 2 6 4 6 4 4 18 6 12 10 6 2 6 0 6-3 4-3 1-4 1-6-1-14 3-13 4 0 8 2 6 3 6 4 4 6-10 11-14 6-4 2-2 5 0 10 3 6 5 2 16 7 19 17-5 4-14 14-16 7-2 5 0 6 2 5 16 8 19 17-19 17-15 7-3 3-6 9-1 6 1 1 6 0 12 4 18 12 2 1 6-1 10-5 6-6 1-6 0-12 1-6 4-3 10 3 4 4 5 6-7 8-12 6-3 4-2 6 2 8 2 4 3 2 12 5 16 9 6 1 4-3 3-2 1-22 4-18 2-1 18 6 6 2 21 17-17 16-15 8-2 4-1 2 0 4 2 4 16 8 14 12 4 1 6-1 6-2 2-2 1 0-2 22-1 0-10-1-6 1-14 11-16 9-2 4 0 6 2 2 16 9 15 15-13 14-8 6-18 7-10 8-5-1 3-1 2-4 2-7-3-18 0-16-1-2-3-4-7-1-4 1-10 8-16 7-3 3 0 6 1 4 2 2 16 8 12 11 7 3-5 1-14 12-6 4-10 3-8 1-2-1-3-8-2-10 1-15-1-3-2-2-3-4-6-3-6 0-18 11-18 4-3-2-4-18 1-22-4-5-8-9 7-10 1-6-2-18 2-18-2-6-6-8 8-10 4-5-1-19 5-20-2-2-6 1-6-2-2 0-6 2-12 9-15 6-4 4-2 6 0 8 3 6 2 2 13 6 9 8-12 9-6 2-6 1-3-10 0-12-1-6-2-2-4-4-6-2-6-1-6 2-14 11-14 6-3 2-1 4 1 6 1 2 18 10 16 14-12 12-6 6-18 6-4 3-3 4-3 6-8-2-6 2-16 12-17 9-3 2-1 4 0 6 3 6 18 9 16 15-2 2-14 13-18 9-3 2-2 6 0 6 3 7 3 3 15 6 6 5 4 7-1 2-3 5-5 5-6 2-15 0-3-6-1-6 1-14 0-6-5-6-6-3-6 0-2 1-12 10-10 4-18 5-2-3-5-20 2-18-1-5-1-5-7-8 6-7 2-5 1-7-2-15 2-14-1-6-2-5-4-3-6-2-2 1-4 1-14 11-6 2-10 1-2-1-2-3-3-8 0-6 1-6 4-14 12 3 6 2 14 11 4 1 6 0 8-5 4-3 1-5-1-18 2-23 6 4 16 5 12 10 6 2 6 0 5-4 3-4 1-4-2-18 2-16-2-6-2-2-9-6-6 0-2 1-12 9-18 7-2-3-3-14 1-10 2-12 2-1 18 6 12 9 2 1 6 0 6-5 3-4 1-6-2-14 1-16-3-5-5-4-7 0-14 10-16 4-8 5 0-10-3-18 1-18-2-5-2-3-6-5-6-1-4 0-15 12-5 1-10 1-2-6-2-6 0-8 4-10 10 1 6 2 12 10 6 2 2 0 6-4 5-5 2-2 0-6-2-16 2-18-1-2-2-4-9-7-7 0-2 1-14 10-4 1-10 1-2-6-2-8 1-10 3-6 12 2 6 3 10 7 6 2 8-4 5-6 1-6-2-18 2-18-2-7-6-5 8-9 4-5 0-4-2-18 3-12zM88 105l-16 11-12 4-5 4-2 2-1 4 2 5 4 2 12 5 12 8 6 3 2 0 4-3 3-2 1-4-1-14 2-16-1-2-2-4-2-3zM144 141l-8 7-16 8-3 4 0 2 1 4 4 2 10 5 12 8 6 0 4-1 2-6 1-30-2-2-5-2zM202 99l-12 11-15 8-2 2-1 6 2 6 3 4 13 4 14 10 6 1 6-3 3-4 0-2 0-16 2-18-2-6-5-4-6-1zM264 135l-14 12-13 7-3 2 0 6 4 5 12 5 14 11 6 1 5-4 2-2 0-18 2-16-2-6-3-2-4-1zM322 303l-16 10-13 5-3 4-1 2 2 6 3 3 12 4 16 9 2 1 5-1 2-4 1-18 2-11-1-3-3-5-2-2zM382 342l-12 9-10 4-3 2-1 3 1 4 4 2 9 5 12 8 2 1 4-1 3-3 0-28-1-3-2-3-4 0zM88 363l-6 3-12 10-16 6-2 3-2 5 1 6 3 5 18 7 16 11 6 1 6-3 3-5-1-18 2-18-3-6-5-5-6-2zM81 174l-11 8-12 4-4 2-3 4 0 6 1 4 4 2 14 6 14 9 6 1 5-4 2-2 1-4-2-14 1-16 0-2-2-4-5-2-2 0zM144 210l-12 8-12 5-2 3-1 2 0 4 3 2 12 6 12 8 4 0 4-1 2-3 0-28-1-2-2-4-3 0zM208 174l-4 1-12 8-10 7-3 2 0 4 1 2 4 2 20 12 4 1 2-1 3-4 1-24-1-6-3-3zM268 207l-4 1-14 10-9 4-3 4-1 2 0 4 3 2 12 8 10 8 6 2 2 0 5-2 2-4 1-2-1-16 0-14-1-4-2-2zM322 375l-12 8-13 5-5 2-2 4-1 2 1 4 2 2 18 8 8 7 6 1 4 0 2-3 3-3 0-4-2-14 1-12-1-4-3-2-4-1zM88 435l-16 11-17 8-3 2 0 6 2 4 4 2 14 6 16 12 6 1 2-1 5-2 3-6-2-18 1-15-2-7-4-2-3-2zM142 276l-12 8-13 4-3 4-2 6 1 2 3 4 16 7 12 9 6 0 4-1 2-3 2-4-1-14-1-18-2-4-4-2-2 0zM208 243l-4 1-12 8-8 4-4 2-2 4 1 2 2 4 11 6 12 9 6 2 4-1 2-4 0-6-1-10 0-14-1-4-4-2zM144 335l-14 10-16 7-3 2-2 4 0 6 1 2 4 5 16 6 18 14 6 1 6-3 2-5 1-2-3-22 2-14-2-6-5-4-5-1zM169 16l3-3 8 1 6 2 7 6 5 6 2 2-8 9-6 4-18 6-3-19 1-5zM229 48l3-1 2 1 12 4 7 6 4 6-5 6-6 4-18 8-2-18 0-6zM-5 54l2-2 9 1 7 5 5 6-6 6-5 2-9 2-3-2-2-6 0-6zM352 58l2-2 6 2 4 2 1 4-2 2-5 4-4 0-1 0-1-2-1-4zM411 90l1 0 2-1 4 1 5 4 1 2-2 4-4 2-6 1-2-7zM351 118l7 0 4 2 4 4 4 6-6 7-6 3-6 1-3-3-2-8 1-9zM473 126l3 0 2 4-4 2-2-2zM411 156l1-1 2 0 4 1 5 4 1 2-2 4-4 2-4 1-2 0-2-7zM467 186l1-2 10 1 6 5 3 6-3 5-4 3-6 2-6 0-2-4-1-6zM0 258l4 0 4 4-3 2-5 1 0-3zM-10 310l2-3 8 1 10 3 6 4 8 8 6 3 6 1 6-2 3 3-1 2-2 1-6-3-6 1-5 4-13 10-6 3-14 4-2-2-4-17 0-9zM468 316l6 1 6 2 4 3 4 6-4 6-4 2-14 7-2-15 2-7zM471 390l1-1 5 1 2 4-1 2-4 2-2-1zM177 424l1-2 2 1 4 3-2 4-4 1-2-5zM172 484l2-3 6 2 6 3 6 6-1 4-2 2-5 5-10 1-2-2-2-6 0-6z"/>
<path fill-rule="evenodd" fill="rgb(29,29,29)" d="M116 -12l4 0 6 3 4 3 1 4-5 6-8 3-4-1-1-8 1-6zM50 12l2-1 2 0 10 1 6 3 6 4 10 12-14 12-6 4-12 4-4 3-2 6 2 6 2 4 20 8 16 11 6 0 8-4 4-4 1-5-1-16 3-14 3-2 12 3 6 3 5 5 8 9-13 12-13 5-4 3-2 6 1 6 1 4 5 3 14 7 16 10 6 1 7-3 3-4 1-2 0-18 3-17 12 3 6 2 6 4 11 10-13 12-13 6-4 4-2 6 0 6 2 2 3 4 16 7 12 8 4 1 6-1 4-3 2-4 0-18 3-18-2-8 1-1 3 3 5 4 14 4 6 3 14 12 6 1 12-4 2 8 3 6 4 2 13 5 6 3 16 16-16 16-16 8-3 4-1 6 2 5 2 3 16 8 17 16-17 17-18 9-4 4-6 13-2 1-10-3-6 1-14 11-17 7-4 6-3 12 0 1-10-4-6-1-2 0-18 13-16 7-2 2-1 4 0 5 2 3 19 11 14 13-10 12-6 5-18 6-6 4-2-3 0-6-3-14 2-16-1-6-1-2-4-4-7-3-6 1-14 10-16 6-5 4-2 4 0 6 3 6 5 2 15 6 5 4 9 9 6 3-6 3-14 13-12 5-5 3-3 2-1 6 1 6 2 4 4 2 11 5 5 3 14 14-7 8-7 6-20 10-4 6-1 12-1 0-4-2-6-2-6 0-6 3-8 8-6 3-22 6-1-2-4-12-1-8 0-6 2-13-1-5-6-12 5-9 2-3-3-22 3-18-2-6-6-6-2-2-4 0-6 2-14 12-6 2-10 1-2-3-2-2-2-12 1-6 3-10 2-2 10 2 6 2 12 10 6 3 2 0 6-1 8-4 3-4 2-6-2-14 0-6 3-16 2-1 18 6 12 10 6 3 6 0 2-1 6-6 2-5 1-6-3-14 2-18-2-4-2-4-10-5-6-1-2 1-16 11-14 4-3-12-1-8 4-14 2 0 12 3 6 4 10 7 6 1 6-2 2-3 4-4 1-4-2-18 1-17-3-5-3-3-6-2-4 1-14 10-22 6-4-20 0-6 2-12-1-6-3-6-7-6 6-6 3-6 0-6-2-16 2-18-2-5-2-3-6-5-3-1 9-8 2-4 1-4-2-18 3-20-2-5-4-7 7-10 2-2 0-6-2-12 0-6 1-6zM84 105l-12 9-18 8-3 4 0 4 2 6 4 2 13 5 14 10 6 1 6-4 3-6-1-14 2-18-4-6-2-2-4-1zM150 138l-6 2-12 9-14 7-2 4 0 2 1 4 3 2 10 5 12 7 6 3 2 0 4-3 3-2 0-4 0-12 1-18-2-3-2-2zM204 174l-12 8-12 8-2 2-1 4 2 2 4 4 9 4 12 8 4 0 3 0 3-4 1-30 0-2-3-4-4-1zM262 135l-12 11-15 8-2 2 0 6 1 4 4 2 12 5 14 11 6 1 4-1 2-3 2-3 0-16 2-14 0-6-4-6-2-2-6-1zM84 362l-14 12-18 8-4 6 0 2 1 6 2 4 3 2 18 7 16 12 6 1 7-4 3-6-1-18 2-18-3-8-6-5-6-2zM84 171l-12 9-18 7-3 3-2 6 1 6 3 2 17 7 12 8 6 2 6-2 3-3 1-2 0-6-1-12 1-16-2-5-2-3-4-1zM144 209l-12 8-13 5-3 4-1 2 1 4 2 2 14 7 12 8 4 1 2-1 4-2 1-3-1-16 1-12 0-2-2-4-5-2zM204 243l-12 8-12 5-2 4-1 4 3 5 12 6 12 10 6 1 4-1 2-2 2-3-2-18 0-12-1-4-2-2-5-2zM264 207l-12 9-13 6-2 3-1 7 2 2 14 9 12 9 6 1 6-3 3-4 0-6-1-11 0-15-1-4-3-3-6-1zM91 432l-7 3-12 10-18 7-3 4-1 4 0 2 2 4 3 2 17 7 16 12 6 2 6-3 2-2 2-4 1-6-2-14 2-16-2-6-3-2-4-3zM144 273l-12 8-17 7-3 4-2 6 1 2 3 4 16 7 12 9 6 2 3 0 5-4 3-6-2-18 1-12-2-4-2-3-4-2zM170 16l2-2 6 1 8 3 8 6 4 6-6 7-6 5-14 5-2-1-1-3-3-13 1-6zM230 52l2-3 6 1 5 2 8 6 4 6-9 9-6 3-8 2-3-2-2-12 1-6zM-3 54l3 0 6 1 7 5 2 4-9 7-8 1-3-8zM354 60l4 0 3 4-3 2-4 0zM289 84l3-2 6 1 6 2 6 5 4 6-5 6-5 5-16 6 0-1-2-16 1-6zM414 94l0-1 4 0 2 3-2 3-4 1-1-4zM219 96l1 0 0 2zM-6 118l4-2 8 1 6 3 11 10-17 11-8 2-4-1-2-6-1-6 1-6zM351 120l3 0 6 2 6 4 2 4-4 5-4 2-8 2-2-3-2-6zM414 160l0-1 4 0 2 3-2 3-4 1-1-4zM-6 184l0-1 4-1 8 1 6 4 10 9-10 8-6 3-8 2-4-1-2-6-1-6 1-6zM470 186l4 0 6 3 5 7-4 5-3 2-6 1-4-2-1-6 0-4 1-4zM351 252l1 0 2 0 6 2 3 2 6 6-5 6-12 6-4 3 0-15zM285 274l3-2 4 0 8 3 10 5 8 7 6 2 4-1 8-2 6-4 4-3 1 13 3 6 4 2 16 7 12 8 2 1 6-1 4-3 2-2 1-22 5-17 16 4 8 3 18 16-14 15-17 9-2 4 0 2 1 6 2 4 16 7 14 12 6 1 10-1 1 1 0 6-1 8-10-1-6 1-14 13-14 7-4 4-1 4 0 4 2 2 17 11 13 13-13 15-10 5-14 4-4 3-2-3 0-6-3-12-1-18-1-2-2-4-3-1-6-1-6 2-12 8-12 5-2 3-2 2-1 6 3 5 2 3 12 5 16 15-12 12-6 4-10 3-8 0-5-13-1-22-4-6-8-4-6 0-4 1-8 7-10 4-14 3-4-11-2-8 1-22-3-6-8-8 4-6 3-6-2-22 2-18-2-6-6-8 9-10 3-6-1-20zM318 303l-12 9-15 6-2 4-1 6 2 2 3 4 13 4 16 10 2 0 4 0 3-2 2-4 0-14 1-18-1-4-2-2-3-3-4 0zM382 341l-12 8-11 5-3 4-1 2 0 4 3 2 12 6 12 8 2 1 4 0 2-2 2-3-1-16 1-12-2-6-2-1-4-1zM322 374l-16 9-14 6-4 5-1 2 1 4 4 4 14 6 12 8 6 2 6-3 4-5-2-18 1-12-3-6-6-3zM-9 310l3-2 4 1 12 3 6 4 8 8 5 4-13 12-6 3-18 5-5-12-1-8 2-10zM231 316l1-1 12 5 9 8-9 7-10 3-1-2-3-6zM468 318l4 0 6 2 3 2 4 6-5 6-12 5-2-11zM174 484l10 2 4 4 2 2-1 4-5 5-6 1-4 0-2-10zM109 507l3 0 14 6 5 3 6 6 1 4 0 2-8 9-8 3-10 0-3-6-2-6 0-6 2-8z"/>
<path fill-rule="evenodd" fill="rgb(32,32,32)" d="M116 -8l2-2 6 1 4 3 1 4-2 2-3 3-6 1-3-4 0-2zM51 12l3 0 6 1 10 3 7 6 5 6 2 2-8 10-6 4-22 8 1-6-3-12 0-6 1-6zM170 18l2-2 2 0 10 2 6 4 5 6 1 2-4 6-6 5-6 2-8 2-4-7-1-8 1-6zM110 48l2-2 14 4 7 4 8 10-11 11-16 6-2 3-3 6 3 10 2 2 4 2 14 6 14 10 4 2 6-1 6-3 3-4 2-5-1-13 0-6 3-8 3-3 14 4 6 5 6 6 2 2-9 10-5 3-12 5-2 3-2 3 0 6 1 6 3 4 16 6 14 11 6 0 6-2 4-3 1-6-1-12 1-6 3-18 2-2 6 3 14 5 6 4 10 8 6 3 6 0 6-2 1 1 5 10 2 2 16 6 6 3 7 7 7 8-14 15-18 9-2 4-1 6 1 6 3 2 17 9 15 15-15 16-19 8-3 4-6 13-2 1-10-2-6 1-14 11-19 8-3 6-2 10-12-3-6 0-18 13-17 8-3 2-1 4 1 6 1 2 4 4 11 4 6 4 12 12-7 10-7 6-6 2-16 5-2-1-4-18 1-22-3-5-6-4-6-1-4 0-14 11-15 5-5 4-5 6-1 6-2 1-4-5 6-6 2-5-3-21 2-18-3-6-2-3-6-5-5-2 5-1 2-3 4-3 1-5 0-6-2-14 2-16-1-4-6-6-4-1-4-1-4 2-12 9-18 5-4-1-3-15-1-8 3-12 0-6-3-6-5-6 4-6 2-6 0-6-2-16 2-18 0-2-3-5-7-7 7-9 2-7-2-18 3-20-1-6-3-6 1-3 4 1 1 4 5 4 4 2 14 5 18 13 6 0 8-4 5-4 1-6-1-16zM148 137l-16 11-14 7-3 4-1 3 1 4 3 2 12 6 14 9 4 1 6-2 4-4 0-18 1-12 0-4-3-5-2-1zM202 174l-10 7-14 9-2 2 0 4 1 2 3 4 12 5 12 8 4 1 5-2 2-4 0-18 1-12-2-6-4-2-2 0zM264 132l-14 13-16 7-2 4 0 4 1 6 3 2 16 8 12 9 6 1 6-3 3-5 0-16 2-20-2-6-5-5-4 0zM90 102l-6 2-12 10-17 6-4 4-2 6 2 6 3 2 16 6 13 10 5 1 6-1 2-2 4-4 0-4-1-14 2-16-1-6-4-4zM148 207l-4 1-12 8-14 6-3 4-1 2 0 4 4 3 14 7 11 8 5 1 2-1 4-2 2-4 1-4-2-12 1-14-2-5-4-1zM202 243l-12 8-10 5-3 2-1 6 1 4 3 2 12 6 12 10 6 2 4-1 2-2 3-5-2-16-1-17-2-3-4-3-2 0zM262 207l-10 8-14 7-3 4 0 6 3 3 14 9 11 8 5 3 2 0 6-3 4-6-2-18 1-14-3-6-6-3-2 0zM84 170l-14 10-18 6-5 6 0 6 1 4 4 3 4 3 14 4 12 8 6 2 2 0 5-2 4-6 1-5-2-13 1-16-1-6-4-2-4-2zM144 272l-14 10-17 6-3 4-1 6 2 6 3 2 16 6 14 11 6 0 4-1 4-4 2-6-2-18 1-12-2-6-3-2-6-2zM231 52l3-1 10 2 5 5 4 6-5 6-4 2-12 4-3-6-1-6 1-6zM-2 58l2-2 6 1 4 3 2 4-6 4-6 2-3-4 0-6zM291 84l1 0 6 0 6 3 4 3 4 7-5 5-3 3-12 5-2-2-2-2-1-10 1-6zM-3 118l7 0 6 2 9 10-10 8-5 2-6 1-4-2-2-9 1-6 1-4zM352 124l2-2 6 2 4 2 1 4-2 2-5 4-4 0-2 0-1-6zM-3 184l7 0 6 2 9 10-10 8-5 3-6 0-4-3-2-8 2-10zM470 190l2-2 2 1 4 1 2 2 3 4-2 2-5 4-4 0-1 0-2-6zM351 256l3-2 6 2 6 6-6 6-8 3-2-9zM287 274l5-1 12 4 6 4 8 7 6 2 6-1 12-5 3 2 2 8 1 4 4 2 18 8 10 8 4 1 8-1 3-4 2-2 0-18 5-19 4 0 12 2 6 3 6 4 12 12-12 14-18 10-2 6 1 6 2 4 17 8 14 12 6 2 6-1 3 3 0 6-3 2-6 0-6 1-14 13-16 7-3 3-1 6 2 7 3 3 9 4 6 4 11 12-4 6-7 8-10 5-18 6-4-19-1-20-2-4-5-2-6-1-3 0-15 11-12 4-4 4-1 2-1 6 3 7 15 8 14 13-10 11-10 5-12 2-2-1-5-15 0-18-4-6-9-5-6 0-4 1-10 8-8 3-12 2-2 0-4-11-2-6 2-22-2-6-8-8 4-8 2-4-3-22 3-18-2-6-6-8 10-9 1-3 1-6-2-12 0-6 6-17zM322 300l-16 11-14 6-4 2-2 5 2 6 3 4 19 7 11 7 3 1 4 0 2-2 4-5-1-14 2-18-1-5-4-3-2-2zM384 339l-2 1-12 8-13 6-3 4-1 2 1 4 2 2 14 7 12 9 2 0 4 0 2-2 3-4-1-16 1-12 0-2-3-5-3-2zM324 372l-2 1-16 9-14 6-4 2-2 6 0 4 2 2 4 3 14 6 12 8 6 2 6-3 4-3 1-7-2-14 1-16-4-4-2-1zM54 280l12 2 6 4 6 6 6 2-2 1-16 12-12 3-1 0-2-6-2-10 2-11zM-9 312l1-1 2-1 10 1 6 2 6 4 10 11-10 10-6 4-10 3-6 1-2 0-4-12-1-6 1-6zM234 318l9 4 6 6-6 6-5 1-4 0-2-7 1-6zM470 322l2-2 6 2 3 2 2 4-2 2-3 4-6 2-3-2-1-4 0-6zM51 346l1-3 14 4 6 4 12 9-14 13-18 7-2-2-2-18zM105 366l1-1 0 5 24 9 16 15-14 13-6 3-11 4-4 3-2 3-1 6 0 6 4 5 2 2 12 5 6 3 12 13-4 6-8 7-6 3-11 4-5 4-3 3-2 9-3 2-6-2-6 0-6 4-8 8-6 3-10 3-12 2-4-12-1-9 2-23-6-12 4-6 2-6-3-22 3-20-2-6-4-6 3-3 4 1 1 4 6 6 19 8 16 12 2 1 6-1 6-3 3-5 1-3-2-17 2-18zM88 432l-16 12-17 6-4 4-2 2-1 6 2 4 3 2 19 8 16 13 6 1 2 0 7-4 3-6 0-6-2-14 2-18-3-6-3-3-6-2zM-7 378l1-1 4 1 12 3 15 13-10 8-5 5-6 2-10 1-2-5-3-9 1-8zM176 486l5 0 4 4 3 2-1 4-3 2-6 2-3-2-1-6 0-4zM111 510l1-1 14 6 9 7 2 4-1 2-6 8-6 3-6 1-4 0-2-2-3-6-1-6z"/>
<path fill-rule="evenodd" fill="rgb(34,34,34)" d="M118 -6l2-1 4 1 1 4-3 2-4 0-1-2zM51 16l1-2 2-1 12 2 10 7 5 6 1 2-6 8-6 5-18 6-2-3-3-15 0-7zM172 18l2-1 10 2 7 5 4 6-5 6-4 4-8 3-6 0-4-13 1-6zM111 48l3-1 12 4 6 4 5 5 2 4-9 9-16 7-4 4-1 4-1 6 4 7 6 4 14 6 12 10 4 1 6 1 8-4 5-5 1-6-1-14 3-12 2-2 2 1 12 3 8 6 4 6-8 10-18 9-4 5 1 10 3 4 2 3 16 6 15 11 3 0 6-1 4-3 3-2 1-6-1-16 5-18 2-1 18 6 6 4 10 9 6 4-6 3-13 11-15 7-2 4-1 5 1 6 3 2 15 7 14 11 4 1 6-1 3-2 3-3 1-7-1-14 2-16-1-8 1-2 6 5 16 6 6 3 6 6 7 8-13 15-18 9-3 4-1 6 1 6 2 2 19 10 13 14-13 15-21 9-2 3-5 13-2 1-10-2-6 1-14 12-16 6-4 2-2 4-4 8-2 2-8-2-6 0-18 13-14 5-5 4-2 2-1 6 2 6 5 4 15 7 5 5 8 8-7 10-6 5-6 3-16 4-1-4-4-14 2-22-3-4-6-5-6-2-6 0-12 10-6 3-18 6-1-2-3-20 2-16 0-6-4-5-8-7 6-5 2-7-2-20 1-16-1-6-7-6-5-1-4 1-14 10-6 2-12 3-3-3-3-12-1-8 3-21 5 3 17 5 12 9 6 2 4-2 5-2 3-5 0-5-1-14 1-18-1-4-5-4-6-2-4 1-14 10-16 5-6 4-1-2-1-8-2-16 2-20-2-6-6-6 4-7 3-5 0-6-2-16 3-24 2-2 5 2 13 5 6 3 16 11 2 1 6-1 7-3 4-4 1-2 1-6-1-16zM144 138l-12 9-14 7-4 3-1 5 1 4 4 3 14 7 12 8 6 1 6-4 3-3-1-18 2-16-1-2-2-4-3-2-4 0zM205 171l-13 9-14 9-3 3 0 4 1 2 3 4 13 6 12 8 4 1 6-3 2-4 0-14 1-16-1-4-2-3-4-2zM264 204l-14 12-14 6-2 4 0 6 1 2 4 4 13 7 12 10 6 1 8-4 2-2 1-4-2-18 1-14 0-4-2-2-4-3-6-1zM88 101l-16 12-19 7-3 4-3 6 2 6 3 2 18 7 11 9 7 2 2 0 6-2 3-4 1-2 1-4-1-18 2-14-2-6-4-4-2-1zM144 207l-12 8-16 7-3 4 0 2 1 6 4 3 12 5 12 8 6 2 6-2 2-4 1-2-1-16 1-14-1-4-4-2-4-2zM204 240l-12 9-14 7-3 2 0 6 1 4 4 2 12 7 12 10 6 2 6-2 4-6 0-5-3-14 1-12-2-5-2-3-4-2zM142 273l-12 8-14 5-5 2-2 4-2 6 3 6 3 2 17 7 14 11 6 1 6-4 5-5 0-6-2-16 0-14-3-5-6-4-2 0zM231 54l3-2 9 3 4 3 4 6-5 5-2 2-10 3-2-1-3-9zM0 60l0-1 4 0 3 1 1 4-3 2-5 1-1-3zM291 88l1-2 2-1 6 2 6 3 4 6-6 8-6 3-6 1-2-2-2-10zM-4 120l2-1 8 1 6 4 5 6-6 6-4 2-9 2-3-4-1-6zM354 126l0-1 4 0 2 1 2 4-3 2-5 1-1-3zM278 130l2-1 0 3zM-4 186l2-1 8 1 5 4 6 6-6 6-5 2-8 2-3-4-1-6zM472 192l2 0 3 0 2 4-3 2-3 0-2-2zM353 258l1-1 4 0 2 1 3 4-3 3-6 3-2-4zM286 277l2-3 4 0 8 3 10 5 8 7 6 2 6-1 12-5 4 9 4 6 16 7 12 9 6 2 6-1 7-5 2-6-1-12 1-6 4-12 3-2 8 1 10 4 6 4 5 5 5 6-10 13-6 4-12 6-3 5 0 2 1 6 2 4 18 9 14 12 12 3 1 2-1 4-12 2-14 13-16 7-4 4-1 6 0 4 3 4 17 10 11 12-10 12-6 5-6 2-12 4-4-1-4-18 0-16 0-2-2-4-4-2-8-2-4 2-14 9-14 5-3 4-1 2-1 6 2 6 4 4 13 6 12 12-8 9-10 6-11 2-3-3-4-12 0-18-3-6-9-5-6-2-2 1-4 1-8 7-6 3-16 3-2-2-4-8-1-6 0-6 2-12 0-6-1-4-7-8 2-6 2-6-3-22 3-18-1-6-5-8 7-7 3-6 0-5-2-12 0-6zM319 300l-13 10-14 5-4 2-3 5 0 5 1 3 6 5 14 5 16 10 6 0 3-2 3-2 1-4-1-18 2-14-2-6-4-4-6-2zM382 339l-12 8-15 7-2 4-1 2 1 4 2 2 15 8 10 8 4 1 6-1 4-5 0-5-1-12 1-14-1-4-3-2-6-2zM322 372l-12 8-20 8-4 2-2 6 0 4 2 2 4 4 14 4 6 4 8 7 6 1 5-2 4-2 3-6-2-16 1-14-1-6-4-3-2-1zM53 282l1-1 4 0 8 3 14 10-14 12-12 2-2-6-2-8zM-8 312l2-1 4 0 12 3 6 4 8 10-8 8-6 5-6 3-10 1-2-3-4-12 1-9zM234 324l0-1 4-1 5 2 3 4-3 2-5 3-3-3zM471 324l3-1 4 1 2 4-2 2-4 2-2 1-1-5zM53 346l1-1 6 1 7 2 5 4 9 8-8 10-4 2-15 5-2 0-3-17 1-8 2-4zM108 372l22 8 5 4 9 10-8 8-6 6-18 7-5 5-1 6 2 10 6 4 16 6 5 4 8 10-7 8-6 6-18 6-4 3-1-3-2-18 0-6 2-12-1-5-4-6-2-2-6-1-6 1-16 12-6 3-13 4-4 4-3 2-1 4 2 6 4 2 21 9 12 11 6 3 6 1 6-1 1 1-1 2-6-1-2 0-10 6-8 8-6 3-6 3-12 2-3-2-5-11-1-6 0-6 3-16-1-6-1-6-2 0 0-2 2-4 2-8-3-22 3-18 0-6-1-2 1-1 8 5 16 5 6 4 12 10 6 1 2 0 7-4 3-6 1-6-2-14zM-7 382l1-3 12 2 7 3 9 10-6 7-7 4-5 3-10 0-2-6-2-6 0-6zM177 490l3-1 4 3-1 4-3 1-2 0-2-5zM112 514l2-2 10 3 6 3 5 8-3 6-3 2-5 4-10 1-1-1-3-6-1-6z"/>
<path fill-rule="evenodd" fill="rgb(37,37,37)" d="M52 16l2-2 4 0 6 1 6 3 7 6 4 6-5 7-6 5-6 3-12 2-4-17 1-8zM174 18l6 1 6 3 6 6 1 2-7 8-6 3-6 1-2-3-2-9 1-8zM111 52l3-3 12 3 6 5 5 7-5 6-6 4-14 6-2-2-1-15 0-5zM234 54l6 1 5 3 3 2 1 4-5 6-10 3-2-3-1-10zM47 72l1-1 22 8 18 13 2 1 6-1 10-5 2 9 3 6 5 4 14 4 18 13 2 1 6-1 10-5 1 2 1 10 3 6 5 2 14 6 12 9 6 2 7-1 5-3 2-3 1-6-1-12 1-6 3-12 2-3 18 5 6 4 12 12-14 13-16 7-3 4-1 2 0 6 1 4 2 2 17 8 14 11 4 1 6-1 5-3 2-4 0-6-1-14 4-18 2-3 21 9 8 6 6 8-11 14-18 9-4 4-1 3 0 6 3 6 4 3 10 4 6 4 4 5 8 8-8 10-8 6-14 6-4 2-2 4-4 10-1 2-1 0-10-2-6 1-15 12-16 7-5 2-2 4-4 9-8-3-6 1-4 2-14 11-16 6-4 4-2 2-2 6 2 6 4 4 18 8 4 4 7 9-6 9-9 5-6 3-12 2-4-16 0-6 2-12 0-4-4-6-8-6-6-1-4 1-12 10-6 3-18 5-3-20 2-16 0-6 2-2 5 4 16 6 14 11 6 1 4-1 6-5 2-4 0-4-2-14 0-16 0-5-3-3-7-4-6 0-14 10-16 6-5 2-2 4-1 2 0 8-8-8 4-6 1-6-2-20 1-18-3-6-9-6-6 1-12 8-6 3-14 4-2-2-3-12-1-6 3-18 3-2 14 4 6 4 12 8 4 1 5-2 7-6 1-3-2-18 2-16-1-6-3-2-3-3-6-2-6 3-12 8-22 7-4-23 3-18 0-6 1-1 6 4 16 5 15 11 3 0 6-1 6-5 1-3-1-22 3-14-2-6-5-5-2-1-6 0-18 13-19 7-4 4-2 6-3 1-1-1 5-13-3-21zM148 135l-16 12-15 7-3 2-2 6 1 4 2 2 15 7 12 9 6 2 2 0 5-2 3-4 2-2-1-16 2-18-1-5-4-3-2-1zM204 170l-12 9-14 8-4 5 0 4 1 2 2 4 15 7 12 8 4 1 6-3 3-5 0-18 1-12-1-6-3-2-4-2zM264 204l-14 11-11 5-4 2-1 4-1 6 1 2 3 4 12 6 15 12 6 1 5-1 4-4 3-6-2-18 1-14-1-6-5-4-5-1zM144 206l-12 8-18 8-2 4 0 2 1 6 4 4 13 4 12 9 6 2 6-2 3-5 1-2-1-16 1-14-2-4-2-3-6-2zM204 240l-12 8-15 8-3 2 0 6 1 4 3 2 14 8 12 10 6 2 4 0 5-4 2-6-3-16 0-18-1-2-4-4-5-1zM170 84l2-2 12 2 5 4 8 8-9 10-4 2-10 4-5 2-1 2 0-2 1-2 0-4-2-12zM293 88l5-1 6 3 3 4 1 2-5 6-9 4-2-1-2-9 1-6zM-2 120l2 0 6 2 6 4 3 4-9 7-6 1-2 0-3-8 0-4zM-2 186l8 2 4 2 4 6-8 7-6 1-2 0-3-8 1-6 2-3zM287 276l1-1 4 0 12 4 18 13 6 0 12-4 2 0 4 10 3 2 17 8 12 8 6 3 6-1 5-2 3-4 2-6-1-12 1-6 4-12 2-1 12 2 6 2 6 5 4 4 5 6-2 4-11 10-14 8-4 4 0 4 1 6 3 4 14 8 6 4 10 9 12 5-12 7-16 13-14 7-4 5 0 8 4 5 14 8 5 5 7 8-3 6-6 6-9 6-14 3-3-3-4-12 0-20-2-4-3-3-6-2-4 0-6 2-12 9-15 6-3 4-1 2-1 6 0 4 2 3 4 3 14 7 10 11-7 8-9 6-12 2-1-2-4-12 1-14-1-6-3-4-10-6-6-2-2 1-4 1-14 10-10 3-6 0-1-1-3-6-2-8 2-24 2-2 6 3 12 4 6 4 8 7 4 1 2 0 6-2 4-3 3-6-2-16 0-18-1-2-4-4-6-2-2 1-16 10-18 7-4 2-4 7-3-4 3-11-3-22 3-20-5-12 7-9 1 3 0 6 5 6 5 2 13 5 16 10 6 0 6-4 1-5 0-14 2-18-1-4-2-5-4-2-6-2-6 2-12 10-17 7-4 2-1-2 0-6-2-16 0-6zM382 338l-12 9-16 7-2 4-1 2 1 4 2 3 12 6 12 9 6 3 6-2 4-5 1-6-1-12 1-14-2-4-3-3-6-2zM56 282l10 3 6 3 6 6-6 6-6 4-6 2-6 1-2-7-1-6 3-11zM-6 312l6 0 10 3 6 5 7 8-7 8-6 4-6 3-10 1-1-2-3-6-1-8 2-10zM52 348l2-2 12 3 6 4 7 7-9 11-6 3-10 2-2-4-2-8 0-6zM109 376l3-1 12 3 6 3 4 3 8 10-7 8-5 5-22 9-3-22 1-6zM-6 382l4-2 8 2 6 4 8 8-5 6-5 4-10 3-2 0-4-1-2-6-1-6 1-6zM47 406l1-3 22 7 6 4 8 8 6 4 6 0 6-3 2 3-1 4-1 0-6-3-6 1-6 4-8 8-6 4-16 5-6 3-1-2-3-24zM108 438l6 4 16 5 6 5 5 8-3 6-8 7-6 3-12 4-3-2-4-16zM48 468l7 4 15 4 6 4 8 9 6 3-14 14-6 4-10 3-9 1-4-6-3-12 0-10 3-14zM114 514l6 1 7 2 3 3 4 6-2 3-6 6-6 2-6 1-1-4-3-8 2-10z"/>
<path fill-rule="evenodd" fill="rgb(40,40,40)" d="M54 16l6-1 10 4 6 5 4 6-5 6-5 5-6 3-10 2-2-2-3-14 1-8zM173 22l1-2 4 0 6 1 4 3 3 4 1 2-5 6-3 2-10 3-2-5-1-6zM113 52l1-2 6 1 6 2 6 5 4 6-5 6-5 3-12 4-2-1-2-12 0-6zM234 58l0-2 6 0 6 4 1 4-2 2-4 4-7 0-2-7zM48 76l0-2 4 0 18 5 6 4 8 8 6 3 4 0 8-3 4 1 2 8 4 4 20 9 16 11 6 1 12-5 1 10 3 6 4 2 16 7 12 9 6 2 2 0 6-2 5-4 2-2 1-6-1-15 4-15 1-2 12 2 6 3 6 4 10 11-12 12-18 8-3 6 0 6 3 6 2 2 16 7 12 9 6 3 2 0 6-2 4-3 2-4 0-6-1-14 5-19 14 4 6 3 8 6 6 8-10 13-6 3-12 5-4 3-2 6 0 6 2 6 4 3 12 5 6 4 11 12-11 13-6 4-14 5-4 2-1 4-3 8-2 3-10-2-6 1-14 12-19 8-4 2-5 10-2 0-10-1-6 3-14 12-18 6-4 4-2 2-2 10-2 0-6-4-5-2 5-3 4-3 3-6 0-6-3-12 1-18-1-4-2-2-8-5-6 1-14 9-18 7-8 6-2 4 0-2 2-12-3-20 2-18-3-7-6-4-6-2-6 2-10 7-8 4-12 2-2-2-3-10 0-6 1-8 2-10 2-1 12 3 6 3 14 10 6 0 4-1 5-4 3-6-2-18 2-16-1-6-2-2-5-5-6-1-6 3-12 9-18 5-3-3-4-14 0-6 3-20 22 7 14 11 4 0 6-1 6-4 2-5-1-18 2-18-1-6-2-5-4-2-6-1-6 3-8 8-6 4-15 5-7 3-1-3-3-22 0-6zM148 134l-16 12-17 8-3 2-1 7 1 3 2 3 16 7 12 8 6 3 2-1 6-2 3-4 1-2 0-18 2-16-2-6-4-3-2-1zM201 171l-9 8-15 7-3 4-1 6 1 3 4 3 12 6 12 8 6 3 6-3 3-2 1-4-1-14 2-18-3-5-6-4-2 0zM264 203l-12 9-14 8-4 2-1 4-1 6 1 2 3 4 14 7 14 12 6 1 8-2 3-4 2-3 0-5-2-16 1-14-2-6-4-4-6-2zM148 204l-6 3-12 8-16 6-2 4-1 3 1 6 3 4 15 5 12 9 6 2 4-2 4-2 3-6-2-16 2-12-1-6-4-4zM202 240l-10 7-17 9-2 2 0 6 1 4 2 2 16 9 12 10 6 2 4 0 2-1 4-3 1-5 0-6-2-14 0-16-3-4-6-4-2 0zM171 84l3-1 10 2 7 5 4 6-9 10-14 6-2-4-2-12 1-6zM293 90l1-1 6 1 5 4 1 3-2 3-4 2-6 2-1-2-1-3 0-5zM-2 124l2-2 6 1 4 3 2 4-6 5-6 1-1 0-2-4 0-6zM-2 190l2-2 6 2 6 6-6 5-6 1-1 0-2-4 0-6zM288 276l4 0 12 4 18 13 6 1 12-5 2 3 3 6 3 3 18 7 12 9 6 3 7-2 5-2 3-4 1-6-1-12 1-6 6-12 14 3 7 3 6 6 5 6-2 4-10 9-15 9-3 2-1 6 1 6 4 5 18 9 12 11 8 5-8 6-12 11-6 4-10 3-4 4-2 2-1 10 3 6 16 8 6 6 5 6-3 6-6 6-8 5-14 3-2-2-4-12-1-6 1-12 0-3-4-4-2-3-7-2-3 0-6 3-12 8-17 7-3 6-1 10 3 5 18 9 9 10-2 2-5 6-8 5-8 2-4-1-3-6-1-6 1-14-1-6-4-6-10-5-6-2-2 1-4 1-14 10-6 2-10 1-3-6-2-8 0-6 3-16 2-1 16 5 6 4 8 7 4 1 2 1 6-3 6-4 1-6-2-18 1-16-1-2-3-4-4-2-4 0-6 2-12 8-14 5-6 3-4 2-2-2 0-10-3-14 1-6 2-18-2-12 2-2 3 4 5 5 18 7 16 9 6 1 6-4 2-6-1-14 3-18-1-6-3-5-4-2-6-1-6 2-12 10-20 8-4-22 2-8zM384 336l-6 3-12 9-12 5-2 3-1 4 1 5 2 3 12 6 15 10 3 1 6-1 3-2 2-4 1-2-2-16 2-14-3-6-5-4zM55 286l3-2 7 2 5 2 6 6-6 6-4 3-8 2-3-1-2-6 0-6zM108 306l18 7 6 4 10 8 2 2 5 1-5 1-2 2-10 8-6 3-14 5-2-1-1-3-3-12 0-7 2-12zM-7 316l1-3 6 0 6 2 7 3 8 10-5 7-6 4-6 3-10 1-2-6-2-7 0-6zM165 336l1-2 0 2 0 2zM167 340l1-1 6 3 10 3 5 3 7 6 4 6-7 10-7 5-6 2-8 2-4-1-3-12-1-6zM54 348l4 0 8 2 6 4 6 6-5 6-7 5-12 3-2-7-1-7 1-6zM109 378l3-2 14 4 7 4 8 9-4 7-7 6-6 3-12 4-2-1-4-16 0-6zM-3 382l7 0 5 2 9 10-4 6-4 3-10 3-2 0-4-2-1-4-1-6 2-10zM48 406l4-1 18 6 6 4 8 9 6 2-14 13-6 4-21 7-5-24zM111 442l13 3 6 3 5 6 5 6-4 6-6 6-6 3-12 3-2 0-1-4-2-8-1-6 3-16zM48 472l0-1 4 0 18 6 6 4 11 11-11 12-6 5-10 3-8 1-4-5-3-12 0-6zM114 516l0-1 6 1 6 3 4 2 2 5-1 2-2 4-4 2-5 2-2 0-4-1-1-3-1-6z"/>
<path fill-rule="evenodd" fill="rgb(42,42,42)" d="M52 18l2-2 6 0 6 2 9 6 3 6-4 6-4 4-6 3-10 2-2-4-3-11 1-6zM174 22l4-1 6 2 5 5 1 2-5 6-5 2-6 1-2-9zM114 52l6 0 6 2 5 4 3 6-4 6-4 2-12 4-2-4-2-8 1-6zM234 60l4-2 6 2 1 4-3 2-4 2-3-2zM50 76l2-1 8 2 10 3 6 4 8 8 6 4 6 0 6-3 4 7 6 5 18 7 18 13 6 1 9-2 2 2 2 6 5 6 18 7 12 9 6 3 6-1 4-2 4-4 2-2 1-6-1-16 1-6 3-9 12 2 6 3 7 4 8 10-12 12-15 6-3 2-3 6 0 8 3 4 3 3 16 6 12 10 6 3 2 0 6-2 4-2 2-5 1-3-1-18 4-16 2-1 12 3 6 2 7 6 6 8-4 6-6 6-5 4-12 4-4 3-2 5 0 8 2 6 3 4 13 5 5 3 10 12-7 10-6 4-14 6-6 4-2-2 0-6-2-12 1-18-1-5-2-4-6-4-6 0-4 1-12 10-18 9-2 5 0 6 2 6 16 7 14 13 6 1 4 0 7-3 1-3 1 3-3 8 0 1-10-2-6 2-14 12-21 9-3 2-4 6-2 2-6 0-7 1-17 14-20 7-6 6-2 7-2-2-3-1 5-8 2-8-3-14 1-18-2-6-4-2-6-3-6 0-14 10-18 6-6 4-1-9-3-18 2-18-2-4-4-6-8-4-6 0-18 13-12 2-3-1-3-10-1-6 1-6 4-12 12 3 6 3 14 10 6 1 4-2 6-5 3-6-3-18 2-18-2-6-4-4-5-2-3-1-6 3-12 9-7 2-11 3-2-2-4-14 0-10 3-12 2-2 15 4 6 3 12 10 6 0 6-3 4-2 3-6-2-18 3-18 0-6-4-7-4-2-6 0-6 3-8 8-6 4-22 6-3-22 1-8 2-10zM150 132l-6 3-8 8-6 4-16 7-3 2-1 4 1 6 3 4 16 6 12 9 6 2 4-1 5-2 3-4 1-6-1-12 3-14 0-6-4-6-3-2zM208 168l-6 2-12 10-14 6-2 4-1 6 1 5 4 2 12 5 12 9 6 2 7-3 3-2 1-4-1-14 2-16-1-6-2-2-5-4zM144 204l-14 10-16 6-2 3-2 5 1 6 3 4 16 6 12 8 6 2 6-2 3-2 2-4 0-6-1-12 1-14-2-6-3-3-6-1zM208 237l-6 3-12 8-11 4-5 3-1 3-1 6 3 6 15 8 14 12 4 2 6 1 2-1 4-2 2-8-2-18 0-17-1-3-3-4-6-2zM174 84l6 1 6 2 4 3 4 6-8 8-12 5-2 0-3-13 2-8zM294 94l0-3 4 0 4 3 2 2-4 4-6 2-1-6zM-1 126l1-2 4 0 4 2 2 4-4 3-6 1-2-4zM-1 192l1-2 4 0 3 2 3 4-4 3-6 1-2-4zM288 276l16 5 6 4 8 8 5 1-5 3-8 8-6 4-16 4-1-1-1-2-3-16 2-8zM404 280l2-3 2 0 12 3 9 6 8 8-5 6-6 7-16 9-3 2-1 6 1 6 1 4 4 2 12 5 6 4 12 11 5 4-17 17-6 3-12 5-4 3-1 6-1 6 3 6 4 2 11 5 5 5 7 8-1 4-5 6-6 5-6 2-12 2-5-13-1-6 1-12-1-5-6-5-6-3-4 0-6 3-12 9-12 5-6 2-3 6-1 10-2 1-8-6-10-3-6 2-14 11-10 2-6 0-3-7-2-10 3-14 2-3 16 4 14 11 4 1 6 0 2-1 6-6 2-6-2-18 1-16-1-2-2-4-5-2-5-1-6 2-12 8-16 5-8 4-4-28 3-18 0-8 1-2 7 4 17 6 16 10 2 1 6-1 4-4 2-2 1-4-1-14 3-18-1-6-2-3-2-4-5-3 11-3 3 7 5 4 18 7 16 11 6 1 8-5 4-4 1-6-1-14zM382 336l-16 11-10 5-4 2-2 4 0 6 1 2 4 4 11 4 16 11 6 1 6-4 2-4 0-2-1-16 1-14-2-6-4-3-6-2zM57 286l3-1 6 3 8 6-8 8-8 2-3-4-1-6 1-6zM111 310l1-1 14 5 6 4 12 10-12 10-6 3-14 4-3-3-1-6-2-8 3-16zM-6 316l4-2 8 1 6 4 8 9-5 6-5 5-6 2-10 1-3-8-1-6 1-6zM168 342l0-1 18 7 6 4 5 6 2 2-4 6-5 6-6 3-10 2-2 1-3-3-3-9-1-6zM54 352l0-2 4-1 6 1 6 3 6 7-4 6-6 4-5 2-7 1-2-7 0-6zM110 378l2-1 2 1 12 3 6 4 8 9-5 6-5 5-6 3-12 3-2-3-2-6-1-8zM-5 384l3-2 8 2 6 4 5 6-4 6-4 2-5 3-6 0-3-3-2-6 0-6zM49 408l3-2 14 4 8 4 13 12-11 12-6 4-10 4-10 2-1-4-3-8-1-10zM345 442l1-2 1 2 5 2 12 5 7 7 3 4-2 3-6 6-8 4-6 1-4 0-4-12 2-18zM110 444l2-1 12 3 6 3 4 5 5 6-1 2-5 6-9 6-12 3-2-3-3-12 0-6zM49 474l3-2 18 6 6 4 10 10-8 10-8 6-10 3-8 1-5-8-2-8 1-10zM114 520l0-2 4-1 7 3 6 6-1 2-3 4-3 2-6 1-2-1-2-1-1-5z"/>
<path fill-rule="evenodd" fill="rgb(45,45,45)" d="M53 18l1-1 4 0 8 2 8 5 3 7-4 5-4 4-6 2-9 2-2-6-2-8 1-6zM174 24l4-2 6 2 3 4 1 2-2 4-4 2-4 1-3-1-2-6zM114 54l0-1 4-1 6 2 5 3 4 7-7 7-6 2-6 1-1-2-2-8zM237 64l1-3 2 1 1 2-3 1zM49 78l3-2 14 4 6 3 17 13-5 3-8 8-6 4-18 6-3-3-4-18 1-8zM173 88l1-3 10 2 4 3 4 6-6 7-6 3-6 2-2-2-1-6 0-6zM297 94l4 2-3 2-2-2zM101 96l2 0-1 4zM104 102l2-1 5 5 19 6 18 14 6 2 8-2 5 10 4 2 19 8 12 9 6 3 6-1 6-3 3-4 2-2 1-6-2-16 4-13 4-1 6 1 8 4 6 4 7 9-7 7-5 5-14 6-4 2-2 6 1 9 2 3 4 4 16 6 12 10 6 3 2 0 6-2 4-2 3-4 1-5-2-18 5-16 1-1 10 2 8 4 6 5 6 8-6 8-6 5-18 9-3 6-1 8 2 6 3 4 17 7 6 6 6 7-6 8-6 5-20 9-4-22 2-14-1-7-3-4-6-3-6 0-4 1-14 12-16 7-3 6 1 8 3 4 15 8 14 13 6 2 10-1 0 2-10 0-6 2-14 13-6 3-12 4-6 3-3-1 0-6-3-16 1-18-1-2-4-4-6-3-6 0-14 11-13 4-4 4-1 4-1 4 3 6 16 8 14 13 8 3-8 4-14 12-18 7-6 4-2-3 0-6-3-14 1-18-2-6-4-3-6-3-6 0-14 10-22 7-2-3-3-18 1-20-2-6-2-4-6-4-6-1-4 0-18 13-12 2-2-2-3-8-1-6 1-6 3-9 2-1 12 3 6 3 10 8 6 2 6-1 2-2 6-8 1-7-2-14 2-18-1-4-2-4-6-5-6-1-6 3-12 9-6 3-12 2-4-9-2-10 2-8 2-10 2-1 12 3 6 2 12 10 6 2 6-1 7-5 3-6-2-18 3-18zM148 132l-18 14-17 8-3 2-1 6 2 6 3 3 16 6 12 9 6 2 6-2 4-2 3-4 1-6-1-14 3-16-1-6-3-4-6-3zM204 168l-14 11-15 7-2 4-1 6 2 6 4 2 12 5 12 9 6 2 3 0 5-4 3-6-1-14 2-18-2-6-4-4-6-1zM144 203l-14 11-16 6-3 2-2 4 0 6 1 2 2 4 18 7 12 8 6 2 7-3 3-2 2-4 0-6-2-12 2-14-1-4-1-2-4-4-4-1zM1 130l3-3 2 3-2 1zM1 196l3-2 2 2-2 1zM287 280l1-2 4 0 12 4 16 12-10 10-6 4-16 4-1-2-3-16 1-6zM405 280l3-2 12 2 8 6 8 8-4 6-6 6-18 10-2 2-1 6 1 6 2 5 4 2 14 6 19 17-15 16-6 4-12 5-4 3-2 6 0 6 2 6 4 2 8 4 6 4 9 10-5 9-6 5-10 3-8 1-5-14 1-16-2-6-2-2-4-3-6-2-4-1-6 3-12 9-14 6-5 2-2 4-3 8-2 1-13-7 7-3 2-3 3-6 0-6-3-12 1-14-1-7-6-5-6-2-6 2-8 7-6 3-18 6-3-2-5-24 4-25 24 8 16 10 2 1 6-2 5-4 3-6-2-14 4-22-2-6-3-6 5 0 4 6 4 3 16 5 6 3 12 10 6 0 8-4 5-5 1-6-1-14zM382 335l-12 9-16 8-2 2-3 4 0 6 1 2 3 4 17 7 12 9 6 1 6-3 3-6-2-18 2-14-2-6-3-4-4-1zM56 288l2-1 6 1 2 1 6 5-6 6-6 2-2 0-3-8zM110 312l2-2 14 5 6 3 10 10-10 9-6 4-6 2-8 1-4-8-1-8zM-5 316l5-1 10 3 4 4 5 6-5 6-4 4-10 3-2 0-4-1-2-6-1-6 1-6zM169 346l3-3 15 5 5 5 6 7-2 4-5 6-5 3-6 2-8 2-3-5-3-8 0-6zM55 352l3-2 8 3 4 2 5 5-5 6-4 3-8 3-4-2-1-6 0-6zM111 378l9 2 6 2 6 4 6 8-4 6-4 4-6 3-12 3-4-10 0-6 1-6zM-4 384l2 0 6 0 6 3 5 7-1 2-8 7-8 1-3-4-1-6zM50 408l2-1 12 3 6 2 6 5 10 9-10 11-6 5-6 2-12 3-3-3-3-14 0-10zM287 412l1-2 16 4 5 3 7 7 5 2-17 14-10 2-6 0-3-10-1-6zM111 444l1 0 6 1 8 3 4 2 6 6 2 4-1 2-7 8-10 4-8 1-4-9 0-6zM348 444l16 6 4 4 4 6-3 6-5 4-10 3-2 0-4-1-2-6-1-6zM50 474l2-1 12 3 6 3 6 5 8 8-1 4-7 7-6 5-10 3-8 0-4-7-2-9 0-9zM116 520l2-2 2 1 6 3 3 4-1 2-4 4-6 1-4-5 0-5z"/>
<path fill-rule="evenodd" fill="rgb(47,47,47)" d="M55 18l5 0 6 2 4 2 5 5 1 3-6 8-6 3-10 1-2-6-1-6 1-6zM177 24l3 0 5 4 1 2-2 4-6 2-3-2 0-6zM115 55l3-1 6 1 6 5 2 4-6 5-6 3-6 1-1-9 1-6zM50 78l2-1 2 0 10 2 6 3 6 4 10 10-16 15-6 2-12 3-2-2-1-2-3-16 1-8zM174 88l4-1 6 1 5 6 2 2-5 6-2 2-10 3-2-5-1-6zM106 106l2-1 22 8 14 12 6 4 6 0 4-1 2 1 2 3-2 3-2-4-4-1-6 0-2 1-18 15-14 4-4 3-4 7 1 6 1 2 4 4 16 6 12 8 6 3 2 0 6-3 4-2 2-6-1-16 3-18-1-8 3-1 6 5 18 6 14 12 4 1 6-1 8-4 4-6 0-6-1-16 3-11 4-2 8 2 6 2 8 7 4 6-6 6-5 5-15 6-4 3-2 6 1 10 2 2 3 4 17 6 15 13 4 1 6-1 6-2 4-5 1-6-2-12 0-6 3-12 2-4 10 2 8 4 8 6 3 6-5 7-5 5-15 7-8 5-1 10 1 8 8 6 8 3 7 3 6 6 4 6-5 7-6 6-6 3-12 3-1-1-4-14 0-6 2-12-1-6-4-6-6-3-6 0-4 1-14 12-16 8-3 2-1 4 0 6 2 4 2 3 16 8 12 11 7 4-7 3-10 9-6 4-14 5-6 3-5-22 1-18-2-4-4-3-6-3-6 0-14 11-14 5-4 4-1 2-1 6 3 6 4 4 13 5 14 13 4 2-4 3-14 13-24 9-1-7-3-14 1-18-2-6-5-4-6-3-6 0-18 12-18 5-1-2-4-18 0-6 2-12 0-6-4-6-5-3-3-3 7-5 4-7 0-6-2-14 2-18-2-6-2-4-6-4-6-1-6 3-10 7-6 4-14 3-3-8-2-6 0-6 5-16 12 3 6 2 12 10 6 3 6-1 8-7 3-6-2-22zM142 204l-12 9-17 7-4 2-1 4 0 6 1 2 3 4 18 7 12 9 6 2 2 0 6-4 3-2 1-4-1-18 2-14-2-6-5-4-6-2zM204 167l-14 11-16 8-2 4-1 6 2 6 4 2 13 6 12 9 6 2 6-2 3-3 3-3 0-5-1-12 2-18-1-6-4-4-6-2zM53 214l1-1 12 3 18 12-16 12-8 3-6 0-2-3-2-2-1-9 1-9zM288 280l0-1 4 0 12 3 4 4 10 8-9 10-5 3-6 2-10 2-3-11 0-6 0-6zM406 280l2-2 6 1 9 3 7 6 5 6-9 11-6 4-9 3-4 4-2 2-1 6 1 6 3 6 18 8 6 4 12 12-11 12-7 6-14 6-4 2-2 4-1 4 0 6 2 6 3 2 10 5 7 5 7 8-1 4-7 7-6 4-12 2-2-1-4-12 1-16-2-6-2-2-4-4-5-1-6-1-6 2-12 10-18 6-5 6-3 8-4-2-5-4 5-5 4-7-3-18 1-18-2-4-6-5-6-2-6 3-8 6-6 4-19 4-2-2-4-18 1-10 3-14 3-3 20 6 16 11 2 0 6-1 6-5 2-6-1-14 3-18 0-13 7 7 19 6 16 11 6 1 8-4 4-2 2-4 1-6-1-14 1-6zM385 333l-7 3-12 10-13 6-3 2-2 6 2 6 2 4 14 6 12 9 6 3 4 0 6-3 2-3 1-4-1-18 2-14-2-6-2-3-6-3zM60 288l4 1 2 2 4 3-4 4-6 3-2-2-1-5 1-4zM111 312l1 0 2 0 12 3 5 3 9 10-8 8-6 4-8 3-6 0-4-9 0-6zM-6 318l3-2 9 1 6 4 5 7-4 6-3 3-6 2-6 1-4-3-2-7 0-6zM170 346l2-2 12 4 6 3 3 3 4 6-4 6-3 4-10 5-8 1-1 0-4-10 0-6zM57 352l3 0 6 2 7 6-2 4-5 4-8 2-3-3-1-7 1-6zM111 382l3-3 12 4 6 4 5 7-1 2-6 6-4 4-12 3-2-1-3-8-1-6zM-4 388l2-3 6 0 6 3 4 6-2 2-6 5-6 2-2-1-3-8zM51 408l9 2 10 3 5 5 9 8-7 10-7 5-6 2-12 3-2-2-3-8-1-10 2-8zM288 412l6 0 10 3 15 11-10 10-5 3-6 2-7 1-3-4-3-8 0-6zM111 448l1-2 2-1 12 4 9 7 2 4-1 2-6 6-4 4-12 3-2-2-3-7-1-6zM348 448l0-2 4 0 12 5 3 3 4 6-1 2-4 5-6 4-6 1-4 0-2-4-2-6 0-6zM51 474l9 2 10 3 5 5 8 8-1 4-5 6-7 5-10 3-8 0-4-8-2-10 2-8zM116 522l2-2 6 2 3 4-1 2-4 4-4 0-2-4z"/>
<path fill-rule="evenodd" fill="rgb(50,50,50)" d="M54 22l4-3 8 2 5 3 4 7-5 5-4 3-8 2-4 0-2-11zM177 28l3-1 2 1 2 2-3 3-3 1zM115 58l3-3 6 1 5 4 1 4-6 6-6 2-3-2-1-4 0-6zM51 78l1 0 9 1 9 3 6 6 9 8-10 10-5 4-6 2-12 3-4-9-2-10 2-8zM174 90l0-1 3-1 3 0 6 4 3 4-5 7-10 2-1-9zM107 108l1-2 22 7 19 17-5 2-10 10-4 3-18 8-4 3-1 4 1 6 1 2 3 4 18 6 14 11 4 1 6-2 6-4 2-4 1-6-1-14 3-16 1-7 8 5 12 3 6 4 10 8 6 2 6 0 12-6-1 3 0 6 3 7 4 3 18 7 14 12 6 2 12-4 0 13-8-4-6 0-4 1-14 13-17 8-3 6 0 6 2 6 3 2 15 7 12 11 4 4-20 15-20 7-5-20 1-18-2-5-5-3-5-2-6 0-14 11-15 5-4 4-1 6 0 6 2 2 4 4 14 6 16 14-16 15-6 3-16 5-1-1-4-18 1-16-1-6-3-5-6-3-6-2-4 0-18 12-18 5-4-19 0-6 2-12 0-6-3-6-7-6 6-7 2-5 0-6-2-14 2-16 0-6-2-4-2-3-4-3-4-2 9-6 4-6 0-6-2-12 0-6zM148 201l-6 3-12 9-19 7-3 2-2 6 1 6 5 5 18 7 12 9 6 2 5-1 4-4 3-2 1-6-2-16 2-18-2-2-3-4-6-2zM208 165l-6 3-12 10-16 7-3 5-1 6 2 6 4 2 14 6 12 9 6 3 6-3 4-3 2-2 1-6-2-12 3-18-2-6-3-4-3-2zM230 114l2 0 6 1 8 3 6 5 5 7-5 6-6 4-14 7-4 2-1-1-2-18 2-10zM51 148l1-2 2-1 12 3 6 4 10 8 4 2-4 3-10 8-6 3-12 3-2-1-4-10 0-6 0-6zM287 148l1-3 4 1 12 3 6 5 6 8-4 6-6 6-18 7-2-1-3-18 1-6zM285 208l1-1 0 1 0 2zM286 210l2-1 16 6 6 5 7 8-5 6-6 6-6 3-12 3-2-2-2-12 0-6zM52 216l2-2 12 2 6 4 10 8-11 10-5 2-6 2-6 1-2-5-2-6 0-6zM290 280l8 1 6 2 3 3 10 8-7 8-6 4-12 4-4-1-3-15 3-14zM408 280l10 1 6 2 5 5 5 6-4 6-7 6-14 6-3 4-2 2 0 6 1 6 3 6 18 9 5 3 12 12-11 12-6 5-18 8-2 3-2 6 0 6 2 6 3 2 11 6 6 4 7 8-1 4-5 6-7 4-8 2-4 1-1-1-3-6-2-6 1-16-1-6-2-2-4-4-6-2-6-1-6 3-12 9-18 7-4 2-2 4-2 6-4-1-2-3 4-6 2-6-3-18 2-18-3-5-3-3-5-3-6 0-16 11-6 2-14 4-2-2-4-19 0-9 4-14 2-2 18 5 6 3 12 8 2 1 6-1 6-5 2-3 0-22 3-14 0-6 1-3 6 4 12 3 6 3 16 11 2 1 6-1 8-4 5-5 0-7-1-8 0-6 3-10zM384 333l-6 2-12 10-14 7-3 2-1 6 1 6 2 3 15 7 12 10 6 3 6-2 5-3 2-2 1-6-2-16 2-14-1-6-2-4-5-2zM59 292l1-1 4 0 3 3-3 4-4 1-1-1-1-4zM111 316l1-3 2 0 10 2 6 3 9 10-7 7-6 4-12 3-2-1-3-11 0-6zM-5 318l3-1 8 1 5 4 5 6-4 5-4 3-4 2-6 1-3-3-2-6 0-6zM171 346l9 1 6 3 6 4 4 6-4 7-6 4-6 3-9 1-3-9-1-6 1-6zM56 354l2-1 6 1 5 4 2 2-1 4-4 3-2 1-6 1-2-3-1-6zM113 382l1-2 10 2 6 4 4 4 2 4-1 2-5 6-6 4-6 1-4 1-2-3-3-11 1-6zM-2 387l2-1 6 2 6 6-1 2-4 4-7 2-2-2-2-4 0-2zM50 412l2-3 2 0 12 3 9 6 8 8-7 10-6 4-6 3-12 2-4-9-1-10 1-6zM288 414l0-1 4-1 8 2 7 4 10 8-7 8-6 4-6 2-6 1-4-3-2-8 0-7zM112 448l2-2 10 2 4 2 4 5 4 5-1 2-5 6-6 4-6 1-4 1-2-2-2-6-1-6 1-6zM350 448l11 2 4 4 5 6-4 6-6 4-8 1-4-3-1-6 0-6 1-7zM50 478l1-2 3 0 10 1 6 3 6 5 6 7-1 4-9 8-6 4-8 2-4 0-2-1-4-7-1-10 1-6zM120 522l5 4-1 2-4 2-2-2-1-2z"/>
<path fill-rule="evenodd" fill="rgb(54,54,54)" d="M55 22l3-2 8 2 4 2 3 4 1 2-4 6-4 2-8 2-4-2-1-4 0-6zM116 58l2-2 6 1 3 3 1 4-4 4-6 2-3-4 0-2zM50 82l2-3 8 1 6 1 10 6 8 9-9 10-5 3-10 4-8 1-4-12-1-6 0-6zM176 90l2-1 4 1 4 4 2 2-3 4-4 2-3 1-2-1-2-6zM107 108l1-1 22 7 4 4 13 12-17 14-18 8-5 4-1 4 0 6 5 6 19 7 14 11 4 0 6-1 6-4 3-5 1-6-1-8 0-10 3-14 2-2 18 6 6 4 10 8 6 2 6 0 8-4 1 0 2 10 2 2 3 4 20 7 12 11 6 4 6 0 6-2 1 4-1 3-6-2-4 0-6 1-14 13-18 9-3 6 0 6 3 6 2 3 16 7 14 14-12 10-6 5-18 5-2-2-4-16 0-19-2-5-4-2-6-3-6 0-15 11-15 6-3 4-2 6 1 6 1 2 3 4 15 6 16 14-15 15-6 3-16 4-1-4-4-14 1-18 0-4-2-2-6-6-6-2-6 0-18 12-14 4-4 0-3-14-1-6 2-15 0-7 2-2 5 2 13 5 6 3 10 8 6 2 6-2 4-4 3-2 1-6-2-16 1-18-1-2-3-4-7-3-6 0-14 11-20 8-3 2-2 4-1 6-2 0-3-4 4-6 2-6-2-20 2-18-1-6-2-3-6-7 6-6 4-6 0-6-2-12 0-6zM204 165l-14 12-16 7-2 2-2 4 0 6 1 6 3 2 16 7 12 9 6 2 7-2 4-4 2-2 0-4-1-18 3-14-2-6-5-5-6-3zM229 118l2-3 13 2 6 4 6 9-5 6-5 4-18 7-2-17 1-6zM52 148l2-2 12 3 6 4 12 9-12 10-6 3-8 3-5 0-3-6-2-10 1-6zM288 148l0-1 4-1 12 4 6 4 6 8-5 6-5 5-6 3-12 4-1-2-3-16 1-6zM288 210l12 4 6 4 6 4 4 6-4 6-8 6-6 3-10 2-2-8-2-9 2-14zM53 216l1-1 6 0 6 2 6 4 8 7-8 8-6 4-6 1-6 1-2-6-2-8 1-6zM105 234l1-1 0 4zM288 282l4-2 8 3 6 3 9 8-5 7-6 4-12 4-3-3-3-8 0-6zM406 282l2-2 6 1 6 1 6 4 7 8-4 6-6 5-15 7-4 4-1 8 2 10 3 3 16 6 6 4 12 13-12 14-6 4-16 6-2 4-2 2-1 10 1 6 5 3 15 7 4 4 4 6-3 6-5 6-6 2-10 2-2-4-3-8 1-16 0-6-6-6-10-4-7 1-15 12-19 7-5 3-2-1 1-8-3-16 1-18 0-2-3-4-2-3-6-3-6 0-16 11-6 2-14 4-5-13-1-10 1-8 4-12 1-2 14 4 6 3 16 10 6 0 7-3 4-6-1-22 4-21 24 8 16 12 6 1 8-4 6-4 2-4 0-6-1-12 1-6zM382 333l-16 12-15 7-3 2-1 4 0 6 1 3 4 3 14 7 16 12 6 0 2-1 6-4 3-6-2-18 2-18-3-5-6-4-6-1zM112 316l2-2 12 3 6 4 6 7-6 6-5 4-7 3-6 0-2-2-3-9 0-6zM-3 318l1 0 6 0 6 3 5 7-2 2-7 6-8 2-3-4-1-6 0-5zM171 348l1-1 2 0 6 1 6 3 5 3 4 6-1 4-4 4-6 4-10 2-2-1-3-7-1-6zM58 354l6 1 3 3 3 2-2 4-4 3-4 1-3-2-1-6zM114 382l6 0 6 2 5 4 4 6-4 6-5 3-6 3-6 1-1-1-1-4-2-8 2-8zM0 388l6 1 5 5-2 2-5 4-4 0-2-3 0-7zM51 412l3-2 12 3 8 5 8 8-6 9-6 5-10 3-6 1-2-1-4-11-1-6 1-6zM289 414l3-1 12 3 11 10-5 6-6 6-6 2-6 0-4-3-2-8 0-5zM339 424l1-3 0 3 0 1zM114 448l6 0 6 3 4 3 5 5-4 6-5 5-8 3-4 0-1-1-2-6-1-6 2-9zM349 450l3-2 6 2 6 3 5 7-1 2-8 7-8 1-2-2-2-6 0-6zM51 478l3-2 4 1 6 1 6 3 6 4 5 7-1 4-5 6-5 4-6 2-10 1-3-2-3-11 0-10z"/>
<path fill-rule="evenodd" fill="rgb(61,61,61)" d="M56 24l2-1 6 0 2 1 4 3 1 3-2 4-5 2-6 2-3-8zM120 64l0-1 1 1zM52 82l2-2 6 1 10 3 7 6 4 6-5 7-6 5-10 3-7 1-1-2-2-4-2-10 2-8zM179 96l1 0 1 0zM109 112l3-2 14 4 10 6 8 10-9 8-5 5-22 8-3-21 0-6zM231 118l3-1 10 2 6 5 4 6-5 6-4 2-5 3-8 2-2-1-2-12 1-7zM167 144l1-2 18 5 20 15-4 3-12 11-18 8-2 2-2 6 0 6 4 6 18 8 14 11 4 1 6-2 6-4 2-4-1-22 3-14 0-6 2-2 6 4 12 4 6 3 16 15-4 3-12 11-18 8-4 4 0 4 0 8 3 6 19 9 11 13-8 8-7 5-6 3-12 3-1-1-4-16 1-14 0-7-4-5-10-5-6 0-14 12-19 7-2 4-2 6 1 6 1 2 2 4 3 1 16 7 12 12-12 13-6 3-12 3-4-1-4-14 2-22-4-5-2-3-10-4-6 0-18 12-14 4-3-4-4-12 0-6 3-17 18 5 18 13 6 0 10-5 2-4 1-4-2-18 2-14-1-6-2-4-4-2-6-3-2 0-6 2-10 8-6 3-18 6-1-2-3-20 3-22 1-2 5 2 17 6 14 11 6 1 11-6 2-2 2-6-1-18zM52 150l2-2 12 3 6 4 8 7-8 8-6 4-6 2-6 0-2-5-2-9 0-6zM288 150l4-2 6 1 6 2 6 5 4 6-5 6-5 5-6 3-10 2-2-16 0-6zM217 162l3-1 1 1-1 2zM288 214l4-1 8 3 6 3 4 3 4 6-8 10-8 4-6 1-4-1-3-14zM54 220l0-2 4-1 6 1 6 3 7 7-6 6-4 4-9 2-4-2-2-6 0-6zM291 282l7 1 6 3 8 8-5 6-3 4-6 2-7 0-3-6 0-6 0-6zM408 282l6 0 6 2 6 4 5 6-4 6-3 4-6 3-10 3-2-4-2-12 1-6zM345 306l1 0 18 5 6 3 8 9 6 3 7-1 9-4 2 9 3 6 4 4 11 3 7 3 5 6 8 8-7 10-7 5-6 3-9 4-5 2-4 6-1 10-1 1-10-4-6-1-6 3-12 11-6 2-14 5-3-3-4-14 0-6 1-18-1-4-3-3-8-5-6 1-12 9-6 3-16 4-2-2-4-13-1-6 1-6 4-12 2-1 16 3 18 13 6 0 8-5 4-3 1-3-2-22 2-8zM384 330l-6 3-12 10-13 5-5 3-2 3-1 6 1 6 2 4 4 2 14 6 16 12 6 1 8-3 4-7 0-5-2-16 2-18 0-4-4-4-6-3zM113 318l1-2 10 1 6 4 5 7-5 6-4 2-6 3-6 0-3-9 0-6zM-2 322l2-2 6 2 6 6-2 2-3 4-7 1-2-1-2-4 1-6zM172 352l2-3 10 3 4 2 5 6-2 4-2 2-5 4-10 2-2-2-2-6 0-6zM114 384l4 0 2 0 6 3 7 7-2 2-2 4-5 3-6 1-4 0-1-4-1-6zM52 414l2-2 12 2 6 4 8 8-4 6-6 6-6 3-10 1-2-3-3-9 0-6zM406 414l2-2 10 3 6 3 6 8-3 6-3 4-6 3-10 1-2-4-2-6 0-6zM290 418l2-3 8 2 6 3 6 6-4 6-4 4-6 2-6 0-4-8 0-6zM114 450l4 0 4 0 4 3 4 2 2 5-3 6-5 3-6 1-4 0-1-5-1-5zM351 454l1-2 2 0 6 2 6 6-1 2-3 4-4 1-4 1-2-2-2-6zM52 480l2-2 4 0 6 1 6 3 4 4 5 6-1 4-6 6-6 4-6 1-6 1-3-4-2-8 0-6z"/>
<path fill-rule="evenodd" fill="rgb(67,67,67)" d="M58 28l3-2 3 0 2 2 1 2-3 4-4 0-1 0-1-4zM52 84l2-2 6 0 6 2 6 4 7 8-5 6-4 4-6 3-10 1-3-4-2-10 1-6zM111 112l9 1 10 4 6 5 6 8-8 8-4 4-6 2-12 4-3-4-3-14 1-10zM232 120l2-2 9 2 4 4 4 6-4 6-3 2-10 3-2-1-3-10zM171 144l9 2 6 3 6 4 10 9-13 12-15 7-4 3-3 6-1 6 2 6 2 2 4 3 16 6 14 12 4 1 6-2 6-3 3-5 1-6-2-12 0-6 4-15 1-3 13 4 6 2 6 4 11 12-13 13-6 3-13 4-3 4-2 6 0 8 3 6 4 4 15 6 4 4 7 8-8 8-5 4-8 3-6 1-4 0-4-14 0-6 2-12-2-6-2-2-6-4-6-3-2 0-6 3-12 10-6 3-10 3-5 2-3 6-1 10-3 0-8-6-6 0-6 2-10 7-6 4-12 3-2 0-2-2-3-8-1-6 3-16 3-3 14 5 6 3 10 8 6 2 6-1 8-7 3-7-3-18 2-18-2-5-2-3-6-4-6-1-6 3-10 7-6 4-14 4-4-1-3-18 4-21 17 5 6 3 12 10 6 1 6-3 7-5 3-6-1-20 3-14zM54 150l6 0 6 2 6 4 5 6-5 6-6 4-6 2-6 0-2-6-1-6 1-6zM291 150l1 0 6 1 6 2 4 3 4 6-5 6-3 4-12 3-3-3-2-10 1-6zM290 216l2-1 8 3 6 3 4 5 2 3-4 5-4 4-6 2-6 1-1-1-3-6-1-6 1-6zM56 220l4-1 6 2 8 7-8 8-2 1-6 1-3-4-1-6 0-5zM165 270l1-2 0 2 0 2zM168 274l0-1 6 3 10 4 5 2 3 4 8 8-8 9-6 5-6 2-8 2-3-2-3-10-1-6zM292 286l2-1 6 1 4 2 6 6-5 6-5 3-6 1-2 0-3-10zM408 286l4-2 8 2 4 2 5 6-2 4-7 6-12 3-2-13zM344 310l2-2 2 0 16 4 6 4 8 8 8 4-8 3-12 11-16 6-4 4-2 2-1 6 1 6 2 4 3 2 17 7 12 11 6 3 6 0 4-1 6-5 0 1-1 6-2 2-7-2-6 0-6 4-8 8-6 4-18 5-2-3-4-16 2-20-2-6-4-3-6-3-6-2-6 3-8 7-6 4-16 3-1-1-3-6-2-12 3-12 1-2 2-4 16 4 18 12 6 1 8-5 4-2 2-6-2-16 0-6zM116 318l2 0 6 1 3 3 5 6-6 6-2 2-6 1-4-1-1-8 1-6zM0 324l4 0 4 4-2 3-2 1-4 0-1-4zM391 328l5-2 2 2-1 2zM402 340l0-3 6 4 16 5 7 6 7 9-6 9-6 4-6 3-12 5-6 4-1-2 1-6-3-18 3-14zM174 352l6 0 6 2 3 4 2 2-5 6-6 4-6 0-3-10zM115 388l3-2 6 2 6 6-1 3-5 4-6 1-3-2-1-4 0-6zM54 414l6 0 10 4 8 8-2 4-5 6-5 2-6 2-6 0-2-5-2-9 1-6zM408 414l6 2 6 2 4 2 4 6-3 6-5 4-8 2-4-2-2-10zM294 418l4 0 6 2 5 6-4 6-5 3-6 1-2-2-1-2-1-6 0-2 2-5zM115 454l3-2 6 2 4 2 2 4-1 2-5 5-6 1-3-2-1-4 0-6zM353 456l1-1 6 1 2 4-1 2-3 2-4 0-1-4zM54 480l4 0 8 2 6 4 3 4 2 3-1 3-5 6-5 2-6 2-6 0-1-2-2-6-1-6 1-6z"/>
<path fill-rule="evenodd" fill="rgb(73,73,73)" d="M54 84l4-1 8 3 7 4 4 6-5 6-6 4-6 2-6 1-2-7-1-6 1-6zM111 114l1-1 2 0 12 3 7 4 7 10-8 8-4 4-8 2-8 2-4-8-1-8 1-6zM234 120l4 1 6 2 4 3 1 4-5 6-10 3-2-3-1-6 1-6zM170 148l2-2 8 1 6 3 6 4 8 8-9 10-4 2-19 8-2-20 1-6zM55 154l3-2 8 2 4 2 5 6-5 6-4 2-8 3-4-3-1-4 0-6zM291 154l1-2 2 0 6 1 6 3 4 6-6 8-6 2-6 1-2-5-2-6zM110 178l2-1 14 4 6 3 10 9 5 3-5 2-10 8-6 4-14 4-4-5-2-13 1-10zM227 178l1-2 12 3 6 2 8 5 7 10-11 12-6 3-10 3-6 3-3 5-1 12-2 2-8-6-6 0-6 2-9 8-7 5-14 4-4 2-2-1-3-22 2-14 0-6-3-6-6-5-5-1 5-2 6-4 2 2 1 6 2 6 5 4 14 4 6 4 12 10 6 1 10-4 3-3 2-4 0-6-2-12 0-6zM290 220l2-2 8 1 6 3 4 6-5 6-4 4-7 1-2 0-2-5-2-6zM57 222l3-1 4 1 5 3 2 3-2 4-5 2-4 1-2 0-2-7zM227 244l1-2 4 2 14 6 6 5 5 7-7 8-5 4-7 2-6 1-2-1-2-2-2-10-1-6zM111 246l1-1 2 1 12 3 16 13-16 12-8 3-6-1-4-8-1-6 1-6zM165 252l1 0 0 1zM162 258l1 0-1 4-4 0zM169 280l3-3 14 5 6 5 6 7-6 8-6 4-6 3-8 1-4-5-1-7 0-6zM411 286l3 0 6 2 7 6-3 5-4 3-8 3-3-1-1-3 0-7 1-6zM293 288l1-1 6 1 7 6-6 6-7 2-1-2-1-4 0-4zM347 310l11 1 6 2 6 4 11 11-15 13-6 3-13 4-3 4-2 2 0-2 1-4 0-2-2-16 0-6 5-14zM116 322l2-2 6 1 6 7-2 2-4 4-6 1-2-1-2-6zM404 342l2-1 18 6 6 5 6 8-3 6-7 7-6 3-14 5-3-3-3-14 0-10zM287 346l1-2 4 0 12 3 6 3 8 8 6 2-6 3-8 8-6 4-6 2-10 1-2-6-3-8 1-10zM175 354l3-1 6 2 4 5-2 4-6 3-2 1-3-2-1-6zM335 358l5-3 2 3 0 8-2 1-11-7zM341 370l1-3 2 3-2 2zM343 372l3-1 2 2 12 4 6 3 15 14-11 11-6 4-10 3-8 1-6-17 1-6 2-12zM117 390l1-1 2 0 4 1 3 4-3 4-4 1-2 0-2-5zM54 418l0-2 4-1 9 3 4 2 5 6-2 4-8 7-6 2-6-1-2-6-1-6zM410 418l2-1 5 1 4 2 3 4 2 2-1 4-5 4-6 2-2 0-2 0-2-4-1-6 1-6zM293 420l1 0 4 0 6 3 3 3-2 4-5 3-6 1-2-4-1-4zM117 456l1 0 2-1 4 1 3 4-2 2-5 3-2 0-2-5zM54 484l0-2 4-1 8 3 5 2 4 6-1 4-4 5-7 3-5 1-4-2-2-5 0-6z"/>
<path fill-rule="evenodd" fill="rgb(80,80,80)" d="M54 88l4-3 8 2 5 3 4 6-5 6-4 3-8 2-4-1-2-6 0-7zM114 114l6 1 7 3 7 6 4 6-8 9-6 3-10 2-2 0-3-8-1-6 1-6 2-6 1-2zM235 123l3 0 3 1 4 2 1 4-2 2-4 3-6 1-1-6zM171 148l9 1 6 2 7 5 5 6-6 7-6 5-14 5-2-1-3-16 1-6zM57 154l3 0 6 2 5 4 2 2-7 7-6 2-2 0-2-3-2-3 0-5zM294 154l6 1 3 1 5 6-5 6-9 3-2-2-2-7 2-6zM228 178l12 1 6 3 6 4 7 10-7 9-6 4-18 6-1-1-4-18 1-6zM110 180l2-2 8 2 6 2 6 4 11 10-11 9-6 4-6 2-8 1-4-8-2-8 1-6zM168 208l16 4 6 2 12 12 4 2-4 3-10 9-6 4-18 5-4-15-1-6 1-6zM294 220l3 0 6 2 5 6-5 6-9 3-2-2-2-7 2-7zM59 226l1-2 4 1 3 3-2 4-5 1-1-1-1-4zM215 228l5-2 1 2-1 3zM229 246l3 0 12 4 6 4 6 8-5 6-5 3-6 3-8 2-3-2-2-10-1-6zM111 250l1-2 2-1 10 2 6 3 10 10-10 8-4 3-6 2-6 1-2-3-3-9 0-6zM171 280l1-1 14 5 6 4 5 6-5 6-6 5-6 3-8 0-4-8-1-6zM411 288l3 0 6 2 4 4-2 4-4 3-6 1-2-2-1-6zM294 292l4-2 3 2 3 2-3 4-3 1-4-1zM346 312l2-2 10 1 6 3 6 4 8 10-7 8-5 4-6 3-14 5-4-14-1-6 1-6zM117 324l3-1 4 1 2 4-2 2-4 2-3-2zM405 342l13 3 6 3 6 5 5 7-5 9-6 5-6 3-12 2-5-13 0-6 0-6zM288 346l6-1 10 3 5 4 10 8-9 10-6 4-10 2-6 0-3-10-1-6 1-6zM177 358l1-1 2 0 4 2 1 1-2 3-3 2-2 0-2-5zM345 376l1-2 18 5 7 5 8 10-8 8-5 5-8 3-10 2-2-2-5-14 0-6zM56 418l4-1 6 2 4 2 4 5-2 4-6 5-8 2-3-1-2-10 1-6zM410 420l2-1 2 0 6 3 4 4-1 4-5 3-6 1-3-8zM295 424l3-1 2 1 3 2-2 4-3 1-4-1 0-4zM56 484l4-1 6 2 4 2 3 5-1 3-6 6-8 2-4-3-1-8 1-6z"/>
<path fill-rule="evenodd" fill="rgb(86,86,86)" d="M56 88l2-2 2 1 6 2 6 5 1 2-7 7-8 3-3-4-2-6 1-6zM112 117l2-1 6 0 6 3 7 5 4 6-5 6-6 4-6 2-6 1-3-3-2-8 0-6zM236 126l2 0 2 0 3 4-3 2-2 1-2-3zM171 150l1-1 2 0 10 2 6 3 6 8-5 6-5 4-6 3-8 2-3-9-1-6 1-6zM57 156l3 0 4 0 4 4 2 2-2 4-5 2-5 0-2-6zM294 156l4 0 2 1 4 2 1 3-2 4-5 3-4 0 0-1-2-5zM111 180l3 0 4 0 8 3 6 3 9 10-9 8-6 4-6 2-8 1-4-9-1-6 1-6zM228 180l3-1 13 2 7 5 7 10-6 7-6 5-18 6-3-12-1-6 1-6zM168 210l4 0 14 4 6 4 11 10-11 11-6 4-6 2-12 2-3-13-1-6 0-6zM293 222l1-1 4 1 6 3 1 3-1 4-6 3-4 0 0-1-2-6zM113 250l1-2 4 1 8 2 6 5 5 6-5 6-6 4-6 2-6 0-2-4-2-8 0-6zM230 250l2-3 12 4 6 4 4 7-4 6-6 4-6 2-6 0-4-6-1-6zM171 282l1-1 2 0 10 2 6 4 5 7-4 6-5 4-8 3-4 0-2-1-3-6 0-6zM412 292l2-2 4 1 3 3-2 4-5 2-2-2-1-4zM347 312l1-1 6 1 10 2 5 4 8 10-7 8-6 5-16 4-2-2-3-9-1-6 2-10zM405 346l3-2 12 3 6 4 4 3 4 6-3 6-5 5-8 5-10 2-2-1-4-11-1-6 1-6zM288 348l4-2 11 2 5 4 9 8-7 9-6 3-6 3-6 0-4-1-3-10 0-6zM345 378l1-1 2-1 16 4 5 4 8 10-7 8-6 6-6 2-9 1-3-3-4-12 0-6zM56 420l2-1 2 0 6 2 6 6-2 3-2 2-4 3-6 1-4-6 0-5zM412 424l2-2 5 2 2 2-1 4-6 2-2-3-1-3zM56 486l2-1 2 0 6 2 5 5-1 4-2 2-4 3-6 1-3-6-1-5z"/>
<path fill-rule="evenodd" fill="rgb(92,92,92)" d="M56 90l2-2 6 1 6 4 1 3-2 4-4 2-5 2-2 0-3-8zM114 118l0-1 4 0 6 1 6 4 4 4 1 4-5 6-4 3-6 2-6 1-2-4-2-6 0-6zM173 150l1 0 6 1 6 2 4 3 5 6-9 9-6 3-6 1-3-1-2-12 1-6zM59 160l1-2 4 1 3 3-3 4-4 0-2-4zM295 160l3-2 2 1 2 3-2 4-2 0-3 0-1-4zM230 180l2 0 2 0 10 2 6 4 5 6 2 4-4 6-7 5-6 3-8 2-4-2-2-8-1-6 2-10zM111 184l3-3 12 3 6 4 7 8-7 7-5 4-7 2-5 1-3-2-4-10 0-6zM168 214l4-3 8 1 6 2 8 6 7 8-8 10-7 5-6 2-8 1-4-2-3-12 0-10zM294 226l4-2 3 2 1 2-2 4-2 0-3 0-1-4zM114 250l7 0 5 3 4 3 6 6-10 8-6 3-6 0-2-5-1-6 1-6zM231 250l1-1 2 0 6 2 6 3 4 3 3 5-7 7-2 2-6 2-4 0-2-1-2-4-2-6zM174 282l6 1 5 3 4 2 4 6-4 6-5 4-10 2-2-3-2-5 0-6 2-7zM348 312l10 1 6 2 6 5 5 8-5 8-6 4-6 3-10 1-2-2-2-6-1-8 2-10zM407 346l11 1 6 2 5 6 4 5-6 10-7 4-12 3-2-3-3-8-1-6 2-8 2-4zM290 348l2-1 2 0 10 3 6 4 5 6-5 7-6 5-6 2-6 0-4-3-2-7 1-10zM347 378l1-1 12 3 6 3 8 7 2 4-4 6-6 5-8 4-10 1-1-2-4-8 0-6 0-6zM59 420l5 1 3 3 3 2-2 4-4 3-4 1-3-2-1-6 2-5zM60 486l6 3 3 3-3 5-6 3-3-2-1-6 2-5z"/>
<path fill-rule="evenodd" fill="rgb(99,99,99)" d="M59 90l5 1 4 3 1 2-2 4-7 2-2-1-1-7zM113 120l1-2 10 1 6 5 4 6-4 5-4 2-6 3-6 0-2-4-1-6zM172 154l2-3 10 2 5 3 4 6-7 8-6 3-6 1-2-2-2-6 0-6zM112 184l2-2 4 0 8 3 7 5 4 6-5 6-6 4-6 2-6 1-2-3-3-8 0-6zM229 184l3-3 6 0 6 2 6 4 6 9-4 6-6 4-6 3-9 1-2-2-3-10 0-6zM169 214l3-2 8 1 6 2 7 5 7 8-8 10-6 4-6 2-8 1-3-1-2-6-2-10 1-6zM114 252l4-1 6 1 5 4 5 6-5 6-5 2-6 2-4-1-2-9zM231 252l3-2 8 2 5 4 4 6-5 5-2 3-10 2-2-3-2-5 0-6zM173 286l1-2 10 2 3 2 5 6-5 6-3 3-10 2-1-1-2-6 0-6zM347 316l1-2 4-1 8 2 7 3 7 10-4 6-6 5-6 3-10 1-3-7-1-8 1-6zM291 348l7 1 6 2 4 3 6 6-5 6-5 5-6 2-6 0-4-4-1-9 1-6zM406 348l2-2 6 1 6 2 5 3 3 2 4 6-3 6-9 7-12 3-2-4-3-8 0-6zM348 378l10 1 6 3 6 5 5 7-4 6-7 6-6 2-10 1-2-4-2-5-1-6 1-6zM59 424l1-1 4 0 2 3-1 4-5 1-1-1-1-4zM60 490l4-1 2 3-1 4-5 1-1-1-1-4z"/>
<path fill-rule="evenodd" fill="rgb(105,105,105)" d="M59 94l1-2 4 1 2 4-3 2-3 1-1-4zM114 120l4-1 6 2 4 3 4 6-5 6-3 2-6 1-3-1-3-8zM173 154l1-2 4 0 6 2 3 2 5 6-5 6-3 3-10 2-2-5-1-6zM114 184l0-1 6 0 6 3 5 4 5 6-5 6-5 3-6 2-6 1-2-5-2-7 1-6zM230 184l2-2 2 0 10 2 6 4 5 8-4 6-5 3-6 3-8 2-4-6-2-8 1-6zM170 214l2-2 12 2 6 3 4 5 4 6-4 6-4 5-10 4-8 1-1 0-5-10 0-6 0-6zM117 252l3 1 6 2 6 7-5 6-3 1-6 2-4-3-1-6 0-4 1-4zM233 252l1 0 6 1 5 3 3 2 2 4-6 6-10 3-2-3-1-4 0-6zM174 286l6 0 6 2 3 4 1 2-4 6-6 3-5 0-3-9zM348 316l4-2 6 1 6 2 5 5 4 6-6 8-9 5-10 1-3-8-1-6 1-6zM407 348l1-1 10 1 6 3 3 3 4 6-3 6-3 4-5 2-6 2-6 0-1-2-3-6 0-6 1-6zM290 352l2-2 2-1 6 2 6 3 6 6-5 6-3 4-6 2-6 0-3-6-1-6zM347 382l1-3 4 0 6 1 6 2 5 6 5 6-2 2-5 6-7 5-6 1-6 0-3-8-1-6 1-6z"/>
<path fill-rule="evenodd" fill="rgb(112,112,112)" d="M114 124l3-3 7 1 5 4 2 4-6 6-7 2-3-2-1-4-1-2zM173 156l1-2 6 0 6 3 4 5-6 7-9 2-3-9zM231 184l3-2 6 1 6 3 4 4 4 6-4 6-4 2-8 4-6 1-2-1-2-6-1-6 1-6zM113 186l1-2 10 1 6 5 5 6-5 6-4 2-6 2-6 0-2-5-1-5zM171 214l9 0 6 2 6 5 6 7-6 8-6 5-6 2-8 0-3-3-2-6-1-6 1-6zM116 256l2-2 6 1 2 2 4 5-6 6-6 1-2-1-2-4 0-6zM233 256l1-3 6 1 4 2 4 6-2 2-4 4-4 1-4 0-2-7zM174 288l4-1 6 1 5 6-5 6-6 2-4-1-1-3 0-4zM350 316l4-1 7 1 5 4 4 4 2 3-1 3-7 8-10 3-6-1-2-6-1-6 1-6zM408 348l6 0 6 2 6 4 2 4 2 2-3 6-3 4-10 3-6 0 0-1-3-6-1-6 1-6zM291 352l3-2 6 2 5 2 6 6-5 6-5 4-7 1-2-1-2-4-1-6zM348 382l4-2 6 1 6 2 5 5 4 6-2 2-5 6-2 3-6 2-6 0-4-1-3-6-1-6 2-6z"/>
<path fill-rule="evenodd" fill="rgb(118,118,118)" d="M116 124l2-2 6 1 4 3 1 4-2 2-3 3-6 1-3-4-1-2zM175 157l3-2 5 1 4 4 1 2-4 6-6 2-3-2-1-2 0-6zM233 184l5-1 6 2 2 2 5 5 2 4-2 2-2 4-5 3-6 2-7 1-2-6-1-6 1-6 3-6zM114 186l4-1 6 1 5 4 4 6-4 6-5 2-6 2-4-1-2-9zM170 216l2-2 2 0 10 1 6 5 7 8-4 6-7 6-6 2-8 0-4-8-1-6 1-6zM117 256l3-1 4 2 4 5-4 4-6 2-2-6zM235 256l4 0 5 2 2 4-2 2-6 4-4-2-1-4zM177 288l4 1 3 1 3 4-2 4-5 2-2 1-3-3 0-6zM351 316l7 0 6 2 3 4 4 6-5 7-2 2-6 3-6 0-3 0-3-6 0-6 1-6 1-4zM407 352l1-2 4-1 8 2 5 3 3 4 1 2-1 4-2 2-6 5-6 2-6-1-2-6-1-6zM291 354l3-2 6 1 4 1 5 6-5 7-6 3-4 0-2-2-2-4 0-4zM349 382l5-1 6 1 6 4 4 4 2 4-2 2-6 8-10 3-2 0-4-2-2-5-1-6 1-6z"/>
<path fill-rule="evenodd" fill="rgb(124,124,124)" d="M116 126l2-2 2 0 6 2 1 4-3 3-4 2-2-1-2-4zM177 156l7 2 3 4-3 4-6 2-3-2 0-3 0-3zM116 186l2 0 6 1 6 5 2 4-6 6-2 2-6 1-4-2-2-7 2-6zM231 186l3-2 10 2 4 4 4 6-4 6-4 3-6 2-3 0-3-1-2-4-1-6zM171 216l1-1 2-1 6 1 6 2 6 5 4 6-7 9-3 2-6 3-6 0-2-1-4-7-1-6 1-6zM118 258l2-1 4 1 2 4-2 2-4 1-2-2zM236 258l2-1 2 1 4 4-3 2-3 2-2-2-1-2zM177 292l1-2 2 1 5 3-3 4-4 0-2-4zM349 318l3-2 2 0 8 2 4 3 4 7-1 3-3 3-6 4-9 2-3-3-2-7 1-6zM408 352l4-2 2 0 6 2 4 2 4 6-3 6-7 5-6 1-4-2-1-4-1-6zM292 354l2-1 6 1 4 2 4 4-5 6-5 3-4 0-2-3-1-2 0-6zM351 382l7 0 6 3 3 3 4 6-3 6-8 5-8 1-4-2-1-4-1-10 2-6z"/>
<path fill-rule="evenodd" fill="rgb(131,131,131)" d="M119 126l1 0 3 0 2 4-4 2-1 0-2-2zM177 160l3-1 4 3-3 4-3 0-1-4zM232 186l3-1 3 0 6 2 3 3 4 6-4 6-3 2-6 2-4 0-2-2-3-8zM115 190l3-3 6 1 3 2 4 6-5 6-8 2-3-2-1-4-1-2zM171 216l3-1 6 1 6 2 6 5 3 5-4 6-3 4-8 3-6 1-2-2-3-6-1-6 1-6zM350 318l2-1 6 0 3 1 4 4 5 6-4 6-6 3-8 2-3-3-2-6 0-6zM410 352l2-2 6 1 6 4 3 5-3 7-4 3-6 1-2 0-3-1-1-4-2-6 2-6zM294 354l5 0 5 3 2 3-2 4-4 3-6 0-2-3 0-4zM349 384l3-2 2 0 6 2 4 1 2 3 4 6-1 2-3 4-6 4-8 1-3-3-2-6 0-6z"/>
<path fill-rule="evenodd" fill="rgb(137,137,137)" d="M233 186l1-1 6 1 6 4 4 6-4 6-6 3-6 0-1-1-2-2-1-6 1-6zM116 190l2-2 6 1 4 3 2 4-2 2-4 4-6 1-3-5-1-2zM173 216l5 0 6 1 6 4 3 5 2 2-4 6-5 4-8 3-4 0-2-2-3-5-1-6 1-6zM351 318l3 0 6 1 7 5 2 4-2 2-3 5-4 2-6 1-2 0-2-2-2-3-1-5 1-6zM411 352l3-1 6 2 4 3 2 4-3 6-5 4-6 0-4-4-1-6 1-2 1-4zM294 358l0-2 4 0 4 2 2 2-4 5-2 1-4-1-1-5zM350 384l2-1 6 0 7 5 4 6-3 6-6 3-8 2-3-3-2-6 0-6z"/>
<path fill-rule="evenodd" fill="rgb(143,143,143)" d="M234 186l7 1 4 3 3 2 1 4-1 2-4 4-4 2-6 1-2-3-1-4 0-6zM117 190l5 0 4 2 2 4-2 2-6 3-3 1-2-6zM174 216l6 1 6 2 4 3 4 6-4 6-6 5-10 2-2-3-2-4-1-9 3-6zM352 318l5 1 3 1 4 2 4 6-4 6-4 2-2 1-6 0-3-3-1-4 0-6zM409 354l3-2 6 1 2 1 4 4 2 2-2 4-2 2-4 3-6 1-4-6 0-6zM297 358l5 2-2 3-2 1-2 0-1-4zM350 384l2 0 2 0 5 0 5 3 2 3 3 4-2 2-3 5-6 3-6 0-2-2-2-3-1-5 1-6z"/>
<path fill-rule="evenodd" fill="rgb(150,150,150)" d="M233 190l1-3 6 1 4 2 3 2 1 4-4 6-4 1-6 1-2-6 0-5zM117 192l1-1 2 0 5 1 2 4-3 3-4 1-2-1-1-3zM172 220l2-3 10 1 6 4 3 6-3 6-4 3-6 3-6 0-2-2-3-6 0-6zM350 322l2-2 2-1 6 1 4 2 3 6-1 2-6 5-6 2-2-1-3-6 0-2zM410 354l2-1 2 0 6 2 5 5-2 3-2 3-3 2-6 0-3-5 0-3zM351 384l3 0 6 2 4 2 4 6-4 6-4 2-6 1-2 0-3-3-1-4 0-6z"/>
<path fill-rule="evenodd" fill="rgb(156,156,156)" d="M234 190l0-2 4 0 6 2 3 6-1 2-6 4-6 1-2-7zM120 192l2 0 3 4-5 3-2-3zM172 220l2-3 4 0 6 1 2 2 4 3 3 5-2 4-2 2-5 4-10 1-2-3-2-4 0-6zM351 322l3-2 7 2 5 6-1 2-3 4-4 2-4 0-2-1-3-7zM411 354l3 0 4 0 4 4 2 2-4 6-6 2-2-1-3-7zM350 388l2-3 2 0 6 1 4 2 3 6-1 2-6 5-6 2-2-1-3-6 0-2z"/>
<path fill-rule="evenodd" fill="rgb(163,163,163)" d="M234 190l4-1 2 0 4 2 3 5-2 2-5 4-2 0-4-1-1-5zM173 220l1-2 6 0 5 2 4 2 3 6-4 6-4 4-4 1-6 0-1-1-2-4-1-6 1-6zM352 322l2-2 4 1 2 1 4 2 1 4-1 2-3 4-7 1-2-1-2-6zM414 354l6 3 3 3-3 4-2 2-4 1-2-1-2-6 2-4zM351 388l3-3 6 2 5 3 1 4-1 2-3 4-4 2-4 0-2-1-3-7z"/>
<path fill-rule="evenodd" fill="rgb(169,169,169)" d="M237 190l4 0 3 2 1 4-1 3-6 2-4-1 0-4 0-5zM173 220l1-2 6 0 4 2 4 2 4 6-4 6-8 4-6 0-2-4-2-6 2-5zM354 322l4-1 2 2 4 5-1 2-5 4-4 0-3-4 0-6zM412 358l2-2 6 2 2 2-2 4-6 2-3-2zM352 388l2-2 6 2 4 2 2 4-2 2-3 4-3 1-4 0-2-1-2-6z"/>
<path fill-rule="evenodd" fill="rgb(175,175,175)" d="M235 192l2-2 3 1 3 1 1 4-2 2-4 2-3-2-1-1zM174 220l6-1 7 3 4 6-5 7-6 3-6 0-2-6-1-4 1-4zM352 324l2-2 4 0 4 2 2 4-4 4-2 1-4 1-2-4-1-2zM413 358l1-1 4 1 2 2-1 4-5 1-1-1-1-4zM353 388l1-1 5 1 5 3 1 3-1 2-4 3-6 2-2-3-2-4 2-5z"/>
<path fill-rule="evenodd" fill="rgb(182,182,182)" d="M236 192l2 0 2 0 3 4-2 2-3 1-2-3zM175 220l5-1 4 1 5 6 1 2-1 4-5 4-8 2-2-1-1-3-1-3 0-5zM353 324l1-1 4 0 2 1 2 4-1 2-3 2-4 0-1-2-1-2zM414 360l0-1 4 0 1 1-1 2-4 2zM352 390l2-2 4 0 4 2 2 4-1 2-3 3-2 1-4 0-3-4z"/>
<path fill-rule="evenodd" fill="rgb(188,188,188)" d="M237 196l1-2 2 0 1 2-1 0-2 1zM173 222l1-2 4 0 6 1 2 2 4 5-4 6-2 2-6 1-4-1-2-4 0-4zM354 324l4 0 2 2 1 2-2 2-1 1-4 0-1-3zM353 390l1-1 4 0 2 1 3 4-1 2-4 3-4 0-2-3 0-2z"/>
<path fill-rule="evenodd" fill="rgb(194,194,194)" d="M174 222l4-2 6 1 2 3 3 4-1 4-3 2-5 2-2 1-4-2-2-7zM354 328l4-2 2 2-2 2zM354 390l4-1 2 1 2 4-1 2-3 2-4 0-1-4z"/>
<path fill-rule="evenodd" fill="rgb(201,201,201)" d="M174 222l4-1 2 0 4 1 3 4 2 2-2 4-3 2-4 2-2 0-4-1-1-7zM355 390l3 0 2 3 1 1-2 2-1 1-4-1 0-2z"/>
<path fill-rule="evenodd" fill="rgb(207,207,207)" d="M175 222l3-1 6 1 3 4 1 2-1 4-3 2-4 2-2 0-3-2-2-6zM355 394l3-2 1 2-1 2z"/>
<path fill-rule="evenodd" fill="rgb(214,214,214)" d="M176 222l2 0 2 0 4 1 2 3 2 2-2 3-2 3-6 1-4-2 0-5 0-2z"/>
<path fill-rule="evenodd" fill="rgb(220,220,220)" d="M177 222l3 0 4 2 3 4-2 4-5 3-2 0-3-3-1-6z"/>
<path fill-rule="evenodd" fill="rgb(226,226,226)" d="M175 226l3-3 2 0 5 3 1 2-2 5-4 1-2 0-3-2-1-4z"/>
<path fill-rule="evenodd" fill="rgb(233,233,233)" d="M176 226l2-3 2 0 4 3 2 2-2 4-4 1-2 0-2-1-1-4z"/>
<path fill-rule="evenodd" fill="rgb(239,239,239)" d="M176 226l2-2 2 0 3 2 2 2-2 4-3 1-2 0-2-5z"/>
<path fill-rule="evenodd" fill="rgb(245,245,245)" d="M177 226l3-1 4 3-2 4-4 0-2-4z"/>
<path fill-rule="evenodd" fill="rgb(252,252,252)" d="M180 226l1 0 3 2-4 3-2-1-1-2 1-1z"/>
</g></g></g>
<clipPath id="ca"><rect x="87.6" y="2.2" width="237.6" height="262.0"/></clipPath>
<g clip-path="url(#ca)">
<path d="M87.90,106.00 C88.72,106.23 91.02,107.05 92.80,107.40 C94.58,107.75 96.67,108.23 98.60,108.10 C100.53,107.97 102.62,107.60 104.40,106.60 C106.18,105.60 107.67,103.82 109.30,102.10 C110.93,100.38 112.90,97.50 114.20,96.30 C115.50,95.10 116.13,94.90 117.10,94.90 C118.07,94.90 118.70,95.33 120.00,96.30 C121.30,97.27 123.28,99.42 124.90,100.70 C126.52,101.98 127.92,103.28 129.70,104.00 C131.48,104.72 133.65,104.77 135.60,105.00 C137.55,105.23 139.13,105.07 141.40,105.40 C143.67,105.73 146.77,106.65 149.20,107.00 C151.63,107.35 153.90,107.67 156.00,107.50 C158.10,107.33 160.18,107.07 161.80,106.00 C163.42,104.93 164.23,103.37 165.70,101.10 C167.17,98.83 169.13,94.92 170.60,92.40 C172.07,89.88 173.53,87.23 174.50,86.00 C175.47,84.77 175.60,84.92 176.40,85.00 C177.20,85.08 178.17,85.12 179.30,86.50 C180.43,87.88 181.90,91.45 183.20,93.30 C184.50,95.15 185.63,96.72 187.10,97.60 C188.57,98.48 190.05,98.67 192.00,98.60 C193.95,98.53 197.02,97.10 198.80,97.20 C200.58,97.30 201.53,98.67 202.70,99.20 C203.87,99.73 204.47,99.60 205.80,100.40 C207.13,101.20 209.23,103.07 210.70,104.00 C212.17,104.93 213.30,105.83 214.60,106.00 C215.90,106.17 217.37,105.82 218.50,105.00 C219.63,104.18 220.53,103.05 221.40,101.10 C222.27,99.15 223.05,96.53 223.70,93.30 C224.35,90.07 224.72,86.23 225.30,81.70 C225.88,77.17 226.55,71.62 227.20,66.10 C227.85,60.58 228.62,54.10 229.20,48.60 C229.78,43.10 230.22,37.97 230.70,33.10 C231.18,28.23 231.62,22.90 232.10,19.40 C232.58,15.90 233.05,13.65 233.60,12.10 C234.15,10.55 234.82,10.10 235.40,10.10 C235.98,10.10 236.52,10.55 237.10,12.10 C237.68,13.65 238.28,15.90 238.90,19.40 C239.52,22.90 240.15,28.23 240.80,33.10 C241.45,37.97 242.15,43.75 242.80,48.60 C243.45,53.45 244.05,58.30 244.70,62.20 C245.35,66.10 245.98,68.92 246.70,72.00 C247.42,75.08 248.20,78.43 249.00,80.70 C249.80,82.97 250.43,84.20 251.50,85.60 C252.57,87.00 253.93,87.82 255.40,89.10 C256.87,90.38 258.83,91.78 260.30,93.30 C261.77,94.82 262.90,96.42 264.20,98.20 C265.50,99.98 266.80,102.60 268.10,104.00 C269.40,105.40 270.77,106.10 272.00,106.60 C273.23,107.10 274.37,107.03 275.50,107.00 C276.63,106.97 277.77,106.93 278.80,106.40 C279.83,105.87 280.82,104.80 281.70,103.80 C282.58,102.80 283.30,101.70 284.10,100.40 C284.90,99.10 285.68,97.70 286.50,96.00 C287.32,94.30 288.27,91.98 289.00,90.20 C289.73,88.42 290.25,86.73 290.90,85.30 C291.55,83.87 292.33,82.37 292.90,81.60 C293.47,80.83 293.77,80.73 294.30,80.70 C294.83,80.67 295.45,80.80 296.10,81.40 C296.75,82.00 297.45,83.00 298.20,84.30 C298.95,85.60 299.78,87.58 300.60,89.20 C301.42,90.82 302.28,92.55 303.10,94.00 C303.92,95.45 304.70,96.92 305.50,97.90 C306.30,98.88 307.08,99.38 307.90,99.90 C308.72,100.42 309.58,100.72 310.40,101.00 C311.22,101.28 311.92,101.43 312.80,101.60 C313.68,101.77 314.73,101.80 315.70,102.00 C316.67,102.20 317.70,102.50 318.60,102.80 C319.50,103.10 320.28,103.45 321.10,103.80 C321.92,104.15 322.77,104.57 323.50,104.90 C324.23,105.23 325.17,105.65 325.50,105.80" fill="none" stroke="#f00" stroke-width="3.5" stroke-linejoin="round" stroke-linecap="round"/>
<path d="M87.90,173.40 C88.13,170.83 88.85,162.40 89.30,158.00 C89.75,153.60 90.10,150.42 90.60,147.00 C91.10,143.58 91.65,140.13 92.30,137.50 C92.95,134.87 93.62,132.72 94.50,131.20 C95.38,129.68 96.58,128.50 97.60,128.40 C98.62,128.30 99.68,129.18 100.60,130.60 C101.52,132.02 102.27,134.33 103.10,136.90 C103.93,139.47 104.77,142.35 105.60,146.00 C106.43,149.65 107.35,153.97 108.10,158.80 C108.85,163.63 109.50,168.93 110.10,175.00 C110.70,181.07 111.17,188.70 111.70,195.20 C112.23,201.70 112.80,207.92 113.30,214.00 C113.80,220.08 114.25,226.12 114.70,231.70 C115.15,237.28 115.60,243.53 116.00,247.50 C116.40,251.47 116.72,255.42 117.10,255.50 C117.48,255.58 117.77,251.92 118.30,248.00 C118.83,244.08 119.73,237.50 120.30,232.00 C120.87,226.50 121.23,219.58 121.70,215.00 C122.17,210.42 122.62,207.25 123.10,204.50 C123.58,201.75 123.98,200.28 124.60,198.50 C125.22,196.72 126.07,194.72 126.80,193.80 C127.53,192.88 128.20,193.05 129.00,193.00 C129.80,192.95 130.63,193.32 131.60,193.50 C132.57,193.68 133.65,194.00 134.80,194.10 C135.95,194.20 137.53,193.90 138.50,194.10 C139.47,194.30 140.00,194.93 140.60,195.30 C141.20,195.67 141.60,196.42 142.10,196.30 C142.60,196.18 143.12,195.72 143.60,194.60 C144.08,193.48 144.52,191.87 145.00,189.60 C145.48,187.33 146.00,184.60 146.50,181.00 C147.00,177.40 147.52,172.67 148.00,168.00 C148.48,163.33 148.88,157.50 149.40,153.00 C149.92,148.50 150.48,144.30 151.10,141.00 C151.72,137.70 152.47,135.10 153.10,133.20 C153.73,131.30 154.27,130.40 154.90,129.60 C155.53,128.80 156.07,128.23 156.90,128.40 C157.73,128.57 158.98,129.18 159.90,130.60 C160.82,132.02 161.57,134.33 162.40,136.90 C163.23,139.47 164.07,142.35 164.90,146.00 C165.73,149.65 166.65,153.97 167.40,158.80 C168.15,163.63 168.80,168.93 169.40,175.00 C170.00,181.07 170.47,188.70 171.00,195.20 C171.53,201.70 172.10,207.92 172.60,214.00 C173.10,220.08 173.55,226.12 174.00,231.70 C174.45,237.28 174.90,243.53 175.30,247.50 C175.70,251.47 176.02,255.42 176.40,255.50 C176.78,255.58 177.07,251.92 177.60,248.00 C178.13,244.08 179.03,237.50 179.60,232.00 C180.17,226.50 180.53,219.58 181.00,215.00 C181.47,210.42 181.92,207.25 182.40,204.50 C182.88,201.75 183.28,200.28 183.90,198.50 C184.52,196.72 185.37,194.72 186.10,193.80 C186.83,192.88 187.50,193.05 188.30,193.00 C189.10,192.95 189.93,193.32 190.90,193.50 C191.87,193.68 192.95,194.00 194.10,194.10 C195.25,194.20 196.83,193.90 197.80,194.10 C198.77,194.30 199.30,194.93 199.90,195.30 C200.50,195.67 200.90,196.42 201.40,196.30 C201.90,196.18 202.42,195.72 202.90,194.60 C203.38,193.48 203.82,191.87 204.30,189.60 C204.78,187.33 205.30,184.60 205.80,181.00 C206.30,177.40 206.82,172.67 207.30,168.00 C207.78,163.33 208.18,157.50 208.70,153.00 C209.22,148.50 209.78,144.30 210.40,141.00 C211.02,137.70 211.77,135.10 212.40,133.20 C213.03,131.30 213.65,130.40 214.20,129.60 C214.75,128.80 214.95,128.23 215.70,128.40 C216.45,128.57 217.78,129.18 218.70,130.60 C219.62,132.02 220.37,134.33 221.20,136.90 C222.03,139.47 222.87,142.35 223.70,146.00 C224.53,149.65 225.45,153.97 226.20,158.80 C226.95,163.63 227.60,168.93 228.20,175.00 C228.80,181.07 229.27,188.70 229.80,195.20 C230.33,201.70 230.90,207.92 231.40,214.00 C231.90,220.08 232.35,226.12 232.80,231.70 C233.25,237.28 233.70,243.53 234.10,247.50 C234.50,251.47 234.82,255.42 235.20,255.50 C235.58,255.58 235.87,251.92 236.40,248.00 C236.93,244.08 237.83,237.50 238.40,232.00 C238.97,226.50 239.33,219.58 239.80,215.00 C240.27,210.42 240.72,207.25 241.20,204.50 C241.68,201.75 242.08,200.28 242.70,198.50 C243.32,196.72 244.17,194.72 244.90,193.80 C245.63,192.88 246.30,193.05 247.10,193.00 C247.90,192.95 248.73,193.32 249.70,193.50 C250.67,193.68 251.75,194.00 252.90,194.10 C254.05,194.20 255.63,193.90 256.60,194.10 C257.57,194.30 258.10,194.93 258.70,195.30 C259.30,195.67 259.70,196.42 260.20,196.30 C260.70,196.18 261.22,195.72 261.70,194.60 C262.18,193.48 262.62,191.87 263.10,189.60 C263.58,187.33 264.10,184.60 264.60,181.00 C265.10,177.40 265.62,172.67 266.10,168.00 C266.58,163.33 266.98,157.50 267.50,153.00 C268.02,148.50 268.58,144.30 269.20,141.00 C269.82,137.70 270.57,135.10 271.20,133.20 C271.83,131.30 272.45,130.40 273.00,129.60 C273.55,128.80 273.75,128.23 274.50,128.40 C275.25,128.57 276.58,129.18 277.50,130.60 C278.42,132.02 279.17,134.33 280.00,136.90 C280.83,139.47 281.67,142.35 282.50,146.00 C283.33,149.65 284.25,153.97 285.00,158.80 C285.75,163.63 286.40,168.93 287.00,175.00 C287.60,181.07 288.07,188.70 288.60,195.20 C289.13,201.70 289.70,207.92 290.20,214.00 C290.70,220.08 291.15,226.12 291.60,231.70 C292.05,237.28 292.50,243.53 292.90,247.50 C293.30,251.47 293.60,255.50 294.00,255.50 C294.40,255.50 294.70,251.43 295.30,247.50 C295.90,243.57 296.97,236.15 297.60,231.90 C298.23,227.65 298.62,225.32 299.10,222.00 C299.58,218.68 299.92,215.23 300.50,212.00 C301.08,208.77 301.72,205.03 302.60,202.60 C303.48,200.17 304.82,198.62 305.80,197.40 C306.78,196.18 307.63,195.83 308.50,195.30 C309.37,194.77 309.97,194.55 311.00,194.20 C312.03,193.85 313.63,193.12 314.70,193.20 C315.77,193.28 316.43,193.83 317.40,194.70 C318.37,195.57 319.80,198.18 320.50,198.40 C321.20,198.62 321.32,197.57 321.60,196.00 C321.88,194.43 322.02,191.42 322.20,189.00 C322.38,186.58 322.50,183.67 322.70,181.50 C322.90,179.33 323.10,177.92 323.40,176.00 C323.70,174.08 324.32,171.00 324.50,170.00" fill="none" stroke="#000" stroke-width="3.6" stroke-linejoin="round" stroke-linecap="round"/>
<line x1="87.6" y1="116.6" x2="325.2" y2="116.6" stroke="#000" stroke-width="3.2" stroke-dasharray="14.8 7.28"/>
</g>
<line x1="311.05" y1="156.3" x2="311.05" y2="180" stroke="#000" stroke-width="2.2"/>
<path d="M305.8,177.4 L316.3,177.4 L311.05,187.2 Z" fill="#000"/>
<line x1="427.4" y1="148.6" x2="665.2" y2="148.6" stroke="rgb(222,22,44)" stroke-opacity="0.72" stroke-width="4" stroke-dasharray="15.0 7.0"/>
<rect x="87.6" y="2.2" width="237.6" height="262.0" fill="none" stroke="#000" stroke-width="2.9"/>
<rect x="427.4" y="2.2" width="237.8" height="262.0" fill="none" stroke="#000" stroke-width="2.9"/>
<rect x="87.6" y="316.5" width="237.6" height="262.1" fill="none" stroke="#000" stroke-width="2.9"/>
<rect x="427.4" y="316.5" width="237.8" height="262.1" fill="none" stroke="#000" stroke-width="2.9"/>
<line x1="77.3" y1="8.9" x2="87.6" y2="8.9" stroke="#f00" stroke-width="2.9" stroke-linecap="round"/>
<line x1="77.3" y1="109" x2="87.6" y2="109" stroke="#f00" stroke-width="2.9" stroke-linecap="round"/>
<line x1="77.3" y1="146.8" x2="87.6" y2="146.8" stroke="#000" stroke-width="2.9" stroke-linecap="round"/>
<line x1="77.3" y1="196.3" x2="87.6" y2="196.3" stroke="#000" stroke-width="2.9" stroke-linecap="round"/>
<line x1="77.3" y1="246.5" x2="87.6" y2="246.5" stroke="#000" stroke-width="2.9" stroke-linecap="round"/>
<line x1="87.6" y1="264.2" x2="87.6" y2="274.2" stroke="#000" stroke-width="2.9" stroke-linecap="round"/>
<line x1="325.2" y1="264.2" x2="325.2" y2="274.2" stroke="#000" stroke-width="2.9" stroke-linecap="round"/>
<line x1="427.4" y1="264.2" x2="427.4" y2="274.2" stroke="#000" stroke-width="2.9" stroke-linecap="round"/>
<line x1="665.2" y1="264.2" x2="665.2" y2="274.2" stroke="#000" stroke-width="2.9" stroke-linecap="round"/>
<line x1="417.1" y1="264.2" x2="427.4" y2="264.2" stroke="#000" stroke-width="2.9" stroke-linecap="round"/>
<line x1="417.1" y1="35.89999999999998" x2="427.4" y2="35.89999999999998" stroke="#000" stroke-width="2.9" stroke-linecap="round"/>
<line x1="87.6" y1="578.6" x2="87.6" y2="588.6" stroke="#000" stroke-width="2.9" stroke-linecap="round"/>
<line x1="325.2" y1="578.6" x2="325.2" y2="588.6" stroke="#000" stroke-width="2.9" stroke-linecap="round"/>
<line x1="77.3" y1="578.6" x2="87.6" y2="578.6" stroke="#000" stroke-width="2.9" stroke-linecap="round"/>
<line x1="77.3" y1="350.3" x2="87.6" y2="350.3" stroke="#000" stroke-width="2.9" stroke-linecap="round"/>
<line x1="427.4" y1="578.6" x2="427.4" y2="588.6" stroke="#000" stroke-width="2.9" stroke-linecap="round"/>
<line x1="665.2" y1="578.6" x2="665.2" y2="588.6" stroke="#000" stroke-width="2.9" stroke-linecap="round"/>
<line x1="417.1" y1="578.6" x2="427.4" y2="578.6" stroke="#000" stroke-width="2.9" stroke-linecap="round"/>
<line x1="417.1" y1="350.3" x2="427.4" y2="350.3" stroke="#000" stroke-width="2.9" stroke-linecap="round"/>
<g opacity="0.999" stroke="#fff" stroke-width="0.4">
<text x="-1.25" y="22.95" font-size="30.62" fill="#000" textLength="33.50" lengthAdjust="spacingAndGlyphs">(a)</text>
<text x="338.25" y="23.00" font-size="30.78" fill="#000" textLength="34.80" lengthAdjust="spacingAndGlyphs">(b)</text>
<text x="-1.12" y="337.30" font-size="30.78" fill="#000" textLength="31.95" lengthAdjust="spacingAndGlyphs">(c)</text>
<text x="338.25" y="337.30" font-size="30.78" fill="#000" textLength="34.80" lengthAdjust="spacingAndGlyphs">(d)</text>
<text x="59.27" y="19.05" font-size="29.00" fill="#f00">1</text>
<text x="59.10" y="118.95" font-size="29.00" fill="#f00" textLength="14.80" lengthAdjust="spacingAndGlyphs">0</text>
<text transform="translate(64.60,71.50) rotate(-90)" font-size="30.82" fill="#f00" textLength="34.40" lengthAdjust="spacingAndGlyphs">|<tspan font-style="italic">ψ</tspan>|</text>
<text x="45.20" y="156.75" font-size="29.00" fill="#000">10</text>
<text x="59.10" y="205.65" font-size="29.00" fill="#000" textLength="14.80" lengthAdjust="spacingAndGlyphs">0</text>
<text x="45.10" y="256.75" font-size="29.00" fill="#000">10</text>
<text transform="translate(21.60,261.00) rotate(-90)" font-size="29.74" fill="#000" textLength="18.50" lengthAdjust="spacingAndGlyphs"><tspan font-style="italic">V</tspan></text>
<text transform="translate(25.05,243.70) rotate(-90)" font-size="21.04" fill="#000" textLength="26.90" lengthAdjust="spacingAndGlyphs">tot</text>
<text transform="translate(21.48,203.07) rotate(-90)" font-size="29.89" fill="#000" textLength="76.40" lengthAdjust="spacingAndGlyphs">(meV)</text>
<text x="79.28" y="298.25" font-size="29.74" fill="#000" textLength="16.60" lengthAdjust="spacingAndGlyphs">0</text>
<text x="302.93" y="297.55" font-size="29.00" fill="#000" textLength="42.80" lengthAdjust="spacingAndGlyphs">100</text>
<text x="163.12" y="299.50" font-size="31.68" fill="#000" textLength="86.25" lengthAdjust="spacingAndGlyphs">x (nm)</text>
<text x="419.08" y="298.25" font-size="29.74" fill="#000" textLength="16.60" lengthAdjust="spacingAndGlyphs">0</text>
<text x="642.73" y="297.55" font-size="29.00" fill="#000" textLength="42.80" lengthAdjust="spacingAndGlyphs">100</text>
<text x="502.93" y="299.50" font-size="31.68" fill="#000" textLength="86.25" lengthAdjust="spacingAndGlyphs">x (nm)</text>
<text x="79.28" y="612.55" font-size="29.74" fill="#000" textLength="16.60" lengthAdjust="spacingAndGlyphs">0</text>
<text x="302.93" y="611.85" font-size="29.00" fill="#000" textLength="42.80" lengthAdjust="spacingAndGlyphs">100</text>
<text x="163.12" y="613.80" font-size="31.68" fill="#000" textLength="86.25" lengthAdjust="spacingAndGlyphs">x (nm)</text>
<text x="419.08" y="612.55" font-size="29.74" fill="#000" textLength="16.60" lengthAdjust="spacingAndGlyphs">0</text>
<text x="642.73" y="611.85" font-size="29.00" fill="#000" textLength="42.80" lengthAdjust="spacingAndGlyphs">100</text>
<text x="502.93" y="613.80" font-size="31.68" fill="#000" textLength="86.25" lengthAdjust="spacingAndGlyphs">x (nm)</text>
<text x="370.38" y="46.15" font-size="29.00" fill="#000">100</text>
<text x="398.60" y="273.95" font-size="29.00" fill="#000" textLength="15.20" lengthAdjust="spacingAndGlyphs">0</text>
<text transform="translate(392.95,175.75) rotate(-90)" font-size="31.71" fill="#000" textLength="85.90" lengthAdjust="spacingAndGlyphs">y (nm)</text>
<text x="30.83" y="360.35" font-size="29.00" fill="#000" textLength="42.95" lengthAdjust="spacingAndGlyphs">100</text>
<text x="58.80" y="588.15" font-size="29.00" fill="#000" textLength="15.20" lengthAdjust="spacingAndGlyphs">0</text>
<text transform="translate(53.15,489.95) rotate(-90)" font-size="31.71" fill="#000" textLength="85.90" lengthAdjust="spacingAndGlyphs">y (nm)</text>
<text x="370.38" y="360.35" font-size="29.00" fill="#000">100</text>
<text x="398.60" y="588.15" font-size="29.00" fill="#000" textLength="15.20" lengthAdjust="spacingAndGlyphs">0</text>
<text transform="translate(392.95,489.95) rotate(-90)" font-size="31.71" fill="#000" textLength="85.90" lengthAdjust="spacingAndGlyphs">y (nm)</text>
</g>
<rect x="25.7" y="248.3" width="17.2" height="1.9" fill="#000"/>
<defs><linearGradient id="vir" x1="0" x2="1" y1="0" y2="0">
<stop offset="0.000" stop-color="rgb(68, 1, 84)"/>
<stop offset="0.111" stop-color="rgb(72, 40, 120)"/>
<stop offset="0.222" stop-color="rgb(62, 74, 137)"/>
<stop offset="0.333" stop-color="rgb(49, 104, 142)"/>
<stop offset="0.444" stop-color="rgb(38, 130, 142)"/>
<stop offset="0.556" stop-color="rgb(31, 158, 137)"/>
<stop offset="0.667" stop-color="rgb(53, 183, 121)"/>
<stop offset="0.778" stop-color="rgb(110, 206, 88)"/>
<stop offset="0.889" stop-color="rgb(181, 222, 43)"/>
<stop offset="1.000" stop-color="rgb(253, 231, 37)"/>
</linearGradient></defs>
<rect x="482" y="41.1" width="128.4" height="12" fill="url(#vir)" stroke="#fff" stroke-width="2.7"/>
<g opacity="0.999">
<text x="456.20" y="55.00" font-size="26.00" fill="#fff" textLength="14.35" lengthAdjust="spacingAndGlyphs">0</text>
<text x="620.90" y="55.50" font-size="27.58" fill="#fff" textLength="14.90" lengthAdjust="spacingAndGlyphs">1</text>
<text x="481.95" y="28.85" font-size="27.11" fill="#fff" textLength="32.30" lengthAdjust="spacingAndGlyphs">|<tspan font-style="italic">ψ</tspan>|</text>
<text x="522.88" y="28.85" font-size="27.11" fill="#fff" textLength="84.10" lengthAdjust="spacingAndGlyphs">(arb.u.)</text>
</g>
</svg></body></html>
